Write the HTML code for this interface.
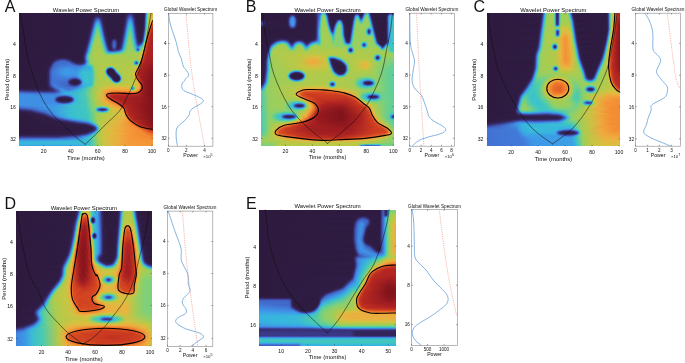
<!DOCTYPE html>
<html><head><meta charset="utf-8"><title>Wavelet Power Spectrum</title>
<style>
html,body{margin:0;padding:0;background:#fff;overflow:hidden}
#w{position:relative;width:685px;height:363px;overflow:hidden}
svg{display:block;position:absolute;left:0;top:0}
.h{position:absolute}
.h i{display:block;height:1px}
text{font-family:'Liberation Sans', Arial, Helvetica, sans-serif;fill:#111}
</style></head><body>
<div id="w"><div class="h" style="left:19px;top:13px;width:134px"><i style="background:linear-gradient(90deg,#2e1a3e 0,#2f1c43 106.5px,#383177 111.5px,#2f1c42 116.5px,#2f1c43 124.5px,#332457 125.5px,#3d489f 126.5px,#3ba4e5 127.5px,#6bcf8d 128.5px,#a7cc51 129.5px,#d4c141 131.5px,#e1b940 134px)"></i><i style="background:linear-gradient(90deg,#2e1a3e 0,#2f1d45 76.5px,#2f1d46 106.5px,#3b3987 110.5px,#3a3683 112.5px,#311f4c 115.5px,#2e1a3e 121.5px,#2f1c44 124.5px,#332458 125.5px,#3e4ba4 126.5px,#39a8e3 127.5px,#6ed08a 128.5px,#a8cc50 129.5px,#d3c141 131.5px,#debb40 134px)"></i><i style="background:linear-gradient(90deg,#2e1a3e 0,#2f1c42 74.5px,#322356 79.5px,#2e1a3e 86.5px,#2f1c42 105.5px,#332459 107.5px,#3d479e 110.5px,#3e4aa3 111.5px,#3a3480 113.5px,#312151 115.5px,#2e1a3e 119.5px,#2f1c44 124.5px,#33255b 125.5px,#3f4fab 126.5px,#38ade2 127.5px,#72d086 128.5px,#a9cc50 129.5px,#d2c241 131.5px,#dbbe40 134px)"></i><i style="background:linear-gradient(90deg,#2e1a3e 0,#2f1d46 74.5px,#362c6d 78.5px,#2e1b40 84.5px,#2f1c44 105.5px,#342861 107.5px,#4057b7 110.5px,#405aba 111.5px,#3c3e90 113.5px,#322356 115.5px,#2e1a3f 118.5px,#2f1d44 124.5px,#34265d 125.5px,#3f54b2 126.5px,#36b2e0 127.5px,#76d082 128.5px,#aacc4f 129.5px,#d1c241 131.5px,#d9bf40 134px)"></i><i style="background:linear-gradient(90deg,#2e1a3e 0,#2f1c43 73.5px,#372d6e 76.5px,#3b3a8a 78.5px,#393179 80.5px,#301e47 83.5px,#2e1b40 104.5px,#322252 106.5px,#4055b4 109.5px,#416aca 111.5px,#405fbf 112.5px,#33265c 115.5px,#2f1c42 117.5px,#2f1d45 124.5px,#342760 125.5px,#4059b9 126.5px,#37b6dd 127.5px,#79d07f 128.5px,#abcb4e 129.5px,#d2c241 131.5px,#d9bf40 134px)"></i><i style="background:linear-gradient(90deg,#2e1a3e 0,#301d46 73.5px,#362b68 75.5px,#3d479d 77.5px,#3f4fab 78.5px,#3c4093 80.5px,#311f4c 83.5px,#2e1a3e 89.5px,#301e47 105.5px,#383075 107.5px,#4162c2 109.5px,#4279d8 111.5px,#3f53b1 113.5px,#352862 115.5px,#2f1c43 117.5px,#2f1d46 124.5px,#352862 125.5px,#405dbd 126.5px,#38b9d9 127.5px,#7dd07b 128.5px,#accb4e 129.5px,#d3c141 131.5px,#dbbd40 134px)"></i><i style="background:linear-gradient(90deg,#2e1a3e 0,#2f1c42 72.5px,#33265c 74.5px,#405bbb 77.5px,#4162c2 79.5px,#3b3c8c 81.5px,#322252 83.5px,#2e1a3e 87.5px,#2f1b42 104.5px,#34265c 106.5px,#3f51ad 108.5px,#416ece 109.5px,#4184de 110.5px,#4088e0 111.5px,#4279d8 112.5px,#405ebe 113.5px,#362b69 115.5px,#2f1c44 117.5px,#301d46 124.5px,#352965 125.5px,#4161c1 126.5px,#39bcd4 127.5px,#80d078 128.5px,#aecb4d 129.5px,#d7c040 131.5px,#e2b840 134px)"></i><i style="background:linear-gradient(90deg,#2e1a3e 0,#2f1c44 72.5px,#352a66 74.5px,#4057b6 76.5px,#427bda 78.5px,#4277d7 79.5px,#4164c4 80.5px,#383177 82.5px,#301e48 84.5px,#2e1a3e 100.5px,#31204c 105.5px,#352862 106.5px,#405aba 108.5px,#427ad9 109.5px,#3f92e5 110.5px,#3e96e7 111.5px,#4167c7 113.5px,#372e70 115.5px,#2f1d45 117.5px,#2e1b40 123.5px,#301e47 124.5px,#362b68 125.5px,#4165c5 126.5px,#3abfd0 127.5px,#84d074 128.5px,#afcb4c 129.5px,#e6b540 132.5px,#edac3f 134px)"></i><i style="background:linear-gradient(90deg,#2e1a3e 0,#2f1d46 72.5px,#372e72 74.5px,#4166c6 76.5px,#3f91e5 78.5px,#408ce2 79.5px,#4275d5 80.5px,#3b3785 82.5px,#342760 83.5px,#2f1c42 85.5px,#2f1c44 104.5px,#362b69 106.5px,#4164c4 108.5px,#4087df 109.5px,#3c9fe6 110.5px,#3ba3e5 111.5px,#3f92e5 112.5px,#4270d0 113.5px,#383077 115.5px,#322356 116.5px,#2e1a3f 119.5px,#301e48 124.5px,#362c6b 125.5px,#416aca 126.5px,#3bc2cc 127.5px,#88d070 128.5px,#b2ca4a 129.5px,#e3b740 131.5px,#f49537 134px)"></i><i style="background:linear-gradient(90deg,#2e1a3e 0,#2f1b41 71.5px,#33255b 73.5px,#3a347f 74.5px,#4276d6 76.5px,#3e96e7 77.5px,#3aa4e4 78.5px,#3c9fe6 79.5px,#4085df 80.5px,#4162c2 81.5px,#362a68 83.5px,#2f1c44 85.5px,#2f1d45 104.5px,#322253 105.5px,#372e70 106.5px,#416dcd 108.5px,#3f93e5 109.5px,#39abe3 110.5px,#38aee2 111.5px,#3d9de7 112.5px,#4279d9 113.5px,#3a337e 115.5px,#33255a 116.5px,#2f1b41 118.5px,#301e49 124.5px,#372d6f 125.5px,#416ece 126.5px,#3dc4c7 127.5px,#8cd06c 128.5px,#b4ca49 129.5px,#ecb040 131.5px,#ee762b 134px)"></i><i style="background:linear-gradient(90deg,#2e1a3e 0,#2f1c43 71.5px,#352863 73.5px,#3b3b8b 74.5px,#405fbf 75.5px,#4086df 76.5px,#3aa6e4 77.5px,#36b5df 78.5px,#37afe1 79.5px,#3e95e7 80.5px,#416ece 81.5px,#372e71 83.5px,#322253 84.5px,#2e1a3f 87.5px,#301d47 104.5px,#322457 105.5px,#393178 106.5px,#4277d7 108.5px,#3c9ee6 109.5px,#36b5de 110.5px,#37b7db 111.5px,#3aa6e4 112.5px,#4182dd 113.5px,#405aba 114.5px,#3a3785 115.5px,#34265d 116.5px,#2f1b42 118.5px,#2f1b41 123.5px,#301f4a 124.5px,#372f72 125.5px,#4272d2 126.5px,#40c6c1 127.5px,#90d068 128.5px,#b8c947 129.5px,#dcbd40 130.5px,#f0a53c 131.5px,#f1812f 132.5px,#e05924 134px)"></i><i style="background:linear-gradient(90deg,#2e1a3e 0,#2f1c44 71.5px,#362c6c 73.5px,#416bcb 75.5px,#3e95e7 76.5px,#36b5de 77.5px,#3abed1 78.5px,#38bad7 79.5px,#3ba3e5 80.5px,#427ad9 81.5px,#39327b 83.5px,#332458 84.5px,#2f1b41 86.5px,#2f1b41 103.5px,#33255b 105.5px,#3a3581 106.5px,#4057b7 107.5px,#4181dc 108.5px,#39a8e3 109.5px,#39bcd5 110.5px,#39bdd2 111.5px,#37b0e1 112.5px,#408be2 113.5px,#4160c0 114.5px,#3b3b8b 115.5px,#342862 116.5px,#2f1c42 118.5px,#2f1b41 123.5px,#301f4b 124.5px,#383076 125.5px,#4277d7 126.5px,#44c7bb 127.5px,#94cf64 128.5px,#bcc844 129.5px,#e2b840 130.5px,#f49938 131.5px,#d44622 134px)"></i><i style="background:linear-gradient(90deg,#2e1a3e 0,#301d46 71.5px,#322356 72.5px,#383076 73.5px,#4277d7 75.5px,#3ba3e5 76.5px,#3abed2 77.5px,#3fc5c3 78.5px,#37b0e1 80.5px,#4086df 81.5px,#405bbb 82.5px,#3b3785 83.5px,#34275e 84.5px,#2f1b42 86.5px,#2f1c42 103.5px,#342760 105.5px,#3b3a89 106.5px,#405fbf 107.5px,#408ae1 108.5px,#37b2e1 109.5px,#3bc1cc 110.5px,#3cc3ca 111.5px,#37b7dc 112.5px,#3f94e6 113.5px,#4167c7 114.5px,#3c4093 115.5px,#352a66 116.5px,#2f1c43 118.5px,#2f1b42 123.5px,#31204c 124.5px,#393179 125.5px,#427cda 126.5px,#48c9b5 127.5px,#98cf60 128.5px,#c2c643 129.5px,#e9b240 130.5px,#f28c33 131.5px,#cb3920 134px)"></i><i style="background:linear-gradient(90deg,#2e1a3e 0,#2f1b41 70.5px,#33265c 72.5px,#3a3582 73.5px,#4059b8 74.5px,#4184de 75.5px,#37b0e1 76.5px,#3ec5c5 77.5px,#49c9b3 78.5px,#43c7bd 79.5px,#38b9d9 80.5px,#3f93e5 81.5px,#4165c5 82.5px,#3c3e90 83.5px,#352964 84.5px,#2f1c43 86.5px,#2f1c43 103.5px,#352a66 105.5px,#3c3f92 106.5px,#4166c6 107.5px,#3e94e6 108.5px,#38b8d9 109.5px,#40c5c2 110.5px,#41c6c0 111.5px,#39bcd4 112.5px,#3d9ce7 113.5px,#416ece 114.5px,#362c6c 116.5px,#2f1c44 118.5px,#2f1c42 123.5px,#31204e 124.5px,#3a337e 125.5px,#4181dc 126.5px,#4dcbad 127.5px,#9dce5b 128.5px,#cac442 129.5px,#eeaa3e 130.5px,#f17e2e 131.5px,#da4f23 132.5px,#c33321 134px)"></i><i style="background:linear-gradient(90deg,#2e1a3e 0,#2f1c43 70.5px,#352963 72.5px,#3b3d8e 73.5px,#4163c3 74.5px,#3f91e5 75.5px,#38b9d8 76.5px,#47c8b7 77.5px,#53cca5 78.5px,#4ccaaf 79.5px,#3abfcf 80.5px,#3c9ee6 81.5px,#416ece 82.5px,#362c6c 84.5px,#2f1c44 86.5px,#2f1c44 103.5px,#362c6c 105.5px,#416ece 107.5px,#3c9de6 108.5px,#3abed1 109.5px,#46c8b8 110.5px,#47c9b6 111.5px,#3bc0cd 112.5px,#3ba3e5 113.5px,#4275d5 114.5px,#372e71 116.5px,#322253 117.5px,#2e1a3e 120.5px,#2f1c42 123.5px,#31214f 124.5px,#3a3683 125.5px,#4087df 126.5px,#52cca6 127.5px,#a3cd55 128.5px,#d3c141 129.5px,#f1a03b 130.5px,#eb6f29 131.5px,#d24321 132.5px,#bd2d21 134px)"></i><i style="background:linear-gradient(90deg,#2e1a3e 0,#2f1c44 70.5px,#362c6c 72.5px,#416ece 74.5px,#3c9ee6 75.5px,#3bc0ce 76.5px,#4fcca9 77.5px,#5fce99 78.5px,#55cda3 79.5px,#3ec5c5 80.5px,#39a9e3 81.5px,#4279d8 82.5px,#383075 84.5px,#322355 85.5px,#2e1a3f 88.5px,#2f1d45 103.5px,#322354 104.5px,#382f73 105.5px,#4277d7 107.5px,#3aa6e4 108.5px,#3cc3ca 109.5px,#4ccbae 110.5px,#4dcbac 111.5px,#3dc4c6 112.5px,#39abe3 113.5px,#427cda 114.5px,#383177 116.5px,#322356 117.5px,#2e1a3f 120.5px,#2f1c43 123.5px,#322252 124.5px,#3b3988 125.5px,#3f8de3 126.5px,#5bcd9d 127.5px,#aacc4f 128.5px,#dcbd40 129.5px,#f39436 130.5px,#cb3920 132.5px,#b82922 134px)"></i><i style="background:linear-gradient(90deg,#2e1a3e 0,#301d46 70.5px,#322356 71.5px,#383076 72.5px,#427ad9 74.5px,#39aae3 75.5px,#40c6c2 76.5px,#5bcd9d 77.5px,#6acf8e 78.5px,#60ce98 79.5px,#36b3e0 81.5px,#4183de 82.5px,#3a347f 84.5px,#33255a 85.5px,#2f1b41 87.5px,#301e47 103.5px,#332458 104.5px,#39327b 105.5px,#417fdc 107.5px,#38afe2 108.5px,#41c6c0 109.5px,#53cca5 110.5px,#54cda4 111.5px,#37b2e1 113.5px,#4183dd 114.5px,#3a337e 116.5px,#332559 117.5px,#2f1b41 119.5px,#2f1c44 123.5px,#322355 124.5px,#3c3f91 125.5px,#3e96e7 126.5px,#65cf93 127.5px,#b1ca4b 128.5px,#e5b540 129.5px,#f18530 130.5px,#dc5223 131.5px,#c43321 132.5px,#b42622 134px)"></i><i style="background:linear-gradient(90deg,#2e1a3e 0,#2f1b41 69.5px,#33265c 71.5px,#3a3582 72.5px,#4059b9 73.5px,#4086df 74.5px,#36b5de 75.5px,#66cf92 77.5px,#74d084 78.5px,#6bcf8d 79.5px,#38bad8 81.5px,#3f8ee3 82.5px,#405fbf 83.5px,#3b3a89 84.5px,#342760 85.5px,#2f1c42 87.5px,#2f1b41 102.5px,#33265c 104.5px,#3a3683 105.5px,#405bbb 106.5px,#4088e0 107.5px,#37b6dd 108.5px,#5ccd9c 110.5px,#5cce9c 111.5px,#37b7dc 113.5px,#408ae1 114.5px,#405bbb 115.5px,#3a3684 116.5px,#34265c 117.5px,#2f1b41 119.5px,#2f1d45 123.5px,#332559 124.5px,#3d479d 125.5px,#3ba1e5 126.5px,#72d086 127.5px,#b9c946 128.5px,#edac3f 129.5px,#ee762b 130.5px,#d44622 131.5px,#b12522 134px)"></i><i style="background:linear-gradient(90deg,#2e1a3e 0,#2f1c43 69.5px,#352963 71.5px,#3b3d8e 72.5px,#4163c3 73.5px,#3f93e6 74.5px,#39bcd4 75.5px,#70d088 77.5px,#7dd07b 78.5px,#74d084 79.5px,#3ac0cf 81.5px,#3e9ae8 82.5px,#4169c9 83.5px,#3c4194 84.5px,#352a67 85.5px,#2f1c43 87.5px,#2f1c42 102.5px,#342861 104.5px,#3b3b8b 105.5px,#4162c2 106.5px,#3f91e5 107.5px,#39bbd6 108.5px,#64ce94 110.5px,#64cf94 111.5px,#39bbd6 113.5px,#3f91e4 114.5px,#4161c1 115.5px,#3b3b8a 116.5px,#342760 117.5px,#2f1c42 119.5px,#301d46 123.5px,#34275f 124.5px,#3f51ad 125.5px,#37afe1 126.5px,#81d077 127.5px,#c6c543 128.5px,#f29f3a 129.5px,#cc3b20 131.5px,#ae2422 134px)"></i><i style="background:linear-gradient(90deg,#2e1a3e 0,#2f1c44 69.5px,#362c6c 71.5px,#416fcf 73.5px,#3ca0e6 74.5px,#3cc3ca 75.5px,#7ad07e 77.5px,#85d073 78.5px,#7cd07c 79.5px,#60ce98 80.5px,#3ec5c5 81.5px,#3aa4e4 82.5px,#4273d3 83.5px,#372d6f 85.5px,#322252 86.5px,#2e1a3e 89.5px,#2f1c43 102.5px,#352a67 104.5px,#3c4194 105.5px,#4169c9 106.5px,#3d9ae7 107.5px,#3ac0cf 108.5px,#53cca5 109.5px,#6bcf8d 110.5px,#6bcf8d 111.5px,#52cca7 112.5px,#3abed0 113.5px,#3e98e8 114.5px,#4167c7 115.5px,#3c3f91 116.5px,#352965 117.5px,#2f1c43 119.5px,#301e48 123.5px,#352a67 124.5px,#405dbd 125.5px,#38bad7 126.5px,#92d066 127.5px,#d6c140 128.5px,#f39035 129.5px,#de5624 130.5px,#c53421 131.5px,#ac2321 134px)"></i><i style="background:linear-gradient(90deg,#2e1a3e 0,#301d46 69.5px,#322356 70.5px,#383077 71.5px,#427bd9 73.5px,#38ace2 74.5px,#43c7bc 75.5px,#82d076 77.5px,#8cd06c 78.5px,#84d074 79.5px,#6acf8e 80.5px,#46c8b8 81.5px,#37b0e1 82.5px,#417edb 83.5px,#393179 85.5px,#322456 86.5px,#2e1a3f 89.5px,#2f1c44 102.5px,#312151 103.5px,#372d6e 104.5px,#4271d1 106.5px,#3ba2e5 107.5px,#3cc4c8 108.5px,#5bcd9d 109.5px,#72d086 110.5px,#71d087 111.5px,#58cda0 112.5px,#3bc2cb 113.5px,#3c9fe6 114.5px,#416dcd 115.5px,#3d4498 116.5px,#362b6a 117.5px,#2f1c44 119.5px,#2f1b41 122.5px,#301f4b 123.5px,#372d6f 124.5px,#4169c9 125.5px,#3cc4c8 126.5px,#a0cd58 127.5px,#e3b840 128.5px,#f1802e 129.5px,#d64922 130.5px,#b12522 132.5px,#ab2221 134px)"></i><i style="background:linear-gradient(90deg,#2e1a3e 0,#2f1b41 68.5px,#33265c 70.5px,#3a3682 71.5px,#405aba 72.5px,#4088e0 73.5px,#37b7dc 74.5px,#4ccaaf 75.5px,#8ad06e 77.5px,#8bd06d 79.5px,#74d084 80.5px,#4ecbac 81.5px,#38b8da 82.5px,#408ae1 83.5px,#405bbb 84.5px,#3a3683 85.5px,#33265c 86.5px,#2f1b41 88.5px,#2f1d46 102.5px,#322354 103.5px,#383075 104.5px,#4279d9 106.5px,#39abe3 107.5px,#42c6bf 108.5px,#62ce96 109.5px,#78d080 110.5px,#77d081 111.5px,#5ece9a 112.5px,#3ec5c4 113.5px,#3aa5e4 114.5px,#4274d4 115.5px,#372d6f 117.5px,#322252 118.5px,#2e1a3f 121.5px,#31204e 123.5px,#393179 124.5px,#4276d6 125.5px,#48c9b4 126.5px,#aecb4c 127.5px,#edad3f 128.5px,#eb6e29 129.5px,#ce3e20 130.5px,#af2422 132.5px,#aa2221 134px)"></i><i style="background:linear-gradient(90deg,#2e1a3e 0,#2f1c43 68.5px,#352963 70.5px,#3c3d8e 71.5px,#4164c4 72.5px,#3e96e7 73.5px,#3abed1 74.5px,#7cd07c 76.5px,#97cf61 78.5px,#7dd07b 80.5px,#3abfcf 82.5px,#3e96e7 83.5px,#4164c4 84.5px,#3b3d8e 85.5px,#352862 86.5px,#2f1c42 88.5px,#2f1b41 101.5px,#332459 103.5px,#39337d 104.5px,#4182dd 106.5px,#36b3e0 107.5px,#47c9b6 108.5px,#69cf8f 109.5px,#7dd07b 110.5px,#7cd07c 111.5px,#65cf93 112.5px,#43c7bd 113.5px,#38ace2 114.5px,#427ad9 115.5px,#383076 117.5px,#322355 118.5px,#2e1b40 121.5px,#312251 123.5px,#3a3784 124.5px,#4085de 125.5px,#59cd9f 126.5px,#bac845 127.5px,#f29f3a 128.5px,#e35e25 129.5px,#c73620 130.5px,#ad2321 132.5px,#aa2221 134px)"></i><i style="background:linear-gradient(90deg,#2e1a3e 0,#2f1c44 68.5px,#362c6c 70.5px,#3d469c 71.5px,#4270d0 72.5px,#3ba3e5 73.5px,#3ec5c5 74.5px,#86d072 76.5px,#9bce5d 78.5px,#86d072 80.5px,#3ec5c4 82.5px,#3ba2e5 83.5px,#416fcf 84.5px,#3d449a 85.5px,#362b6a 86.5px,#2f1c44 88.5px,#2f1b42 101.5px,#34265d 103.5px,#3b3785 104.5px,#405cbc 105.5px,#408be2 106.5px,#38b8da 107.5px,#70d088 109.5px,#82d076 110.5px,#81d077 111.5px,#6acf8e 112.5px,#48c9b6 113.5px,#36b3e0 114.5px,#4182dd 115.5px,#39337d 117.5px,#332458 118.5px,#2f1b41 120.5px,#2f1c44 122.5px,#322355 123.5px,#3c3e90 124.5px,#3e94e6 125.5px,#6ed08a 126.5px,#cbc442 127.5px,#f39035 128.5px,#db5123 129.5px,#c13121 130.5px,#a92121 134px)"></i><i style="background:linear-gradient(90deg,#2e1a3e 0,#301d46 68.5px,#322356 69.5px,#383077 70.5px,#417dda 72.5px,#37b0e1 73.5px,#47c8b6 74.5px,#8ed06a 76.5px,#9ece5a 78.5px,#8fd069 80.5px,#47c8b7 82.5px,#38aee2 83.5px,#427ad9 84.5px,#382f73 86.5px,#322253 87.5px,#2e1a3f 90.5px,#2f1c42 101.5px,#352963 103.5px,#3c3d8e 104.5px,#4164c4 105.5px,#3e95e6 106.5px,#39bdd2 107.5px,#76d082 109.5px,#87d071 110.5px,#85d073 111.5px,#70d088 112.5px,#37b8da 114.5px,#408ae1 115.5px,#405bbb 116.5px,#3a3784 117.5px,#34265d 118.5px,#2f1b42 120.5px,#2f1d46 122.5px,#33255b 123.5px,#3d479d 124.5px,#3ba4e5 125.5px,#84d074 126.5px,#dbbd40 127.5px,#f1802e 128.5px,#d44622 129.5px,#bc2d21 130.5px,#a92121 134px)"></i><i style="background:linear-gradient(90deg,#2e1a3e 0,#2f1b41 67.5px,#33265c 69.5px,#3a3683 70.5px,#405bbb 71.5px,#408ae1 72.5px,#38b9d9 73.5px,#50cca8 74.5px,#7bd07d 75.5px,#9fce59 77.5px,#95cf63 80.5px,#7ad07e 81.5px,#4fcca9 82.5px,#37b7db 83.5px,#4086df 84.5px,#3a337d 86.5px,#332459 87.5px,#2f1b41 89.5px,#301e48 93.5px,#322252 95.5px,#2e1b40 100.5px,#31214f 102.5px,#362b6a 103.5px,#3d4498 104.5px,#416ccc 105.5px,#3c9ee6 106.5px,#3bc2cb 107.5px,#7cd07c 109.5px,#8bd06d 110.5px,#89d06f 111.5px,#76d082 112.5px,#39bcd4 114.5px,#3f93e5 115.5px,#4162c2 116.5px,#3b3c8c 117.5px,#352862 118.5px,#2f1c43 120.5px,#301e48 122.5px,#342861 123.5px,#3f51ad 124.5px,#36b4e0 125.5px,#98cf60 126.5px,#e8b340 127.5px,#eb702a 128.5px,#cd3c20 129.5px,#ae2322 131.5px,#a92121 134px)"></i><i style="background:linear-gradient(90deg,#2e1a3e 0,#2f1c43 67.5px,#352964 69.5px,#3c3e8f 70.5px,#4165c5 71.5px,#3e98e8 72.5px,#3bc0cd 73.5px,#84d074 75.5px,#a2cd56 77.5px,#99ce5f 80.5px,#84d074 81.5px,#3abed0 83.5px,#3f93e5 84.5px,#4160c0 85.5px,#3b3988 86.5px,#34275f 87.5px,#2f1b42 89.5px,#301e47 92.5px,#372d6e 94.5px,#382f74 95.5px,#2f1c42 98.5px,#2f1d45 101.5px,#322253 102.5px,#372e72 103.5px,#4276d6 105.5px,#3aa7e4 106.5px,#40c6c2 107.5px,#81d077 109.5px,#8dd06b 111.5px,#7cd07c 112.5px,#3bc1cc 114.5px,#3d9ce7 115.5px,#416aca 116.5px,#3c4296 117.5px,#362b68 118.5px,#2f1c44 120.5px,#301f4b 122.5px,#362c6b 123.5px,#405fbf 124.5px,#3abfcf 125.5px,#a9cc4f 126.5px,#efa73d 127.5px,#e46126 128.5px,#c73620 129.5px,#ac2321 131.5px,#a92121 134px)"></i><i style="background:linear-gradient(90deg,#2e1a3e 0,#2f1c44 67.5px,#372c6d 69.5px,#3d479d 70.5px,#4271d1 71.5px,#3aa5e4 72.5px,#41c6c1 73.5px,#8dd06b 75.5px,#a7cc51 78.5px,#9ece5a 80.5px,#8cd06c 81.5px,#3ec5c5 83.5px,#3c9fe6 84.5px,#416bcb 85.5px,#3c4194 86.5px,#352a67 87.5px,#2f1c43 89.5px,#2f1c43 91.5px,#322251 92.5px,#3c4093 94.5px,#3d459a 95.5px,#301d47 98.5px,#301e47 101.5px,#332457 102.5px,#39327b 103.5px,#417fdc 105.5px,#37b0e1 106.5px,#46c8b8 107.5px,#86d072 109.5px,#91d067 111.5px,#61ce97 113.5px,#3ec5c4 114.5px,#3aa5e4 115.5px,#4273d3 116.5px,#372e70 118.5px,#322252 119.5px,#2f1d46 121.5px,#322252 122.5px,#39337d 123.5px,#4271d1 124.5px,#46c8b8 125.5px,#b8c946 126.5px,#f49938 127.5px,#dd5323 128.5px,#c13121 129.5px,#a92121 132.5px,#a92121 134px)"></i><i style="background:linear-gradient(90deg,#2e1a3e 0,#2e1b41 66.5px,#322456 68.5px,#393178 69.5px,#417edb 71.5px,#37b2e1 72.5px,#4ac9b2 73.5px,#75d083 74.5px,#93cf65 75.5px,#a9cc4f 78.5px,#93cf65 81.5px,#72d086 82.5px,#46c8b7 83.5px,#38ace2 84.5px,#4277d7 85.5px,#372e70 87.5px,#322252 88.5px,#2f1b41 90.5px,#2f1d46 91.5px,#34265d 92.5px,#3f51ae 94.5px,#4057b7 95.5px,#3d459b 96.5px,#31204c 98.5px,#2f1b42 100.5px,#34265d 102.5px,#3a3784 103.5px,#405bbb 104.5px,#4089e1 105.5px,#37b7db 106.5px,#4ccaae 107.5px,#8bd06d 109.5px,#93cf65 111.5px,#69cf8f 113.5px,#45c7ba 114.5px,#38aee2 115.5px,#417dda 116.5px,#393179 118.5px,#332458 119.5px,#31204d 121.5px,#342862 122.5px,#3c4296 123.5px,#408ae1 124.5px,#5ece9a 125.5px,#ccc442 126.5px,#f28831 127.5px,#d54822 128.5px,#bc2d21 129.5px,#a92121 132.5px,#a92121 134px)"></i><i style="background:linear-gradient(90deg,#2e1a3e 0,#2f1b42 66.5px,#34265d 68.5px,#3a3784 69.5px,#405cbc 70.5px,#408ce2 71.5px,#38bad7 72.5px,#53cca5 73.5px,#7fd079 74.5px,#a4cd54 76.5px,#a4cd54 80.5px,#7dd07b 82.5px,#4fcca9 83.5px,#37b7dc 84.5px,#4084de 85.5px,#39337d 87.5px,#332458 88.5px,#2f1c42 90.5px,#301e49 91.5px,#352a66 92.5px,#405bbb 94.5px,#4161c1 95.5px,#3e4faa 96.5px,#312251 98.5px,#2f1c43 100.5px,#352963 102.5px,#3b3d8e 103.5px,#4164c4 104.5px,#3f94e6 105.5px,#39bdd3 106.5px,#78d080 108.5px,#96cf62 110.5px,#8ad06e 112.5px,#4bcab1 114.5px,#37b6dd 115.5px,#4087e0 116.5px,#405aba 117.5px,#3a3683 118.5px,#342760 119.5px,#322354 120.5px,#34275e 121.5px,#3a347f 122.5px,#405dbd 123.5px,#39a9e3 124.5px,#80d078 125.5px,#debb40 126.5px,#ef772b 127.5px,#ce3e20 128.5px,#ae2322 130.5px,#a92121 134px)"></i><i style="background:linear-gradient(90deg,#2e1a3e 0,#2f1c43 66.5px,#352a65 68.5px,#3c3f92 69.5px,#4168c8 70.5px,#3d9ae7 71.5px,#3bc2cb 72.5px,#88d070 74.5px,#a6cc52 76.5px,#a7cc51 80.5px,#87d071 82.5px,#3abfd0 84.5px,#3f93e6 85.5px,#4161c1 86.5px,#3b3a8a 87.5px,#342860 88.5px,#2f1c44 90.5px,#301f4c 91.5px,#362c6c 92.5px,#405fbf 94.5px,#4164c4 95.5px,#3f54b1 96.5px,#322355 98.5px,#2f1c44 99.5px,#31214f 101.5px,#362b6a 102.5px,#3d4498 103.5px,#416dcd 104.5px,#3c9ee6 105.5px,#3bc2cb 106.5px,#7ed07a 108.5px,#98cf60 110.5px,#8ed06a 112.5px,#51cca7 114.5px,#39bcd5 115.5px,#3f92e5 116.5px,#4163c3 117.5px,#3c3e90 118.5px,#372d6e 119.5px,#362b68 120.5px,#3a337e 121.5px,#3e4faa 122.5px,#417fdb 123.5px,#3bc3ca 124.5px,#9ece5a 125.5px,#ecaf40 126.5px,#e76627 127.5px,#c83620 128.5px,#ac2321 130.5px,#a92121 134px)"></i><i style="background:linear-gradient(90deg,#2e1a3e 0,#2f1d45 66.5px,#322252 67.5px,#372e70 68.5px,#4274d4 70.5px,#3aa7e4 71.5px,#43c7bd 72.5px,#90d068 74.5px,#accb4e 77.5px,#a1cd57 81.5px,#8fd069 82.5px,#40c5c2 84.5px,#3ba2e5 85.5px,#416ece 86.5px,#3d4499 87.5px,#362b6a 88.5px,#312150 89.5px,#2f1d46 90.5px,#31204d 91.5px,#372d6e 92.5px,#3d489f 93.5px,#4161c1 94.5px,#4166c6 95.5px,#4055b4 96.5px,#322456 98.5px,#2f1d45 99.5px,#322253 101.5px,#382f72 102.5px,#4276d6 104.5px,#3aa7e4 105.5px,#40c6c1 106.5px,#83d075 108.5px,#99ce5f 110.5px,#91d067 112.5px,#5acd9e 114.5px,#3bc1cc 115.5px,#3d9de7 116.5px,#416ece 117.5px,#3e4ba4 118.5px,#3b3988 119.5px,#3b3c8c 120.5px,#4273d3 122.5px,#39a8e3 123.5px,#59cd9f 124.5px,#b4ca49 125.5px,#f29f3a 126.5px,#df5724 127.5px,#c23121 128.5px,#a92121 131.5px,#a92121 134px)"></i><i style="background:linear-gradient(90deg,#2e1a3e 0,#2f1b41 65.5px,#332458 67.5px,#39327c 68.5px,#4182dd 70.5px,#36b5df 71.5px,#4ccaaf 72.5px,#77d081 73.5px,#95cf63 74.5px,#adcb4d 77.5px,#a4cd54 81.5px,#96cf62 82.5px,#76d082 83.5px,#4ac9b2 84.5px,#37b1e1 85.5px,#417dda 86.5px,#383077 88.5px,#322356 89.5px,#301e48 90.5px,#31204d 91.5px,#372c6d 92.5px,#4060c0 94.5px,#4165c5 95.5px,#3f54b2 96.5px,#322356 98.5px,#2f1d45 99.5px,#332458 101.5px,#39327c 102.5px,#4180dc 104.5px,#37b1e1 105.5px,#47c8b7 106.5px,#88d070 108.5px,#9ace5e 111.5px,#82d076 113.5px,#40c6c1 115.5px,#39aae3 116.5px,#417fdc 117.5px,#4160c0 118.5px,#3f55b3 119.5px,#405ebe 120.5px,#3ca0e6 122.5px,#3dc4c6 123.5px,#82d076 124.5px,#cbc442 125.5px,#f38d34 126.5px,#d74a22 127.5px,#bd2d21 128.5px,#a92121 131.5px,#a92121 134px)"></i><i style="background:linear-gradient(90deg,#2e1a3e 0,#2f1c42 65.5px,#342760 67.5px,#3b3a89 68.5px,#4060c0 69.5px,#3f90e4 70.5px,#39bcd4 71.5px,#81d077 73.5px,#a5cc53 75.5px,#accb4e 80.5px,#9bce5d 82.5px,#81d077 83.5px,#39bbd6 85.5px,#3f8de2 86.5px,#405cbc 87.5px,#3b3785 88.5px,#34265d 89.5px,#301f4b 90.5px,#31204d 91.5px,#362b68 92.5px,#405dbd 94.5px,#4162c2 95.5px,#3f50ac 96.5px,#322253 98.5px,#2f1d46 99.5px,#34275e 101.5px,#3b3785 102.5px,#405cbc 103.5px,#408be1 104.5px,#38b8da 105.5px,#4dcbad 106.5px,#8cd06c 108.5px,#9bce5d 111.5px,#88d070 113.5px,#49c9b3 115.5px,#37b7db 116.5px,#3e95e6 117.5px,#427bd9 118.5px,#4277d7 119.5px,#3aa7e4 121.5px,#3bc2cc 122.5px,#5fce99 123.5px,#a0cd58 124.5px,#debb40 125.5px,#f07c2d 126.5px,#d03f21 127.5px,#ae2322 129.5px,#a92121 134px)"></i><i style="background:linear-gradient(90deg,#2e1a3e 0,#2f1c44 65.5px,#362b69 67.5px,#3c4397 68.5px,#416ccc 69.5px,#3c9ee6 70.5px,#3cc4c8 71.5px,#8ad06e 73.5px,#a7cc51 75.5px,#a9cc50 81.5px,#8bd06d 83.5px,#3cc3c9 85.5px,#3d9de7 86.5px,#416aca 87.5px,#3c4194 88.5px,#362a67 89.5px,#312150 90.5px,#31204c 91.5px,#342861 92.5px,#3f55b3 94.5px,#405aba 95.5px,#3d48a0 96.5px,#312150 98.5px,#301e48 99.5px,#352a67 101.5px,#3c3f91 102.5px,#4166c6 103.5px,#3e96e7 104.5px,#3abed1 105.5px,#79d07f 107.5px,#99cf5f 109.5px,#97cf61 112.5px,#76d082 114.5px,#3ac0ce 116.5px,#3ca1e6 117.5px,#4087df 118.5px,#408be1 119.5px,#39a8e3 120.5px,#3cc3c9 121.5px,#86d072 123.5px,#b3ca49 124.5px,#ecb040 125.5px,#e96a28 126.5px,#c93720 127.5px,#ac2321 129.5px,#a92121 134px)"></i><i style="background:linear-gradient(90deg,#2e1a3e 0,#2f1d46 65.5px,#322354 66.5px,#382f74 67.5px,#4279d8 69.5px,#38abe2 70.5px,#45c8b9 71.5px,#91d067 73.5px,#adcb4d 76.5px,#aacc4f 81.5px,#93cf65 83.5px,#46c8b8 85.5px,#38ace2 86.5px,#4279d8 87.5px,#383075 89.5px,#332457 90.5px,#31204d 91.5px,#332559 92.5px,#3d469c 94.5px,#3e4ba4 95.5px,#322252 98.5px,#33265c 100.5px,#383178 101.5px,#4274d4 103.5px,#3ba4e5 104.5px,#3dc4c6 105.5px,#80d078 107.5px,#9ace5e 109.5px,#92d066 113.5px,#64cf94 115.5px,#3cc4c8 116.5px,#3e96e7 117.5px,#416bcb 118.5px,#4272d2 119.5px,#3aa8e4 120.5px,#4ccaaf 121.5px,#7cd07c 122.5px,#c4c643 124.5px,#f1a03b 125.5px,#e15a24 126.5px,#c23221 127.5px,#a92121 130.5px,#a92121 134px)"></i><i style="background:linear-gradient(90deg,#2e1a3e 0,#2f1b41 64.5px,#33255b 66.5px,#3a3581 67.5px,#4058b8 68.5px,#4087df 69.5px,#37b7dc 70.5px,#4ecbab 71.5px,#7ad07e 72.5px,#a3cd55 74.5px,#afcb4c 80.5px,#99cf5f 83.5px,#7ed07a 84.5px,#51cca7 85.5px,#38b9d9 86.5px,#408ae1 87.5px,#3b3a89 89.5px,#352a67 90.5px,#332458 91.5px,#33255b 92.5px,#3b3785 94.5px,#3b3b8b 95.5px,#352a66 98.5px,#39327c 100.5px,#4162c2 102.5px,#408ae1 103.5px,#36b5de 104.5px,#48c9b5 105.5px,#88d070 107.5px,#9dce5b 110.5px,#8dd06b 114.5px,#75d083 115.5px,#42c7be 116.5px,#4089e1 117.5px,#3e4da6 118.5px,#4056b5 119.5px,#3ca0e6 120.5px,#58cda0 121.5px,#93d065 122.5px,#d6c140 124.5px,#f39035 125.5px,#d84c22 126.5px,#bd2d21 127.5px,#a92121 130.5px,#a92121 134px)"></i><i style="background:linear-gradient(90deg,#2e1a3e 0,#2f1c43 64.5px,#352963 66.5px,#3c3d8e 67.5px,#4164c4 68.5px,#3e96e7 69.5px,#3abfd0 70.5px,#83d075 72.5px,#a5cc53 74.5px,#adcb4d 81.5px,#9ece5a 83.5px,#89d06f 84.5px,#3cc4c9 86.5px,#3ca0e6 87.5px,#4273d3 88.5px,#3b3a8a 90.5px,#383077 92.5px,#3c3f91 96.5px,#3e4ba4 99.5px,#416aca 101.5px,#4086df 102.5px,#39aae3 103.5px,#3dc4c7 104.5px,#7bd07d 106.5px,#99cf5f 108.5px,#96cf62 114.5px,#88d070 115.5px,#57cda1 116.5px,#39a8e3 117.5px,#416ece 118.5px,#4277d7 119.5px,#38b9d9 120.5px,#72d086 121.5px,#a1cd57 122.5px,#b8c946 123.5px,#e3b840 124.5px,#f17e2e 125.5px,#d04121 126.5px,#b82a22 127.5px,#a92121 131.5px,#a92121 134px)"></i><i style="background:linear-gradient(90deg,#2e1a3e 0,#2f1d44 64.5px,#372d6e 66.5px,#3d479e 67.5px,#4272d2 68.5px,#3aa5e4 69.5px,#40c6c1 70.5px,#8cd06c 72.5px,#accb4e 75.5px,#aacc4f 82.5px,#93cf65 84.5px,#4ccaaf 86.5px,#38b8d9 87.5px,#3e95e7 88.5px,#4161c1 90.5px,#405bbb 93.5px,#3f8ee3 100.5px,#37b6de 102.5px,#56cda2 104.5px,#8bd06d 106.5px,#9ece5a 110.5px,#97cf61 115.5px,#81d077 116.5px,#50cca8 117.5px,#3abfd0 118.5px,#3bc2cb 119.5px,#95cf63 121.5px,#c5c543 123.5px,#edad3f 124.5px,#e96c29 125.5px,#c93820 126.5px,#ac2321 128.5px,#a92121 134px)"></i><i style="background:linear-gradient(90deg,#2e1a3e 0,#2e1b41 63.5px,#332457 65.5px,#39327a 66.5px,#4182dd 68.5px,#36b5de 69.5px,#4ccaae 70.5px,#94cf64 72.5px,#adcb4d 75.5px,#abcb4e 82.5px,#9bce5d 84.5px,#66cf92 86.5px,#46c8b8 87.5px,#38bad6 88.5px,#3e99e8 90.5px,#3c9ee6 94.5px,#3bc2cc 100.5px,#65cf93 103.5px,#96cf62 106.5px,#9bce5d 116.5px,#82d076 118.5px,#99ce5f 120.5px,#b7c947 122.5px,#d3c141 123.5px,#f29e3a 124.5px,#e15b25 125.5px,#c23221 126.5px,#ab2221 128.5px,#a82121 134px)"></i><i style="background:linear-gradient(90deg,#2e1a3e 0,#2f1b42 63.5px,#34275f 65.5px,#3b3a89 66.5px,#4162c2 67.5px,#3e96e7 68.5px,#3bc0cd 69.5px,#85d073 71.5px,#a4cd54 73.5px,#afcb4c 81.5px,#95cf63 85.5px,#46c8b8 89.5px,#3fc5c3 92.5px,#6cd08c 100.5px,#99ce5f 105.5px,#abcb4e 120.5px,#bfc744 122.5px,#dfbb40 123.5px,#f38e34 124.5px,#d94d23 125.5px,#bd2d21 126.5px,#a92121 129.5px,#a82121 134px)"></i><i style="background:linear-gradient(90deg,#2e1a3e 0,#2f1c43 63.5px,#362b68 65.5px,#3d4498 66.5px,#4271d1 67.5px,#39a9e3 68.5px,#46c8b8 69.5px,#72d086 70.5px,#91d067 71.5px,#aecb4d 75.5px,#aacc4f 83.5px,#73d085 90.5px,#9fcd59 105.5px,#accb4e 119.5px,#b6c947 121.5px,#e9b340 123.5px,#f07d2d 124.5px,#d14121 125.5px,#b82922 126.5px,#a82121 130.5px,#a82121 134px)"></i><i style="background:linear-gradient(90deg,#2e1a3e 0,#2f1d45 63.5px,#322253 64.5px,#372f72 65.5px,#3e4ea9 66.5px,#4180dc 67.5px,#37b7db 68.5px,#54cca4 69.5px,#81d077 70.5px,#a1cd57 72.5px,#b2ca4a 80.5px,#9bce5d 91.5px,#a6cc52 103.5px,#a7cc51 117.5px,#bbc845 121.5px,#d3c141 122.5px,#efa73d 123.5px,#e96b29 124.5px,#c93820 125.5px,#ab2221 127.5px,#a72121 134px)"></i><i style="background:linear-gradient(90deg,#2e1a3e 0,#2e1b41 62.5px,#332457 64.5px,#39327c 65.5px,#4058b7 66.5px,#3f8ce2 67.5px,#3abfd0 68.5px,#61ce97 69.5px,#89d06f 70.5px,#a8cc50 73.5px,#aecb4c 82.5px,#a9cc50 90.5px,#a9cc50 103.5px,#a4cd54 116.5px,#b4ca49 120.5px,#ddbc40 122.5px,#f39a39 123.5px,#e15a25 124.5px,#c23221 125.5px,#aa2221 127.5px,#a72021 134px)"></i><i style="background:linear-gradient(90deg,#2e1a3e 0,#301e47 40.5px,#2f1c43 48.5px,#2f1b41 62.5px,#33255a 64.5px,#3a3582 65.5px,#405dbd 66.5px,#3f93e6 67.5px,#3bc2cb 68.5px,#65cf93 69.5px,#8bd06d 70.5px,#a8cc50 73.5px,#accb4e 83.5px,#adcb4d 102.5px,#a3cd55 115.5px,#b7c947 120.5px,#e6b440 122.5px,#f28a32 123.5px,#d84c22 124.5px,#bc2d21 125.5px,#a82121 128.5px,#a62021 134px)"></i><i style="background:linear-gradient(90deg,#2e1a3e 0,#2f1c44 36.5px,#362a68 44.5px,#2e1b40 52.5px,#2f1b42 62.5px,#33265b 64.5px,#3a3683 65.5px,#405dbd 66.5px,#3f92e5 67.5px,#3bc1cd 68.5px,#61ce97 69.5px,#88d070 70.5px,#a7cc51 73.5px,#adcb4d 102.5px,#a7cc51 117.5px,#bcc844 120.5px,#eeaa3e 122.5px,#ef782c 123.5px,#d03f21 124.5px,#b72822 125.5px,#a62021 129.5px,#a41f21 134px)"></i><i style="background:linear-gradient(90deg,#2e1a3e 0,#2f1c43 34.5px,#3c4092 42.5px,#3b3c8d 45.5px,#2f1d45 52.5px,#2f1c42 62.5px,#33255a 64.5px,#3a347f 65.5px,#4059b9 66.5px,#408be2 67.5px,#39bcd5 68.5px,#80d078 70.5px,#a1cd57 72.5px,#aecb4d 82.5px,#accb4d 103.5px,#a1cd57 115.5px,#99ce5f 117.5px,#c2c643 120.5px,#debb40 121.5px,#f29d3a 122.5px,#e66527 123.5px,#c73620 124.5px,#aa2221 126.5px,#a31f21 134px)"></i><i style="background:linear-gradient(90deg,#2e1a3e 0,#2f1c44 33.5px,#362c6d 36.5px,#4057b7 41.5px,#4059b8 45.5px,#301f4b 53.5px,#2f1c43 62.5px,#332458 64.5px,#393179 65.5px,#4181dc 67.5px,#36b5de 68.5px,#4dcbad 69.5px,#77d081 70.5px,#9fcd59 72.5px,#afcb4c 81.5px,#a9cc4f 113.5px,#a0cd58 114.5px,#62ce96 116.5px,#54cda4 117.5px,#6dd08b 118.5px,#9dce5b 119.5px,#c3c643 120.5px,#e8b340 121.5px,#f28b33 122.5px,#dc5223 123.5px,#bf2f21 124.5px,#a82121 126.5px,#a11e21 134px)"></i><i style="background:linear-gradient(90deg,#2e1a3e 0,#2f1c44 32.5px,#34275f 34.5px,#4059b9 38.5px,#416ccc 44.5px,#405cbc 48.5px,#322354 54.5px,#2f1c43 60.5px,#301f4c 63.5px,#332559 64.5px,#383178 65.5px,#427bda 67.5px,#37afe1 68.5px,#48c9b5 69.5px,#8fd069 71.5px,#a9cc4f 74.5px,#aecb4c 111.5px,#aacc4f 113.5px,#90d068 114.5px,#4acab2 115.5px,#3ba2e5 116.5px,#4089e1 117.5px,#38aee2 118.5px,#67cf91 119.5px,#bac845 120.5px,#eeaa3e 121.5px,#ee762b 122.5px,#d14121 123.5px,#b82922 124.5px,#a31f21 128.5px,#9e1d20 134px)"></i><i style="background:linear-gradient(90deg,#2e1a3e 0,#2f1c42 31.5px,#34265d 33.5px,#4057b6 36.5px,#416ece 40.5px,#4168c8 49.5px,#3d469c 52.5px,#322457 56.5px,#301f4c 61.5px,#352964 64.5px,#3a3683 65.5px,#4181dc 67.5px,#37b2e1 68.5px,#48c9b6 69.5px,#8cd06c 71.5px,#a9cc50 74.5px,#b0ca4b 112.5px,#a9cc4f 113.5px,#7cd07c 114.5px,#36b5df 115.5px,#405ebe 116.5px,#3c3f91 117.5px,#416ece 118.5px,#41c6c0 119.5px,#b5c948 120.5px,#f29d3a 121.5px,#e46026 122.5px,#c63520 123.5px,#a82121 125.5px,#9c1c20 134px)"></i><i style="background:linear-gradient(90deg,#2e1a3e 0,#2f1b41 30.5px,#332457 32.5px,#4059b9 35.5px,#416fcf 38.5px,#4170d0 50.5px,#3f54b2 53.5px,#362c6b 57.5px,#342760 61.5px,#372d6e 63.5px,#3d49a0 65.5px,#3f91e5 67.5px,#38b8d9 68.5px,#6acf8e 70.5px,#94cf64 72.5px,#aecb4c 76.5px,#abcb4e 113.5px,#81d077 114.5px,#38b8d9 115.5px,#4165c5 116.5px,#3d479e 117.5px,#4277d7 118.5px,#4acab1 119.5px,#c4c643 120.5px,#f28832 121.5px,#d74b22 122.5px,#bc2d21 123.5px,#a31f21 126.5px,#991a20 134px)"></i><i style="background:linear-gradient(90deg,#2e1a3e 0,#2f1c44 30.5px,#362b68 32.5px,#3f55b3 34.5px,#416dcd 36.5px,#4276d6 51.5px,#4057b7 55.5px,#3b3988 59.5px,#3c3d8f 62.5px,#4166c6 65.5px,#3ba4e5 67.5px,#47c8b7 69.5px,#a0cd58 74.5px,#b3ca49 81.5px,#afcb4c 113.5px,#9ace5e 114.5px,#58cda0 115.5px,#36b4e0 116.5px,#3c9fe6 117.5px,#3ac0ce 118.5px,#93d065 119.5px,#e8b340 120.5px,#e96c29 121.5px,#cc3a20 122.5px,#a82121 124.5px,#961920 134px)"></i><i style="background:linear-gradient(90deg,#2e1a3e 0,#2f1b41 29.5px,#33265b 31.5px,#4161c1 34.5px,#4277d7 40.5px,#427bd9 52.5px,#405aba 60.5px,#4275d5 64.5px,#3d9ae7 66.5px,#3cc3ca 69.5px,#60ce98 72.5px,#a3cd55 75.5px,#b4ca49 83.5px,#b2ca4a 94.5px,#accb4d 114.5px,#7ed07a 116.5px,#79d07f 117.5px,#9dce5b 118.5px,#d5c140 119.5px,#f38d34 120.5px,#db5123 121.5px,#c03021 122.5px,#a52021 124.5px,#93181f 134px)"></i><i style="background:linear-gradient(90deg,#2e1a3e 0,#2f1d45 29.5px,#362c6b 31.5px,#4059b9 33.5px,#4272d2 36.5px,#4085df 49.5px,#4278d8 60.5px,#38ade2 67.5px,#3abed1 71.5px,#43c7bc 72.5px,#84d074 74.5px,#a8cc50 76.5px,#b2ca4a 86.5px,#a1cd57 88.5px,#79d07f 90.5px,#71d087 91.5px,#afcb4c 95.5px,#b9c946 117.5px,#d7c040 118.5px,#f1a03b 119.5px,#e96c29 120.5px,#cf3e21 121.5px,#a92121 123.5px,#90181e 134px)"></i><i style="background:linear-gradient(90deg,#2e1a3e 0,#2f1b42 28.5px,#33265c 30.5px,#4162c2 33.5px,#417edb 39.5px,#408ae1 50.5px,#4182dd 58.5px,#39aae3 67.5px,#37b2e1 71.5px,#3abed1 72.5px,#4dcbae 73.5px,#95cf63 75.5px,#afcb4c 78.5px,#abcb4e 86.5px,#93d065 87.5px,#59cd9f 88.5px,#38bbd6 89.5px,#3c9ee6 90.5px,#3e94e6 91.5px,#3ba3e5 92.5px,#3ac0ce 93.5px,#96cf62 95.5px,#accb4e 96.5px,#bec744 116.5px,#ecaf40 118.5px,#f28531 119.5px,#dd5323 120.5px,#c33321 121.5px,#a21e21 124.5px,#8d171e 134px)"></i><i style="background:linear-gradient(90deg,#2e1a3e 0,#2f1c44 28.5px,#362b68 30.5px,#4057b6 32.5px,#4272d2 34.5px,#3f93e5 47.5px,#408ae1 58.5px,#38ade2 66.5px,#38afe2 71.5px,#38bad7 72.5px,#46c8b8 73.5px,#8ed06a 75.5px,#aecb4d 78.5px,#afcb4c 85.5px,#98cf60 86.5px,#4dcbad 87.5px,#3f91e5 88.5px,#3f50ab 89.5px,#39337d 90.5px,#382f73 91.5px,#3a3684 92.5px,#4057b7 93.5px,#3e96e7 94.5px,#4ac9b2 95.5px,#8fd069 96.5px,#aacc4f 97.5px,#bac845 115.5px,#dfba40 117.5px,#f29d3a 118.5px,#ea6d29 119.5px,#d14121 120.5px,#ab2221 122.5px,#8a161d 134px)"></i><i style="background:linear-gradient(90deg,#2e1a3e 0,#301d47 28.5px,#383075 30.5px,#4060c0 32.5px,#4275d5 34.5px,#3e97e7 46.5px,#408ce2 57.5px,#36b5de 66.5px,#36b3e0 71.5px,#38bbd6 72.5px,#43c7bc 73.5px,#88d070 75.5px,#a6cc52 77.5px,#b3ca4a 84.5px,#a8cc50 85.5px,#71d087 86.5px,#3ba2e5 87.5px,#3c4296 88.5px,#322252 89.5px,#2f1b42 91.5px,#322253 93.5px,#3b3c8d 94.5px,#4088e0 95.5px,#4acab2 96.5px,#92d066 97.5px,#aacc4f 98.5px,#bec744 115.5px,#ebb040 117.5px,#f28832 118.5px,#de5524 119.5px,#c53421 120.5px,#a21e21 123.5px,#88151d 134px)"></i><i style="background:linear-gradient(90deg,#2e1a3e 0,#2f1b41 27.5px,#34265d 29.5px,#4166c6 32.5px,#4277d7 35.5px,#3e99e8 45.5px,#3f90e4 57.5px,#37b8da 64.5px,#39bcd4 72.5px,#42c6be 73.5px,#82d076 75.5px,#a4cd54 77.5px,#b2ca4a 84.5px,#a1cd57 85.5px,#4ecbac 86.5px,#4271d1 87.5px,#342760 88.5px,#2f1b41 89.5px,#2e1b40 93.5px,#31214f 94.5px,#3c4295 95.5px,#3d9be7 96.5px,#56cda2 97.5px,#94cf64 98.5px,#abcb4e 99.5px,#bac845 114.5px,#debc40 116.5px,#f1a03b 117.5px,#eb6f29 118.5px,#d14121 119.5px,#ab2221 121.5px,#86151c 134px)"></i><i style="background:linear-gradient(90deg,#2e1a3e 0,#2f1c42 27.5px,#342861 29.5px,#3f53b0 31.5px,#4275d5 33.5px,#3d9be7 45.5px,#3f94e6 57.5px,#39bcd4 64.5px,#39bdd2 72.5px,#41c6bf 73.5px,#95cf63 76.5px,#b1ca4a 80.5px,#b1ca4a 84.5px,#9ece5a 85.5px,#44c7ba 86.5px,#4160c0 87.5px,#322253 88.5px,#2e1a3f 89.5px,#2f1b41 94.5px,#34275e 95.5px,#405cbc 96.5px,#37b1e1 97.5px,#60ce98 98.5px,#97cf61 99.5px,#b2ca4a 101.5px,#bdc844 114.5px,#e9b340 116.5px,#f28c33 117.5px,#df5724 118.5px,#c53421 119.5px,#a21e21 122.5px,#84141c 134px)"></i><i style="background:linear-gradient(90deg,#2e1a3e 0,#2f1c42 27.5px,#352963 29.5px,#4056b4 31.5px,#4275d5 33.5px,#3d9be7 45.5px,#3e96e7 57.5px,#39bdd3 63.5px,#3abed1 72.5px,#41c6c0 73.5px,#93cf65 76.5px,#aecb4c 79.5px,#b2ca4a 84.5px,#a1cd57 85.5px,#4ccaae 86.5px,#416dcd 87.5px,#33255b 88.5px,#2e1b40 89.5px,#2e1a3f 94.5px,#301e49 95.5px,#39327c 96.5px,#416fcf 97.5px,#37b8db 98.5px,#67cf91 99.5px,#9cce5c 100.5px,#b3ca49 102.5px,#b8c946 113.5px,#d8c040 115.5px,#efa73d 116.5px,#ef792c 117.5px,#d44622 118.5px,#bc2c21 119.5px,#a11e21 122.5px,#83141b 134px)"></i><i style="background:linear-gradient(90deg,#2e1a3e 0,#2f1c42 27.5px,#352964 29.5px,#4057b6 31.5px,#4275d5 33.5px,#3d9ae7 46.5px,#3e96e7 57.5px,#3abed0 63.5px,#3abfd0 72.5px,#41c6c1 73.5px,#92d066 76.5px,#aecb4c 79.5px,#b3ca4a 84.5px,#a8cc50 85.5px,#6bcf8d 86.5px,#3e96e7 87.5px,#3a3481 88.5px,#301d46 89.5px,#2f1b41 95.5px,#322253 96.5px,#3b3887 97.5px,#4272d2 98.5px,#38bad7 99.5px,#72d086 100.5px,#a2cd56 101.5px,#b4ca49 103.5px,#b9c946 113.5px,#dcbc40 115.5px,#f29f3a 116.5px,#e96b29 117.5px,#cd3c20 118.5px,#a92121 120.5px,#82141b 134px)"></i><i style="background:linear-gradient(90deg,#2e1a3e 0,#2f1c42 27.5px,#352964 29.5px,#4057b6 31.5px,#4275d5 33.5px,#3e98e8 47.5px,#3f90e4 56.5px,#37b8da 61.5px,#3bc2cb 68.5px,#3abfd0 72.5px,#40c6c1 73.5px,#92d066 76.5px,#aecb4c 79.5px,#aecb4c 85.5px,#91d067 86.5px,#3cc4c8 87.5px,#4168c8 88.5px,#362a68 89.5px,#2f1d45 90.5px,#2f1c42 96.5px,#312151 97.5px,#3a347f 98.5px,#416fcf 99.5px,#3abed1 100.5px,#81d077 101.5px,#aacc4f 102.5px,#b9c946 113.5px,#ddbc40 115.5px,#f29d3a 116.5px,#e86828 117.5px,#cc3a20 118.5px,#a82121 120.5px,#81131b 134px)"></i><i style="background:linear-gradient(90deg,#2e1a3e 0,#2f1c42 27.5px,#352964 29.5px,#4057b6 31.5px,#4275d5 33.5px,#3f93e6 48.5px,#408ce2 56.5px,#37b1e1 60.5px,#3cc3c9 66.5px,#3abfd0 72.5px,#40c6c1 73.5px,#93d065 76.5px,#aecb4c 79.5px,#b2ca4a 85.5px,#a6cc52 86.5px,#72d086 87.5px,#36b3e0 88.5px,#405dbd 89.5px,#362c6b 90.5px,#301f4a 91.5px,#2e1a3e 96.5px,#301f4b 98.5px,#393178 99.5px,#4276d6 100.5px,#45c7ba 101.5px,#96cf62 102.5px,#b0ca4b 103.5px,#b9c946 113.5px,#dbbe40 115.5px,#f1a23b 116.5px,#eb702a 117.5px,#cf3f21 118.5px,#a92121 120.5px,#80131b 134px)"></i><i style="background:linear-gradient(90deg,#2e1a3e 0,#2f1c42 27.5px,#352964 29.5px,#4057b6 31.5px,#4275d5 33.5px,#3f8de2 49.5px,#4181dd 56.5px,#38ade2 60.5px,#3cc3c9 66.5px,#3abfd0 72.5px,#41c6c1 73.5px,#94cf64 76.5px,#aecb4c 79.5px,#afcb4c 86.5px,#9cce5c 87.5px,#5fce99 88.5px,#39abe3 89.5px,#4160c0 90.5px,#383077 91.5px,#31204e 92.5px,#2e1a3e 95.5px,#301f4a 99.5px,#3b3b8a 100.5px,#3c9ee6 101.5px,#72d086 102.5px,#aacc4f 103.5px,#c0c743 114.5px,#eeab3e 116.5px,#f07e2d 117.5px,#d64922 118.5px,#bc2d21 119.5px,#9d1c20 122.5px,#7f131b 134px)"></i><i style="background:linear-gradient(90deg,#2e1a3e 0,#2f1c42 27.5px,#352964 29.5px,#4056b6 31.5px,#4275d5 33.5px,#4085df 49.5px,#4166c6 55.5px,#417edb 58.5px,#37b1e1 61.5px,#3cc3c9 66.5px,#3abed0 72.5px,#41c6c1 73.5px,#95cf63 76.5px,#afcb4c 79.5px,#accb4e 87.5px,#94cf64 88.5px,#57cda1 89.5px,#39abe3 90.5px,#4164c4 91.5px,#383077 92.5px,#301f4a 93.5px,#2e1a3e 97.5px,#2e1b40 99.5px,#33265c 100.5px,#416ece 101.5px,#4fccaa 102.5px,#a3cd55 103.5px,#b4ca49 105.5px,#bdc844 114.5px,#e7b440 116.5px,#f38e34 117.5px,#e05824 118.5px,#c43321 119.5px,#9d1c20 122.5px,#7f131b 134px)"></i><i style="background:linear-gradient(90deg,#2e1a3e 0,#2f1c42 27.5px,#352964 29.5px,#4056b5 31.5px,#4275d5 33.5px,#417fdb 48.5px,#4057b6 52.5px,#3c4296 55.5px,#3e4ba4 57.5px,#4183de 60.5px,#36b3e0 62.5px,#3cc3c9 66.5px,#3abed1 72.5px,#41c6c0 73.5px,#96cf62 76.5px,#b2ca4a 80.5px,#b2ca4a 87.5px,#aacc4f 88.5px,#90d068 89.5px,#53cca5 90.5px,#39a9e3 91.5px,#405bbb 92.5px,#352863 93.5px,#2f1c43 94.5px,#2e1a3f 99.5px,#312150 100.5px,#405dbd 101.5px,#45c8b9 102.5px,#9fcd59 103.5px,#b2ca4a 104.5px,#bbc845 114.5px,#dfba40 116.5px,#f29e3a 117.5px,#ea6d29 118.5px,#cf3e21 119.5px,#a72021 121.5px,#7f131b 134px)"></i><i style="background:linear-gradient(90deg,#2e1a3e 0,#2f1c42 27.5px,#352964 29.5px,#4056b5 31.5px,#4275d5 33.5px,#4274d4 48.5px,#4056b5 50.5px,#372d6f 53.5px,#352862 56.5px,#393179 58.5px,#4058b8 60.5px,#4279d8 61.5px,#3d9de7 62.5px,#37b6dd 63.5px,#3cc3ca 66.5px,#3abed1 72.5px,#41c6c0 73.5px,#97cf61 76.5px,#b2ca4a 80.5px,#b1ca4a 88.5px,#a9cc50 89.5px,#8fd069 90.5px,#51cca7 91.5px,#3d9ce7 92.5px,#3d479d 93.5px,#322252 94.5px,#2e1a3e 96.5px,#2e1b40 99.5px,#33255a 100.5px,#416bcb 101.5px,#4dcbad 102.5px,#a2cd56 103.5px,#b5c948 105.5px,#bac845 114.5px,#d7c040 116.5px,#edac3f 117.5px,#f18330 118.5px,#dc5123 119.5px,#c13121 120.5px,#991a20 123.5px,#7e131a 134px)"></i><i style="background:linear-gradient(90deg,#2e1a3e 0,#2f1c42 27.5px,#352964 29.5px,#4056b5 31.5px,#4275d5 33.5px,#4272d2 47.5px,#3f55b3 49.5px,#362b69 51.5px,#311f4c 53.5px,#31204e 58.5px,#33265b 59.5px,#393179 60.5px,#417ddb 62.5px,#39a8e3 63.5px,#3bc1cd 65.5px,#39bdd2 72.5px,#41c6c0 73.5px,#98cf60 76.5px,#b2ca4a 80.5px,#b2ca4a 89.5px,#aacc4f 90.5px,#90d068 91.5px,#4bcab0 92.5px,#3f8de2 93.5px,#3c3e90 94.5px,#322253 95.5px,#2e1b41 97.5px,#31204e 99.5px,#3b3c8d 100.5px,#3d9be7 101.5px,#6fd089 102.5px,#aacc4f 103.5px,#b5c948 108.5px,#c0c743 115.5px,#e4b640 117.5px,#f39a39 118.5px,#cf3f21 120.5px,#a52021 122.5px,#82141b 130.5px,#7e131a 134px)"></i><i style="background:linear-gradient(90deg,#2e1a3e 0,#2f1c42 27.5px,#352963 29.5px,#4056b5 31.5px,#4276d6 33.5px,#416dcd 47.5px,#405fbf 48.5px,#372d6f 50.5px,#312150 51.5px,#2e1a3f 55.5px,#2f1d45 59.5px,#322355 60.5px,#3a3581 61.5px,#4165c5 62.5px,#3d9be7 63.5px,#38b8da 64.5px,#3bc0ce 68.5px,#39bdd3 72.5px,#41c6c0 73.5px,#82d076 75.5px,#a6cc52 77.5px,#b6c948 87.5px,#accb4e 91.5px,#92d066 92.5px,#4bcab0 93.5px,#3e95e7 94.5px,#3f54b1 95.5px,#39327b 96.5px,#362b68 97.5px,#372e71 98.5px,#3d479e 99.5px,#4089e0 100.5px,#4acab2 101.5px,#99ce5f 102.5px,#b2ca4a 103.5px,#bfc744 115.5px,#dbbd40 117.5px,#eeaa3e 118.5px,#f18530 119.5px,#c43321 121.5px,#95191f 124.5px,#7e131a 134px)"></i><i style="background:linear-gradient(90deg,#2e1a3e 0,#2f1c42 27.5px,#352963 29.5px,#4055b4 31.5px,#4277d7 33.5px,#416aca 47.5px,#405cbc 48.5px,#362b6a 50.5px,#31204e 51.5px,#2e1a3f 56.5px,#2f1c43 59.5px,#312151 60.5px,#39327b 61.5px,#4161c1 62.5px,#3e97e8 63.5px,#37b7dc 64.5px,#3abfcf 67.5px,#39bcd3 72.5px,#42c6be 73.5px,#85d073 75.5px,#a7cc51 77.5px,#b8c947 90.5px,#b0ca4b 92.5px,#9ace5e 93.5px,#63ce95 94.5px,#39bdd2 95.5px,#3d9ae7 96.5px,#4086df 97.5px,#3f90e4 98.5px,#36b4df 99.5px,#54cda4 100.5px,#96cf62 101.5px,#b0ca4b 102.5px,#bfc744 115.5px,#e6b540 118.5px,#f39b39 119.5px,#eb702a 120.5px,#d24321 121.5px,#a31f21 123.5px,#85151c 128.5px,#7e121a 134px)"></i><i style="background:linear-gradient(90deg,#2e1a3e 0,#2f1c42 27.5px,#342862 29.5px,#3f53b1 31.5px,#4278d8 33.5px,#4169c9 47.5px,#405fbf 48.5px,#34275e 51.5px,#2f1c44 54.5px,#301e48 58.5px,#362b6a 60.5px,#3d4499 61.5px,#4271d1 62.5px,#3c9ee6 63.5px,#37b6dd 64.5px,#39bcd4 68.5px,#3abdd2 72.5px,#45c8ba 73.5px,#89d06f 75.5px,#a8cc50 77.5px,#bbc845 92.5px,#abcb4e 94.5px,#6fd089 97.5px,#76d082 98.5px,#a7cc51 100.5px,#bdc844 103.5px,#c2c643 115.5px,#dfba40 118.5px,#eea93e 119.5px,#f28631 120.5px,#c33321 122.5px,#991a20 124.5px,#7e131a 132.5px,#7e121a 134px)"></i><i style="background:linear-gradient(90deg,#2e1a3e 0,#2f1b42 27.5px,#34275f 29.5px,#4166c6 32.5px,#417ddb 34.5px,#4165c5 48.5px,#3d479e 50.5px,#34275f 53.5px,#322354 56.5px,#352a66 58.5px,#3d479d 60.5px,#408ae1 62.5px,#37b6dd 64.5px,#38bad7 71.5px,#3bc2cb 72.5px,#4ccaaf 73.5px,#8ed06a 75.5px,#aecb4c 78.5px,#c1c743 94.5px,#bbc844 99.5px,#c1c643 111.5px,#cbc442 116.5px,#ebb140 119.5px,#f49637 120.5px,#cd3c20 122.5px,#9c1c20 124.5px,#81131b 130.5px,#7d121a 134px)"></i><i style="background:linear-gradient(90deg,#2e1a3e 0,#2f1b41 27.5px,#332559 29.5px,#405dbd 32.5px,#4180dc 35.5px,#4164c4 49.5px,#3a3683 54.5px,#3b3a8a 57.5px,#416bcb 60.5px,#3d9ce7 62.5px,#37b7dc 65.5px,#3bc2cb 71.5px,#5ccd9c 73.5px,#95cf63 75.5px,#afcb4c 78.5px,#cfc341 95.5px,#c4c643 111.5px,#b7c947 114.5px,#e9b340 119.5px,#f29d3a 120.5px,#ee752b 121.5px,#d34521 122.5px,#b62722 123.5px,#91181e 125.5px,#7d121a 134px)"></i><i style="background:linear-gradient(90deg,#2e1a3e 0,#2f1d45 28.5px,#362b68 30.5px,#405fbf 33.5px,#4180dc 36.5px,#4274d4 42.5px,#4058b7 53.5px,#4056b6 56.5px,#4086df 60.5px,#38aee2 63.5px,#41c6c1 70.5px,#72d086 73.5px,#a5cc53 76.5px,#dabe40 92.5px,#d1c241 110.5px,#b9c946 111.5px,#75d083 113.5px,#84d074 114.5px,#abcb4e 115.5px,#d9bf40 117.5px,#e9b240 119.5px,#f29f3a 120.5px,#f07a2c 121.5px,#d64922 122.5px,#b82922 123.5px,#91181e 125.5px,#7d121a 134px)"></i><i style="background:linear-gradient(90deg,#2e1b40 0,#2f1c43 28.5px,#372d6f 31.5px,#405aba 34.5px,#4084de 38.5px,#4274d4 44.5px,#4170d0 56.5px,#3ba2e5 61.5px,#41c6c1 68.5px,#60ce98 71.5px,#a0cd58 75.5px,#dcbd40 87.5px,#e3b740 108.5px,#d5c140 110.5px,#a4cd54 111.5px,#45c8b9 112.5px,#3aa5e4 113.5px,#38b9d8 114.5px,#7ad07e 115.5px,#bcc844 116.5px,#dbbd40 117.5px,#ecb040 119.5px,#f39c39 120.5px,#ef772b 121.5px,#d54722 122.5px,#b72822 123.5px,#90181e 125.5px,#7d121a 134px)"></i><i style="background:linear-gradient(90deg,#301d46 0,#2f1d46 29.5px,#362c6c 32.5px,#416ece 37.5px,#3f8ce2 41.5px,#416ece 49.5px,#408be1 57.5px,#36b5df 62.5px,#4ccbae 68.5px,#a3cd55 75.5px,#d2c241 84.5px,#edae3f 91.5px,#ebb140 109.5px,#dcbd40 110.5px,#9cce5c 111.5px,#38b9d9 112.5px,#4273d3 113.5px,#3e95e6 114.5px,#61ce97 115.5px,#bac845 116.5px,#e0ba40 117.5px,#eea93e 119.5px,#f39436 120.5px,#ea6e29 121.5px,#d14121 122.5px,#b42622 123.5px,#90181e 125.5px,#7d121a 134px)"></i><i style="background:linear-gradient(90deg,#332457 0,#301e49 29.5px,#362b68 33.5px,#4169c9 38.5px,#3f92e5 42.5px,#4275d5 49.5px,#3aa7e4 58.5px,#46c8b7 66.5px,#a5cc53 75.5px,#cfc341 83.5px,#efa63d 89.5px,#f0a53c 109.5px,#eab240 110.5px,#b8c946 111.5px,#5cce9c 112.5px,#38b8da 113.5px,#3fc5c3 114.5px,#94cf64 115.5px,#d1c241 116.5px,#e9b240 117.5px,#f29d3a 119.5px,#e25c25 121.5px,#c83720 122.5px,#991a20 124.5px,#80131b 130.5px,#7d121a 134px)"></i><i style="background:linear-gradient(90deg,#383178 0,#332458 27.5px,#352a66 33.5px,#3e4aa3 37.5px,#427ad9 40.5px,#3e9ae8 43.5px,#4085de 49.5px,#37b2e1 57.5px,#4acab1 66.5px,#a0cd58 74.5px,#cac442 82.5px,#efa73d 87.5px,#f39135 97.5px,#f29e3a 110.5px,#e9b240 111.5px,#aacc4f 113.5px,#b2ca4a 114.5px,#ecaf40 116.5px,#f28932 119.5px,#d44622 121.5px,#a41f21 123.5px,#85151c 127.5px,#7d121a 134px)"></i><i style="background:linear-gradient(90deg,#3e4aa2 0,#393179 26.5px,#3b3a89 35.5px,#4273d3 40.5px,#3d9de7 43.5px,#3c9ee6 50.5px,#3abfd0 60.5px,#4ccaae 66.5px,#a1cd57 74.5px,#cec341 82.5px,#f29f3a 87.5px,#f1822f 93.5px,#f28832 110.5px,#f1a23b 113.5px,#f1802e 118.5px,#c33221 121.5px,#92181f 124.5px,#7d121a 134px)"></i><i style="background:linear-gradient(90deg,#4166c6 0,#3e4ba4 27.5px,#3f54b1 36.5px,#4085df 41.5px,#39abe3 45.5px,#3fc5c4 63.5px,#61ce97 68.5px,#a2cd56 74.5px,#d1c241 82.5px,#f49737 87.5px,#e86a28 92.5px,#e46126 102.5px,#eb6f29 116.5px,#d54722 119.5px,#a21e21 122.5px,#83141b 128.5px,#7d121a 134px)"></i><i style="background:linear-gradient(90deg,#427bda 0,#4167c7 33.5px,#4183dd 40.5px,#39a9e3 45.5px,#43c7bd 64.5px,#6dd08b 69.5px,#a8cc50 75.5px,#d4c141 82.5px,#f29d3a 86.5px,#e05924 90.5px,#d04021 99.5px,#d84d22 115.5px,#bf2f21 119.5px,#8e171e 124.5px,#7d121a 134px)"></i><i style="background:linear-gradient(90deg,#4089e0 0,#4180dc 36.5px,#39a9e3 49.5px,#3bc0ce 57.5px,#47c8b6 65.5px,#a8cc50 75.5px,#d6c040 82.5px,#f49838 86.5px,#d14221 90.5px,#bd2e21 98.5px,#c33321 115.5px,#87151c 126.5px,#7d121a 134px)"></i><i style="background:linear-gradient(90deg,#3f8fe3 0,#4183dd 38.5px,#4169c9 45.5px,#3f8fe4 50.5px,#39bbd5 54.5px,#47c8b7 65.5px,#84d074 71.5px,#b2ca4a 77.5px,#ebb140 84.5px,#f17e2e 87.5px,#c73620 90.5px,#b22522 96.5px,#b12522 116.5px,#7f131b 130.5px,#7d121a 134px)"></i><i style="background:linear-gradient(90deg,#3f91e4 0,#3f8ce2 35.5px,#4169c9 38.5px,#3c3e8f 42.5px,#3b3987 46.5px,#3e4ba5 49.5px,#4182dd 52.5px,#3d9ce7 53.5px,#39bbd6 55.5px,#46c8b7 65.5px,#76d082 70.5px,#adcb4d 76.5px,#e2b840 83.5px,#f49637 86.5px,#d54822 89.5px,#b42622 92.5px,#a31f21 118.5px,#7d121a 134px)"></i><i style="background:linear-gradient(90deg,#3f91e5 0,#3f8ee3 34.5px,#4273d3 36.5px,#39337d 39.5px,#322456 42.5px,#332458 48.5px,#372d6e 50.5px,#3e4faa 52.5px,#3f94e6 54.5px,#37b2e1 55.5px,#3bc2cc 58.5px,#46c8b8 65.5px,#74d084 70.5px,#adcb4d 76.5px,#ebb140 84.5px,#f28731 87.5px,#d04021 90.5px,#ae2422 94.5px,#9f1d20 119.5px,#7d121a 134px)"></i><i style="background:linear-gradient(90deg,#3f92e5 0,#408ce2 34.5px,#427bd9 35.5px,#405ebe 36.5px,#352a66 38.5px,#301e48 40.5px,#301e49 50.5px,#362c6b 52.5px,#3d459a 53.5px,#4272d2 54.5px,#3ba1e5 55.5px,#38bad8 56.5px,#4acab2 66.5px,#a6cc52 75.5px,#eab240 84.5px,#f1812f 88.5px,#c63521 92.5px,#ab2221 97.5px,#9b1b20 120.5px,#7d121a 134px)"></i><i style="background:linear-gradient(90deg,#3f92e5 0,#408ae1 34.5px,#4275d5 35.5px,#3f52af 36.5px,#383076 37.5px,#322252 38.5px,#2e1a3f 41.5px,#2f1d45 51.5px,#322252 52.5px,#39337c 53.5px,#4161c1 54.5px,#3e98e8 55.5px,#37b8db 56.5px,#3bc2cb 59.5px,#49c9b3 66.5px,#a5cd53 75.5px,#e7b440 84.5px,#f1822f 89.5px,#c03021 94.5px,#a92121 100.5px,#9b1b20 120.5px,#7d121a 134px)"></i><i style="background:linear-gradient(90deg,#3f92e5 0,#408be2 34.5px,#4279d8 35.5px,#405aba 36.5px,#3b3785 37.5px,#34275e 38.5px,#2f1d45 40.5px,#2f1d45 50.5px,#342861 52.5px,#3c3d8f 53.5px,#416ccc 54.5px,#3c9ee6 55.5px,#38b9d8 56.5px,#48c9b4 66.5px,#abcb4e 76.5px,#ebb040 85.5px,#f28631 90.5px,#c73620 95.5px,#aa2221 101.5px,#9b1b20 120.5px,#7d121a 134px)"></i><i style="background:linear-gradient(90deg,#3f91e5 0,#3f8ee3 34.5px,#416ece 36.5px,#372d6f 39.5px,#312150 42.5px,#322251 48.5px,#352862 50.5px,#3d4398 52.5px,#408ce2 54.5px,#37afe1 55.5px,#3bc2cb 58.5px,#47c9b6 66.5px,#84d074 72.5px,#b0ca4b 77.5px,#eea93e 87.5px,#f1802e 92.5px,#c53421 97.5px,#a92121 103.5px,#9b1b20 120.5px,#7d121a 134px)"></i><i style="background:linear-gradient(90deg,#3f91e5 0,#3f8de3 35.5px,#4162c2 38.5px,#3b3b8c 41.5px,#382f73 45.5px,#3c4194 49.5px,#4277d7 52.5px,#3f93e5 53.5px,#38bbd6 55.5px,#46c8b7 66.5px,#75d083 71.5px,#afcb4c 77.5px,#eea93e 88.5px,#f28932 93.5px,#c23221 99.5px,#a92121 105.5px,#981a20 121.5px,#7d121a 134px)"></i><i style="background:linear-gradient(90deg,#3f91e4 0,#3f8de2 37.5px,#405dbd 44.5px,#416dcd 48.5px,#3e96e7 51.5px,#39bcd5 54.5px,#45c8b9 66.5px,#72d086 71.5px,#adcb4d 77.5px,#eeab3e 89.5px,#f28831 95.5px,#be2e21 101.5px,#a92121 107.5px,#95191f 122.5px,#7d121a 134px)"></i><i style="background:linear-gradient(90deg,#3f8fe3 0,#3f91e5 42.5px,#3ca0e6 48.5px,#3bc0ce 54.5px,#44c7bb 66.5px,#6fd089 71.5px,#accb4e 77.5px,#eeab3e 91.5px,#f28832 97.5px,#c23221 102.5px,#a92121 107.5px,#95191f 122.5px,#7d121a 134px)"></i><i style="background:linear-gradient(90deg,#4089e1 0,#3d9be7 37.5px,#3abed1 51.5px,#43c7bc 66.5px,#6cd08c 71.5px,#a8cc50 77.5px,#c1c743 85.5px,#ebb140 91.5px,#f49437 98.5px,#e25c25 101.5px,#ba2b21 104.5px,#a92121 110.5px,#8e171e 124.5px,#7d121a 134px)"></i><i style="background:linear-gradient(90deg,#417edb 0,#3d9ce7 37.5px,#3ac0cf 51.5px,#42c7be 66.5px,#69cf8f 71.5px,#9cce5c 76.5px,#78d080 82.5px,#8dd06b 85.5px,#bcc844 88.5px,#e4b640 91.5px,#f29e3a 99.5px,#e76627 102.5px,#bb2c21 105.5px,#a92121 110.5px,#8f171e 124.5px,#7d121a 134px)"></i><i style="background:linear-gradient(90deg,#416bcb 0,#3f8ee3 26.5px,#3aa5e4 39.5px,#3bc2cb 54.5px,#41c6bf 66.5px,#66cf92 71.5px,#92d066 75.5px,#8cd06c 76.5px,#41c6c0 79.5px,#36b5df 81.5px,#37b2e1 84.5px,#3dc4c7 86.5px,#52cca6 87.5px,#a7cc51 89.5px,#dbbe40 91.5px,#efa63d 100.5px,#ea6e29 103.5px,#c83720 105.5px,#ab2221 108.5px,#92181f 123.5px,#7d121a 134px)"></i><i style="background:linear-gradient(90deg,#3f52af 0,#4087df 20.5px,#3ba1e5 38.5px,#3bc1cd 52.5px,#40c6c1 66.5px,#63ce95 71.5px,#87d071 74.5px,#87d071 75.5px,#6fd089 76.5px,#43c7bd 77.5px,#3aa8e4 78.5px,#4169c9 80.5px,#3f51ad 83.5px,#416fcf 86.5px,#408ce2 87.5px,#37b7db 88.5px,#62ce96 89.5px,#a7cc51 90.5px,#cbc442 91.5px,#dfbb40 93.5px,#edae3f 101.5px,#f38d34 103.5px,#c23221 106.5px,#aa2221 109.5px,#93191f 123.5px,#7d121a 134px)"></i><i style="background:linear-gradient(90deg,#3a3784 0,#3f54b1 11.5px,#417edb 20.5px,#39a9e3 40.5px,#3bc2ca 57.5px,#43c7bd 67.5px,#6cd08c 72.5px,#83d075 74.5px,#80d078 75.5px,#5cce9c 76.5px,#38b8da 77.5px,#417cda 78.5px,#3f51ad 79.5px,#3b3988 80.5px,#362b6a 82.5px,#383077 85.5px,#3b3c8c 86.5px,#4056b5 87.5px,#4088e0 88.5px,#3fc5c4 89.5px,#92d066 90.5px,#bec744 91.5px,#d4c141 92.5px,#eab240 102.5px,#f28731 104.5px,#cd3b20 106.5px,#af2422 108.5px,#8c171d 125.5px,#7d121a 134px)"></i><i style="background:linear-gradient(90deg,#342760 0,#3b3987 11.5px,#416aca 19.5px,#3f93e5 33.5px,#3abfcf 50.5px,#42c6bf 67.5px,#69cf8f 72.5px,#80d078 75.5px,#65cf93 76.5px,#3bc2cb 77.5px,#3e98e8 78.5px,#416fcf 79.5px,#3c3d8f 82.5px,#3c3e90 84.5px,#405aba 86.5px,#4276d6 87.5px,#3aa5e4 88.5px,#4dcbad 89.5px,#99ce5f 90.5px,#bdc844 91.5px,#d4c141 93.5px,#e0b940 102.5px,#f39b39 104.5px,#ee752b 105.5px,#d74a22 106.5px,#b32522 108.5px,#7d121a 134px)"></i><i style="background:linear-gradient(90deg,#301f4b 0,#352862 11.5px,#4165c5 22.5px,#3f8fe4 32.5px,#39bdd3 48.5px,#41c6c0 67.5px,#67cf91 72.5px,#86d072 75.5px,#7dd07b 76.5px,#44c7bc 78.5px,#39a9e3 80.5px,#3f8ee3 83.5px,#37b1e1 86.5px,#3bc1cc 87.5px,#56cda2 88.5px,#8ad06e 89.5px,#aecb4c 90.5px,#cbc442 92.5px,#e2b840 103.5px,#efa83d 104.5px,#f28731 105.5px,#c93720 107.5px,#aa2221 110.5px,#91181e 124.5px,#7d121a 134px)"></i><i style="background:linear-gradient(90deg,#2f1b42 0,#322355 13.5px,#3e4da6 22.5px,#4182dd 30.5px,#39aae3 40.5px,#3bc2ca 57.5px,#40c6c1 67.5px,#64cf94 72.5px,#8ed06a 76.5px,#57cda1 82.5px,#66cf92 85.5px,#afcb4c 89.5px,#cac442 93.5px,#ddbc40 103.5px,#f49738 105.5px,#d14221 107.5px,#b02422 109.5px,#7d121a 134px)"></i><i style="background:linear-gradient(90deg,#2e1a3f 0,#311f4c 15.5px,#3b3a89 23.5px,#4275d5 30.5px,#3ba1e5 38.5px,#3bc1cd 52.5px,#3fc5c3 67.5px,#62ce96 72.5px,#99cf5f 77.5px,#b1ca4b 87.5px,#cdc342 97.5px,#dabe40 103.5px,#f1a23b 105.5px,#f07d2d 106.5px,#db5023 107.5px,#b52722 109.5px,#7e121a 134px)"></i><i style="background:linear-gradient(90deg,#2e1a3e 0,#31204d 19.5px,#39327b 25.5px,#416aca 31.5px,#3c9ee6 38.5px,#3abfd0 50.5px,#3fc5c4 67.5px,#60ce98 72.5px,#a2cd56 78.5px,#cec341 98.5px,#e1b940 104.5px,#eeab3e 105.5px,#f28c33 106.5px,#ce3d20 108.5px,#b02422 110.5px,#7e131a 134px)"></i><i style="background:linear-gradient(90deg,#2e1a3e 0,#301f4a 22.5px,#372e71 27.5px,#4272d2 34.5px,#3ba1e5 40.5px,#3abfcf 51.5px,#41c6bf 68.5px,#5ece9a 72.5px,#a3cd55 78.5px,#c1c743 90.5px,#e0b940 104.5px,#f39a39 106.5px,#d94e23 108.5px,#b62822 110.5px,#7e131a 134px)"></i><i style="background:linear-gradient(90deg,#2e1a3e 0,#301e49 25.5px,#383077 30.5px,#416ece 36.5px,#3ca0e6 42.5px,#3abfd0 52.5px,#41c6c0 68.5px,#5dce9b 72.5px,#a3cd55 78.5px,#c0c743 89.5px,#e9b240 105.5px,#f28832 107.5px,#d14221 109.5px,#b32622 111.5px,#7e131a 134px)"></i><i style="background:linear-gradient(90deg,#2e1a3e 0,#2f1d46 27.5px,#372d6f 32.5px,#4167c7 38.5px,#3e98e8 44.5px,#39bbd5 53.5px,#40c6c2 68.5px,#5cce9c 72.5px,#a4cd54 78.5px,#c0c743 88.5px,#e9b240 105.5px,#f49737 107.5px,#de5524 109.5px,#bb2c21 111.5px,#a72021 116.5px,#7e131b 134px)"></i><i style="background:linear-gradient(90deg,#2e1a3e 0,#301e48 30.5px,#383075 35.5px,#4162c2 41.5px,#3e97e7 48.5px,#39bbd6 58.5px,#3ec5c5 68.5px,#5bcd9d 72.5px,#a5cd53 78.5px,#c2c643 88.5px,#ebb140 105.5px,#f28a32 108.5px,#c63521 111.5px,#a92121 115.5px,#7f131b 134px)"></i><i style="background:linear-gradient(90deg,#2e1a3e 0,#2f1d45 32.5px,#382f73 38.5px,#416bcb 47.5px,#3ca0e6 55.5px,#3bc2cb 68.5px,#58cda0 72.5px,#a6cc52 78.5px,#c4c643 88.5px,#eea93e 106.5px,#f49537 108.5px,#d34421 111.5px,#b02422 114.5px,#7f131b 134px)"></i><i style="background:linear-gradient(90deg,#2e1a3e 0,#301d46 35.5px,#3c4092 46.5px,#4274d4 54.5px,#3c9fe6 62.5px,#3abed2 69.5px,#5fce99 73.5px,#a6cc52 78.5px,#c6c543 88.5px,#edac3f 103.5px,#f39b39 108.5px,#e05924 111.5px,#b92a22 114.5px,#80131b 134px)"></i><i style="background:linear-gradient(90deg,#2e1a3e 0,#301e48 39.5px,#382f73 48.5px,#4170d0 60.5px,#3ca0e6 68.5px,#3abfd0 71.5px,#63ce95 74.5px,#a6cc52 78.5px,#c8c542 87.5px,#eab240 100.5px,#f49437 109.5px,#e05824 112.5px,#bc2d21 115.5px,#86151c 130.5px,#80131b 134px)"></i><i style="background:linear-gradient(90deg,#2e1a3e 0,#301d47 44.5px,#372f72 54.5px,#4279d8 68.5px,#3aa5e4 71.5px,#3bc3ca 73.5px,#93d065 77.5px,#b4ca49 80.5px,#e8b340 99.5px,#f39035 110.5px,#d74b22 114.5px,#b02422 118.5px,#81141b 134px)"></i><i style="background:linear-gradient(90deg,#2e1a3e 0,#301e49 51.5px,#3b3785 64.5px,#405bbb 69.5px,#3f8ee3 72.5px,#38bad7 74.5px,#5cce9c 76.5px,#a8cc50 79.5px,#c9c442 85.5px,#eab240 99.5px,#f38f34 111.5px,#dd5323 115.5px,#b32522 119.5px,#82141b 134px)"></i><i style="background:linear-gradient(90deg,#2e1a3e 0,#301e48 57.5px,#362c6c 67.5px,#3e4ea8 71.5px,#3f8fe4 74.5px,#38ade2 75.5px,#3bc3ca 76.5px,#9cce5c 79.5px,#c1c743 82.5px,#e7b440 98.5px,#f28832 113.5px,#cc3a20 118.5px,#a31f21 123.5px,#84141c 134px)"></i><i style="background:linear-gradient(90deg,#2e1a3e 0,#301e49 65.5px,#352963 70.5px,#3d489f 73.5px,#427ad9 75.5px,#3c9ee6 76.5px,#3abed1 77.5px,#55cda3 78.5px,#a5cd53 80.5px,#c7c542 83.5px,#e8b340 98.5px,#f49938 109.5px,#f1832f 115.5px,#bc2c21 121.5px,#88151c 132.5px,#86151c 134px)"></i><i style="background:linear-gradient(90deg,#2e1a3e 0,#301d47 69.5px,#33265b 72.5px,#3b3785 74.5px,#416dcd 76.5px,#3e99e8 77.5px,#3bc1cd 78.5px,#97cf61 80.5px,#bec744 82.5px,#d3c141 89.5px,#efa63d 101.5px,#f38e34 115.5px,#e25c25 119.5px,#bc2d21 123.5px,#89161d 134px)"></i><i style="background:linear-gradient(90deg,#2e1a3e 0,#2f1c44 71.5px,#34265d 74.5px,#383177 75.5px,#3e4aa2 76.5px,#4274d4 77.5px,#39abe3 78.5px,#4bcaaf 79.5px,#88d070 80.5px,#accb4e 81.5px,#cdc342 84.5px,#e9b240 98.5px,#f49938 109.5px,#f28a32 117.5px,#c83720 124.5px,#91181f 132.5px,#8e171e 134px)"></i><i style="background:linear-gradient(90deg,#2e1a3e 0,#2f1d46 73.5px,#342861 75.5px,#3b3a89 76.5px,#4162c2 77.5px,#3d9ce7 78.5px,#43c7bd 79.5px,#7fd079 80.5px,#a9cc4f 81.5px,#cec341 84.5px,#e9b240 98.5px,#f49838 109.5px,#f28d33 118.5px,#d34421 125.5px,#a31f21 131.5px,#991a20 134px)"></i><i style="background:linear-gradient(90deg,#2e1a3e 0,#2f1c44 72.5px,#322354 74.5px,#362b6a 75.5px,#3c4093 76.5px,#4169c9 77.5px,#3ba2e5 78.5px,#47c8b7 79.5px,#84d074 80.5px,#abcb4e 81.5px,#cfc341 84.5px,#edae3f 99.5px,#f49838 110.5px,#f28932 120.5px,#d44722 127.5px,#a92121 134px)"></i><i style="background:linear-gradient(90deg,#2e1a3e 0,#2f1c44 70.5px,#33265c 73.5px,#3c3e8f 75.5px,#4086df 77.5px,#37b8da 78.5px,#58cda0 79.5px,#92d066 80.5px,#b0ca4b 81.5px,#d0c241 84.5px,#edae3f 99.5px,#f49838 110.5px,#f28b33 121.5px,#dc5123 128.5px,#bc2c21 134px)"></i><i style="background:linear-gradient(90deg,#2e1a3e 0,#301d47 68.5px,#372d6d 72.5px,#3e4ba3 74.5px,#4087e0 76.5px,#37b1e1 77.5px,#47c8b6 78.5px,#a1cd57 80.5px,#c4c643 82.5px,#d8c040 91.5px,#f49838 108.5px,#f28c33 122.5px,#d64922 131.5px,#cd3b20 134px)"></i><i style="background:linear-gradient(90deg,#2e1a3e 0,#301e49 65.5px,#352964 69.5px,#3d489f 72.5px,#3e96e7 75.5px,#37b6dd 76.5px,#46c8b9 77.5px,#95cf63 79.5px,#bbc845 81.5px,#d4c141 86.5px,#edae3f 99.5px,#f49838 110.5px,#f28832 124.5px,#d94d23 134px)"></i><i style="background:linear-gradient(90deg,#2e1b40 0,#301f49 59.5px,#362a67 66.5px,#3e4da7 70.5px,#408be1 73.5px,#3aa6e4 74.5px,#39bdd2 75.5px,#4acab1 76.5px,#8fd069 78.5px,#b4ca49 80.5px,#d3c141 85.5px,#edae3f 99.5px,#f49838 110.5px,#f28832 125.5px,#e25c25 134px)"></i><i style="background:linear-gradient(90deg,#301d47 0,#31204d 49.5px,#352965 60.5px,#3e4ca5 67.5px,#4088e0 71.5px,#36b5df 73.5px,#4ecbab 75.5px,#9ece5a 78.5px,#c8c542 82.5px,#edad3f 99.5px,#f49838 110.5px,#f28832 126.5px,#e86a28 134px)"></i><i style="background:linear-gradient(90deg,#332457 0,#322456 42.5px,#3a3480 58.5px,#4273d3 67.5px,#3c9ee6 70.5px,#40c5c2 73.5px,#96cf62 77.5px,#c1c743 81.5px,#d8c040 90.5px,#f49838 109.5px,#f28932 127.5px,#ee752b 134px)"></i><i style="background:linear-gradient(90deg,#383178 0,#372d6e 38.5px,#3f51ae 58.5px,#3f90e4 66.5px,#37b8da 70.5px,#4dcbad 73.5px,#a6cc52 78.5px,#d2c241 85.5px,#edad3f 99.5px,#f49838 110.5px,#f28832 129.5px,#f17e2e 134px)"></i><i style="background:linear-gradient(90deg,#3e4aa3 0,#3d4498 38.5px,#4274d4 59.5px,#3c9fe6 64.5px,#3bc1cc 70.5px,#65cf93 74.5px,#a6cc52 78.5px,#d2c241 85.5px,#edad3f 99.5px,#f49838 110.5px,#f28731 132.5px,#f18530 134px)"></i><i style="background:linear-gradient(90deg,#4168c8 0,#4166c6 40.5px,#3f8ce2 59.5px,#38b9d9 66.5px,#43c7bd 71.5px,#77d081 75.5px,#aecb4c 79.5px,#d3c141 86.5px,#edad3f 99.5px,#f49838 110.5px,#f28a33 134px)"></i><i style="background:linear-gradient(90deg,#4184de 0,#4087e0 42.5px,#3ba3e5 60.5px,#42c6bf 71.5px,#74d084 75.5px,#adcb4d 79.5px,#d3c141 86.5px,#edad3f 99.5px,#f49838 110.5px,#f38f34 134px)"></i><i style="background:linear-gradient(90deg,#3d9ce7 0,#39a9e3 56.5px,#3bc2cb 70.5px,#61ce97 74.5px,#abcb4e 79.5px,#d3c241 86.5px,#edad3f 99.5px,#f49838 110.5px,#f39236 134px)"></i><i style="background:linear-gradient(90deg,#38ade2 0,#39bbd6 66.5px,#3dc4c7 71.5px,#70d088 75.5px,#aacc4f 79.5px,#d2c241 86.5px,#edad3f 99.5px,#f49838 110.5px,#f39436 134px)"></i><i style="background:linear-gradient(90deg,#37b6de 0,#39bdd3 69.5px,#44c7bb 72.5px,#a9cc50 79.5px,#d1c241 86.5px,#edad3f 99.5px,#f49838 110.5px,#f49637 134px)"></i><i style="background:linear-gradient(90deg,#37b6dd 0,#39bbd5 67.5px,#3cc4c7 71.5px,#6bcf8d 75.5px,#a7cc51 79.5px,#d1c241 86.5px,#edad3f 99.5px,#f49838 110.5px,#f49737 134px)"></i><i style="background:linear-gradient(90deg,#37b2e1 0,#37b5de 63.5px,#3ec5c5 71.5px,#6acf8e 75.5px,#afcb4c 80.5px,#d2c241 87.5px,#eea93e 100.5px,#f49838 113.5px,#f49738 134px)"></i><i style="background:linear-gradient(90deg,#39a9e3 0,#3aa7e4 61.5px,#3fc5c2 71.5px,#68cf90 75.5px,#aecb4c 80.5px,#d4c141 88.5px,#eea93e 100.5px,#f49838 113.5px,#f49738 134px)"></i></div>
<div class="h" style="left:261px;top:13px;width:133px"><i style="background:linear-gradient(90deg,#2e1a3e 0,#2e1b40 53.5px,#34275f 55.5px,#3d49a1 57.5px,#405cbc 59.5px,#3f93e6 60.5px,#3dc4c7 61.5px,#4bcab0 62.5px,#38b9d9 63.5px,#4277d7 64.5px,#3b3a8a 65.5px,#322354 66.5px,#2e1a3f 68.5px,#2e1b40 92.5px,#342861 95.5px,#2e1b40 100.5px,#31204c 101.5px,#39327b 102.5px,#416ccc 103.5px,#36b4e0 104.5px,#49c9b4 105.5px,#3fc5c3 106.5px,#3e98e8 107.5px,#3f50ac 108.5px,#342861 109.5px,#2f1d44 110.5px,#2f1c43 126.5px,#3a3480 129.5px,#3a3581 131.5px,#372e70 133px)"></i><i style="background:linear-gradient(90deg,#2e1a3e 0,#2f1c44 28.5px,#34265d 31.5px,#2e1a3e 36.5px,#2e1b40 53.5px,#34275f 55.5px,#3e4ca5 57.5px,#4271d1 59.5px,#37afe1 60.5px,#51cca7 61.5px,#68cf90 62.5px,#47c8b7 63.5px,#3c9ee6 64.5px,#4058b8 65.5px,#362c6b 66.5px,#301e48 67.5px,#2e1a3e 76.5px,#2f1d46 92.5px,#33265c 93.5px,#3e4ca5 95.5px,#3e4aa3 96.5px,#332559 98.5px,#2f1d45 99.5px,#2f1c44 100.5px,#332458 101.5px,#3c4296 102.5px,#4085df 103.5px,#3bc2cb 104.5px,#5cce9c 105.5px,#4ecbab 106.5px,#38ade2 107.5px,#4161c1 108.5px,#372d6f 109.5px,#301e48 110.5px,#2e1a3e 120.5px,#2f1b42 125.5px,#312151 126.5px,#393179 127.5px,#3f52ae 128.5px,#416ccc 129.5px,#4274d4 130.5px,#4059b9 133px)"></i><i style="background:linear-gradient(90deg,#2e1a3e 0,#2f1c43 27.5px,#362b69 29.5px,#3b3785 30.5px,#3c3f90 31.5px,#3b3886 32.5px,#322251 34.5px,#2e1a3e 37.5px,#2e1b40 53.5px,#342760 55.5px,#3f50ab 57.5px,#4162c2 58.5px,#408ae1 59.5px,#3bc2cb 60.5px,#70d088 61.5px,#88d070 62.5px,#6acf8e 63.5px,#3abed1 64.5px,#427bd9 65.5px,#3b3b8b 66.5px,#322253 67.5px,#2e1a3e 69.5px,#2f1b41 91.5px,#312150 92.5px,#3a3480 93.5px,#4162c2 94.5px,#4086df 95.5px,#4085df 96.5px,#405fbf 97.5px,#3a337d 98.5px,#322251 99.5px,#311f4c 100.5px,#372d6e 101.5px,#405dbd 102.5px,#3aa6e4 103.5px,#4ecbab 104.5px,#76d082 105.5px,#66cf92 106.5px,#3abdd2 107.5px,#4276d6 108.5px,#3a3683 109.5px,#31204e 110.5px,#2e1a3e 112.5px,#301e47 125.5px,#362c6b 126.5px,#3f54b2 127.5px,#4184de 128.5px,#3ba2e5 129.5px,#39aae3 130.5px,#3f8ce2 133px)"></i><i style="background:linear-gradient(90deg,#2e1a3e 0,#2e1b41 26.5px,#301f4b 27.5px,#362a67 28.5px,#405bbb 30.5px,#4166c6 31.5px,#405cbc 32.5px,#362b6a 34.5px,#31204c 35.5px,#2e1a3e 39.5px,#2e1b41 53.5px,#342861 55.5px,#3f54b2 57.5px,#416ccc 58.5px,#3c9ee6 59.5px,#4ac9b2 60.5px,#86d072 61.5px,#98cf60 62.5px,#87d071 63.5px,#4ccaae 64.5px,#3d9be7 65.5px,#3f50ab 66.5px,#342760 67.5px,#2f1c44 68.5px,#2f1c44 91.5px,#34275e 92.5px,#3e4ba4 93.5px,#408be1 94.5px,#38b8da 95.5px,#38b9d9 96.5px,#3f8de3 97.5px,#3e4ea9 98.5px,#352a66 99.5px,#33265c 100.5px,#3c3d8f 101.5px,#417dda 102.5px,#3abfcf 103.5px,#6bcf8d 104.5px,#89d06f 105.5px,#79d07f 106.5px,#43c7bd 107.5px,#3f8de2 108.5px,#3d459a 109.5px,#332457 110.5px,#2f1c42 111.5px,#2e1b40 124.5px,#31204e 125.5px,#3b3886 126.5px,#4270d0 127.5px,#3aa5e4 128.5px,#38bad6 129.5px,#38bad7 131.5px,#37b1e1 133px)"></i><i style="background:linear-gradient(90deg,#2e1a3e 0,#2f1c44 26.5px,#332457 27.5px,#3a3784 28.5px,#405bbb 29.5px,#4279d8 30.5px,#4085de 31.5px,#427ad9 32.5px,#405dbd 33.5px,#3b3987 34.5px,#332559 35.5px,#2e1a3f 37.5px,#2e1b41 53.5px,#301f49 54.5px,#352862 55.5px,#4058b8 57.5px,#4275d5 58.5px,#39aae3 59.5px,#54cda4 60.5px,#90d068 61.5px,#9fce59 62.5px,#94cf64 63.5px,#62ce96 64.5px,#37b2e1 65.5px,#4162c2 66.5px,#372c6d 67.5px,#301e47 68.5px,#2e1a3e 86.5px,#301e47 91.5px,#362c6d 92.5px,#405fbf 93.5px,#39a9e3 94.5px,#48c9b5 95.5px,#4bcab0 96.5px,#36b4e0 97.5px,#416dcd 98.5px,#3a3785 99.5px,#383077 100.5px,#4059b8 101.5px,#3ca0e6 102.5px,#4ccaae 103.5px,#81d077 104.5px,#94cf64 105.5px,#86d072 106.5px,#51cca7 107.5px,#3ba3e5 108.5px,#4057b6 109.5px,#352964 110.5px,#2f1d45 111.5px,#2e1b40 124.5px,#322252 125.5px,#3c4092 126.5px,#417edb 127.5px,#37b1e1 128.5px,#3bc2ca 130.5px,#3abed1 133px)"></i><i style="background:linear-gradient(90deg,#2e1a3e 0,#2e1b40 25.5px,#301e48 26.5px,#352964 27.5px,#416ece 29.5px,#408ce2 30.5px,#3e96e7 31.5px,#3f8de2 32.5px,#4270d0 33.5px,#362a67 35.5px,#301e49 36.5px,#2e1a3e 43.5px,#2e1b41 53.5px,#301f4a 54.5px,#352964 55.5px,#405cbc 57.5px,#427bda 58.5px,#36b2e0 59.5px,#5dce9b 60.5px,#93cf65 61.5px,#a1cd57 62.5px,#9ace5e 63.5px,#73d085 64.5px,#39bdd2 65.5px,#4271d1 66.5px,#39327a 67.5px,#301f4a 68.5px,#2e1a3e 72.5px,#2f1c43 80.5px,#2e1b40 90.5px,#301f4b 91.5px,#39337c 92.5px,#4271d1 93.5px,#38bbd6 94.5px,#5fce99 95.5px,#68cf90 96.5px,#3fc5c4 97.5px,#3f8de2 98.5px,#3f50ab 99.5px,#3d469d 100.5px,#4277d7 101.5px,#39bbd5 102.5px,#67cf91 103.5px,#90d068 104.5px,#99cf5f 105.5px,#8fd069 106.5px,#63ce95 107.5px,#37b6dc 108.5px,#4169c9 109.5px,#383075 110.5px,#301f4a 111.5px,#2e1a3e 116.5px,#2e1b40 124.5px,#322253 125.5px,#3c4195 126.5px,#4181dc 127.5px,#36b3e0 128.5px,#3cc3c9 130.5px,#3bc3ca 133px)"></i><i style="background:linear-gradient(90deg,#2f1b41 0,#2e1b41 25.5px,#31204c 26.5px,#372e71 27.5px,#3f52af 28.5px,#427ad9 29.5px,#3e95e6 30.5px,#3e96e7 32.5px,#417cda 33.5px,#3f55b3 34.5px,#383075 35.5px,#31204e 36.5px,#2e1a3e 39.5px,#2f1b41 53.5px,#301f4a 54.5px,#352965 55.5px,#405fbf 57.5px,#4181dd 58.5px,#37b7db 59.5px,#63ce95 60.5px,#96cf62 61.5px,#a3cd55 62.5px,#9ece5a 63.5px,#7fd079 64.5px,#3fc5c4 65.5px,#4180dc 66.5px,#3b3988 67.5px,#31214f 68.5px,#2e1a3e 70.5px,#301d46 75.5px,#382f74 78.5px,#2e1b40 82.5px,#2f1b41 90.5px,#322252 91.5px,#3b3d8d 92.5px,#4182dd 93.5px,#3dc4c6 94.5px,#72d086 95.5px,#7ed07a 96.5px,#53cca5 97.5px,#38ade2 98.5px,#416fcf 99.5px,#4166c6 100.5px,#3d9be7 101.5px,#47c8b7 102.5px,#7dd07b 103.5px,#97cf61 104.5px,#95cf63 106.5px,#73d085 107.5px,#3bc2cb 108.5px,#417dda 109.5px,#3b3988 110.5px,#312150 111.5px,#2e1a3e 113.5px,#2e1b40 124.5px,#322253 125.5px,#3c4195 126.5px,#4181dc 127.5px,#36b4e0 128.5px,#3cc4c9 130.5px,#3cc4c8 133px)"></i><i style="background:linear-gradient(90deg,#312150 0,#312150 2.5px,#2e1a3e 6.5px,#2f1b41 25.5px,#312150 26.5px,#39327a 27.5px,#4059b9 28.5px,#4180dc 29.5px,#3e99e8 30.5px,#3e99e8 32.5px,#4182dd 33.5px,#405cbc 34.5px,#3a347e 35.5px,#322252 36.5px,#2e1a3e 38.5px,#2f1b41 53.5px,#301f4b 54.5px,#352a66 55.5px,#4162c2 57.5px,#4087df 58.5px,#39bbd6 59.5px,#69cf8f 60.5px,#97cf61 61.5px,#a1cd57 63.5px,#89d06f 64.5px,#49c9b4 65.5px,#3f90e4 66.5px,#3d4498 67.5px,#322356 68.5px,#2f1b42 69.5px,#2f1d45 74.5px,#332559 75.5px,#4055b4 77.5px,#4163c3 78.5px,#4058b7 79.5px,#33255b 81.5px,#2e1a3f 83.5px,#2f1c43 90.5px,#33255b 91.5px,#3e4aa2 92.5px,#3e95e6 93.5px,#48c9b4 94.5px,#7fd079 95.5px,#8cd06c 96.5px,#6dd08b 97.5px,#3bc2cb 98.5px,#3e95e7 99.5px,#3f8ce2 100.5px,#38b9d9 101.5px,#5fce99 102.5px,#8dd06b 103.5px,#9dce5b 105.5px,#98cf60 106.5px,#80d078 107.5px,#46c8b7 108.5px,#3f92e5 109.5px,#3d489e 110.5px,#332559 111.5px,#2f1c43 112.5px,#2e1b40 124.5px,#322253 125.5px,#3c4195 126.5px,#4180dc 127.5px,#36b3e0 128.5px,#3cc4c8 130.5px,#3cc4c8 133px)"></i><i style="background:linear-gradient(90deg,#372d6f 0,#39317a 1.5px,#2f1b41 4.5px,#2f1b42 25.5px,#322251 26.5px,#3a337e 27.5px,#405cbc 28.5px,#4182dd 29.5px,#3e9ae8 30.5px,#3d9ae7 32.5px,#4085de 33.5px,#405fbf 34.5px,#3a3682 35.5px,#322253 36.5px,#2e1a3e 38.5px,#2f1b41 53.5px,#301f4b 54.5px,#352a67 55.5px,#4164c4 57.5px,#3f8ce2 58.5px,#3abfd0 59.5px,#6fd089 60.5px,#99ce5f 61.5px,#a3cd55 63.5px,#91d067 64.5px,#53cca5 65.5px,#3ca0e6 66.5px,#3f51ad 67.5px,#34275f 68.5px,#2f1c44 69.5px,#2f1b41 73.5px,#312150 74.5px,#3a337d 75.5px,#4162c2 76.5px,#3f93e5 77.5px,#3aa7e4 78.5px,#3f94e6 79.5px,#4162c2 80.5px,#39327b 81.5px,#31204e 82.5px,#2e1a3e 85.5px,#2f1d45 90.5px,#352965 91.5px,#4058b8 92.5px,#3aa6e4 93.5px,#54cca4 94.5px,#88d070 95.5px,#94cf64 96.5px,#81d077 97.5px,#4fcca9 98.5px,#38b9d8 99.5px,#37b6de 100.5px,#46c8b8 101.5px,#77d081 102.5px,#95cf63 103.5px,#9ace5e 106.5px,#89d06f 107.5px,#54cca4 108.5px,#3aa6e4 109.5px,#4059b9 110.5px,#352a66 111.5px,#2f1d46 112.5px,#2e1b40 124.5px,#322253 125.5px,#3c4194 126.5px,#4180dc 127.5px,#36b3e0 128.5px,#3cc4c8 130.5px,#3cc4c8 133px)"></i><i style="background:linear-gradient(90deg,#3b3c8c 0,#3c4296 1.5px,#3a3784 2.5px,#33265c 3.5px,#2f1c44 4.5px,#2f1b41 25.5px,#312151 26.5px,#39337d 27.5px,#405bbb 28.5px,#4181dd 29.5px,#3e99e8 30.5px,#3d9ae7 32.5px,#4184de 33.5px,#405ebe 34.5px,#3a3581 35.5px,#322253 36.5px,#2e1a3e 38.5px,#2f1b41 53.5px,#301f4b 54.5px,#362b68 55.5px,#4167c7 57.5px,#3f92e5 58.5px,#3bc3ca 59.5px,#75d083 60.5px,#9bce5d 61.5px,#a4cd54 63.5px,#96cf62 64.5px,#62ce96 65.5px,#37b0e1 66.5px,#405fbf 67.5px,#362c6b 68.5px,#301d47 69.5px,#2e1a3f 72.5px,#301d46 73.5px,#352964 74.5px,#3f4faa 75.5px,#3f8fe3 76.5px,#3abfd0 77.5px,#45c8b9 78.5px,#39bdd3 79.5px,#4087e0 80.5px,#3d479d 81.5px,#33255b 82.5px,#2f1c43 83.5px,#2e1a3f 89.5px,#301e48 90.5px,#372e70 91.5px,#4165c5 92.5px,#36b5df 93.5px,#61ce97 94.5px,#8fd069 95.5px,#98cf60 96.5px,#90d068 97.5px,#4dcbac 99.5px,#4ac9b2 100.5px,#8ad06e 102.5px,#9ece5a 104.5px,#91d067 107.5px,#65cf93 108.5px,#37b7db 109.5px,#416aca 110.5px,#383076 111.5px,#301f4a 112.5px,#2e1a3e 117.5px,#2e1b40 124.5px,#322252 125.5px,#3c4194 126.5px,#4180dc 127.5px,#36b3e0 128.5px,#3cc4c9 130.5px,#3cc4c8 133px)"></i><i style="background:linear-gradient(90deg,#3d4498 0,#3d49a0 1.5px,#3b3d8d 2.5px,#2f1d45 4.5px,#2f1b41 25.5px,#31204e 26.5px,#383076 27.5px,#4056b5 28.5px,#417ddb 29.5px,#3e97e7 30.5px,#3e98e8 32.5px,#417fdc 33.5px,#4059b9 34.5px,#39317a 35.5px,#312150 36.5px,#2e1a3e 38.5px,#2f1b41 53.5px,#301f4c 54.5px,#362b69 55.5px,#416aca 57.5px,#3e98e8 58.5px,#3fc5c3 59.5px,#7bd07d 60.5px,#9dce5b 61.5px,#a5cc53 63.5px,#9ace5e 64.5px,#70d088 65.5px,#39bbd5 66.5px,#416ece 67.5px,#393179 68.5px,#301f4a 69.5px,#2f1b41 72.5px,#312151 73.5px,#3a3684 74.5px,#4170d0 75.5px,#36b5df 76.5px,#50cca9 77.5px,#64cf94 78.5px,#49c9b2 79.5px,#3aa5e4 80.5px,#405cbc 81.5px,#362c6b 82.5px,#301e47 83.5px,#2e1b40 89.5px,#301f4b 90.5px,#39327b 91.5px,#4271d1 92.5px,#39bdd3 93.5px,#6dd08b 94.5px,#93cf65 95.5px,#98cf60 97.5px,#76d082 99.5px,#73d085 100.5px,#9cce5c 103.5px,#95cf63 107.5px,#74d084 108.5px,#3bc2cb 109.5px,#417ddb 110.5px,#3b3988 111.5px,#312150 112.5px,#2e1a3e 114.5px,#2e1b40 124.5px,#322252 125.5px,#3c4093 126.5px,#417fdc 127.5px,#36b3e0 128.5px,#3cc4c9 130.5px,#3cc4c8 133px)"></i><i style="background:linear-gradient(90deg,#3c3f91 0,#3d459a 1.5px,#3b3988 2.5px,#34275e 3.5px,#2f1c44 4.5px,#2e1b40 25.5px,#301f4a 26.5px,#362b6a 27.5px,#4274d4 29.5px,#3f91e4 30.5px,#3d9ae7 31.5px,#3f92e5 32.5px,#4276d6 33.5px,#372d6e 35.5px,#301f4b 36.5px,#2e1a3e 40.5px,#2f1b41 53.5px,#31204c 54.5px,#362b6a 55.5px,#416dcd 57.5px,#3d9de7 58.5px,#44c7bc 59.5px,#81d077 60.5px,#9fce59 61.5px,#9ece5a 64.5px,#7ed07a 65.5px,#3ec5c4 66.5px,#4181dc 67.5px,#3b3b8b 68.5px,#312151 69.5px,#2e1a3f 71.5px,#2f1d45 72.5px,#352862 73.5px,#3e4faa 74.5px,#3f93e6 75.5px,#40c6c2 76.5px,#6acf8e 77.5px,#78d080 78.5px,#5ccd9c 79.5px,#38b8da 80.5px,#4170d0 81.5px,#3a337e 82.5px,#31204d 83.5px,#2e1a3e 86.5px,#2e1b40 89.5px,#31204e 90.5px,#3b3887 91.5px,#417ddb 92.5px,#3cc4c8 93.5px,#77d081 94.5px,#96cf62 95.5px,#97cf61 98.5px,#95cf63 101.5px,#98cf60 107.5px,#80d078 108.5px,#47c8b7 109.5px,#3f92e5 110.5px,#3d489f 111.5px,#332559 112.5px,#2f1c43 113.5px,#2e1b40 124.5px,#322252 125.5px,#3c4093 126.5px,#417fdb 127.5px,#36b3e0 128.5px,#3cc4c9 130.5px,#3cc4c8 133px)"></i><i style="background:linear-gradient(90deg,#383177 0,#3a3582 1.5px,#382f73 2.5px,#2f1c42 4.5px,#2f1d45 26.5px,#34265d 27.5px,#4164c4 29.5px,#4182dd 30.5px,#3f8ee3 31.5px,#4183de 32.5px,#4166c6 33.5px,#34275f 35.5px,#301d46 36.5px,#2f1b41 53.5px,#31204c 54.5px,#362c6b 55.5px,#4270d0 57.5px,#3ba2e5 58.5px,#48c9b4 59.5px,#86d072 60.5px,#a0cd58 61.5px,#a1cd57 64.5px,#8bd06d 65.5px,#4ccaae 66.5px,#3e98e8 67.5px,#3e4ba4 68.5px,#33265c 69.5px,#2f1c43 70.5px,#31204c 72.5px,#39327b 73.5px,#416aca 74.5px,#36b3e0 75.5px,#54cda4 76.5px,#7bd07d 77.5px,#83d075 78.5px,#6acf8e 79.5px,#3bc2ca 80.5px,#4182dd 81.5px,#3c3f90 82.5px,#322354 83.5px,#2e1a3e 85.5px,#2f1b41 89.5px,#322354 90.5px,#3c4194 91.5px,#408ae1 92.5px,#44c7bc 93.5px,#7ed07a 94.5px,#98cf60 95.5px,#99cf5f 107.5px,#87d071 108.5px,#53cca5 109.5px,#3aa6e4 110.5px,#4059b9 111.5px,#352a66 112.5px,#2f1d46 113.5px,#2e1b40 124.5px,#322252 125.5px,#3c4092 126.5px,#417fdb 127.5px,#36b2e0 128.5px,#3cc4c9 130.5px,#3cc4c8 133px)"></i><i style="background:linear-gradient(90deg,#322356 0,#322355 2.5px,#2e1a3e 5.5px,#2f1b42 26.5px,#312150 27.5px,#3e4ca6 29.5px,#4168c8 30.5px,#4274d4 31.5px,#416aca 32.5px,#3e4ea9 33.5px,#312251 35.5px,#2e1a3f 37.5px,#2f1b41 53.5px,#31204d 54.5px,#362c6d 55.5px,#4274d4 57.5px,#3aa7e4 58.5px,#4ccbae 59.5px,#8ad06e 60.5px,#a2cd56 61.5px,#a4cd54 64.5px,#94cf64 65.5px,#60ce98 66.5px,#38afe2 67.5px,#405fbf 68.5px,#362c6b 69.5px,#301e47 70.5px,#2f1c43 71.5px,#322457 72.5px,#3c4295 73.5px,#4085de 74.5px,#3bc2cb 75.5px,#69cf8f 76.5px,#85d073 77.5px,#88d070 78.5px,#73d085 79.5px,#43c7bd 80.5px,#3f91e5 81.5px,#3d49a1 82.5px,#33255b 83.5px,#2f1c43 84.5px,#2f1c43 89.5px,#33265b 90.5px,#3e4ba4 91.5px,#3e98e8 92.5px,#4bcab0 93.5px,#85d073 94.5px,#9ace5e 95.5px,#97cf61 106.5px,#82d076 108.5px,#5dce9b 109.5px,#37b6dd 110.5px,#416aca 111.5px,#383076 112.5px,#301f4a 113.5px,#2e1a3e 118.5px,#2e1b40 124.5px,#322252 125.5px,#3c4092 126.5px,#417edb 127.5px,#36b2e0 128.5px,#3cc4c9 130.5px,#3cc4c8 133px)"></i><i style="background:linear-gradient(90deg,#2f1c44 0,#2f1d46 27.5px,#39327b 29.5px,#3d469b 30.5px,#3e4faa 31.5px,#3d479d 32.5px,#33255b 34.5px,#2e1b40 36.5px,#2f1b42 53.5px,#31204d 54.5px,#372d6e 55.5px,#4279d9 57.5px,#38ade2 58.5px,#51cca7 59.5px,#8ed06a 60.5px,#a3cd55 61.5px,#a6cc52 64.5px,#9bce5d 65.5px,#74d084 66.5px,#3abfd0 67.5px,#4275d5 68.5px,#3a3481 69.5px,#31204e 70.5px,#301e47 71.5px,#352963 72.5px,#3f54b1 73.5px,#3d9de7 74.5px,#48c9b5 75.5px,#76d082 76.5px,#8ad06e 77.5px,#8ad06e 78.5px,#77d081 79.5px,#48c9b5 80.5px,#3d9be7 81.5px,#3f51ac 82.5px,#342860 83.5px,#2f1c44 84.5px,#2f1d45 89.5px,#352964 90.5px,#4057b6 91.5px,#3ba4e5 92.5px,#53cca5 93.5px,#8ad06e 94.5px,#9ece5a 96.5px,#9cce5c 104.5px,#7ad07e 106.5px,#5fce99 107.5px,#50cca9 109.5px,#39bdd2 110.5px,#427cda 111.5px,#3b3988 112.5px,#312150 113.5px,#2e1a3e 115.5px,#2e1b40 124.5px,#322252 125.5px,#3c3f92 126.5px,#417edb 127.5px,#37b2e1 128.5px,#3cc4c9 130.5px,#3cc4c8 133px)"></i><i style="background:linear-gradient(90deg,#2e1a3f 0,#2e1b41 27.5px,#372e71 31.5px,#2f1b41 35.5px,#2f1b42 53.5px,#31204e 54.5px,#372e70 55.5px,#417edb 57.5px,#36b3e0 58.5px,#56cda2 59.5px,#90d068 60.5px,#a7cc51 62.5px,#a0cd58 65.5px,#85d073 66.5px,#46c8b9 67.5px,#3f8de3 68.5px,#3d4499 69.5px,#332459 70.5px,#31204d 71.5px,#382f73 72.5px,#4165c5 73.5px,#37b0e1 74.5px,#55cda3 75.5px,#7ed07a 76.5px,#8bd06d 78.5px,#79d07f 79.5px,#4bcab0 80.5px,#3ca0e6 81.5px,#4056b5 82.5px,#352964 83.5px,#2f1d45 84.5px,#2e1a3f 88.5px,#301e47 89.5px,#372c6d 90.5px,#4161c1 91.5px,#37b1e1 92.5px,#5ece9a 93.5px,#8ed06a 94.5px,#9ece5a 97.5px,#96cf62 104.5px,#78d080 105.5px,#44c7bb 106.5px,#38aee2 107.5px,#39a9e3 108.5px,#39bdd3 109.5px,#39bdd3 110.5px,#3f8de2 111.5px,#3d479e 112.5px,#332559 113.5px,#2f1c43 114.5px,#2e1b40 124.5px,#322252 125.5px,#3c3f91 126.5px,#417edb 127.5px,#37b2e1 128.5px,#3cc4c9 130.5px,#3cc4c8 133px)"></i><i style="background:linear-gradient(90deg,#2e1a3e 0,#2f1d45 29.5px,#2f1d45 33.5px,#2f1b42 53.5px,#31204e 54.5px,#382f73 55.5px,#3f54b1 56.5px,#4184de 57.5px,#37b7dc 58.5px,#5ccd9c 59.5px,#92d066 60.5px,#a7cc51 62.5px,#a3cd55 65.5px,#91d067 66.5px,#58cda0 67.5px,#3aa7e4 68.5px,#405aba 69.5px,#362b6a 70.5px,#332457 71.5px,#3b3785 72.5px,#4277d7 73.5px,#39bcd3 74.5px,#63ce95 75.5px,#84d074 76.5px,#8cd06c 78.5px,#7bd07d 79.5px,#4dcbac 80.5px,#3aa5e4 81.5px,#405aba 82.5px,#362a67 83.5px,#2f1d46 84.5px,#2e1b3f 88.5px,#301e49 89.5px,#383077 90.5px,#416ccc 91.5px,#38b9d8 92.5px,#68cf90 93.5px,#92d066 94.5px,#9ece5a 99.5px,#9cce5c 103.5px,#8dd06b 104.5px,#54cca4 105.5px,#3ba2e5 106.5px,#4163c3 107.5px,#4060c0 108.5px,#3f93e6 109.5px,#37b6dc 110.5px,#3d9ce7 111.5px,#4058b7 112.5px,#352a66 113.5px,#2f1d46 114.5px,#2e1b40 124.5px,#322252 125.5px,#3c3f91 126.5px,#417ddb 127.5px,#37b2e1 128.5px,#3cc4c9 130.5px,#3cc4c8 133px)"></i><i style="background:linear-gradient(90deg,#2e1a3e 0,#2f1c42 53.5px,#31214f 54.5px,#383075 55.5px,#4057b6 56.5px,#4089e0 57.5px,#38bad7 58.5px,#61ce97 59.5px,#94cf64 60.5px,#a7cc51 62.5px,#a5cc53 65.5px,#99ce5f 66.5px,#6fd089 67.5px,#39bcd4 68.5px,#4274d4 69.5px,#3b3886 70.5px,#362b68 71.5px,#3d459b 72.5px,#408ae1 73.5px,#3ec5c4 74.5px,#6fd089 75.5px,#88d070 76.5px,#8cd06c 78.5px,#7dd07b 79.5px,#50cca8 80.5px,#39a9e3 81.5px,#405dbd 82.5px,#362c6b 83.5px,#301d47 84.5px,#2e1b40 88.5px,#31204c 89.5px,#3a3581 90.5px,#4278d8 91.5px,#3bc0ce 92.5px,#72d086 93.5px,#95cf63 94.5px,#9ece5a 102.5px,#9ace5e 103.5px,#81d077 104.5px,#40c6c1 105.5px,#427bda 106.5px,#3b3886 107.5px,#3a3682 108.5px,#4270d0 109.5px,#38aee2 110.5px,#3aa8e4 111.5px,#4168c8 112.5px,#383076 113.5px,#301f4a 114.5px,#2e1a3e 119.5px,#2e1b40 124.5px,#322251 125.5px,#3c3f90 126.5px,#417dda 127.5px,#37b1e1 128.5px,#3cc4c9 130.5px,#3cc4c8 133px)"></i><i style="background:linear-gradient(90deg,#2e1a3e 0,#2f1c42 53.5px,#312150 54.5px,#383076 55.5px,#4059b9 56.5px,#408ce2 57.5px,#39bcd4 58.5px,#64ce94 59.5px,#95cf63 60.5px,#a8cc51 62.5px,#9fcd59 66.5px,#84d074 67.5px,#48c9b5 68.5px,#3e96e7 69.5px,#3f51ae 70.5px,#3a3784 71.5px,#4058b7 72.5px,#3c9ee6 73.5px,#49c9b3 74.5px,#78d080 75.5px,#8fd069 77.5px,#7ed07a 79.5px,#53cca5 80.5px,#38ade2 81.5px,#4161c1 82.5px,#372d6e 83.5px,#301e47 84.5px,#2f1b41 88.5px,#312151 89.5px,#3b3c8d 90.5px,#4184de 91.5px,#40c5c2 92.5px,#7bd07d 93.5px,#97cf61 94.5px,#99cf5f 103.5px,#7bd07d 104.5px,#3bc1cc 105.5px,#416dcd 106.5px,#372e71 107.5px,#372d6d 108.5px,#4165c5 109.5px,#38ade2 110.5px,#36b5df 111.5px,#427ad9 112.5px,#3b3988 113.5px,#312150 114.5px,#2e1a3e 116.5px,#2e1b40 124.5px,#312251 125.5px,#3c3e90 126.5px,#417dda 127.5px,#37b1e1 128.5px,#3cc4c9 130.5px,#3cc4c8 133px)"></i><i style="background:linear-gradient(90deg,#2e1a3e 0,#2f1c42 53.5px,#312150 54.5px,#393178 55.5px,#405aba 56.5px,#3f8de3 57.5px,#39bdd3 58.5px,#65cf93 59.5px,#95cf63 60.5px,#a8cc51 62.5px,#a4cd54 66.5px,#95cf63 67.5px,#66cf92 68.5px,#38b8d9 69.5px,#4274d4 70.5px,#3e4faa 71.5px,#416ccc 72.5px,#37b1e1 73.5px,#55cda3 74.5px,#7fd079 75.5px,#8fd069 77.5px,#80d078 79.5px,#57cda1 80.5px,#37b2e1 81.5px,#4165c5 82.5px,#372e71 83.5px,#301e48 84.5px,#2f1c42 88.5px,#332457 89.5px,#3d469c 90.5px,#3f91e4 91.5px,#47c9b6 92.5px,#82d076 93.5px,#99cf5f 94.5px,#99ce5f 103.5px,#7fd079 104.5px,#3dc5c6 105.5px,#4275d5 106.5px,#39337d 107.5px,#39317a 108.5px,#416ece 109.5px,#37b7dc 110.5px,#3abfd0 111.5px,#3f8fe3 112.5px,#3d479e 113.5px,#332559 114.5px,#2f1c43 115.5px,#2e1b40 124.5px,#312251 125.5px,#3c3e90 126.5px,#417cda 127.5px,#37b1e1 128.5px,#3cc4c9 130.5px,#3cc4c8 133px)"></i><i style="background:linear-gradient(90deg,#2e1a3e 0,#2f1c43 53.5px,#312151 54.5px,#393179 55.5px,#405aba 56.5px,#3f8de2 57.5px,#39bcd4 58.5px,#63ce95 59.5px,#95cf63 60.5px,#a8cc51 62.5px,#9ece5a 67.5px,#83d075 68.5px,#49c9b3 69.5px,#3c9ee6 70.5px,#416fcf 71.5px,#4183de 72.5px,#39bdd2 73.5px,#64ce94 74.5px,#84d074 75.5px,#8dd06b 78.5px,#81d077 79.5px,#5bcd9d 80.5px,#37b6dd 81.5px,#416aca 82.5px,#383075 83.5px,#301e49 84.5px,#2e1a3f 87.5px,#2f1c44 88.5px,#342760 89.5px,#3f51ad 90.5px,#3c9ee6 91.5px,#4ecbab 92.5px,#87d071 93.5px,#9ece5a 95.5px,#9bce5d 103.5px,#8ad06e 104.5px,#4dcbad 105.5px,#3e97e8 106.5px,#4055b4 107.5px,#3f53b0 108.5px,#3f90e4 109.5px,#3ec5c4 110.5px,#45c8ba 111.5px,#3ba4e5 112.5px,#4059b9 113.5px,#352a66 114.5px,#2f1d46 115.5px,#2e1b40 124.5px,#312151 125.5px,#3c3e8f 126.5px,#427cda 127.5px,#37b1e1 128.5px,#3cc4c9 130.5px,#3cc4c8 133px)"></i><i style="background:linear-gradient(90deg,#2e1a3e 0,#2f1c43 53.5px,#322251 54.5px,#39327a 55.5px,#405aba 56.5px,#408be2 57.5px,#38bbd6 58.5px,#61ce97 59.5px,#94cf64 60.5px,#a7cc51 62.5px,#a4cd54 67.5px,#96cf62 68.5px,#6bcf8d 69.5px,#3abed1 70.5px,#3e94e6 71.5px,#3c9ee6 72.5px,#40c6c2 73.5px,#6fd089 74.5px,#88d070 75.5px,#8ed06a 78.5px,#83d075 79.5px,#61ce97 80.5px,#38bad7 81.5px,#4270d0 82.5px,#39327c 83.5px,#301f4b 84.5px,#2e1a3f 87.5px,#2f1d46 88.5px,#362b68 89.5px,#405cbc 90.5px,#39aae3 91.5px,#58cda0 92.5px,#8cd06c 93.5px,#9ece5a 95.5px,#94cf64 104.5px,#6fd089 105.5px,#3bc2cb 106.5px,#3d9ce7 107.5px,#3d9ae7 108.5px,#3abfd0 109.5px,#5cce9c 110.5px,#59cd9f 111.5px,#37b7dc 112.5px,#416aca 113.5px,#383076 114.5px,#301f4a 115.5px,#2e1a3e 120.5px,#2e1b40 124.5px,#312151 125.5px,#3c3d8e 126.5px,#427bd9 127.5px,#37b0e1 128.5px,#3cc4c9 130.5px,#3cc4c8 133px)"></i><i style="background:linear-gradient(90deg,#2e1a3e 0,#2f1c43 53.5px,#322252 54.5px,#39327b 55.5px,#405bbb 56.5px,#408ae1 57.5px,#38b9d8 58.5px,#5fce99 59.5px,#93cf65 60.5px,#a7cc51 62.5px,#9fcd59 68.5px,#86d072 69.5px,#4dcbad 70.5px,#36b5de 71.5px,#36b5de 72.5px,#4bcab0 73.5px,#77d081 74.5px,#8fd069 76.5px,#86d072 79.5px,#68cf90 80.5px,#3abfcf 81.5px,#427bda 82.5px,#3b3988 83.5px,#312150 84.5px,#2e1a3e 86.5px,#301e48 88.5px,#372e72 89.5px,#4167c7 90.5px,#37b6dd 91.5px,#63ce95 92.5px,#90d068 93.5px,#9ece5a 96.5px,#9bce5d 104.5px,#8ed06a 105.5px,#4fccaa 107.5px,#4ecbab 108.5px,#81d077 110.5px,#6fd089 111.5px,#3bc2cb 112.5px,#417ddb 113.5px,#3b3a89 114.5px,#312150 115.5px,#2e1a3e 117.5px,#2e1b40 124.5px,#312150 125.5px,#3b3c8d 126.5px,#427ad9 127.5px,#37b0e1 128.5px,#3cc4c9 130.5px,#3cc4c8 133px)"></i><i style="background:linear-gradient(90deg,#2e1a3e 0,#2f1c43 53.5px,#322253 54.5px,#39337d 55.5px,#405bbb 56.5px,#4089e0 57.5px,#37b8da 58.5px,#5cce9c 59.5px,#92d066 60.5px,#a7cc51 62.5px,#a4cd54 68.5px,#95cf63 69.5px,#3cc4c7 71.5px,#3bc1cd 72.5px,#7dd07b 74.5px,#8fd069 76.5px,#89d06f 79.5px,#70d088 80.5px,#3fc5c2 81.5px,#408be2 82.5px,#3d459a 83.5px,#332458 84.5px,#2f1c42 85.5px,#2e1b40 87.5px,#301f4b 88.5px,#39327c 89.5px,#4272d2 90.5px,#39bdd3 91.5px,#6dd08b 92.5px,#93cf65 93.5px,#9ece5a 100.5px,#93cf65 106.5px,#8ad06e 108.5px,#94cf64 110.5px,#7fd079 111.5px,#47c8b7 112.5px,#3f92e5 113.5px,#3d489f 114.5px,#33255a 115.5px,#2f1c43 116.5px,#2e1b40 124.5px,#312150 125.5px,#3b3c8d 126.5px,#427ad9 127.5px,#37b0e1 128.5px,#3cc4c9 130.5px,#3cc4c8 133px)"></i><i style="background:linear-gradient(90deg,#2e1a3e 0,#2f1d45 53.5px,#322355 54.5px,#3a3480 55.5px,#405cbc 56.5px,#4088e0 57.5px,#37b6dc 58.5px,#5acd9e 59.5px,#91d067 60.5px,#a7cc51 62.5px,#a6cc52 68.5px,#9cce5c 69.5px,#79d07f 70.5px,#49c9b3 71.5px,#43c7bd 72.5px,#81d077 74.5px,#90d068 77.5px,#8bd06d 79.5px,#78d080 80.5px,#4ac9b2 81.5px,#3c9ee6 82.5px,#3f54b2 83.5px,#352964 84.5px,#2f1d45 85.5px,#2e1b40 87.5px,#31204e 88.5px,#3b3887 89.5px,#417edb 90.5px,#3cc4c8 91.5px,#77d081 92.5px,#96cf62 93.5px,#9ace5e 110.5px,#8ad06e 111.5px,#55cda3 112.5px,#3aa7e4 113.5px,#405aba 114.5px,#362a67 115.5px,#2f1d46 116.5px,#2e1b40 124.5px,#312150 125.5px,#3b3c8c 126.5px,#4279d9 127.5px,#37afe1 128.5px,#3cc4c9 130.5px,#3cc4c8 133px)"></i><i style="background:linear-gradient(90deg,#2e1a3e 0,#301f4a 19.5px,#2e1a3f 49.5px,#301e49 53.5px,#33265c 54.5px,#3b3887 55.5px,#405fbf 56.5px,#4088e0 57.5px,#37b5de 58.5px,#58cda0 59.5px,#91d067 60.5px,#a7cc51 62.5px,#9fcd59 69.5px,#84d074 70.5px,#54cca4 71.5px,#4bcab0 72.5px,#85d073 74.5px,#8dd06b 79.5px,#7fd079 80.5px,#55cda3 81.5px,#37b1e1 82.5px,#4165c5 83.5px,#382f72 84.5px,#301e49 85.5px,#2f1b42 87.5px,#322354 88.5px,#3c4194 89.5px,#408ae1 90.5px,#44c7bc 91.5px,#7ed07a 92.5px,#98cf60 93.5px,#9cce5c 110.5px,#91d067 111.5px,#67cf91 112.5px,#38b9d9 113.5px,#416dcd 114.5px,#393179 115.5px,#301f4b 116.5px,#2e1a3e 120.5px,#2e1b40 124.5px,#312150 125.5px,#3b3c8c 126.5px,#4279d8 127.5px,#37afe1 128.5px,#3cc4c9 130.5px,#3cc4c8 133px)"></i><i style="background:linear-gradient(90deg,#2e1a3e 0,#301e49 15.5px,#372d6f 21.5px,#2e1b3f 29.5px,#31214f 39.5px,#2e1a3f 47.5px,#322356 53.5px,#372d6d 54.5px,#4167c7 56.5px,#408be2 57.5px,#36b5df 58.5px,#55cda3 59.5px,#90d068 60.5px,#a7cc51 62.5px,#a1cd57 69.5px,#8bd06d 70.5px,#5fce99 71.5px,#53cca5 72.5px,#87d071 74.5px,#8ed06a 79.5px,#84d074 80.5px,#64ce94 81.5px,#39bcd3 82.5px,#4277d7 83.5px,#3a3785 84.5px,#31214f 85.5px,#2f1b41 86.5px,#2f1c43 87.5px,#33265c 88.5px,#3e4ba4 89.5px,#3e98e8 90.5px,#4bcab0 91.5px,#85d073 92.5px,#9ace5e 93.5px,#9dce5b 110.5px,#96cf62 111.5px,#76d082 112.5px,#3dc4c7 113.5px,#4182dd 114.5px,#3b3d8e 115.5px,#322252 116.5px,#2e1a3e 118.5px,#2e1b40 124.5px,#312150 125.5px,#3b3c8c 126.5px,#4279d8 127.5px,#37afe1 128.5px,#3cc3c9 130.5px,#3cc4c8 133px)"></i><i style="background:linear-gradient(90deg,#2e1a3e 0,#2f1c43 12.5px,#372e71 16.5px,#3f4fab 20.5px,#3f51ad 22.5px,#301f4a 28.5px,#2f1c44 32.5px,#393178 38.5px,#2f1b41 44.5px,#301f4b 49.5px,#393179 53.5px,#405bbb 55.5px,#3f92e5 57.5px,#36b4df 58.5px,#53cca5 59.5px,#8fd069 60.5px,#a7cc51 62.5px,#a2cd56 69.5px,#90d068 70.5px,#69cf8f 71.5px,#5dce9b 72.5px,#89d06f 74.5px,#88d070 80.5px,#6fd089 81.5px,#3fc5c4 82.5px,#408be1 83.5px,#3d459b 84.5px,#33255a 85.5px,#2f1d45 86.5px,#301e47 87.5px,#352a66 88.5px,#4057b7 89.5px,#3aa5e4 90.5px,#53cca5 91.5px,#8ad06e 92.5px,#9ece5a 94.5px,#9ece5a 106.5px,#99cf5f 111.5px,#83d075 112.5px,#4acab1 113.5px,#3e99e8 114.5px,#3e4ea8 115.5px,#34275e 116.5px,#2f1c44 117.5px,#2f1b41 124.5px,#312151 125.5px,#3b3c8c 126.5px,#4279d8 127.5px,#37afe1 128.5px,#3cc3c9 130.5px,#3cc4c8 133px)"></i><i style="background:linear-gradient(90deg,#2e1a3e 0,#2f1d46 11.5px,#383177 14.5px,#4163c3 17.5px,#4089e1 20.5px,#4181dc 23.5px,#405cbc 25.5px,#34265d 28.5px,#2f1d45 30.5px,#312150 32.5px,#4058b8 37.5px,#3f55b3 39.5px,#322354 43.5px,#2f1c44 46.5px,#352964 49.5px,#416aca 54.5px,#3f93e6 56.5px,#37b5de 58.5px,#52cca6 59.5px,#8ed06a 60.5px,#a7cc51 62.5px,#a3cd55 69.5px,#93cf65 70.5px,#72d086 71.5px,#67cf91 72.5px,#8bd06d 74.5px,#8bd06d 80.5px,#78d080 81.5px,#4acab1 82.5px,#3ba1e5 83.5px,#4059b9 84.5px,#372d6f 85.5px,#322251 86.5px,#322253 87.5px,#383177 88.5px,#4166c6 89.5px,#36b3e0 90.5px,#5fce99 91.5px,#8ed06a 92.5px,#9ece5a 95.5px,#95cf63 100.5px,#72d086 102.5px,#70d088 103.5px,#9bce5d 106.5px,#9bce5d 111.5px,#8dd06b 112.5px,#5bcd9d 113.5px,#37afe1 114.5px,#4161c1 115.5px,#372d6f 116.5px,#301e49 117.5px,#2f1c43 124.5px,#322354 125.5px,#3c3f91 126.5px,#427bd9 127.5px,#37b0e1 128.5px,#3cc4c9 130.5px,#3cc4c8 133px)"></i><i style="background:linear-gradient(90deg,#2e1a3e 0,#301e49 10.5px,#362c6d 12.5px,#416ece 15.5px,#3c9fe6 17.5px,#3ac0ce 20.5px,#38bad7 23.5px,#3f93e5 25.5px,#4272d2 26.5px,#3a3480 28.5px,#34265e 29.5px,#31214f 30.5px,#322252 31.5px,#3b3b8a 33.5px,#4056b5 34.5px,#4086df 36.5px,#3e96e7 38.5px,#4279d8 40.5px,#3c4397 42.5px,#332457 44.5px,#31214f 46.5px,#383177 48.5px,#416bcb 51.5px,#3ba2e5 54.5px,#36b4df 56.5px,#38bad8 58.5px,#55cda3 59.5px,#8fd069 60.5px,#a7cc51 62.5px,#a4cd54 69.5px,#71d087 72.5px,#8fd069 75.5px,#8dd06b 80.5px,#80d078 81.5px,#5bcd9d 82.5px,#37b8da 83.5px,#4277d7 84.5px,#3d459a 85.5px,#393179 86.5px,#393179 87.5px,#3d469c 88.5px,#417dda 89.5px,#3abed0 90.5px,#6dd08b 91.5px,#93d065 92.5px,#9ece5a 97.5px,#96cf62 99.5px,#7ad07e 100.5px,#4ccaaf 101.5px,#39bdd3 102.5px,#38bad7 103.5px,#44c7ba 104.5px,#91d067 106.5px,#9ece5a 110.5px,#94cf64 112.5px,#6fd089 113.5px,#3ac0ce 114.5px,#427bd9 115.5px,#3b3a89 116.5px,#322252 117.5px,#2e1b40 119.5px,#301f4a 124.5px,#352964 125.5px,#3e4aa2 126.5px,#4182dd 127.5px,#36b2e0 128.5px,#3cc4c9 130.5px,#3cc4c8 133px)"></i><i style="background:linear-gradient(90deg,#2e1a3e 0,#2f1b42 8.5px,#33265b 10.5px,#3d489f 12.5px,#4086df 14.5px,#3aa7e4 15.5px,#43c7bd 17.5px,#69cf8f 20.5px,#6acf8e 22.5px,#4bcab0 24.5px,#3bc0ce 25.5px,#3aa5e4 26.5px,#427ad9 27.5px,#39327c 29.5px,#352862 30.5px,#362a67 31.5px,#3b3b8a 32.5px,#405dbd 33.5px,#4184de 34.5px,#3aa7e4 35.5px,#3cc4c8 37.5px,#3ac0ce 39.5px,#37b2e1 40.5px,#3f91e5 41.5px,#416aca 42.5px,#382f74 44.5px,#342861 45.5px,#362b68 46.5px,#3f52ae 48.5px,#3f8de3 50.5px,#37b8da 52.5px,#4ac9b2 55.5px,#3bc1cc 57.5px,#3cc4c8 58.5px,#92d066 60.5px,#a7cc51 62.5px,#a4cd54 69.5px,#7cd07c 72.5px,#90d068 76.5px,#87d071 81.5px,#6fd089 82.5px,#44c7bc 83.5px,#3ba4e5 84.5px,#4277d7 85.5px,#4162c2 86.5px,#4161c1 87.5px,#4274d4 88.5px,#3ba4e5 89.5px,#48c9b5 90.5px,#7dd07b 91.5px,#97cf61 92.5px,#9bce5d 98.5px,#88d070 99.5px,#4fcca9 100.5px,#3aa6e4 101.5px,#4271d1 102.5px,#416bcb 103.5px,#3e97e8 104.5px,#43c7bd 105.5px,#7dd07b 106.5px,#98cf60 107.5px,#98cf60 112.5px,#83d075 113.5px,#4dcbad 114.5px,#3ba2e5 115.5px,#405bbb 116.5px,#372e71 117.5px,#31204e 118.5px,#2e1a3f 121.5px,#301e49 123.5px,#342862 124.5px,#3c3e90 125.5px,#4167c7 126.5px,#3e97e7 127.5px,#37b7db 128.5px,#3cc4c8 130.5px,#3cc4c8 133px)"></i><i style="background:linear-gradient(90deg,#2e1a3e 0,#301e48 8.5px,#33265b 9.5px,#3f52ae 11.5px,#4274d4 12.5px,#3d9ae7 13.5px,#38b9d8 14.5px,#76d082 17.5px,#95cf63 20.5px,#8ed06a 23.5px,#5fce99 25.5px,#3ec5c4 26.5px,#3aa5e4 27.5px,#4273d3 28.5px,#3e4ba3 29.5px,#3a3581 30.5px,#3b3988 31.5px,#4183dd 33.5px,#37b2e1 34.5px,#5cce9c 36.5px,#71d087 38.5px,#4ccaae 40.5px,#39bcd3 41.5px,#3e98e8 42.5px,#3d479e 44.5px,#3b3886 45.5px,#3c4092 46.5px,#417fdb 48.5px,#3aa5e4 49.5px,#48c9b5 51.5px,#77d081 54.5px,#6cd08c 56.5px,#57cda1 57.5px,#56cda2 58.5px,#97cf61 60.5px,#a8cc50 63.5px,#9dce5b 70.5px,#87d071 72.5px,#8cd06c 81.5px,#80d078 82.5px,#43c7be 84.5px,#37b8db 85.5px,#39a9e3 87.5px,#36b5df 88.5px,#40c6c2 89.5px,#8cd06c 91.5px,#9ece5a 94.5px,#98cf60 98.5px,#7cd07c 99.5px,#3cc4c7 100.5px,#427bd9 101.5px,#3c3d8e 102.5px,#3a3784 103.5px,#4168c8 104.5px,#37b8da 105.5px,#6cd08c 106.5px,#95cf63 107.5px,#9cce5c 112.5px,#92d066 113.5px,#71d087 114.5px,#40c5c2 115.5px,#3e97e8 116.5px,#405bbb 117.5px,#39327b 118.5px,#322354 119.5px,#2e1b41 121.5px,#2f1d46 122.5px,#34275f 123.5px,#3c4296 124.5px,#4170d0 125.5px,#3d9be7 126.5px,#37b5de 127.5px,#3cc4c8 130.5px,#3cc4c8 133px)"></i><i style="background:linear-gradient(90deg,#2e1a3e 0,#2f1c43 7.5px,#322354 8.5px,#39327a 9.5px,#417ddb 11.5px,#3aa7e4 12.5px,#3bc3ca 13.5px,#8cd06c 16.5px,#a7cc51 20.5px,#9ace5e 24.5px,#86d072 25.5px,#3bc2cc 27.5px,#3e99e8 28.5px,#4169c9 29.5px,#3f4faa 30.5px,#3f55b3 31.5px,#4277d7 32.5px,#39a9e3 33.5px,#44c7bc 34.5px,#6bcf8d 35.5px,#89d06f 36.5px,#97cf61 38.5px,#79d07f 40.5px,#39bcd4 42.5px,#3f92e5 43.5px,#4169c9 44.5px,#4058b8 45.5px,#4164c4 46.5px,#4086df 47.5px,#37b0e1 48.5px,#42c6bf 49.5px,#7ad07e 51.5px,#9bce5d 54.5px,#81d077 58.5px,#a5cd53 61.5px,#9fce59 70.5px,#8fd069 74.5px,#8ad06e 82.5px,#55cda3 86.5px,#55cda3 88.5px,#91d067 91.5px,#9dce5b 97.5px,#98cf60 98.5px,#7cd07c 99.5px,#3ec5c5 100.5px,#417edb 101.5px,#3c4195 102.5px,#3b3b8a 103.5px,#416bcb 104.5px,#38b9d8 105.5px,#6dd08b 106.5px,#95cf63 107.5px,#99ce5f 113.5px,#8ed06a 114.5px,#71d087 115.5px,#45c8b9 116.5px,#3aa5e4 117.5px,#416aca 118.5px,#3b3b8a 119.5px,#33255a 120.5px,#301f4a 121.5px,#332458 122.5px,#3b3c8c 123.5px,#4273d3 124.5px,#38aee2 125.5px,#3fc5c4 126.5px,#40c6c2 128.5px,#3cc4c8 133px)"></i><i style="background:linear-gradient(90deg,#2e1a3e 0,#301e49 7.5px,#352a67 8.5px,#3e49a1 9.5px,#427ad9 10.5px,#38ace2 11.5px,#42c6bf 12.5px,#82d076 14.5px,#a8cc50 17.5px,#a7cc51 24.5px,#81d077 26.5px,#52cca6 27.5px,#38b9d9 28.5px,#3f8ee3 29.5px,#4271d1 30.5px,#4276d6 31.5px,#3d9be7 32.5px,#3bc1cc 33.5px,#8bd06d 35.5px,#a6cc52 37.5px,#96cf62 40.5px,#79d07f 41.5px,#4ccbae 42.5px,#37b6dd 43.5px,#3f90e4 44.5px,#417edb 45.5px,#3f8ee3 46.5px,#36b2e0 47.5px,#45c8b9 48.5px,#8ad06e 50.5px,#a8cc50 53.5px,#a3cd55 60.5px,#9fcd59 70.5px,#90d068 77.5px,#87d071 86.5px,#56cda2 89.5px,#7bd07d 91.5px,#9ace5e 93.5px,#9ace5e 98.5px,#89d06f 99.5px,#55cda3 100.5px,#38afe2 101.5px,#417cda 102.5px,#4276d6 103.5px,#3ca0e6 104.5px,#47c9b6 105.5px,#7fd079 106.5px,#98cf60 107.5px,#94cf64 115.5px,#7fd079 116.5px,#50cca8 117.5px,#37b1e1 118.5px,#4271d1 119.5px,#3c3d8e 120.5px,#362b6a 121.5px,#3a3683 122.5px,#4168c8 123.5px,#38ace2 124.5px,#4dcbac 125.5px,#6bcf8d 126.5px,#3fc5c4 129.5px,#3cc4c8 133px)"></i><i style="background:linear-gradient(90deg,#2e1a3e 0,#2f1c42 6.5px,#322252 7.5px,#3a3581 8.5px,#4166c6 9.5px,#3ba1e5 10.5px,#40c6c1 11.5px,#8ad06e 13.5px,#abcb4e 16.5px,#a6cc52 25.5px,#96cf62 26.5px,#46c8b7 28.5px,#36b3e0 29.5px,#3e99e8 30.5px,#3c9de6 31.5px,#38bad8 32.5px,#50cca9 33.5px,#7fd079 34.5px,#9cce5c 35.5px,#aecb4d 38.5px,#a4cd54 40.5px,#93d065 41.5px,#44c7bb 43.5px,#36b5de 44.5px,#3aa8e4 45.5px,#37b5de 46.5px,#44c7bc 47.5px,#8ed06a 49.5px,#a9cc4f 51.5px,#a3cd55 70.5px,#97cf61 81.5px,#9bce5d 85.5px,#88d070 86.5px,#54cda4 87.5px,#39bbd5 88.5px,#39aae3 89.5px,#36b5de 90.5px,#47c8b7 91.5px,#77d081 92.5px,#97cf61 93.5px,#a0cd58 98.5px,#9ace5e 99.5px,#83d075 100.5px,#58cda0 101.5px,#3ec5c5 102.5px,#3cc3c9 103.5px,#4ecbab 104.5px,#96cf62 106.5px,#a2cd56 114.5px,#9ece5a 116.5px,#89d06f 117.5px,#53cca5 118.5px,#38aee2 119.5px,#416ece 120.5px,#3e4ea8 121.5px,#4162c2 122.5px,#3c9fe6 123.5px,#49c9b4 124.5px,#7ed07a 125.5px,#8bd06d 126.5px,#4ccaaf 128.5px,#3dc4c7 130.5px,#3cc4c8 133px)"></i><i style="background:linear-gradient(90deg,#2e1a3e 0,#2f1d45 6.5px,#34275e 7.5px,#3d479d 8.5px,#4183dd 9.5px,#39bcd4 10.5px,#8ad06e 12.5px,#a8cc50 14.5px,#abcb4e 25.5px,#8cd06c 27.5px,#43c7bd 29.5px,#39bcd4 30.5px,#3abed1 31.5px,#49c9b4 32.5px,#94cf64 34.5px,#adcb4d 36.5px,#abcb4e 40.5px,#89d06f 42.5px,#44c7bc 44.5px,#3cc3ca 45.5px,#45c8ba 46.5px,#89d06f 48.5px,#abcb4e 50.5px,#a9cc50 70.5px,#a4cd54 84.5px,#9ace5e 85.5px,#68cf90 86.5px,#36b5df 87.5px,#4272d2 88.5px,#4055b4 89.5px,#4166c6 90.5px,#3ba1e5 91.5px,#4fcca9 92.5px,#8fd069 93.5px,#a3cd55 94.5px,#a0cd58 100.5px,#85d073 103.5px,#a8cc50 107.5px,#a1cd57 117.5px,#84d074 118.5px,#4acab1 119.5px,#39a9e3 120.5px,#4088e0 121.5px,#3d9de7 122.5px,#3fc5c3 123.5px,#76d082 124.5px,#98cf60 125.5px,#96cf62 126.5px,#4dcbad 128.5px,#3dc4c7 130.5px,#3cc4c8 133px)"></i><i style="background:linear-gradient(90deg,#2e1a3e 0,#301f4a 6.5px,#372d6f 7.5px,#405bbb 8.5px,#3c9fe6 9.5px,#47c8b6 10.5px,#7cd07c 11.5px,#9bce5d 12.5px,#aecb4c 15.5px,#a8cc50 26.5px,#84d074 28.5px,#51cca7 30.5px,#54cca4 31.5px,#a0cd58 34.5px,#b1ca4b 38.5px,#a9cc50 41.5px,#7fd079 43.5px,#62ce96 44.5px,#57cda1 45.5px,#64cf94 46.5px,#9bce5d 48.5px,#b2ca4a 51.5px,#a8cc50 84.5px,#95cf63 85.5px,#4dcbad 86.5px,#408ae1 87.5px,#3c3e90 88.5px,#352964 89.5px,#3a3480 90.5px,#4273d3 91.5px,#3cc3c9 92.5px,#85d073 93.5px,#a6cc52 94.5px,#aacc4f 117.5px,#9dce5b 118.5px,#7ad07e 119.5px,#4acab1 120.5px,#3bc1cd 121.5px,#43c7bc 122.5px,#95cf63 124.5px,#a2cd56 125.5px,#99cf5f 126.5px,#4ecbac 128.5px,#3dc4c6 130.5px,#3dc4c7 133px)"></i><i style="background:linear-gradient(90deg,#2e1a3e 0,#2f1b41 5.5px,#312151 6.5px,#3a3683 7.5px,#4170d0 8.5px,#37b6dd 9.5px,#5dce9b 10.5px,#8fd069 11.5px,#accb4e 13.5px,#accb4e 26.5px,#7cd07c 30.5px,#8dd06b 32.5px,#aecb4c 35.5px,#aecb4d 41.5px,#7cd07c 45.5px,#afcb4c 49.5px,#abcb4e 84.5px,#95cf63 85.5px,#4bcab1 86.5px,#4184de 87.5px,#3b3886 88.5px,#33255a 89.5px,#383076 90.5px,#416ece 91.5px,#3bc2cb 92.5px,#86d072 93.5px,#a8cc50 94.5px,#a8cc50 118.5px,#70d088 121.5px,#a3cd55 124.5px,#99ce5f 126.5px,#51cca7 128.5px,#41c6c0 130.5px,#41c6c0 133px)"></i><i style="background:linear-gradient(90deg,#2e1a3e 0,#2f1c43 5.5px,#33255a 6.5px,#3d4499 7.5px,#4085df 8.5px,#3bc2ca 9.5px,#72d086 10.5px,#9ace5e 11.5px,#adcb4d 13.5px,#abcb4e 27.5px,#9ace5e 31.5px,#b2ca4a 37.5px,#adcb4d 42.5px,#98cf60 45.5px,#b6c947 51.5px,#adcb4d 84.5px,#9dce5b 85.5px,#62ce96 86.5px,#39a8e3 87.5px,#4060c0 88.5px,#3c4295 89.5px,#3f55b3 90.5px,#3e96e7 91.5px,#4dcbad 92.5px,#94cf64 93.5px,#abcb4e 94.5px,#a7cc51 119.5px,#9cce5c 122.5px,#a7cc51 125.5px,#82d076 127.5px,#55cda3 129.5px,#50cca8 133px)"></i><i style="background:linear-gradient(90deg,#2e1a3e 0,#301d46 5.5px,#352a66 6.5px,#3f54b1 7.5px,#3d9ae7 8.5px,#48c9b4 9.5px,#83d075 10.5px,#a0cd58 11.5px,#afcb4c 16.5px,#adcb4d 33.5px,#afcb4c 43.5px,#b5c948 48.5px,#afcb4c 84.5px,#a8cc50 85.5px,#8bd06d 86.5px,#4dcbad 87.5px,#37b1e1 88.5px,#3e98e8 89.5px,#3aa7e4 90.5px,#42c6be 91.5px,#7dd07b 92.5px,#a3cd55 93.5px,#b0ca4b 97.5px,#a0cd58 126.5px,#7bd07d 129.5px,#77d081 133px)"></i><i style="background:linear-gradient(90deg,#2e1a3e 0,#2e1b40 4.5px,#301f4a 5.5px,#382f73 6.5px,#4163c3 7.5px,#38ace2 8.5px,#56cda2 9.5px,#8fd069 10.5px,#accb4e 12.5px,#b9c946 65.5px,#adcb4d 85.5px,#8fd069 87.5px,#5fce99 89.5px,#69cf8f 90.5px,#a0cd58 92.5px,#b0ca4b 96.5px,#abcb4e 113.5px,#98cf60 117.5px,#a8cc50 122.5px,#93cf65 133px)"></i><i style="background:linear-gradient(90deg,#2e1a3e 0,#2f1b41 4.5px,#31214f 5.5px,#3a3682 6.5px,#4271d1 7.5px,#38b8d9 8.5px,#65cf93 9.5px,#95cf63 10.5px,#accb4e 12.5px,#c2c643 48.5px,#b3ca49 68.5px,#a9cc4f 87.5px,#a2cd56 90.5px,#b0ca4b 97.5px,#abcb4e 112.5px,#9fce59 113.5px,#5ece9a 115.5px,#4dcbad 116.5px,#55cda3 117.5px,#95cf63 119.5px,#a6cc52 122.5px,#9ace5e 133px)"></i><i style="background:linear-gradient(90deg,#2e1a3e 0,#2f1c42 4.5px,#322355 5.5px,#3c3e90 6.5px,#417edb 7.5px,#3ac0ce 8.5px,#6fd089 9.5px,#99cf5f 10.5px,#abcb4e 12.5px,#bfc744 42.5px,#cac442 55.5px,#bbc845 65.5px,#98cf60 70.5px,#b0ca4b 82.5px,#adcb4d 111.5px,#a4cd54 112.5px,#81d077 113.5px,#43c7bc 114.5px,#3ba2e5 115.5px,#4087e0 116.5px,#3e97e8 117.5px,#3abfcf 118.5px,#6acf8e 119.5px,#96cf62 120.5px,#a2cd56 123.5px,#98cf60 133px)"></i><i style="background:linear-gradient(90deg,#2e1a3e 0,#2f1c44 4.5px,#33265c 5.5px,#3d479e 6.5px,#408ae1 7.5px,#3ec5c5 8.5px,#77d081 9.5px,#9bce5d 10.5px,#accb4e 13.5px,#bec744 40.5px,#d7c040 53.5px,#c2c643 64.5px,#a4cd54 66.5px,#62ce96 68.5px,#4ecbab 70.5px,#5dce9b 73.5px,#a0cd58 77.5px,#b0ca4b 85.5px,#abcb4e 111.5px,#99cf5f 112.5px,#58cda0 113.5px,#3c9ee6 114.5px,#4056b5 115.5px,#3b3987 116.5px,#3e4aa3 117.5px,#4088e0 118.5px,#42c6be 119.5px,#81d077 120.5px,#9bce5d 121.5px,#94cf64 133px)"></i><i style="background:linear-gradient(90deg,#2e1a3e 0,#301d47 4.5px,#352964 5.5px,#3f50ac 6.5px,#3e95e7 7.5px,#44c7bc 8.5px,#7cd07c 9.5px,#9cce5c 10.5px,#abcb4e 14.5px,#bec844 39.5px,#e0ba40 53.5px,#c4c643 64.5px,#b3ca49 65.5px,#8ed06a 66.5px,#4acab2 67.5px,#37b0e1 68.5px,#3e97e7 69.5px,#3e94e6 72.5px,#37b8db 74.5px,#57cda1 76.5px,#99ce5f 79.5px,#afcb4c 83.5px,#aecb4d 110.5px,#a9cc4f 111.5px,#91d067 112.5px,#47c8b7 113.5px,#417fdc 114.5px,#3a3582 115.5px,#322457 116.5px,#372e71 117.5px,#4168c8 118.5px,#39bbd5 119.5px,#72d086 120.5px,#96cf62 121.5px,#8fd069 133px)"></i><i style="background:linear-gradient(90deg,#2e1a3e 0,#301f4b 4.5px,#372d6e 5.5px,#405aba 6.5px,#3c9ee6 7.5px,#48c9b5 8.5px,#7fd079 9.5px,#9cce5c 10.5px,#abcb4e 15.5px,#bcc844 38.5px,#e9b340 52.5px,#c6c543 64.5px,#b3ca4a 65.5px,#81d077 66.5px,#3abed0 67.5px,#427cda 68.5px,#3f50ab 69.5px,#3c4093 70.5px,#3d4499 72.5px,#4183de 75.5px,#3ba2e5 76.5px,#39bbd5 77.5px,#61ce97 79.5px,#96cf62 81.5px,#afcb4c 84.5px,#b2ca4a 108.5px,#a9cc4f 111.5px,#93cf65 112.5px,#4ccaae 113.5px,#408ce2 114.5px,#3c4296 115.5px,#362c6b 116.5px,#3b3886 117.5px,#4274d4 118.5px,#3abfcf 119.5px,#74d084 120.5px,#94cf64 121.5px,#89d06f 133px)"></i><i style="background:linear-gradient(90deg,#2e1a3e 0,#2f1c42 3.5px,#312150 4.5px,#39327a 5.5px,#4162c2 6.5px,#3aa5e4 7.5px,#4ccaaf 8.5px,#80d078 9.5px,#9cce5c 10.5px,#aacc4f 16.5px,#bdc844 38.5px,#edac3f 52.5px,#c9c442 64.5px,#b7c947 65.5px,#8ad06e 66.5px,#3bc1cd 67.5px,#4272d2 68.5px,#3a3682 69.5px,#332559 70.5px,#322355 72.5px,#382f73 74.5px,#416fcf 77.5px,#3f8ee3 78.5px,#38afe2 79.5px,#3ec5c4 80.5px,#8bd06d 82.5px,#accb4e 84.5px,#bdc844 105.5px,#abcb4e 111.5px,#9cce5c 112.5px,#6bcf8d 113.5px,#38b8da 114.5px,#427cda 115.5px,#4060c0 116.5px,#4170d0 117.5px,#3aa6e4 118.5px,#4dcbad 119.5px,#81d077 120.5px,#93cf65 121.5px,#82d076 133px)"></i><i style="background:linear-gradient(90deg,#2e1a3e 0,#2f1c44 3.5px,#322356 4.5px,#3b3785 5.5px,#416aca 6.5px,#38ace2 7.5px,#4ecbab 8.5px,#81d077 9.5px,#9bce5d 10.5px,#a9cc4f 16.5px,#bec744 38.5px,#edad3f 49.5px,#edac3f 54.5px,#ccc342 64.5px,#bcc844 65.5px,#99ce5f 66.5px,#46c8b8 67.5px,#4182dd 68.5px,#3b3988 69.5px,#312150 70.5px,#2f1b42 72.5px,#322253 75.5px,#3d459a 78.5px,#4087e0 80.5px,#37b6dc 81.5px,#52cca6 82.5px,#85d073 83.5px,#a1cd57 84.5px,#b0ca4b 88.5px,#bfc744 99.5px,#cbc442 104.5px,#a5cd53 112.5px,#90d068 113.5px,#3bc2cb 115.5px,#37b6de 116.5px,#39bcd4 117.5px,#4bcab0 118.5px,#74d084 119.5px,#8dd06b 120.5px,#7dd07b 133px)"></i><i style="background:linear-gradient(90deg,#2e1a3e 0,#2f1d46 3.5px,#33255b 4.5px,#3c3d8e 5.5px,#4271d1 6.5px,#37b0e1 7.5px,#50cca9 8.5px,#82d076 9.5px,#a3cd55 11.5px,#bec744 38.5px,#ecb040 48.5px,#efa63d 53.5px,#d2c241 63.5px,#c3c643 65.5px,#a7cc51 66.5px,#5bcd9d 67.5px,#3e99e8 68.5px,#3d479e 69.5px,#332457 70.5px,#2f1c42 71.5px,#31204c 77.5px,#372e71 79.5px,#3d479e 80.5px,#4274d4 81.5px,#37afe1 82.5px,#4fcbaa 83.5px,#85d073 84.5px,#a1cd57 85.5px,#b0ca4b 89.5px,#bfc744 98.5px,#d9bf40 103.5px,#a1cd57 113.5px,#6acf8e 116.5px,#91d067 120.5px,#77d081 133px)"></i><i style="background:linear-gradient(90deg,#2e1a3e 0,#301e47 3.5px,#34275f 4.5px,#3c4194 5.5px,#4275d5 6.5px,#36b3e0 7.5px,#51cca7 8.5px,#82d076 9.5px,#a2cd56 11.5px,#bec744 38.5px,#edac3f 49.5px,#eeaa3e 54.5px,#c7c542 65.5px,#b0ca4b 66.5px,#73d085 67.5px,#37b0e1 68.5px,#405aba 69.5px,#352964 70.5px,#2f1d45 71.5px,#2f1c43 78.5px,#342860 80.5px,#3c3f91 81.5px,#4170d0 82.5px,#38aee2 83.5px,#4fcbaa 84.5px,#85d073 85.5px,#a1cd57 86.5px,#b0ca4b 91.5px,#bdc844 97.5px,#e1b940 102.5px,#d6c040 106.5px,#aacc4f 112.5px,#92d066 118.5px,#72d086 133px)"></i><i style="background:linear-gradient(90deg,#2e1a3e 0,#301e48 3.5px,#342861 4.5px,#3d4398 5.5px,#4278d7 6.5px,#36b5df 7.5px,#52cca6 8.5px,#81d077 9.5px,#a1cd57 11.5px,#bec744 38.5px,#eeaa3e 51.5px,#c9c442 65.5px,#b6c947 66.5px,#89d06f 67.5px,#3ac0ce 68.5px,#416fcf 69.5px,#383077 70.5px,#301f4a 71.5px,#2e1a3e 76.5px,#301e47 80.5px,#34265d 81.5px,#3c3e8f 82.5px,#4170d0 83.5px,#37afe1 84.5px,#51cca7 85.5px,#8bd06d 86.5px,#a5cd53 87.5px,#c0c743 97.5px,#e7b440 102.5px,#d3c141 107.5px,#aacc4f 112.5px,#6fd089 131.5px,#6ed08a 133px)"></i><i style="background:linear-gradient(90deg,#2e1a3e 0,#301e49 3.5px,#352862 4.5px,#3d459a 5.5px,#4279d8 6.5px,#36b5de 7.5px,#52cca6 8.5px,#81d077 9.5px,#a0cd58 11.5px,#bec744 38.5px,#ecb040 52.5px,#cac442 65.5px,#bbc845 66.5px,#9ace5e 67.5px,#49c9b3 68.5px,#4088e0 69.5px,#3c3e8f 70.5px,#322252 71.5px,#2e1a3e 73.5px,#301e47 81.5px,#34265d 82.5px,#3c3f91 83.5px,#4275d5 84.5px,#37b7db 85.5px,#64ce94 86.5px,#98cf60 87.5px,#afcb4c 89.5px,#bac845 96.5px,#eab140 102.5px,#d6c140 107.5px,#a9cc4f 112.5px,#6cd08c 130.5px,#6acf8e 133px)"></i><i style="background:linear-gradient(90deg,#2e1a3e 0,#301e49 3.5px,#352963 4.5px,#3d459b 5.5px,#427ad9 6.5px,#37b6dd 7.5px,#53cca5 8.5px,#81d077 9.5px,#9fcd59 11.5px,#c1c743 39.5px,#e4b640 53.5px,#cac442 65.5px,#a8cc50 67.5px,#64ce94 68.5px,#3aa6e4 69.5px,#3f54b2 70.5px,#352862 71.5px,#2f1d45 72.5px,#2e1b40 81.5px,#301e48 82.5px,#352862 83.5px,#3e4aa3 84.5px,#3f8fe4 85.5px,#45c8b9 86.5px,#88d070 87.5px,#a6cc52 88.5px,#c2c643 97.5px,#eab240 102.5px,#d6c140 107.5px,#a9cc50 112.5px,#6acf8e 129.5px,#67cf91 133px)"></i><i style="background:linear-gradient(90deg,#2e1a3e 0,#301e49 3.5px,#352964 4.5px,#3d469c 5.5px,#427bda 6.5px,#37b6dd 7.5px,#53cca5 8.5px,#81d077 9.5px,#9fce59 11.5px,#c0c743 39.5px,#ddbc40 53.5px,#c2c643 66.5px,#b1ca4b 67.5px,#82d076 68.5px,#3abed0 69.5px,#4270d0 70.5px,#39337c 71.5px,#31204c 72.5px,#2e1a3e 75.5px,#2f1b41 82.5px,#31204e 83.5px,#3a3581 84.5px,#4274d4 85.5px,#3abfcf 86.5px,#7ad07e 87.5px,#a3cd55 88.5px,#b0ca4b 92.5px,#c0c743 97.5px,#e6b540 102.5px,#d2c241 107.5px,#a3cd55 113.5px,#69cf8f 128.5px,#65cf93 133px)"></i><i style="background:linear-gradient(90deg,#2e1a3e 0,#301f49 3.5px,#352965 4.5px,#3d479e 5.5px,#417cda 6.5px,#37b7dc 7.5px,#54cca4 8.5px,#81d077 9.5px,#9ece5a 11.5px,#c1c743 40.5px,#d5c140 54.5px,#c2c643 66.5px,#b6c947 67.5px,#99cf5f 68.5px,#4dcbac 69.5px,#3f93e6 70.5px,#3d489f 71.5px,#33255a 72.5px,#2f1c43 73.5px,#2e1b3f 82.5px,#301e48 83.5px,#372e71 84.5px,#4167c7 85.5px,#38b8da 86.5px,#71d087 87.5px,#a0cd58 88.5px,#b0ca4b 91.5px,#bcc844 97.5px,#dfba40 102.5px,#d4c141 106.5px,#a2cd56 113.5px,#66cf92 128.5px,#63ce95 133px)"></i><i style="background:linear-gradient(90deg,#2e1a3e 0,#301f4a 3.5px,#352a66 4.5px,#3d48a0 5.5px,#417edb 6.5px,#37b8da 7.5px,#55cda3 8.5px,#81d077 9.5px,#9ece5a 11.5px,#bec744 40.5px,#ccc442 56.5px,#b9c946 67.5px,#a7cc51 68.5px,#6fd089 69.5px,#36b5de 70.5px,#4164c4 71.5px,#372e71 72.5px,#301e49 73.5px,#2e1a3e 80.5px,#301d46 83.5px,#362c6b 84.5px,#4160c0 85.5px,#36b4e0 86.5px,#6acf8e 87.5px,#9ece5a 88.5px,#b0ca4b 90.5px,#bec744 98.5px,#d7c040 103.5px,#99ce5f 115.5px,#65cf93 128.5px,#61ce97 133px)"></i><i style="background:linear-gradient(90deg,#2e1a3e 0,#301f4a 3.5px,#362a68 4.5px,#3e4aa3 5.5px,#4181dc 6.5px,#38b9d8 7.5px,#58cda0 8.5px,#83d075 9.5px,#9ece5a 11.5px,#a7cc51 31.5px,#9ece5a 36.5px,#c3c643 44.5px,#bec744 66.5px,#afcb4c 68.5px,#8cd06c 69.5px,#42c7be 70.5px,#4085df 71.5px,#3c4092 72.5px,#322356 73.5px,#2e1a3f 75.5px,#301d46 83.5px,#362b69 84.5px,#405ebe 85.5px,#37b0e1 86.5px,#67cf91 87.5px,#9dce5b 88.5px,#b0ca4b 90.5px,#c3c643 100.5px,#c5c543 105.5px,#89d06f 118.5px,#62ce96 129.5px,#60ce98 133px)"></i><i style="background:linear-gradient(90deg,#2e1a3e 0,#301f4b 3.5px,#362b6a 4.5px,#3e4da7 5.5px,#4084de 6.5px,#39bbd5 7.5px,#84d074 9.5px,#9ece5a 11.5px,#aacc4f 28.5px,#80d078 31.5px,#4fccaa 34.5px,#59cd9f 37.5px,#abcb4e 41.5px,#c0c743 46.5px,#b9c946 67.5px,#9dce5b 69.5px,#60ce98 70.5px,#39abe3 71.5px,#405ebe 72.5px,#372e71 73.5px,#311f4c 74.5px,#2e1a3e 79.5px,#301f4a 83.5px,#382f73 84.5px,#4165c5 85.5px,#37b6de 86.5px,#6ccf8c 87.5px,#9ece5a 88.5px,#b0ca4b 90.5px,#b8c946 106.5px,#89d06f 118.5px,#61ce97 129.5px,#5fce99 133px)"></i><i style="background:linear-gradient(90deg,#2e1a3e 0,#31204d 3.5px,#372d6e 4.5px,#3f51ae 5.5px,#408ae1 6.5px,#3abed1 7.5px,#5fce99 8.5px,#87d071 9.5px,#9ece5a 11.5px,#a7cc51 27.5px,#98cf60 28.5px,#4ecbab 30.5px,#39bdd3 31.5px,#3aa5e4 32.5px,#4181dc 34.5px,#408ae1 37.5px,#3c9ee6 38.5px,#37b7db 39.5px,#47c9b6 40.5px,#9bce5d 42.5px,#b8c946 44.5px,#b4ca49 68.5px,#a8cc50 69.5px,#81d077 70.5px,#3fc5c4 71.5px,#4089e1 72.5px,#3e4ba4 73.5px,#362a68 74.5px,#301f4c 75.5px,#2e1a3e 80.5px,#2f1c44 82.5px,#332559 83.5px,#3c4093 84.5px,#4180dc 85.5px,#3bc3ca 86.5px,#7cd07c 87.5px,#a3cd55 88.5px,#b0ca4b 92.5px,#b1ca4a 107.5px,#88d070 118.5px,#62ce96 128.5px,#5fce99 133px)"></i><i style="background:linear-gradient(90deg,#2e1a3e 0,#31214f 3.5px,#382f74 4.5px,#4057b6 5.5px,#3f90e4 6.5px,#3bc1cc 7.5px,#64cf94 8.5px,#8ad06e 9.5px,#a0cd58 12.5px,#a7cc51 26.5px,#94cf64 27.5px,#64ce94 28.5px,#39bdd2 29.5px,#3f90e4 30.5px,#3e4aa2 32.5px,#383076 34.5px,#382f74 36.5px,#3c4296 38.5px,#417fdc 40.5px,#37b2e1 41.5px,#52cca6 42.5px,#91d067 43.5px,#adcb4d 44.5px,#b9c946 50.5px,#aecb4c 69.5px,#9ace5e 70.5px,#66cf92 71.5px,#38bbd6 72.5px,#4180dc 73.5px,#3e4ca5 74.5px,#372d6e 75.5px,#312150 76.5px,#2f1b41 80.5px,#322252 82.5px,#3a337e 83.5px,#4166c6 84.5px,#38ace2 85.5px,#57cda1 86.5px,#92d066 87.5px,#a9cc50 88.5px,#adcb4d 108.5px,#82d076 119.5px,#60ce98 129.5px,#5ece9a 133px)"></i><i style="background:linear-gradient(90deg,#2e1a3e 0,#2f1c43 2.5px,#322252 3.5px,#39327b 4.5px,#405dbd 5.5px,#3e98e8 6.5px,#3dc4c6 7.5px,#69cf8f 8.5px,#8cd06c 9.5px,#9fcd59 12.5px,#a9cc50 25.5px,#9ace5e 26.5px,#69cf8f 27.5px,#38b8da 28.5px,#4274d4 29.5px,#3c4296 30.5px,#362b6a 31.5px,#301f4a 33.5px,#301e48 37.5px,#34275f 39.5px,#3a3582 40.5px,#405ebe 41.5px,#3ca0e6 42.5px,#50cca8 43.5px,#97cf61 44.5px,#b0ca4b 45.5px,#b1ca4b 69.5px,#a8cc50 70.5px,#91d067 71.5px,#5fce99 72.5px,#39bcd5 73.5px,#4088e0 74.5px,#39327c 76.5px,#33265b 77.5px,#31214f 79.5px,#33265c 81.5px,#39327c 82.5px,#405bbb 83.5px,#3d9be7 84.5px,#46c8b8 85.5px,#81d077 86.5px,#a2cd56 87.5px,#b0ca4b 91.5px,#a3cd55 112.5px,#62ce96 127.5px,#5ece9a 133px)"></i><i style="background:linear-gradient(90deg,#2e1a3e 0,#2f1d44 2.5px,#322356 3.5px,#3a3582 4.5px,#4163c3 5.5px,#3c9ee6 6.5px,#42c6bf 7.5px,#6ed08a 8.5px,#8fd069 9.5px,#a0cd58 13.5px,#a5cd53 25.5px,#87d071 26.5px,#40c6c1 27.5px,#417fdc 28.5px,#3b3c8c 29.5px,#322456 30.5px,#2e1b41 32.5px,#2f1c43 39.5px,#31204d 40.5px,#372d6f 41.5px,#405ebe 42.5px,#36b3e0 43.5px,#73d085 44.5px,#a7cc51 45.5px,#b5c948 48.5px,#aecb4c 70.5px,#92d066 72.5px,#3bc2cb 74.5px,#3e98e8 75.5px,#4167c7 76.5px,#3d489f 77.5px,#3b3b8c 78.5px,#3c3f91 80.5px,#3e4aa3 81.5px,#4165c5 82.5px,#3e96e7 83.5px,#3ec5c5 84.5px,#75d083 85.5px,#9cce5c 86.5px,#afcb4c 88.5px,#9fcd59 113.5px,#62ce96 127.5px,#5ece9a 133px)"></i><i style="background:linear-gradient(90deg,#2e1a3e 0,#2f1d46 2.5px,#33255a 3.5px,#3b3a89 4.5px,#416aca 5.5px,#3aa5e4 6.5px,#46c8b8 7.5px,#73d085 8.5px,#91d067 9.5px,#a0cd58 14.5px,#a9cc4f 24.5px,#a1cd57 25.5px,#76d082 26.5px,#37b7dc 27.5px,#405dbd 28.5px,#352963 29.5px,#2f1c44 30.5px,#2e1b41 40.5px,#31214f 41.5px,#3b3c8c 42.5px,#3f90e4 43.5px,#59cd9f 44.5px,#9fcd59 45.5px,#b3ca49 47.5px,#aecb4d 71.5px,#96cf62 73.5px,#46c8b8 75.5px,#37b2e1 76.5px,#3f93e5 77.5px,#4086df 79.5px,#3e99e8 81.5px,#37b1e1 82.5px,#42c6bf 83.5px,#98cf60 85.5px,#aecb4c 87.5px,#98cf60 115.5px,#62ce96 127.5px,#5ece9a 133px)"></i><i style="background:linear-gradient(90deg,#2e1a3e 0,#301e47 2.5px,#34275e 3.5px,#3c3f91 4.5px,#4270d0 5.5px,#38ace2 6.5px,#4acab1 7.5px,#77d081 8.5px,#92d066 9.5px,#a3cd55 17.5px,#a9cc4f 24.5px,#a1cd57 25.5px,#75d083 26.5px,#37b6dd 27.5px,#405dbd 28.5px,#352862 29.5px,#2f1c44 30.5px,#2e1b40 40.5px,#31204e 41.5px,#3b3a8a 42.5px,#3f8fe3 43.5px,#57cda1 44.5px,#9ece5a 45.5px,#b2ca4a 47.5px,#a9cc4f 73.5px,#83d075 75.5px,#4bcab0 77.5px,#46c8b8 79.5px,#64cf94 82.5px,#a8cc50 85.5px,#a8cc50 96.5px,#8dd06b 105.5px,#9ace5e 114.5px,#62ce96 127.5px,#5ece9a 133px)"></i><i style="background:linear-gradient(90deg,#2e1a3e 0,#301e49 2.5px,#352862 3.5px,#3d4499 4.5px,#4277d7 5.5px,#36b3e0 6.5px,#4fcbaa 7.5px,#7cd07c 8.5px,#94cf64 9.5px,#aacc4f 24.5px,#a4cd54 25.5px,#85d073 26.5px,#3ec5c4 27.5px,#417cda 28.5px,#3b3a89 29.5px,#322354 30.5px,#2e1b40 32.5px,#2f1c42 39.5px,#301f4b 40.5px,#362c6a 41.5px,#405aba 42.5px,#38aee2 43.5px,#6dd08b 44.5px,#a3cd55 45.5px,#b1ca4a 48.5px,#abcb4e 74.5px,#8cd06c 78.5px,#b0ca4b 87.5px,#a5cc53 95.5px,#72d086 103.5px,#83d075 109.5px,#98cf60 114.5px,#60ce98 128.5px,#5ece9a 133px)"></i><i style="background:linear-gradient(90deg,#2e1a3e 0,#301f4a 2.5px,#352a67 3.5px,#3e49a1 4.5px,#417fdb 5.5px,#37b8da 6.5px,#55cda3 7.5px,#80d078 8.5px,#9cce5c 10.5px,#a8cc50 25.5px,#99ce5f 26.5px,#66cf92 27.5px,#37b6dd 28.5px,#4270d0 29.5px,#3c3f91 30.5px,#352a67 31.5px,#301f49 33.5px,#31204e 38.5px,#33265c 39.5px,#39327c 40.5px,#4059b8 41.5px,#3e99e8 42.5px,#4acab2 43.5px,#8fd069 44.5px,#aacc4f 45.5px,#aacc4f 93.5px,#59cd9f 102.5px,#53cca5 107.5px,#94cf64 114.5px,#5fce99 129.5px,#5ece9a 133px)"></i><i style="background:linear-gradient(90deg,#2e1a3f 0,#31204d 2.5px,#372c6d 3.5px,#3f4fab 4.5px,#4087df 5.5px,#39bcd4 6.5px,#84d074 8.5px,#9dce5b 10.5px,#a6cc52 26.5px,#92d066 27.5px,#5fce99 28.5px,#38bbd6 29.5px,#408be1 30.5px,#3d479d 32.5px,#382f73 34.5px,#372d6f 36.5px,#3c3e90 38.5px,#4278d8 40.5px,#39a9e3 41.5px,#4ac9b2 42.5px,#84d074 43.5px,#a4cd54 44.5px,#b1ca4b 49.5px,#abcb4e 92.5px,#7dd07b 96.5px,#4ecbab 100.5px,#38b8d9 106.5px,#3cc4c8 109.5px,#82d076 113.5px,#91d067 116.5px,#60ce98 128.5px,#5ece9a 133px)"></i><i style="background:linear-gradient(90deg,#2e1a3f 0,#312151 2.5px,#383076 3.5px,#4058b7 4.5px,#3f90e4 5.5px,#3bc1cc 6.5px,#63ce95 7.5px,#88d070 8.5px,#9dce5b 10.5px,#a6cc52 27.5px,#96cf62 28.5px,#4bcab1 30.5px,#38bad7 31.5px,#3ba1e5 32.5px,#427bda 34.5px,#4277d7 36.5px,#3e97e7 38.5px,#37b2e1 39.5px,#3fc5c3 40.5px,#8ed06a 42.5px,#aecb4d 44.5px,#accb4e 68.5px,#98cf60 71.5px,#b0ca4b 77.5px,#a9cc50 92.5px,#7ed07a 95.5px,#4ecbac 98.5px,#36b4df 102.5px,#417fdb 105.5px,#417edb 108.5px,#3ba3e5 110.5px,#39bbd5 111.5px,#6bcf8d 113.5px,#8dd06b 115.5px,#72d086 122.5px,#5ece9a 133px)"></i><i style="background:linear-gradient(90deg,#2e1b40 0,#332458 2.5px,#3a3684 3.5px,#4163c3 4.5px,#3d9de7 5.5px,#40c5c2 6.5px,#6bcf8d 7.5px,#8dd06b 8.5px,#9fcd59 12.5px,#a9cc50 28.5px,#7cd07c 31.5px,#49c9b3 34.5px,#46c8b8 36.5px,#74d084 39.5px,#aacc4f 42.5px,#aacc4f 67.5px,#99cf5f 68.5px,#57cda1 70.5px,#4dcbac 71.5px,#5bcd9d 72.5px,#9cce5c 74.5px,#b0ca4b 76.5px,#a6cc52 92.5px,#4dcbad 97.5px,#3abfd0 100.5px,#39aae3 101.5px,#4183dd 102.5px,#3e4aa2 104.5px,#3b3887 106.5px,#3b3c8c 108.5px,#405aba 110.5px,#417dda 111.5px,#37b1e1 112.5px,#4ccaaf 113.5px,#74d084 114.5px,#8dd06b 116.5px,#5fce99 129.5px,#5ece9a 133px)"></i><i style="background:linear-gradient(90deg,#2f1b42 0,#301f4b 1.5px,#352a65 2.5px,#3d4499 3.5px,#4274d4 4.5px,#38ade2 5.5px,#49c9b3 6.5px,#75d083 7.5px,#91d067 8.5px,#a0cd58 14.5px,#aacc4f 30.5px,#95cf63 36.5px,#b2ca4a 43.5px,#aecb4c 66.5px,#9dce5b 67.5px,#69cf8f 68.5px,#39bdd3 69.5px,#3e94e6 70.5px,#4084de 71.5px,#3e9ae8 72.5px,#3bc2cb 73.5px,#73d085 74.5px,#a1cd57 75.5px,#b1ca4b 77.5px,#abcb4e 91.5px,#82d076 94.5px,#53cca5 96.5px,#37b7dc 100.5px,#3f8ee3 101.5px,#4059b8 102.5px,#39327c 103.5px,#34265d 104.5px,#31204e 107.5px,#332458 109.5px,#362c6c 110.5px,#3d48a0 111.5px,#4085df 112.5px,#3bc2cb 113.5px,#68cf90 114.5px,#84d074 115.5px,#89d06f 118.5px,#5fce99 129.5px,#5ece9a 133px)"></i><i style="background:linear-gradient(90deg,#2f1d46 0,#322456 1.5px,#39327c 2.5px,#4058b8 3.5px,#408be2 4.5px,#39bcd4 5.5px,#80d078 7.5px,#9cce5c 9.5px,#b5c948 58.5px,#accb4e 66.5px,#8cd06c 67.5px,#40c6c2 68.5px,#4181dc 69.5px,#3d479d 70.5px,#3a3683 71.5px,#3e4da6 72.5px,#3f8ee3 73.5px,#49c9b3 74.5px,#93cf65 75.5px,#accb4e 76.5px,#abcb4e 91.5px,#81d077 94.5px,#52cca6 96.5px,#37b6de 100.5px,#408ae1 101.5px,#3f53b0 102.5px,#382f73 103.5px,#322456 104.5px,#301f4a 108.5px,#352964 110.5px,#3c4296 111.5px,#417fdc 112.5px,#3bc0ce 113.5px,#67cf91 114.5px,#83d075 115.5px,#89d06f 118.5px,#60ce98 129.5px,#5ece9a 133px)"></i><i style="background:linear-gradient(90deg,#31204e 0,#362b68 1.5px,#3d449a 2.5px,#4271d1 3.5px,#3aa7e4 4.5px,#43c7bd 5.5px,#6bcf8d 6.5px,#8ad06e 7.5px,#9ece5a 10.5px,#b7c947 61.5px,#adcb4d 66.5px,#87d071 67.5px,#3ac0ce 68.5px,#416ece 69.5px,#3a337e 70.5px,#352963 71.5px,#3b3987 72.5px,#427bd9 73.5px,#41c6c0 74.5px,#8fd069 75.5px,#adcb4d 76.5px,#accb4e 91.5px,#86d072 94.5px,#4bcab0 97.5px,#39bcd3 100.5px,#3ba2e5 101.5px,#4277d7 102.5px,#3b3d8e 104.5px,#372e70 106.5px,#383075 108.5px,#3e4ba4 110.5px,#416ece 111.5px,#3aa5e4 112.5px,#47c8b7 113.5px,#71d087 114.5px,#8ed06a 116.5px,#60ce98 129.5px,#5ece9a 133px)"></i><i style="background:linear-gradient(90deg,#33265c 0,#3a3684 1.5px,#405dbd 2.5px,#3f8fe3 3.5px,#39bcd4 4.5px,#7cd07c 6.5px,#9ace5e 8.5px,#bec844 57.5px,#b3ca49 66.5px,#99cf5f 67.5px,#4ecbac 68.5px,#3e99e8 69.5px,#405fbf 70.5px,#3e4da7 71.5px,#4164c4 72.5px,#3ba3e5 73.5px,#58cda0 74.5px,#9cce5c 75.5px,#b0ca4b 76.5px,#a9cc50 92.5px,#7bd07d 95.5px,#4bcaaf 98.5px,#39bcd4 101.5px,#3f91e5 103.5px,#4165c5 106.5px,#4279d9 109.5px,#3f92e5 110.5px,#37b2e1 111.5px,#42c6be 112.5px,#80d078 114.5px,#90d068 116.5px,#60ce98 129.5px,#5ece9a 133px)"></i><i style="background:linear-gradient(90deg,#383075 0,#4279d8 2.5px,#38ace2 3.5px,#45c8ba 4.5px,#89d06f 6.5px,#9ece5a 9.5px,#c2c643 42.5px,#c9c442 59.5px,#bec744 66.5px,#b1ca4b 67.5px,#8ed06a 68.5px,#4ecbac 69.5px,#38b8da 70.5px,#38ace2 71.5px,#38bad6 72.5px,#53cca5 73.5px,#91d067 74.5px,#aecb4d 75.5px,#b6c948 81.5px,#a5cd53 93.5px,#50cca8 99.5px,#37b1e1 105.5px,#39bcd5 109.5px,#4fcbaa 111.5px,#8cd06c 114.5px,#8ad06e 118.5px,#61ce97 128.5px,#5ece9a 133px)"></i><i style="background:linear-gradient(90deg,#3d459a 0,#3e98e8 2.5px,#3abfcf 3.5px,#7cd07c 5.5px,#99ce5f 7.5px,#c1c743 39.5px,#dfbb40 48.5px,#d1c241 66.5px,#a6cc52 69.5px,#84d074 71.5px,#bcc844 75.5px,#aacc4f 93.5px,#58cda0 101.5px,#4ac9b2 106.5px,#5acd9e 109.5px,#94cf64 114.5px,#7fd079 120.5px,#5fce99 130.5px,#5ece9a 133px)"></i><i style="background:linear-gradient(90deg,#4166c6 0,#408ae1 1.5px,#36b4df 2.5px,#47c8b6 3.5px,#86d072 5.5px,#9dce5b 8.5px,#bac845 36.5px,#edad3f 45.5px,#ecaf40 61.5px,#d8c040 69.5px,#c9c442 72.5px,#c6c543 79.5px,#a5cd53 95.5px,#69cf8f 103.5px,#7bd07d 109.5px,#97cf61 114.5px,#60ce98 129.5px,#5ece9a 133px)"></i><i style="background:linear-gradient(90deg,#3f8fe4 0,#38ade2 1.5px,#3cc4c8 2.5px,#77d081 4.5px,#95cf63 6.5px,#bbc844 35.5px,#eea93e 41.5px,#f28932 48.5px,#f29d3a 66.5px,#c3c643 85.5px,#a2cd56 97.5px,#7fd079 105.5px,#96cf62 115.5px,#60ce98 129.5px,#5ece9a 133px)"></i><i style="background:linear-gradient(90deg,#36b5df 0,#4ccaaf 2.5px,#8dd06b 5.5px,#9fcd59 13.5px,#bbc845 34.5px,#e7b440 38.5px,#f1812f 42.5px,#e76727 49.5px,#f17e2e 67.5px,#e6b540 80.5px,#a1cd57 99.5px,#88d070 107.5px,#8cd06c 117.5px,#60ce98 129.5px,#5ece9a 133px)"></i><i style="background:linear-gradient(90deg,#3ec5c5 0,#8cd06c 5.5px,#9fcd59 12.5px,#b9c946 33.5px,#ebb140 37.5px,#f07d2d 40.5px,#df5624 44.5px,#df5724 64.5px,#f28731 76.5px,#e4b640 85.5px,#a5cd53 99.5px,#7dd07b 107.5px,#7ed07a 120.5px,#5ece9a 131.5px,#5ece9a 133px)"></i><i style="background:linear-gradient(90deg,#4ac9b2 0,#92d066 6.5px,#bcc844 33.5px,#e9b240 36.5px,#ee752b 39.5px,#d94e23 42.5px,#d24321 61.5px,#e35f26 75.5px,#eea93e 86.5px,#c3c643 93.5px,#a0cd58 99.5px,#68cf90 106.5px,#62ce96 113.5px,#7bd07d 120.5px,#5ece9a 133px)"></i><i style="background:linear-gradient(90deg,#4ecbab 0,#96cf62 7.5px,#b7c947 32.5px,#e0ba40 35.5px,#f39236 37.5px,#dd5323 40.5px,#cf3e21 45.5px,#d44622 74.5px,#ea6c29 83.5px,#edac3f 89.5px,#afcb4c 97.5px,#5acd9e 104.5px,#3ac0ce 111.5px,#40c6c1 114.5px,#73d085 119.5px,#5ece9a 133px)"></i><i style="background:linear-gradient(90deg,#4ecbab 0,#96cf62 7.5px,#b7c947 32.5px,#e1b940 35.5px,#f38f34 37.5px,#db5023 40.5px,#cd3b20 46.5px,#d14221 79.5px,#e35f26 85.5px,#f39c39 90.5px,#ccc342 95.5px,#9cce5c 98.5px,#55cda3 102.5px,#3abed1 106.5px,#3ba1e5 108.5px,#4086df 111.5px,#3e95e7 114.5px,#37b6dd 116.5px,#4fccaa 118.5px,#70d088 120.5px,#5ece9a 133px)"></i><i style="background:linear-gradient(90deg,#4dcbad 0,#95cf63 7.5px,#bdc844 33.5px,#ecaf40 36.5px,#f1812f 38.5px,#d94d23 41.5px,#cc3a20 49.5px,#cd3c20 82.5px,#e46126 88.5px,#f0a43c 93.5px,#dbbd40 95.5px,#aecb4c 97.5px,#51cca7 101.5px,#37b8da 105.5px,#3e99e8 106.5px,#405cbc 108.5px,#3c4194 111.5px,#3e4ba4 114.5px,#416fcf 116.5px,#3e96e7 117.5px,#39bdd3 118.5px,#50cca8 119.5px,#69cf8f 120.5px,#6cd08c 124.5px,#5ece9a 133px)"></i><i style="background:linear-gradient(90deg,#4ccaae 0,#95cf63 7.5px,#b9c946 33.5px,#e1b940 36.5px,#f49838 38.5px,#dc5123 42.5px,#cc3a20 49.5px,#c93820 84.5px,#e15b25 90.5px,#f39b39 94.5px,#d4c141 96.5px,#97cf61 98.5px,#5acd9e 100.5px,#3abfd0 104.5px,#3aa7e4 105.5px,#4274d4 106.5px,#3d479d 107.5px,#382f73 108.5px,#332458 110.5px,#34265c 114.5px,#362c6b 115.5px,#3b3c8d 116.5px,#4167c7 117.5px,#3aa5e4 118.5px,#45c7ba 119.5px,#63ce95 120.5px,#71d087 122.5px,#5ece9a 133px)"></i><i style="background:linear-gradient(90deg,#4ccaaf 0,#94cf64 7.5px,#b8c947 34.5px,#ebb140 38.5px,#f07b2c 41.5px,#d64922 45.5px,#c73620 57.5px,#c73620 86.5px,#e05824 92.5px,#f39a39 95.5px,#e6b540 96.5px,#c2c643 97.5px,#a1cd57 98.5px,#5ece9a 100.5px,#40c6c1 103.5px,#3ac0cf 104.5px,#39a9e3 105.5px,#4278d8 106.5px,#3e4da6 107.5px,#39337d 108.5px,#34265d 110.5px,#352862 114.5px,#382f73 115.5px,#3c4296 116.5px,#416ccc 117.5px,#39a8e3 118.5px,#46c8b8 119.5px,#64ce94 120.5px,#72d086 122.5px,#5ece9a 133px)"></i><i style="background:linear-gradient(90deg,#4bcab0 0,#94cf64 7.5px,#b1ca4b 35.5px,#dfba40 39.5px,#f28c33 42.5px,#db5023 46.5px,#c83720 54.5px,#c23221 86.5px,#d24421 92.5px,#e46026 94.5px,#f29f3a 96.5px,#dcbc40 97.5px,#b4ca49 98.5px,#5acd9e 101.5px,#39bbd5 105.5px,#3ba1e5 106.5px,#4168c8 108.5px,#3e4aa3 111.5px,#4056b5 114.5px,#427cda 116.5px,#3ca1e6 117.5px,#3bc1cc 118.5px,#54cca4 119.5px,#72d086 121.5px,#5ece9a 133px)"></i><i style="background:linear-gradient(90deg,#4bcab0 0,#99cf5f 8.5px,#a3cd55 28.5px,#a2cd56 36.5px,#cbc442 40.5px,#f1a03b 43.5px,#da5023 48.5px,#c63521 55.5px,#bd2e21 85.5px,#cf3e21 93.5px,#e35e25 95.5px,#f0a43c 97.5px,#d7c040 98.5px,#95cf63 100.5px,#57cda1 103.5px,#38b9d9 107.5px,#3e94e6 111.5px,#3ba2e5 114.5px,#39bcd4 116.5px,#69cf8f 119.5px,#74d084 122.5px,#5ece9a 133px)"></i><i style="background:linear-gradient(90deg,#4bcab0 0,#98cf60 8.5px,#a0cd58 26.5px,#83d075 35.5px,#a8cc50 40.5px,#ebb140 44.5px,#ee772b 47.5px,#d34521 51.5px,#bd2e21 61.5px,#bc2d21 87.5px,#cd3b20 94.5px,#e35d25 96.5px,#f0a33c 98.5px,#b8c946 100.5px,#6bcf8d 104.5px,#41c6c0 110.5px,#48c9b5 114.5px,#77d081 119.5px,#5ece9a 133px)"></i><i style="background:linear-gradient(90deg,#4bcab0 0,#98cf60 8.5px,#a2cd56 24.5px,#60ce98 34.5px,#64ce94 38.5px,#a0cd58 42.5px,#e0ba40 45.5px,#f49637 47.5px,#d54722 52.5px,#be2e21 58.5px,#b42622 83.5px,#cb3920 95.5px,#e15a25 97.5px,#f39b39 99.5px,#ccc442 101.5px,#87d071 105.5px,#68cf90 111.5px,#7ed07a 120.5px,#5ece9a 133px)"></i><i style="background:linear-gradient(90deg,#4bcab1 0,#98cf60 8.5px,#a1cd57 23.5px,#46c8b8 33.5px,#39bcd5 37.5px,#3fc5c3 40.5px,#66cf92 42.5px,#a7cc51 44.5px,#ecb040 47.5px,#f0792c 50.5px,#cc3a20 54.5px,#b22522 65.5px,#b22522 85.5px,#ca3820 96.5px,#ea6e29 99.5px,#f0a53c 101.5px,#b7c947 104.5px,#8fd069 109.5px,#7cd07c 121.5px,#5ece9a 133px)"></i><i style="background:linear-gradient(90deg,#4acab1 0,#98cf60 8.5px,#9ece5a 23.5px,#4fccaa 29.5px,#36b3e0 33.5px,#417fdc 36.5px,#417dda 39.5px,#3d9ce7 41.5px,#37b6dd 42.5px,#47c8b6 43.5px,#a5cc53 45.5px,#dbbe40 47.5px,#f1a03b 49.5px,#e66627 52.5px,#c73620 55.5px,#a92121 69.5px,#b12522 87.5px,#cf3e21 98.5px,#ef792c 101.5px,#eea93e 103.5px,#bec844 106.5px,#9cce5c 112.5px,#78d080 122.5px,#5ece9a 133px)"></i><i style="background:linear-gradient(90deg,#4acab1 0,#98cf60 8.5px,#a1cd57 22.5px,#7fd079 25.5px,#4ccbae 28.5px,#3abfd0 31.5px,#3aa7e4 32.5px,#417edb 33.5px,#3d489f 35.5px,#3b3886 37.5px,#3c4093 40.5px,#416bcb 42.5px,#3c9de6 43.5px,#46c8b8 44.5px,#89d06f 45.5px,#b1ca4b 46.5px,#edae3f 49.5px,#ee762b 52.5px,#c93820 55.5px,#ae2322 62.5px,#a21e21 81.5px,#cc3a20 99.5px,#e86828 102.5px,#f49938 104.5px,#d0c241 107.5px,#accb4e 111.5px,#61ce97 129.5px,#5ece9a 133px)"></i><i style="background:linear-gradient(90deg,#4acab1 0,#7ed07a 5.5px,#9bce5d 9.5px,#a0cd58 22.5px,#7ad07e 25.5px,#48c9b4 28.5px,#38b8da 31.5px,#3f91e5 32.5px,#405cbc 33.5px,#3a3683 34.5px,#352963 35.5px,#312150 38.5px,#332459 40.5px,#362b69 41.5px,#3c3f91 42.5px,#4274d4 43.5px,#39bbd5 44.5px,#76d082 45.5px,#aacc4f 46.5px,#e8b340 49.5px,#f1802e 52.5px,#cc3a20 55.5px,#ad2322 60.5px,#9b1b20 80.5px,#c93720 100.5px,#e25d25 103.5px,#f1a23b 106.5px,#c9c442 109.5px,#9bce5d 116.5px,#63ce95 128.5px,#5ece9a 133px)"></i><i style="background:linear-gradient(90deg,#4acab2 0,#7dd07b 5.5px,#9bce5d 9.5px,#a0cd58 22.5px,#7bd07d 25.5px,#4acab2 28.5px,#39bbd6 31.5px,#3d9be7 32.5px,#416bcb 33.5px,#3d469d 34.5px,#362b69 36.5px,#352862 39.5px,#3a3684 41.5px,#3f53b0 42.5px,#4086df 43.5px,#3bc2ca 44.5px,#7dd07b 45.5px,#accb4e 46.5px,#e7b440 49.5px,#f18430 52.5px,#cd3c20 55.5px,#ac2221 59.5px,#95191f 79.5px,#c73620 101.5px,#df5624 104.5px,#f29d3a 107.5px,#c9c442 110.5px,#97cf61 117.5px,#63ce95 128.5px,#5ece9a 133px)"></i><i style="background:linear-gradient(90deg,#4acab2 0,#7dd07b 5.5px,#9bce5d 9.5px,#9bce5d 23.5px,#4acab1 29.5px,#37b8da 32.5px,#3c9de6 33.5px,#405ebe 36.5px,#405aba 39.5px,#4276d6 41.5px,#3e96e7 42.5px,#39bcd5 43.5px,#5dce9b 44.5px,#96cf62 45.5px,#b4ca49 46.5px,#eab240 49.5px,#f18430 52.5px,#c03021 56.5px,#a31f21 61.5px,#90181e 80.5px,#c63520 102.5px,#dd5323 105.5px,#f29e3a 108.5px,#c4c643 111.5px,#68cf90 126.5px,#5ece9a 133px)"></i><i style="background:linear-gradient(90deg,#4ac9b2 0,#7cd07c 5.5px,#9ace5e 9.5px,#9bce5d 23.5px,#4bcab0 31.5px,#36b2e0 35.5px,#3aa6e4 38.5px,#3abed1 41.5px,#47c8b7 42.5px,#8fd069 44.5px,#bfc744 46.5px,#edad3f 49.5px,#f1802e 52.5px,#be2f21 56.5px,#9f1d21 61.5px,#8c171d 80.5px,#c63520 103.5px,#dd5423 106.5px,#f28932 108.5px,#e2b840 110.5px,#b3ca49 113.5px,#65cf93 127.5px,#5ece9a 133px)"></i><i style="background:linear-gradient(90deg,#49c9b2 0,#6ed08a 4.5px,#97cf61 8.5px,#93cf65 24.5px,#4fccaa 34.5px,#4ccbae 38.5px,#6ccf8c 41.5px,#aacc4f 44.5px,#e9b240 48.5px,#ef782c 52.5px,#bc2c21 56.5px,#9c1c20 61.5px,#88151d 80.5px,#c73520 104.5px,#e05824 107.5px,#f49437 109.5px,#d9bf40 111.5px,#aecb4c 114.5px,#65cf93 127.5px,#5ece9a 133px)"></i><i style="background:linear-gradient(90deg,#49c9b3 0,#6ed08a 4.5px,#96cf62 8.5px,#8fd069 19.5px,#6fd089 35.5px,#8bd06d 40.5px,#c9c442 45.5px,#f29f3a 49.5px,#ea6d29 52.5px,#b72922 56.5px,#991a20 61.5px,#85151c 80.5px,#c33321 104.5px,#d84c22 107.5px,#f18330 109.5px,#e2b840 111.5px,#b1ca4a 114.5px,#68cf90 126.5px,#5ece9a 133px)"></i><i style="background:linear-gradient(90deg,#49c9b3 0,#6dd08b 4.5px,#96cf62 8.5px,#91d067 14.5px,#74d084 24.5px,#81d077 34.5px,#bbc844 43.5px,#f0a43c 48.5px,#e46126 52.5px,#be2e21 55.5px,#9b1b20 59.5px,#82141b 79.5px,#c23121 104.5px,#d24321 107.5px,#ed732a 109.5px,#ecb040 111.5px,#b5c948 114.5px,#69cf8f 126.5px,#5dce9b 133px)"></i><i style="background:linear-gradient(90deg,#49c9b3 0,#6cd08c 4.5px,#96cf62 8.5px,#89d06f 13.5px,#5bcd9d 22.5px,#5bcd9d 29.5px,#b1ca4b 40.5px,#e8b340 46.5px,#f07c2d 50.5px,#c33321 54.5px,#991a20 59.5px,#81131b 80.5px,#c33321 105.5px,#d84c22 108.5px,#f18530 110.5px,#e1b940 112.5px,#afcb4c 115.5px,#69cf8f 126.5px,#54cda4 133px)"></i><i style="background:linear-gradient(90deg,#49c9b3 0,#6ccf8c 4.5px,#95cf63 8.5px,#85d073 12.5px,#52cca6 18.5px,#38bad8 26.5px,#3bc1cd 30.5px,#5acd9e 33.5px,#a3cd55 37.5px,#e5b640 45.5px,#f1832f 49.5px,#bb2c21 54.5px,#961a20 59.5px,#80131b 80.5px,#c23221 105.5px,#d34421 108.5px,#ee762b 110.5px,#eab140 112.5px,#b3ca49 115.5px,#69cf8f 126.5px,#4ecbab 130.5px,#3dc4c7 133px)"></i><i style="background:linear-gradient(90deg,#49c9b4 0,#6bcf8d 4.5px,#94cf64 8.5px,#85d073 11.5px,#4dcbae 16.5px,#3bc1cc 20.5px,#3e96e7 23.5px,#4276d6 27.5px,#4182dd 30.5px,#3ba2e5 32.5px,#37b7db 33.5px,#42c7be 34.5px,#8ad06e 36.5px,#aecb4c 38.5px,#ebb140 45.5px,#ee772b 49.5px,#c03021 53.5px,#971a20 58.5px,#7f131b 80.5px,#b52722 101.5px,#cf3f21 108.5px,#e76727 110.5px,#f0a53c 112.5px,#cac442 114.5px,#94cf64 119.5px,#5bcd9d 128.5px,#39bdd2 130.5px,#3f94e6 133px)"></i><i style="background:linear-gradient(90deg,#49c9b4 0,#6bcf8d 4.5px,#93d065 8.5px,#7dd07b 11.5px,#49c9b4 15.5px,#3ac0cf 19.5px,#38aee2 20.5px,#4088e0 21.5px,#3f51ad 23.5px,#3b3886 26.5px,#3c3d8e 30.5px,#4055b4 32.5px,#416fcf 33.5px,#3d9ce7 34.5px,#3fc5c4 35.5px,#73d085 36.5px,#9cce5c 37.5px,#c6c543 40.5px,#efa83d 45.5px,#e76828 49.5px,#b82922 53.5px,#96191f 58.5px,#7f131b 80.5px,#b02422 100.5px,#cc3a20 108.5px,#e05924 110.5px,#f49637 112.5px,#d7c040 114.5px,#a9cc50 117.5px,#62ce96 127.5px,#4fccaa 128.5px,#39bdd2 129.5px,#3f8fe4 130.5px,#4162c2 131.5px,#3e4ba4 133px)"></i><i style="background:linear-gradient(90deg,#48c9b4 0,#6acf8e 4.5px,#92d066 8.5px,#79d07f 11.5px,#4bcab0 14.5px,#38bad7 19.5px,#3d9be7 20.5px,#4167c7 21.5px,#3c3f91 22.5px,#372d6f 23.5px,#322252 26.5px,#34275f 31.5px,#372e70 32.5px,#3c4296 33.5px,#4272d2 34.5px,#37b6dc 35.5px,#64cf94 36.5px,#9ace5e 37.5px,#c0c743 39.5px,#f29e3a 45.5px,#df5724 49.5px,#b02422 53.5px,#93191f 59.5px,#7f131b 81.5px,#b32622 101.5px,#d04021 109.5px,#e66527 111.5px,#f1a13b 113.5px,#cdc342 115.5px,#9ace5e 119.5px,#61ce97 127.5px,#49c9b3 128.5px,#37b0e1 129.5px,#416ccc 130.5px,#3b3988 131.5px,#352863 133px)"></i><i style="background:linear-gradient(90deg,#48c9b4 0,#6acf8e 4.5px,#93d065 8.5px,#7bd07d 11.5px,#4ccbae 14.5px,#39bdd3 19.5px,#3ba3e5 20.5px,#4276d6 21.5px,#3b3b8b 23.5px,#342861 26.5px,#362b69 30.5px,#3c3d8e 32.5px,#4057b7 33.5px,#4086df 34.5px,#3abfd0 35.5px,#71d087 36.5px,#a2cd56 37.5px,#cbc442 39.5px,#f29d3a 44.5px,#df5624 48.5px,#b32522 52.5px,#95191f 58.5px,#80131b 81.5px,#b32522 101.5px,#d44622 110.5px,#ec712a 112.5px,#eeab3e 114.5px,#b4ca49 117.5px,#63ce95 127.5px,#4ccbae 128.5px,#37b7dc 129.5px,#427cda 130.5px,#3e4aa2 131.5px,#39327a 133px)"></i><i style="background:linear-gradient(90deg,#48c9b4 0,#69cf8f 4.5px,#93cf65 8.5px,#82d076 11.5px,#4dcbad 15.5px,#3dc4c6 19.5px,#3aa6e4 21.5px,#4168c8 24.5px,#4056b5 28.5px,#416dcd 31.5px,#3c9ee6 33.5px,#3abed1 34.5px,#5dce9b 35.5px,#93cf65 36.5px,#b1ca4a 37.5px,#e4b640 40.5px,#f28932 44.5px,#c83620 49.5px,#9b1b20 55.5px,#80131b 80.5px,#af2422 100.5px,#d03f21 110.5px,#e35f26 112.5px,#f39a39 114.5px,#d5c140 116.5px,#a5cd53 119.5px,#58cda0 128.5px,#41c6c0 129.5px,#38aee2 130.5px,#4170d0 133px)"></i><i style="background:linear-gradient(90deg,#48c9b5 0,#69cf8f 4.5px,#94cf64 8.5px,#8cd06c 11.5px,#50cca9 17.5px,#37b7dc 23.5px,#3aa7e4 28.5px,#39bbd5 31.5px,#4fcca9 33.5px,#98cf60 35.5px,#c9c442 37.5px,#efa73d 40.5px,#ea6e29 44.5px,#c53421 48.5px,#9a1b20 55.5px,#81131b 80.5px,#af2422 100.5px,#d24421 111.5px,#e76728 113.5px,#f1a13b 115.5px,#cec341 117.5px,#98cf60 121.5px,#55cda3 129.5px,#38b9d9 133px)"></i><i style="background:linear-gradient(90deg,#48c9b5 0,#69cf8f 4.5px,#95cf63 8.5px,#8ed06a 12.5px,#5dce9b 19.5px,#4dcbac 27.5px,#72d086 31.5px,#bdc844 35.5px,#efa83d 38.5px,#ec712a 42.5px,#c13121 47.5px,#9a1b20 55.5px,#83141c 81.5px,#af2422 100.5px,#cf3e21 111.5px,#df5724 113.5px,#f28c33 115.5px,#e0b940 117.5px,#accb4e 120.5px,#69cf8f 128.5px,#4fccaa 133px)"></i><i style="background:linear-gradient(90deg,#48c9b5 0,#69cf8f 4.5px,#96cf62 8.5px,#94cf64 13.5px,#76d082 22.5px,#8ed06a 28.5px,#c5c543 33.5px,#efa73d 36.5px,#e96c29 40.5px,#bd2d21 46.5px,#981a20 57.5px,#85151c 81.5px,#b02422 100.5px,#d14121 112.5px,#ee752b 115.5px,#efa83d 117.5px,#b9c946 120.5px,#6dd08b 128.5px,#5ece9a 133px)"></i><i style="background:linear-gradient(90deg,#48c9b5 0,#68cf90 4.5px,#97cf61 8.5px,#98cf60 16.5px,#a7cc51 25.5px,#ccc342 30.5px,#f29e3a 34.5px,#d84c22 40.5px,#af2422 47.5px,#87151c 73.5px,#9c1c20 94.5px,#d24321 113.5px,#ee762b 116.5px,#f0a53c 118.5px,#bdc844 121.5px,#71d087 128.5px,#62ce96 133px)"></i><i style="background:linear-gradient(90deg,#48c9b5 0,#68cf90 4.5px,#98cf60 8.5px,#b9c946 22.5px,#edae3f 29.5px,#eb702a 34.5px,#c83620 40.5px,#9e1d20 53.5px,#8b161d 82.5px,#b32522 100.5px,#d34521 114.5px,#ec722a 117.5px,#eab140 120.5px,#a6cc52 124.5px,#6bcf8d 130.5px,#63ce95 133px)"></i><i style="background:linear-gradient(90deg,#48c9b5 0,#68cf90 4.5px,#98cf60 8.5px,#c1c743 19.5px,#f0a43c 25.5px,#e96a28 31.5px,#c33321 38.5px,#9a1b20 57.5px,#8f171e 83.5px,#b42622 100.5px,#d34421 115.5px,#e96a28 118.5px,#eea93e 121.5px,#b9c946 124.5px,#6fd089 130.5px,#66cf92 133px)"></i><i style="background:linear-gradient(90deg,#48c9b5 0,#68cf90 4.5px,#99ce5f 8.5px,#c3c643 17.5px,#f39c39 22.5px,#d24321 32.5px,#ab2221 44.5px,#90181e 82.5px,#b22522 99.5px,#d64922 117.5px,#ed742b 120.5px,#e9b240 123.5px,#aecb4d 126.5px,#6ed08a 131.5px,#68cf90 133px)"></i><i style="background:linear-gradient(90deg,#48c9b5 0,#68cf90 4.5px,#9ace5e 8.5px,#bec844 15.5px,#eea93e 19.5px,#e96a28 23.5px,#c83620 32.5px,#9e1d20 52.5px,#95191f 85.5px,#cb3920 112.5px,#d94d23 119.5px,#f07e2d 122.5px,#eeaa3e 124.5px,#b0ca4b 127.5px,#74d084 131.5px,#6cd08c 133px)"></i><i style="background:linear-gradient(90deg,#48c9b5 0,#68cf90 4.5px,#a2cd56 9.5px,#bfc744 14.5px,#ebb040 17.5px,#f07b2c 20.5px,#d74a22 24.5px,#a92121 43.5px,#961a20 84.5px,#cb3920 112.5px,#d64922 120.5px,#ed732a 123.5px,#f0a33c 125.5px,#afcb4c 128.5px,#71d087 133px)"></i><i style="background:linear-gradient(90deg,#48c9b5 0,#5bcd9d 3.5px,#9dce5b 8.5px,#bdc844 13.5px,#edac3f 16.5px,#eb702a 19.5px,#d24321 23.5px,#a31f21 47.5px,#9b1b20 87.5px,#cb3920 111.5px,#d34521 121.5px,#e96b28 124.5px,#f1a03b 126.5px,#c4c643 128.5px,#77d081 133px)"></i><i style="background:linear-gradient(90deg,#48c9b5 0,#5bcd9d 3.5px,#9ece5a 8.5px,#c8c542 13.5px,#f49737 16.5px,#e05724 19.5px,#cd3b20 24.5px,#9d1c20 54.5px,#9f1d20 89.5px,#cb3920 110.5px,#d14221 122.5px,#e76828 125.5px,#f0a33c 127.5px,#bbc845 129.5px,#7ed07a 133px)"></i><i style="background:linear-gradient(90deg,#49c9b4 0,#6acf8e 4.5px,#a7cc51 9.5px,#bdc844 12.5px,#e6b540 14.5px,#f1812f 16.5px,#d74a22 19.5px,#b02422 39.5px,#981a20 75.5px,#ad2321 94.5px,#cb3920 111.5px,#d14121 123.5px,#de5524 125.5px,#f28c33 127.5px,#edad3f 128.5px,#b0ca4b 130.5px,#85d073 133px)"></i><i style="background:linear-gradient(90deg,#4acab2 0,#6ccf8c 4.5px,#a8cc50 9.5px,#c1c643 12.5px,#ecb040 14.5px,#ed742b 16.5px,#d84c22 18.5px,#ca3820 26.5px,#9e1d20 57.5px,#a41f21 89.5px,#cb3920 109.5px,#d34421 124.5px,#e35f26 126.5px,#f29f3a 128.5px,#debb40 129.5px,#a2cd56 131.5px,#8cd06c 133px)"></i><i style="background:linear-gradient(90deg,#4ccbae 0,#6fd089 4.5px,#a9cc4f 9.5px,#c3c643 12.5px,#edae3f 14.5px,#ec722a 16.5px,#d84c22 18.5px,#c63521 30.5px,#9f1d20 61.5px,#a92121 90.5px,#cc3a20 110.5px,#d54722 124.5px,#e35f26 126.5px,#f39a39 128.5px,#e3b740 129.5px,#a7cc51 131.5px,#91d067 133px)"></i><i style="background:linear-gradient(90deg,#51cca7 0,#82d076 5.5px,#b0ca4b 10.5px,#d7c040 13.5px,#f49838 15.5px,#df5624 18.5px,#cc3a20 27.5px,#a21e21 59.5px,#aa2221 89.5px,#cd3b20 110.5px,#de5424 124.5px,#f28731 127.5px,#f1a23b 128.5px,#bec844 130.5px,#92d066 133px)"></i><i style="background:linear-gradient(90deg,#5bcd9d 0,#abcb4e 9.5px,#bec744 12.5px,#efa63d 15.5px,#e46126 19.5px,#ce3c20 29.5px,#a72021 58.5px,#ab2221 87.5px,#de5524 120.5px,#f07d2d 125.5px,#e7b440 128.5px,#a1cd57 131.5px,#90d068 133px)"></i><i style="background:linear-gradient(90deg,#67cf91 0,#afcb4c 10.5px,#c6c543 13.5px,#efa73d 16.5px,#e66527 22.5px,#c03021 39.5px,#a72021 76.5px,#d03f21 105.5px,#e76828 118.5px,#f1a23b 125.5px,#cec341 128.5px,#8cd06c 133px)"></i><i style="background:linear-gradient(90deg,#76d082 0,#aecb4c 10.5px,#c8c442 14.5px,#efa83d 18.5px,#e05824 30.5px,#bf2f21 44.5px,#ae2322 78.5px,#d84b22 105.5px,#f17e2e 116.5px,#ebb040 123.5px,#a9cc50 129.5px,#88d070 133px)"></i><i style="background:linear-gradient(90deg,#85d073 0,#c4c643 15.5px,#f0a53c 22.5px,#e46126 34.5px,#c53421 47.5px,#b62822 77.5px,#d94d23 98.5px,#f28631 112.5px,#e1b940 120.5px,#a3cd55 128.5px,#86d072 133px)"></i><i style="background:linear-gradient(90deg,#91d067 0,#c5c643 17.5px,#efa63d 28.5px,#e66527 40.5px,#cb3920 55.5px,#c73620 78.5px,#e66627 96.5px,#efa73d 112.5px,#b5c948 122.5px,#86d072 133px)"></i><i style="background:linear-gradient(90deg,#97cf61 0,#c1c743 19.5px,#f1a23b 36.5px,#e25d25 55.5px,#db5023 71.5px,#ef782c 89.5px,#e9b240 108.5px,#c1c743 116.5px,#88d070 133px)"></i><i style="background:linear-gradient(90deg,#99ce5f 0,#afcb4c 15.5px,#ecb040 42.5px,#f18530 67.5px,#e7b440 96.5px,#c1c743 113.5px,#94cf64 125.5px,#8bd06d 133px)"></i><i style="background:linear-gradient(90deg,#97cf61 0,#a6cc52 13.5px,#bdc844 26.5px,#e9b240 67.5px,#b8c947 113.5px,#90d068 124.5px,#8bd06d 133px)"></i><i style="background:linear-gradient(90deg,#91d067 0,#9dce5b 12.5px,#bac845 21.5px,#cbc442 78.5px,#b0ca4b 114.5px,#88d070 124.5px,#86d072 133px)"></i><i style="background:linear-gradient(90deg,#87d071 0,#93d065 11.5px,#b9c946 19.5px,#b9c946 98.5px,#9cce5c 108.5px,#7dd07b 129.5px,#7dd07b 133px)"></i><i style="background:linear-gradient(90deg,#7fd079 0,#87d071 10.5px,#b8c947 18.5px,#bbc845 96.5px,#b2ca4a 97.5px,#54cda4 101.5px,#3bc1cc 106.5px,#40c5c2 115.5px,#4acab1 118.5px,#77d081 121.5px,#74d084 133px)"></i><i style="background:linear-gradient(90deg,#79d07f 0,#82d076 10.5px,#b4ca49 17.5px,#b9c946 96.5px,#9dce5b 97.5px,#43c7bd 98.5px,#3e99e8 99.5px,#417edb 100.5px,#4160c0 107.5px,#416fcf 117.5px,#427bda 118.5px,#3aa6e4 119.5px,#4bcaaf 120.5px,#6ccf8c 121.5px,#6dd08b 133px)"></i></div>
<div class="h" style="left:487px;top:13px;width:133px"><i style="background:linear-gradient(90deg,#2e1a3e 0,#2f1c43 53.5px,#312151 54.5px,#393178 55.5px,#405cbc 56.5px,#3e99e8 57.5px,#40c6c1 58.5px,#72d086 59.5px,#95cf63 60.5px,#a8cc50 63.5px,#9bce5d 66.5px,#56cda2 67.5px,#4183de 68.5px,#382f74 69.5px,#322253 70.5px,#3c4296 71.5px,#3ba2e5 72.5px,#6acf8e 73.5px,#9ece5a 74.5px,#a7cc51 78.5px,#93d065 80.5px,#67cf91 81.5px,#39bdd2 82.5px,#417fdc 83.5px,#3d4499 84.5px,#34265d 85.5px,#2f1d46 86.5px,#2f1d45 119.5px,#342760 120.5px,#3f4fab 121.5px,#3c9fe6 122.5px,#5bcd9d 123.5px,#a0cd58 124.5px,#bcc844 125.5px,#dcbd40 126.5px,#f29f3a 127.5px,#ec712a 128.5px,#d54722 129.5px,#b72922 131.5px,#b22522 133px)"></i><i style="background:linear-gradient(90deg,#2e1a3e 0,#2f1c44 53.5px,#322254 54.5px,#3a337e 55.5px,#4160c0 56.5px,#3c9ee6 57.5px,#43c7bc 58.5px,#75d083 59.5px,#96cf62 60.5px,#a8cc50 64.5px,#9bce5d 66.5px,#57cda1 67.5px,#4183de 68.5px,#382f74 69.5px,#322253 70.5px,#3c4397 71.5px,#3ba2e5 72.5px,#6acf8e 73.5px,#9ece5a 74.5px,#a3cd55 79.5px,#96cf62 80.5px,#70d088 81.5px,#3cc4c9 82.5px,#408ce2 83.5px,#3e4da8 84.5px,#352a66 85.5px,#301e48 86.5px,#2e1a3e 95.5px,#2f1d45 119.5px,#342760 120.5px,#3e4faa 121.5px,#3c9fe6 122.5px,#5bcd9d 123.5px,#a0cd58 124.5px,#bdc844 125.5px,#debb40 126.5px,#f29d3a 127.5px,#d34421 129.5px,#b52722 131.5px,#b02422 133px)"></i><i style="background:linear-gradient(90deg,#2e1a3e 0,#2f1d45 53.5px,#332457 54.5px,#3b3785 55.5px,#4167c7 56.5px,#3ba4e5 57.5px,#47c9b6 58.5px,#79d07f 59.5px,#98cf60 60.5px,#a8cc50 64.5px,#9bce5d 66.5px,#57cda1 67.5px,#4084de 68.5px,#383075 69.5px,#322354 70.5px,#3d4398 71.5px,#3ba3e5 72.5px,#6bcf8d 73.5px,#9ece5a 74.5px,#a4cd54 79.5px,#9ace5e 80.5px,#7cd07c 81.5px,#46c8b8 82.5px,#3d9de7 83.5px,#405bbb 84.5px,#382f73 85.5px,#31204d 86.5px,#2e1a3e 89.5px,#2f1d45 119.5px,#34275f 120.5px,#3e4ea8 121.5px,#3c9ee6 122.5px,#5acd9e 123.5px,#a1cd57 124.5px,#bfc744 125.5px,#e0b940 126.5px,#f49938 127.5px,#d04021 129.5px,#b22522 131.5px,#ac2321 133px)"></i><i style="background:linear-gradient(90deg,#2e1a3e 0,#301d46 53.5px,#33265c 54.5px,#3b3d8d 55.5px,#416ece 56.5px,#38ace2 57.5px,#4ccaae 58.5px,#7ed07a 59.5px,#9ace5e 60.5px,#a8cc50 64.5px,#9bce5d 66.5px,#58cda0 67.5px,#4086df 68.5px,#383177 69.5px,#322355 70.5px,#3d459a 71.5px,#3aa4e4 72.5px,#6ccf8c 73.5px,#9fce59 74.5px,#a6cc52 79.5px,#87d071 81.5px,#52cca6 82.5px,#38aee2 83.5px,#416bcb 84.5px,#3b3785 85.5px,#322354 86.5px,#2e1a3f 88.5px,#2f1d45 119.5px,#34275e 120.5px,#3e4da7 121.5px,#3d9de7 122.5px,#5acd9e 123.5px,#a2cd56 124.5px,#c2c643 125.5px,#e3b740 126.5px,#f39436 127.5px,#cd3c20 129.5px,#a82121 133px)"></i><i style="background:linear-gradient(90deg,#2e1a3e 0,#2e1b40 52.5px,#301e48 53.5px,#342860 54.5px,#3c4296 55.5px,#4276d6 56.5px,#36b4e0 57.5px,#52cca6 58.5px,#83d075 59.5px,#a4cd54 61.5px,#a7cc51 65.5px,#9cce5c 66.5px,#59cd9f 67.5px,#4088e0 68.5px,#39317a 69.5px,#322356 70.5px,#3d469c 71.5px,#3aa6e4 72.5px,#6dd08b 73.5px,#9fce59 74.5px,#a7cc51 79.5px,#91d067 81.5px,#63ce95 82.5px,#39bbd5 83.5px,#417ddb 84.5px,#3d4398 85.5px,#34265e 86.5px,#2f1d46 87.5px,#2f1d44 119.5px,#34265e 120.5px,#3e4ca6 121.5px,#3d9ce7 122.5px,#5acd9e 123.5px,#a2cd56 124.5px,#e6b540 126.5px,#f38f34 127.5px,#c93820 129.5px,#a31f21 133px)"></i><i style="background:linear-gradient(90deg,#2e1a3e 0,#2e1b41 52.5px,#301f4a 53.5px,#352a66 54.5px,#3d489f 55.5px,#417edb 56.5px,#38b9d9 57.5px,#5acd9e 58.5px,#88d070 59.5px,#a5cd53 61.5px,#a7cc51 65.5px,#9cce5c 66.5px,#5bcd9d 67.5px,#408ae1 68.5px,#39327c 69.5px,#332457 70.5px,#3d479e 71.5px,#3aa8e4 72.5px,#6ed08a 73.5px,#9fcd59 74.5px,#a4cd54 80.5px,#97cf61 81.5px,#73d085 82.5px,#3ec5c5 83.5px,#3f90e4 84.5px,#3f51ad 85.5px,#362b6a 86.5px,#301f4a 87.5px,#2e1a3e 93.5px,#2f1c44 119.5px,#34265d 120.5px,#3e4ba4 121.5px,#3d9be7 122.5px,#59cd9f 123.5px,#a3cd55 124.5px,#e9b240 126.5px,#f28932 127.5px,#de5624 128.5px,#c53421 129.5px,#9f1d20 133px)"></i><i style="background:linear-gradient(90deg,#2e1a3e 0,#2f1b41 52.5px,#311f4c 53.5px,#362c6b 54.5px,#3e4ea9 55.5px,#4087df 56.5px,#39bdd2 57.5px,#8dd06b 59.5px,#a6cc52 61.5px,#a7cc51 65.5px,#9cce5c 66.5px,#5ccd9c 67.5px,#408ce2 68.5px,#3a337e 69.5px,#332458 70.5px,#3d48a0 71.5px,#39a9e3 72.5px,#70d088 73.5px,#a0cd58 74.5px,#a6cc52 80.5px,#9cce5c 81.5px,#80d078 82.5px,#49c9b3 83.5px,#3ba1e5 84.5px,#405fbf 85.5px,#383177 86.5px,#31214f 87.5px,#2e1a3e 90.5px,#2f1c44 119.5px,#33265c 120.5px,#3e4aa3 121.5px,#3d9ae7 122.5px,#59cd9f 123.5px,#a5cd53 124.5px,#ecb040 126.5px,#f18330 127.5px,#db5023 128.5px,#c13121 129.5px,#9b1b20 133px)"></i><i style="background:linear-gradient(90deg,#2e1a3e 0,#2f1c42 52.5px,#31204e 53.5px,#372e72 54.5px,#4055b3 55.5px,#3f8fe4 56.5px,#3bc2cb 57.5px,#69cf8f 58.5px,#91d067 59.5px,#a8cc51 62.5px,#a7cc51 65.5px,#9cce5c 66.5px,#5dce9b 67.5px,#3f8de3 68.5px,#3a3480 69.5px,#332559 70.5px,#3e4aa2 71.5px,#39abe3 72.5px,#71d087 73.5px,#a1cd57 74.5px,#a7cc51 80.5px,#8ad06e 82.5px,#55cda3 83.5px,#37b1e1 84.5px,#416ccc 85.5px,#3b3785 86.5px,#322354 87.5px,#2e1a3f 89.5px,#2f1c44 119.5px,#33265c 120.5px,#3e49a1 121.5px,#3e99e8 122.5px,#59cd9f 123.5px,#a6cc52 124.5px,#edac3f 126.5px,#f17e2e 127.5px,#d74b22 128.5px,#be2e21 129.5px,#971a20 133px)"></i><i style="background:linear-gradient(90deg,#2e1a3e 0,#2f1c43 52.5px,#322251 53.5px,#393179 54.5px,#405cbc 55.5px,#3e98e8 56.5px,#3fc5c3 57.5px,#70d088 58.5px,#94cf64 59.5px,#a8cc50 62.5px,#9cce5c 66.5px,#5ece9a 67.5px,#3f8fe4 68.5px,#3a3682 69.5px,#33255a 70.5px,#3e4ba4 71.5px,#38ade2 72.5px,#74d084 73.5px,#a3cd55 74.5px,#a9cc4f 80.5px,#92d066 82.5px,#63ce95 83.5px,#38bad7 84.5px,#4279d8 85.5px,#3c3f91 86.5px,#332559 87.5px,#2e1a3f 89.5px,#2f1c44 119.5px,#33255b 120.5px,#3d49a0 121.5px,#3e98e8 122.5px,#59cd9f 123.5px,#a7cc51 124.5px,#d0c241 125.5px,#efa83d 126.5px,#ef782c 127.5px,#d44622 128.5px,#ba2b21 129.5px,#94191f 133px)"></i><i style="background:linear-gradient(90deg,#2e1a3e 0,#2f1c44 52.5px,#322355 53.5px,#3a3581 54.5px,#4163c3 55.5px,#3ca0e6 56.5px,#44c7bb 57.5px,#76d082 58.5px,#97cf61 59.5px,#a8cc50 63.5px,#9dce5b 66.5px,#60ce98 67.5px,#3f92e5 68.5px,#3b3785 69.5px,#33265b 70.5px,#3e4da7 71.5px,#37b0e1 72.5px,#78d080 73.5px,#a5cc53 74.5px,#a8cc50 81.5px,#99cf5f 82.5px,#6fd089 83.5px,#3bc1cd 84.5px,#4084de 85.5px,#3d469d 86.5px,#34275f 87.5px,#2f1d46 88.5px,#2f1c44 119.5px,#33255a 120.5px,#3d489f 121.5px,#3e97e8 122.5px,#59cd9f 123.5px,#a8cc50 124.5px,#d3c141 125.5px,#f0a43c 126.5px,#ed732a 127.5px,#d14121 128.5px,#a52021 130.5px,#92181f 133px)"></i><i style="background:linear-gradient(90deg,#2e1a3e 0,#2f1d46 52.5px,#33255a 53.5px,#3b3a8a 54.5px,#416bcb 55.5px,#39a8e3 56.5px,#4ac9b2 57.5px,#7cd07c 58.5px,#99cf5f 59.5px,#a8cc50 63.5px,#9dce5b 66.5px,#62ce96 67.5px,#3e95e6 68.5px,#3b3a89 69.5px,#34275e 70.5px,#3f50ac 71.5px,#36b4e0 72.5px,#7dd07b 73.5px,#a9cc4f 74.5px,#accb4e 81.5px,#9fce59 82.5px,#7bd07d 83.5px,#40c6c1 84.5px,#3f90e4 85.5px,#3e4fa9 86.5px,#352a66 87.5px,#301e48 88.5px,#2e1a3e 99.5px,#2f1c43 119.5px,#332559 120.5px,#3d479d 121.5px,#3e97e7 122.5px,#59cd9f 123.5px,#a9cc4f 124.5px,#d7c040 125.5px,#f1a13b 126.5px,#ea6d29 127.5px,#ce3d20 128.5px,#a31f21 130.5px,#90181e 133px)"></i><i style="background:linear-gradient(90deg,#2e1a3e 0,#2e1b40 51.5px,#34275e 53.5px,#3c4092 54.5px,#4273d3 55.5px,#37b0e1 56.5px,#4fccaa 57.5px,#81d077 58.5px,#9bce5d 59.5px,#a8cc50 64.5px,#9ece5a 66.5px,#65cf93 67.5px,#3d9ce7 68.5px,#3d4499 69.5px,#372e71 70.5px,#405aba 71.5px,#38b9d9 72.5px,#85d073 73.5px,#adcb4d 74.5px,#b0ca4b 81.5px,#a5cc53 82.5px,#86d072 83.5px,#48c9b4 84.5px,#3d9be7 85.5px,#4058b7 86.5px,#372d6e 87.5px,#301f4b 88.5px,#2e1a3e 93.5px,#2f1c43 119.5px,#332559 120.5px,#3d469c 121.5px,#3e96e7 122.5px,#59cd9f 123.5px,#abcb4e 124.5px,#d9bf40 125.5px,#f29d3a 126.5px,#e86828 127.5px,#cc3a20 128.5px,#a11e21 130.5px,#8f171e 133px)"></i><i style="background:linear-gradient(90deg,#2e1a3e 0,#2e1b40 51.5px,#301e49 52.5px,#352963 53.5px,#3d469b 54.5px,#427bd9 55.5px,#37b7dc 56.5px,#56cda2 57.5px,#86d072 58.5px,#a5cd53 60.5px,#a0cd58 66.5px,#72d086 67.5px,#36b5de 68.5px,#4271d1 69.5px,#405ebe 70.5px,#4183de 71.5px,#40c6c2 72.5px,#93cf65 73.5px,#b3ca49 74.5px,#b5c948 81.5px,#abcb4e 82.5px,#90d068 83.5px,#51cca7 84.5px,#3aa6e4 85.5px,#4161c1 86.5px,#393178 87.5px,#31204e 88.5px,#2e1a3e 91.5px,#2f1c43 119.5px,#332458 120.5px,#3d459b 121.5px,#3e95e7 122.5px,#5acd9e 123.5px,#accb4d 124.5px,#dcbd40 125.5px,#f39a39 126.5px,#c93820 128.5px,#a01d21 130.5px,#8e171e 133px)"></i><i style="background:linear-gradient(90deg,#2e1a3e 0,#2f1b41 51.5px,#301f4b 52.5px,#362b69 53.5px,#3e4ca5 54.5px,#4183de 55.5px,#39bbd5 56.5px,#5ece9a 57.5px,#8bd06d 58.5px,#a5cc53 60.5px,#a4cd54 66.5px,#8bd06d 67.5px,#52cca6 68.5px,#3abed1 69.5px,#38b9d8 70.5px,#3fc5c3 71.5px,#a7cc51 73.5px,#c2c643 75.5px,#bac845 81.5px,#98cf60 83.5px,#5ece9a 84.5px,#37b2e1 85.5px,#416bcb 86.5px,#3a3682 87.5px,#322252 88.5px,#2e1a3f 90.5px,#2f1c43 119.5px,#332458 120.5px,#3d459a 121.5px,#3e95e7 122.5px,#5bcd9d 123.5px,#aecb4c 124.5px,#debb40 125.5px,#f49537 126.5px,#c73520 128.5px,#9f1d20 130.5px,#8d171e 133px)"></i><i style="background:linear-gradient(90deg,#2e1a3e 0,#2f1b42 51.5px,#31204d 52.5px,#372d6f 53.5px,#3f52af 54.5px,#408ce2 55.5px,#3bc0ce 56.5px,#66cf92 57.5px,#90d068 58.5px,#a6cc52 60.5px,#9fce59 67.5px,#7dd07b 69.5px,#8bd06d 71.5px,#b6c947 73.5px,#cdc342 77.5px,#c1c743 81.5px,#a0cd58 83.5px,#6bcf8d 84.5px,#38bad7 85.5px,#4276d6 86.5px,#3b3c8c 87.5px,#332457 88.5px,#2e1a3f 90.5px,#2f1c43 119.5px,#332458 120.5px,#3d459a 121.5px,#3e95e7 122.5px,#5cce9c 123.5px,#b0ca4b 124.5px,#e1b940 125.5px,#f39135 126.5px,#e15a24 127.5px,#c43321 128.5px,#93191f 131.5px,#8c171d 133px)"></i><i style="background:linear-gradient(90deg,#2e1a3e 0,#2f1c43 51.5px,#312150 52.5px,#383076 53.5px,#4059b9 54.5px,#3e94e6 55.5px,#3dc4c7 56.5px,#6dd08b 57.5px,#93d065 58.5px,#a8cc50 61.5px,#a2cd56 67.5px,#7dd07b 70.5px,#b8c947 73.5px,#d0c241 75.5px,#c7c542 81.5px,#a8cc50 83.5px,#78d080 84.5px,#3bc1cd 85.5px,#4180dc 86.5px,#3c4397 87.5px,#33265c 88.5px,#2f1d45 89.5px,#2f1c43 119.5px,#332458 120.5px,#3d469b 121.5px,#3e97e8 122.5px,#5fce99 123.5px,#b2ca4a 124.5px,#e4b640 125.5px,#f28c33 126.5px,#de5524 127.5px,#c23121 128.5px,#93181f 131.5px,#8b161d 133px)"></i><i style="background:linear-gradient(90deg,#2e1a3e 0,#2f1c44 51.5px,#322354 52.5px,#3a337e 53.5px,#4160c0 54.5px,#3d9de7 55.5px,#42c7be 56.5px,#73d085 57.5px,#96cf62 58.5px,#a8cc50 61.5px,#a6cc52 66.5px,#97cf61 67.5px,#3ec5c5 69.5px,#38bbd6 70.5px,#3cc3ca 71.5px,#67cf91 72.5px,#a9cc4f 73.5px,#c9c442 74.5px,#dabf40 77.5px,#cdc342 81.5px,#aecb4d 83.5px,#84d074 84.5px,#40c6c2 85.5px,#408be2 86.5px,#3e4aa2 87.5px,#342861 88.5px,#301d47 89.5px,#2e1a3f 118.5px,#2f1c43 119.5px,#33255a 120.5px,#3d49a0 121.5px,#3d9be7 122.5px,#65cf93 123.5px,#b6c948 124.5px,#e8b340 125.5px,#f28631 126.5px,#db5123 127.5px,#bf2f21 128.5px,#92181f 131.5px,#8b161d 133px)"></i><i style="background:linear-gradient(90deg,#2e1a3e 0,#2f1d45 51.5px,#332458 52.5px,#3b3886 53.5px,#4168c8 54.5px,#3aa5e4 55.5px,#48c9b5 56.5px,#79d07f 57.5px,#98cf60 58.5px,#a8cc50 62.5px,#a5cd53 66.5px,#8ad06e 67.5px,#42c6bf 68.5px,#4088e0 69.5px,#4161c1 70.5px,#4277d7 71.5px,#3abfd0 72.5px,#98cf60 73.5px,#c9c442 74.5px,#ddbc40 76.5px,#d3c241 81.5px,#b3ca4a 83.5px,#8fd069 84.5px,#48c9b5 85.5px,#3e97e7 86.5px,#3f52af 87.5px,#362b69 88.5px,#301e49 89.5px,#2e1a3e 97.5px,#2f1d44 119.5px,#34275e 120.5px,#3e4faa 121.5px,#3ba4e5 122.5px,#6ed08a 123.5px,#bac845 124.5px,#ecb040 125.5px,#f1802f 126.5px,#d84c22 127.5px,#bd2d21 128.5px,#91181f 131.5px,#8a161d 133px)"></i><i style="background:linear-gradient(90deg,#2e1a3e 0,#2e1b40 50.5px,#34265c 52.5px,#3c3d8f 53.5px,#416fcf 54.5px,#38ade2 55.5px,#4dcbad 56.5px,#7fd079 57.5px,#9ace5e 58.5px,#a8cc50 63.5px,#a4cd54 66.5px,#85d073 67.5px,#3abfcf 68.5px,#4165c5 69.5px,#393179 70.5px,#3e4ca5 71.5px,#37b0e1 72.5px,#92d066 73.5px,#ccc342 74.5px,#e1b940 76.5px,#d8c040 81.5px,#b8c947 83.5px,#97cf61 84.5px,#50cca8 85.5px,#3ba2e5 86.5px,#405cbc 87.5px,#372e71 88.5px,#31204c 89.5px,#2e1a3e 93.5px,#2f1d46 119.5px,#352965 120.5px,#4059b8 121.5px,#37b0e1 122.5px,#7cd07c 123.5px,#c1c643 124.5px,#eeab3e 125.5px,#f07a2c 126.5px,#d44622 127.5px,#ba2b22 128.5px,#91181e 131.5px,#8a161d 133px)"></i><i style="background:linear-gradient(90deg,#2e1a3e 0,#2e1b40 50.5px,#301e48 51.5px,#342861 52.5px,#3d4398 53.5px,#4278d7 54.5px,#36b5df 55.5px,#53cca5 56.5px,#84d074 57.5px,#a4cd54 59.5px,#a4cd54 66.5px,#86d072 67.5px,#3abfcf 68.5px,#4160c0 69.5px,#362b69 70.5px,#3d469b 71.5px,#37afe1 72.5px,#95cf63 73.5px,#d1c241 74.5px,#e6b540 76.5px,#ddbc40 81.5px,#bdc844 83.5px,#9fce59 84.5px,#5dce9b 85.5px,#38ade2 86.5px,#4165c5 87.5px,#39327c 88.5px,#312150 89.5px,#2e1a3f 91.5px,#2e1b40 118.5px,#301e49 119.5px,#372d6f 120.5px,#4164c4 121.5px,#38bad7 122.5px,#8bd06d 123.5px,#cac442 124.5px,#f0a53c 125.5px,#ec722a 126.5px,#d14121 127.5px,#a41f21 129.5px,#89161d 133px)"></i><i style="background:linear-gradient(90deg,#2e1a3e 0,#2f1b41 50.5px,#301f4a 51.5px,#352a67 52.5px,#3e49a1 53.5px,#4180dc 54.5px,#38bad8 55.5px,#5bcd9d 56.5px,#89d06f 57.5px,#a5cc53 59.5px,#a5cd53 66.5px,#88d070 67.5px,#3bc2cc 68.5px,#4163c3 69.5px,#362c6c 70.5px,#3d49a0 71.5px,#36b4e0 72.5px,#9ace5e 73.5px,#d7c040 74.5px,#ebb140 76.5px,#e3b840 81.5px,#c4c643 83.5px,#a6cc52 84.5px,#69cf8f 85.5px,#37b6dc 86.5px,#416fcf 87.5px,#3b3886 88.5px,#322354 89.5px,#2e1a3f 91.5px,#2e1b40 118.5px,#31204c 119.5px,#39327b 120.5px,#4271d1 121.5px,#3cc4c8 122.5px,#99cf5f 123.5px,#d4c141 124.5px,#f29f3a 125.5px,#e96a28 126.5px,#cd3c20 127.5px,#a31f21 129.5px,#89161d 133px)"></i><i style="background:linear-gradient(90deg,#2e1a3e 0,#2f1b41 50.5px,#31204c 51.5px,#362c6c 52.5px,#3f50ab 53.5px,#4088e0 54.5px,#3abed1 55.5px,#63ce95 56.5px,#8ed06a 57.5px,#a6cc52 59.5px,#a5cc53 66.5px,#8cd06c 67.5px,#3ec5c4 68.5px,#416dcd 69.5px,#3a3581 70.5px,#4056b5 71.5px,#38bad7 72.5px,#a1cd57 73.5px,#dcbd40 74.5px,#eeab3e 76.5px,#e8b340 81.5px,#ccc442 83.5px,#adcb4d 84.5px,#76d082 85.5px,#39bdd2 86.5px,#4279d9 87.5px,#3c3e90 88.5px,#332458 89.5px,#2e1a3f 91.5px,#2f1b41 118.5px,#312151 119.5px,#3b3988 120.5px,#4180dc 121.5px,#48c9b5 122.5px,#a4cd54 123.5px,#dbbd40 124.5px,#f49838 125.5px,#ca3820 127.5px,#a21e21 129.5px,#89161d 133px)"></i><i style="background:linear-gradient(90deg,#2e1a3e 0,#2f1c42 50.5px,#31214f 51.5px,#382f73 52.5px,#4056b5 53.5px,#3f91e4 54.5px,#3cc3ca 55.5px,#6acf8e 56.5px,#92d066 57.5px,#a8cc51 60.5px,#a7cc51 66.5px,#93cf65 67.5px,#4dcbad 68.5px,#3e95e6 69.5px,#4168c8 70.5px,#4085de 71.5px,#46c8b9 72.5px,#adcb4d 73.5px,#e1b940 74.5px,#f1a13b 77.5px,#e3b740 82.5px,#b3ca49 84.5px,#82d076 85.5px,#3cc4c8 86.5px,#4084de 87.5px,#3d459a 88.5px,#34265d 89.5px,#2f1d45 90.5px,#2f1c43 118.5px,#332457 119.5px,#3c4397 120.5px,#3f91e4 121.5px,#56cda2 122.5px,#aecb4d 123.5px,#e1b940 124.5px,#f39035 125.5px,#c63521 127.5px,#971a20 130.5px,#88161d 133px)"></i><i style="background:linear-gradient(90deg,#2e1a3e 0,#2f1c43 50.5px,#322252 51.5px,#39327b 52.5px,#405dbd 53.5px,#3e9ae8 54.5px,#40c6c1 55.5px,#71d087 56.5px,#95cf63 57.5px,#a8cc50 60.5px,#a8cc50 66.5px,#9ece5a 67.5px,#78d080 68.5px,#46c8b8 69.5px,#3bc0ce 70.5px,#46c8b8 71.5px,#85d073 72.5px,#c2c643 73.5px,#e7b440 74.5px,#f39b39 78.5px,#e7b440 82.5px,#d8c040 83.5px,#b8c946 84.5px,#8ed06a 85.5px,#44c7bc 86.5px,#3f8fe4 87.5px,#3e4da6 88.5px,#352964 89.5px,#301e47 90.5px,#2e1a3e 107.5px,#2f1d45 118.5px,#34275f 119.5px,#3e4ea9 120.5px,#3ba1e5 121.5px,#69cf8f 122.5px,#b6c948 123.5px,#e7b440 124.5px,#f28832 125.5px,#dd5423 126.5px,#c33221 127.5px,#961920 130.5px,#88151d 133px)"></i><i style="background:linear-gradient(90deg,#2e1a3e 0,#2f1d44 50.5px,#322356 51.5px,#3a3683 52.5px,#4165c5 53.5px,#3ba2e5 54.5px,#45c8b9 55.5px,#77d081 56.5px,#97cf61 57.5px,#a8cc50 61.5px,#a8cc50 67.5px,#93d065 70.5px,#b9c946 72.5px,#dbbe40 73.5px,#f0a43c 75.5px,#f49938 79.5px,#eab240 82.5px,#bdc844 84.5px,#96cf62 85.5px,#4ccaaf 86.5px,#3d9ae7 87.5px,#4055b4 88.5px,#362c6b 89.5px,#301f4a 90.5px,#2e1a3e 96.5px,#2e1b3f 117.5px,#301e47 118.5px,#362b68 119.5px,#405bbb 120.5px,#37b2e1 121.5px,#7bd07d 122.5px,#bec744 123.5px,#ecaf40 124.5px,#f1812f 125.5px,#d94e23 126.5px,#bf3021 127.5px,#8e171e 131.5px,#88151d 133px)"></i><i style="background:linear-gradient(90deg,#2e1a3e 0,#2f1d46 50.5px,#33255b 51.5px,#3b3b8b 52.5px,#416ccc 53.5px,#39aae3 54.5px,#4bcab0 55.5px,#7dd07b 56.5px,#99ce5f 57.5px,#a8cc50 62.5px,#b6c948 70.5px,#edac3f 74.5px,#f49537 78.5px,#ecb040 82.5px,#c2c643 84.5px,#9dce5b 85.5px,#55cda3 86.5px,#3aa5e4 87.5px,#405fbf 88.5px,#383075 89.5px,#31204d 90.5px,#2e1a3e 93.5px,#2e1b40 117.5px,#301f4b 118.5px,#382f74 119.5px,#4168c8 120.5px,#39bcd3 121.5px,#8cd06c 122.5px,#c8c542 123.5px,#eea93e 124.5px,#f0792c 125.5px,#d54822 126.5px,#ab2221 128.5px,#88151d 133px)"></i><i style="background:linear-gradient(90deg,#2e1a3e 0,#2e1b40 49.5px,#301e48 50.5px,#34275f 51.5px,#3c4194 52.5px,#4274d4 53.5px,#37b2e1 54.5px,#50cca8 55.5px,#82d076 56.5px,#a4cd54 58.5px,#b5c948 69.5px,#eeab3e 74.5px,#f39336 78.5px,#edae3f 82.5px,#c6c543 84.5px,#a3cd55 85.5px,#62ce96 86.5px,#37b1e1 87.5px,#4169c9 88.5px,#3a3480 89.5px,#322252 90.5px,#2e1a3f 92.5px,#2f1b41 117.5px,#31214f 118.5px,#3a3682 119.5px,#4278d8 120.5px,#3fc5c3 121.5px,#9ace5e 122.5px,#d1c241 123.5px,#f1a23b 124.5px,#ec712a 125.5px,#d24321 126.5px,#a92121 128.5px,#88151c 133px)"></i><i style="background:linear-gradient(90deg,#2e1a3e 0,#2e1b41 49.5px,#301e49 50.5px,#352964 51.5px,#3d479d 52.5px,#417cda 53.5px,#37b8db 54.5px,#58cda0 55.5px,#87d071 56.5px,#a5cd53 58.5px,#b5c948 69.5px,#eeab3e 74.5px,#f39336 78.5px,#edad3f 82.5px,#cac442 84.5px,#a9cc4f 85.5px,#6ed08a 86.5px,#38b9d8 87.5px,#4275d5 88.5px,#3b3b8c 89.5px,#332457 90.5px,#2e1a3f 92.5px,#2f1c43 117.5px,#322356 118.5px,#3c4092 119.5px,#4089e0 120.5px,#4ccaae 121.5px,#a5cc53 122.5px,#dabf40 123.5px,#f39c39 124.5px,#ce3e20 126.5px,#a82121 128.5px,#87151c 133px)"></i><i style="background:linear-gradient(90deg,#2e1a3e 0,#2f1b41 49.5px,#301f4b 50.5px,#362b6a 51.5px,#3e4da7 52.5px,#4085de 53.5px,#39bcd4 54.5px,#8cd06c 56.5px,#a5cc53 58.5px,#b5c948 69.5px,#eeab3e 74.5px,#f39236 78.5px,#edac3f 82.5px,#cec341 84.5px,#aecb4c 85.5px,#7bd07d 86.5px,#3bc1cc 87.5px,#4181dd 88.5px,#3d4499 89.5px,#34265d 90.5px,#2f1d45 91.5px,#2f1d45 117.5px,#34275e 118.5px,#3e4ca5 119.5px,#3d9be7 120.5px,#5ece9a 121.5px,#afcb4c 122.5px,#e0ba40 123.5px,#f49537 124.5px,#cb3920 126.5px,#9d1c20 129.5px,#87151c 133px)"></i><i style="background:linear-gradient(90deg,#2e1a3e 0,#2f1c42 49.5px,#31204e 50.5px,#372e70 51.5px,#3f54b1 52.5px,#3f8de3 53.5px,#3bc1cd 54.5px,#67cf91 55.5px,#90d068 56.5px,#a8cc51 59.5px,#a4cd54 68.5px,#e6b540 73.5px,#f39236 78.5px,#eeab3e 82.5px,#d1c241 84.5px,#b3ca49 85.5px,#87d071 86.5px,#42c6be 87.5px,#3f8fe4 88.5px,#3e4ea8 89.5px,#352965 90.5px,#301e48 91.5px,#2e1a3e 102.5px,#2e1b40 116.5px,#301e48 117.5px,#362b69 118.5px,#405aba 119.5px,#38ade2 120.5px,#72d086 121.5px,#b7c947 122.5px,#e5b540 123.5px,#f38d34 124.5px,#c83720 126.5px,#9d1c20 129.5px,#87151c 133px)"></i><i style="background:linear-gradient(90deg,#2e1a3e 0,#2f1c43 49.5px,#312151 50.5px,#383177 51.5px,#405aba 52.5px,#3e96e7 53.5px,#3ec5c5 54.5px,#6ed08a 55.5px,#93cf65 56.5px,#a8cc50 59.5px,#a4cd54 64.5px,#96cf62 65.5px,#60ce98 67.5px,#67cf91 68.5px,#afcb4c 70.5px,#e6b540 73.5px,#f39236 78.5px,#eeaa3e 82.5px,#d4c141 84.5px,#b7c947 85.5px,#92d066 86.5px,#4bcaaf 87.5px,#3d9de7 88.5px,#4059b9 89.5px,#372e70 90.5px,#301f4c 91.5px,#2e1a3e 95.5px,#2f1b41 116.5px,#31204d 117.5px,#383177 118.5px,#4169c9 119.5px,#39bbd6 120.5px,#85d073 121.5px,#c0c743 122.5px,#ebb140 123.5px,#f28631 124.5px,#dd5423 125.5px,#c53421 126.5px,#94191f 130.5px,#87151c 133px)"></i><i style="background:linear-gradient(90deg,#2e1a3e 0,#2f1c44 49.5px,#322355 50.5px,#3a3480 51.5px,#4162c2 52.5px,#3c9ee6 53.5px,#43c7bc 54.5px,#75d083 55.5px,#96cf62 56.5px,#a8cc50 60.5px,#a6cc52 63.5px,#98cf60 64.5px,#68cf90 65.5px,#39bbd5 66.5px,#3e95e6 67.5px,#3d9be7 68.5px,#3ec5c4 69.5px,#8dd06b 70.5px,#bbc844 71.5px,#d9bf40 72.5px,#f49938 76.5px,#f49838 80.5px,#e6b540 83.5px,#bac845 85.5px,#9ace5e 86.5px,#57cda1 87.5px,#39abe3 88.5px,#4165c5 89.5px,#39337c 90.5px,#312150 91.5px,#2e1a3f 93.5px,#2f1c42 116.5px,#322253 117.5px,#3b3988 118.5px,#427ad9 119.5px,#3ec5c4 120.5px,#95cf63 121.5px,#c9c442 122.5px,#eeab3e 123.5px,#f17e2e 124.5px,#d94e23 125.5px,#b12522 127.5px,#87151c 133px)"></i><i style="background:linear-gradient(90deg,#2e1a3e 0,#2f1d46 49.5px,#332559 50.5px,#3b3a89 51.5px,#416aca 52.5px,#3aa7e4 53.5px,#49c9b3 54.5px,#7bd07d 55.5px,#98cf60 56.5px,#a8cc50 60.5px,#a2cd56 63.5px,#84d074 64.5px,#3cc3c9 65.5px,#4276d6 66.5px,#3c3f91 67.5px,#3d4499 68.5px,#4089e1 69.5px,#54cda4 70.5px,#aecb4d 71.5px,#d6c140 72.5px,#f1a13b 75.5px,#f39336 79.5px,#e6b440 83.5px,#bec744 85.5px,#a1cd57 86.5px,#66cf92 87.5px,#37b7dc 88.5px,#4272d2 89.5px,#3b3a89 90.5px,#322356 91.5px,#2e1a3f 93.5px,#2f1d44 116.5px,#33255b 117.5px,#3d459a 118.5px,#3f8de3 119.5px,#4ccaae 120.5px,#a1cd57 121.5px,#d2c241 122.5px,#f0a53c 123.5px,#ee772b 124.5px,#d64822 125.5px,#b02422 127.5px,#87151c 133px)"></i><i style="background:linear-gradient(90deg,#2e1a3e 0,#2e1b40 48.5px,#34275f 50.5px,#3c4093 51.5px,#4273d3 52.5px,#37b0e1 53.5px,#4fcbaa 54.5px,#81d077 55.5px,#9ace5e 56.5px,#a8cc50 61.5px,#a0cd58 63.5px,#74d084 64.5px,#37b1e1 65.5px,#3f52af 66.5px,#34265d 67.5px,#352964 68.5px,#4164c4 69.5px,#3ec5c6 70.5px,#a3cd55 71.5px,#d3c141 72.5px,#eeab3e 74.5px,#f39235 78.5px,#efa83d 82.5px,#d9bf40 84.5px,#a7cc51 86.5px,#73d085 87.5px,#3abfd0 88.5px,#417fdb 89.5px,#3c4397 90.5px,#34265c 91.5px,#2f1d45 92.5px,#2e1b40 115.5px,#301e47 116.5px,#352965 117.5px,#3f53b0 118.5px,#3ca0e6 119.5px,#5fce99 120.5px,#accb4e 121.5px,#dabf40 122.5px,#f29f3a 123.5px,#eb6f29 124.5px,#d24321 125.5px,#ae2422 127.5px,#87151c 133px)"></i><i style="background:linear-gradient(90deg,#2e1a3e 0,#2f1b41 48.5px,#301f4b 49.5px,#352a67 50.5px,#3d49a0 51.5px,#417edb 52.5px,#38b8da 53.5px,#58cda0 54.5px,#87d071 55.5px,#a5cd53 57.5px,#a1cd57 63.5px,#78d080 64.5px,#37b6dd 65.5px,#405aba 66.5px,#362b69 67.5px,#372e71 68.5px,#416ccc 69.5px,#42c7be 70.5px,#a6cc52 71.5px,#d4c141 72.5px,#eeab3e 74.5px,#f39135 78.5px,#efa73d 82.5px,#c5c543 85.5px,#accb4e 86.5px,#80d078 87.5px,#3fc5c3 88.5px,#3f8de2 89.5px,#3e4da6 90.5px,#352965 91.5px,#301e48 92.5px,#2e1a3e 104.5px,#2e1b41 115.5px,#301f4c 116.5px,#382f72 117.5px,#4161c1 118.5px,#36b2e0 119.5px,#73d085 120.5px,#b4ca49 121.5px,#dfba40 122.5px,#f49838 123.5px,#cf3f21 125.5px,#ae2322 127.5px,#87151c 133px)"></i><i style="background:linear-gradient(90deg,#2e1a3e 0,#2f1c43 48.5px,#312150 49.5px,#382f73 50.5px,#3f55b3 51.5px,#3f8de2 52.5px,#3ac0cf 53.5px,#64ce94 54.5px,#8ed06a 55.5px,#a5cc53 57.5px,#a4cd54 63.5px,#8cd06c 64.5px,#47c8b6 65.5px,#3f8fe4 66.5px,#405bbb 67.5px,#4161c1 68.5px,#3ba2e5 69.5px,#68cf90 70.5px,#b3ca49 71.5px,#d8c040 72.5px,#f1a13b 75.5px,#f39236 79.5px,#e9b240 83.5px,#b0ca4b 86.5px,#8bd06d 87.5px,#49c9b4 88.5px,#3d9be7 89.5px,#4058b8 90.5px,#372d6f 91.5px,#301f4b 92.5px,#2e1a3e 96.5px,#2f1c42 115.5px,#322252 116.5px,#3a3683 117.5px,#4271d1 118.5px,#3abed1 119.5px,#85d073 120.5px,#bbc845 121.5px,#e5b640 122.5px,#f39135 123.5px,#cc3a20 125.5px,#a41f21 128.5px,#87151c 133px)"></i><i style="background:linear-gradient(90deg,#2e1a3e 0,#2f1d46 48.5px,#332458 49.5px,#3a3784 50.5px,#4163c3 51.5px,#3c9ee6 52.5px,#41c6bf 53.5px,#71d087 54.5px,#94cf64 55.5px,#a8cc51 58.5px,#9dce5b 64.5px,#7cd07c 65.5px,#46c8b7 66.5px,#37b7db 67.5px,#39bbd6 68.5px,#56cda2 69.5px,#9cce5c 70.5px,#c1c743 71.5px,#e6b440 73.5px,#f39135 78.5px,#efa63d 82.5px,#cac442 85.5px,#b3ca49 86.5px,#94cf64 87.5px,#53cca5 88.5px,#39a9e3 89.5px,#4164c4 90.5px,#39327b 91.5px,#312150 92.5px,#2e1a3f 94.5px,#2f1d44 115.5px,#33255a 116.5px,#3c4194 117.5px,#4183dd 118.5px,#41c6bf 119.5px,#94cf64 120.5px,#c3c643 121.5px,#eab240 122.5px,#f28932 123.5px,#c93720 125.5px,#9c1c20 129.5px,#87151c 133px)"></i><i style="background:linear-gradient(90deg,#2e1a3e 0,#2f1b41 47.5px,#301f4a 48.5px,#352964 49.5px,#3d4499 50.5px,#4276d6 51.5px,#37b1e1 52.5px,#4ecbac 53.5px,#7ed07a 54.5px,#99cf5f 55.5px,#a8cc50 60.5px,#9ece5a 65.5px,#7dd07b 67.5px,#83d075 68.5px,#b5c948 70.5px,#e7b440 73.5px,#f39135 78.5px,#f0a53c 82.5px,#ccc342 85.5px,#b6c948 86.5px,#9ace5e 87.5px,#60ce98 88.5px,#36b5de 89.5px,#4270d0 90.5px,#3b3988 91.5px,#322355 92.5px,#2e1a3f 94.5px,#2e1b40 114.5px,#301e48 115.5px,#352964 116.5px,#3e4fa9 117.5px,#3e97e7 118.5px,#4fcbaa 119.5px,#9fcd59 120.5px,#cbc442 121.5px,#edad3f 122.5px,#f1822f 123.5px,#dc5323 124.5px,#c63520 125.5px,#95191f 130.5px,#88151c 133px)"></i><i style="background:linear-gradient(90deg,#2e1a3e 0,#2f1c43 47.5px,#312151 48.5px,#382f75 49.5px,#3f55b3 50.5px,#408be2 51.5px,#3abed1 52.5px,#8ad06e 54.5px,#a5cd53 56.5px,#aacc4f 68.5px,#e7b440 73.5px,#f39135 78.5px,#f0a43c 82.5px,#cec341 85.5px,#a0cd58 87.5px,#6ed08a 88.5px,#39bdd2 89.5px,#417ddb 90.5px,#3c4296 91.5px,#33265c 92.5px,#2f1d45 93.5px,#2f1b41 114.5px,#31204d 115.5px,#382f73 116.5px,#405ebe 117.5px,#39a9e3 118.5px,#62ce96 119.5px,#a9cc50 120.5px,#efa83d 122.5px,#f07c2d 123.5px,#d94d23 124.5px,#b52722 126.5px,#88151d 133px)"></i><i style="background:linear-gradient(90deg,#2e1a3e 0,#2f1d46 47.5px,#33255a 48.5px,#3b3988 49.5px,#4167c7 50.5px,#3ba1e5 51.5px,#43c7bd 52.5px,#72d086 53.5px,#94cf64 54.5px,#a8cc51 57.5px,#b0ca4b 68.5px,#e7b440 73.5px,#f39135 78.5px,#f0a43c 82.5px,#d0c241 85.5px,#a6cc52 87.5px,#7ad07e 88.5px,#3dc4c6 89.5px,#408be2 90.5px,#3e4ca5 91.5px,#352964 92.5px,#301e48 93.5px,#2e1a3e 106.5px,#2f1c43 114.5px,#322253 115.5px,#3a3784 116.5px,#416fcf 117.5px,#38b9d9 118.5px,#75d083 119.5px,#b0ca4b 120.5px,#d8c040 121.5px,#f0a33c 122.5px,#ee752b 123.5px,#d64922 124.5px,#b42622 126.5px,#88151d 133px)"></i><i style="background:linear-gradient(90deg,#2e1a3e 0,#2f1b41 46.5px,#301f4a 47.5px,#352965 48.5px,#3d469c 49.5px,#4279d8 50.5px,#36b4df 51.5px,#50cca8 52.5px,#81d077 53.5px,#a3cd55 55.5px,#b1ca4b 68.5px,#e7b440 73.5px,#f39135 78.5px,#f0a33c 82.5px,#d1c241 85.5px,#aacc4f 87.5px,#85d073 88.5px,#46c8b7 89.5px,#3e9ae8 90.5px,#4057b6 91.5px,#372d6e 92.5px,#301f4b 93.5px,#2e1a3e 98.5px,#2f1d45 114.5px,#34265d 115.5px,#3c4397 116.5px,#4181dd 117.5px,#3cc4c9 118.5px,#85d073 119.5px,#b5c948 120.5px,#dcbd40 121.5px,#f29e3a 122.5px,#eb702a 123.5px,#d44622 124.5px,#b42622 126.5px,#88151d 133px)"></i><i style="background:linear-gradient(90deg,#2e1a3e 0,#2f1c42 46.5px,#31204e 47.5px,#372e71 48.5px,#3f53b0 49.5px,#408ae1 50.5px,#3abed1 51.5px,#8cd06c 53.5px,#a5cc53 55.5px,#b1ca4b 68.5px,#e7b440 73.5px,#f39135 78.5px,#f1a23b 82.5px,#d3c241 85.5px,#adcb4d 87.5px,#8fd069 88.5px,#4fcca9 89.5px,#3aa7e4 90.5px,#4163c3 91.5px,#39327a 92.5px,#312150 93.5px,#2e1a3f 95.5px,#2e1b40 113.5px,#301e49 114.5px,#362b69 115.5px,#3f51ae 116.5px,#3e95e7 117.5px,#49c9b4 118.5px,#93d065 119.5px,#bac845 120.5px,#dfba40 121.5px,#f39b39 122.5px,#d24321 124.5px,#b32622 126.5px,#88161d 133px)"></i><i style="background:linear-gradient(90deg,#2e1a3e 0,#2f1c43 46.5px,#322253 47.5px,#39327b 48.5px,#405dbd 49.5px,#3e98e8 50.5px,#3ec5c4 51.5px,#6ed08a 52.5px,#93d065 53.5px,#a8cc51 56.5px,#b1ca4a 68.5px,#e7b440 73.5px,#f39135 78.5px,#f1a23b 82.5px,#d4c141 85.5px,#b0ca4b 87.5px,#95cf63 88.5px,#5dce9b 89.5px,#36b4e0 90.5px,#416fcf 91.5px,#3b3987 92.5px,#322355 93.5px,#2e1a3f 95.5px,#2f1b42 113.5px,#31214f 114.5px,#393178 115.5px,#4161c1 116.5px,#3aa8e4 117.5px,#58cda0 118.5px,#9cce5c 119.5px,#bfc744 120.5px,#e2b840 121.5px,#f49738 122.5px,#d04021 124.5px,#b32622 126.5px,#89161d 133px)"></i><i style="background:linear-gradient(90deg,#2e1a3e 0,#2f1d45 46.5px,#322356 47.5px,#3a3683 48.5px,#4164c4 49.5px,#3ba1e5 50.5px,#45c7ba 51.5px,#76d082 52.5px,#96cf62 53.5px,#a8cc50 57.5px,#b1ca4a 68.5px,#e7b440 73.5px,#f39135 78.5px,#f1a13b 82.5px,#d5c140 85.5px,#b2ca4a 87.5px,#9bce5d 88.5px,#6acf8e 89.5px,#39bcd4 90.5px,#417dda 91.5px,#3c4295 92.5px,#33265c 93.5px,#2f1d45 94.5px,#2f1c44 113.5px,#332457 114.5px,#3b3b8b 115.5px,#4272d2 116.5px,#37b8da 117.5px,#6acf8e 118.5px,#a4cd54 119.5px,#e4b640 121.5px,#f39336 122.5px,#cf3e21 124.5px,#ab2221 127.5px,#89161d 133px)"></i><i style="background:linear-gradient(90deg,#2e1a3e 0,#2f1d45 46.5px,#332559 47.5px,#3b3988 48.5px,#4169c9 49.5px,#3aa6e4 50.5px,#49c9b4 51.5px,#7bd07d 52.5px,#98cf60 53.5px,#a8cc50 57.5px,#b1ca4a 68.5px,#e7b440 73.5px,#f39135 78.5px,#f1a03b 82.5px,#d6c040 85.5px,#a1cd57 88.5px,#76d082 89.5px,#3cc4c7 90.5px,#408be2 91.5px,#3e4ca6 92.5px,#352965 93.5px,#301e48 94.5px,#2e1a3e 105.5px,#301e47 113.5px,#352862 114.5px,#3d49a0 115.5px,#4086df 116.5px,#3bc3ca 117.5px,#7ad07e 118.5px,#aacc4f 119.5px,#e7b440 121.5px,#f38f34 122.5px,#cd3c20 124.5px,#ab2221 127.5px,#89161d 133px)"></i><i style="background:linear-gradient(90deg,#2e1a3e 0,#2f1d46 46.5px,#33255b 47.5px,#3b3c8c 48.5px,#416dcd 49.5px,#39aae3 50.5px,#4bcab0 51.5px,#7dd07b 52.5px,#99ce5f 53.5px,#a8cc50 58.5px,#b1ca4a 68.5px,#e7b440 73.5px,#f39035 78.5px,#f1a03b 82.5px,#d7c040 85.5px,#a5cc53 88.5px,#82d076 89.5px,#47c8b7 90.5px,#3d9ce7 91.5px,#405aba 92.5px,#372e71 93.5px,#31204d 94.5px,#2e1a3e 98.5px,#2f1b41 112.5px,#31204e 113.5px,#382f73 114.5px,#405aba 115.5px,#3d9be7 116.5px,#48c9b5 117.5px,#89d06f 118.5px,#aecb4c 119.5px,#e9b240 121.5px,#f28b33 122.5px,#cc3a20 124.5px,#a52021 128.5px,#8a161d 133px)"></i><i style="background:linear-gradient(90deg,#2e1a3e 0,#2e1b40 45.5px,#34265d 47.5px,#3c3e8f 48.5px,#4170d0 49.5px,#38aee2 50.5px,#4dcbac 51.5px,#7fd079 52.5px,#9ace5e 53.5px,#a8cc50 58.5px,#b2ca4a 68.5px,#e7b440 73.5px,#f39135 78.5px,#f29f3a 82.5px,#d8c040 85.5px,#a9cc4f 88.5px,#8dd06b 89.5px,#53cca5 90.5px,#38ade2 91.5px,#416aca 92.5px,#3a3683 93.5px,#322354 94.5px,#2e1a3f 96.5px,#2f1d44 112.5px,#332457 113.5px,#3b3a89 114.5px,#416ece 115.5px,#37b1e1 116.5px,#59cd9f 117.5px,#95cf63 118.5px,#b2ca4a 119.5px,#ebb040 121.5px,#f28731 122.5px,#e05824 123.5px,#ca3820 124.5px,#a62021 128.5px,#8a161d 133px)"></i><i style="background:linear-gradient(90deg,#2e1a3e 0,#2e1b40 45.5px,#34275e 47.5px,#3c4092 48.5px,#4273d3 49.5px,#37b0e1 50.5px,#4fccaa 51.5px,#81d077 52.5px,#9bce5d 53.5px,#a8cc50 58.5px,#b2ca4a 68.5px,#e7b440 73.5px,#f39135 78.5px,#f29f3a 82.5px,#d9bf40 85.5px,#accb4d 88.5px,#96cf62 89.5px,#66cf92 90.5px,#39bcd5 91.5px,#417edb 92.5px,#3d4499 93.5px,#34275f 94.5px,#301d47 95.5px,#2e1b40 111.5px,#301f4a 112.5px,#352a67 113.5px,#3e4ca5 114.5px,#4087e0 115.5px,#3bc0ce 116.5px,#6ed08a 117.5px,#9dce5b 118.5px,#d0c241 120.5px,#edae3f 121.5px,#f18430 122.5px,#de5524 123.5px,#c93720 124.5px,#a01d21 129.5px,#8b161d 133px)"></i><i style="background:linear-gradient(90deg,#2e1a3e 0,#2e1b40 45.5px,#301e48 46.5px,#342760 47.5px,#3c4295 48.5px,#4275d5 49.5px,#36b3e0 50.5px,#51cca7 51.5px,#83d075 52.5px,#a4cd54 54.5px,#b2ca4a 68.5px,#e7b440 73.5px,#f39236 78.5px,#eeaa3e 83.5px,#afcb4c 88.5px,#9ece5a 89.5px,#78d080 90.5px,#41c6c0 91.5px,#3e96e7 92.5px,#4057b6 93.5px,#372e70 94.5px,#31204d 95.5px,#2e1a3e 99.5px,#2f1c43 111.5px,#322253 112.5px,#3a337e 113.5px,#4162c2 114.5px,#3ba2e5 115.5px,#49c9b3 116.5px,#82d076 117.5px,#a4cd54 118.5px,#d3c241 120.5px,#eeab3e 121.5px,#f1802e 122.5px,#dc5223 123.5px,#c73620 124.5px,#991a20 130.5px,#8b161d 133px)"></i><i style="background:linear-gradient(90deg,#2e1a3e 0,#2e1b40 45.5px,#301e48 46.5px,#342862 47.5px,#3d4498 48.5px,#4278d8 49.5px,#36b5de 50.5px,#54cca4 51.5px,#85d073 52.5px,#a5cd53 54.5px,#b2ca4a 68.5px,#edac3f 74.5px,#f39336 79.5px,#e6b540 84.5px,#a4cd54 89.5px,#88d070 90.5px,#50cca8 91.5px,#38ade2 92.5px,#416bcb 93.5px,#3b3886 94.5px,#322356 95.5px,#2e1a3f 97.5px,#2e1b40 110.5px,#301e48 111.5px,#342861 112.5px,#3d449a 113.5px,#427cda 114.5px,#38b9d8 115.5px,#5fce99 116.5px,#91d067 117.5px,#b9c946 119.5px,#d6c140 120.5px,#efa83d 121.5px,#f07d2d 122.5px,#da4f23 123.5px,#b92a22 125.5px,#8c161d 133px)"></i><i style="background:linear-gradient(90deg,#2e1a3e 0,#2e1b40 45.5px,#301e49 46.5px,#352963 47.5px,#3d469b 48.5px,#427bd9 49.5px,#37b7dc 50.5px,#57cda1 51.5px,#86d072 52.5px,#a5cd53 54.5px,#b1ca4a 68.5px,#edae3f 74.5px,#f49738 79.5px,#e5b640 84.5px,#a8cc50 89.5px,#94cf64 90.5px,#66cf92 91.5px,#39bdd2 92.5px,#4182dd 93.5px,#3d489f 94.5px,#352863 95.5px,#301e48 96.5px,#2e1a3e 108.5px,#31214f 111.5px,#383076 112.5px,#405bbb 113.5px,#3e99e8 114.5px,#41c6bf 115.5px,#76d082 116.5px,#9bce5d 117.5px,#bbc845 119.5px,#d8c040 120.5px,#f0a53c 121.5px,#f0792c 122.5px,#d94d23 123.5px,#b92a22 125.5px,#8c171e 133px)"></i><i style="background:linear-gradient(90deg,#2e1a3e 0,#2e1b41 45.5px,#301f49 46.5px,#352965 47.5px,#3d489e 48.5px,#417edb 49.5px,#38b8d9 50.5px,#59cd9f 51.5px,#88d070 52.5px,#a5cd53 54.5px,#b1ca4a 69.5px,#ebb040 74.5px,#f39c39 79.5px,#e3b740 84.5px,#aacc4f 89.5px,#9cce5c 90.5px,#79d07f 91.5px,#44c7bc 92.5px,#3d9be7 93.5px,#405bbb 94.5px,#383075 95.5px,#31204e 96.5px,#2e1a3e 99.5px,#2f1d46 110.5px,#33265b 111.5px,#3c3e90 112.5px,#4273d3 113.5px,#36b3e0 114.5px,#55cda3 115.5px,#89d06f 116.5px,#afcb4c 118.5px,#dabe40 120.5px,#f0a33c 121.5px,#ee762b 122.5px,#d74b22 123.5px,#b82a22 125.5px,#8d171e 133px)"></i><i style="background:linear-gradient(90deg,#2e1a3e 0,#2f1b41 45.5px,#301f4a 46.5px,#352a67 47.5px,#3e4aa2 48.5px,#4181dd 49.5px,#38bad7 50.5px,#5dce9b 51.5px,#8ad06e 52.5px,#a5cc53 54.5px,#a5cc53 65.5px,#81d077 68.5px,#c1c743 71.5px,#e8b340 74.5px,#f0a43c 80.5px,#dfba40 84.5px,#a1cd57 90.5px,#89d06f 91.5px,#55cda3 92.5px,#37b2e1 93.5px,#4270d0 94.5px,#3b3b8b 95.5px,#332458 96.5px,#2e1a3f 98.5px,#2f1b41 109.5px,#31204c 110.5px,#372d6e 111.5px,#3f53b0 112.5px,#3f8fe4 113.5px,#3cc3c9 114.5px,#6dd08b 115.5px,#95cf63 116.5px,#bec744 119.5px,#dbbd40 120.5px,#f1a13b 121.5px,#ed742b 122.5px,#d64a22 123.5px,#b82a22 125.5px,#8e171e 133px)"></i><i style="background:linear-gradient(90deg,#2e1a3e 0,#2f1b41 45.5px,#301f4b 46.5px,#362b6a 47.5px,#3e4da8 48.5px,#4085df 49.5px,#39bdd3 50.5px,#8cd06c 52.5px,#a5cc53 54.5px,#a6cc52 64.5px,#99ce5f 65.5px,#70d088 66.5px,#40c6c2 67.5px,#37b8db 68.5px,#3bc1cd 69.5px,#6acf8e 70.5px,#aacc4f 71.5px,#ccc342 72.5px,#e9b240 75.5px,#e9b240 82.5px,#a5cc53 90.5px,#94cf64 91.5px,#6acf8e 92.5px,#3bc0ce 93.5px,#4088e0 94.5px,#3e4ca6 95.5px,#352a67 96.5px,#301e49 97.5px,#2e1a3e 104.5px,#2f1c44 109.5px,#332457 110.5px,#3b3987 111.5px,#416bcb 112.5px,#39abe3 113.5px,#4dcbad 114.5px,#81d077 115.5px,#a8cc50 117.5px,#bfc744 119.5px,#dcbd40 120.5px,#f1a13b 121.5px,#ed732a 122.5px,#d64922 123.5px,#b82a22 125.5px,#8f181e 133px)"></i><i style="background:linear-gradient(90deg,#2e1a3e 0,#2f1c42 45.5px,#31204e 46.5px,#372e70 47.5px,#3f53b0 48.5px,#3f8ce2 49.5px,#3bc0ce 50.5px,#66cf92 51.5px,#8fd069 52.5px,#a5cc53 54.5px,#a1cd57 64.5px,#81d077 65.5px,#3cc3c9 66.5px,#4181dd 67.5px,#405aba 68.5px,#416bcb 69.5px,#36b5df 70.5px,#83d075 71.5px,#bdc844 72.5px,#d8c040 73.5px,#e9b340 80.5px,#ccc342 85.5px,#9bce5d 91.5px,#7cd07c 92.5px,#47c9b6 93.5px,#3ca0e6 94.5px,#4160c0 95.5px,#39327a 96.5px,#312151 97.5px,#2e1a3f 99.5px,#2e1b41 108.5px,#301f4a 109.5px,#362a67 110.5px,#3e4ca5 111.5px,#4086df 112.5px,#3abed1 113.5px,#65cf93 114.5px,#91d067 115.5px,#bec744 119.5px,#dbbe40 120.5px,#f1a23b 121.5px,#ee752b 122.5px,#d74b22 123.5px,#b92a22 125.5px,#91181e 133px)"></i><i style="background:linear-gradient(90deg,#2e1a3e 0,#2f1c43 45.5px,#322252 46.5px,#393179 47.5px,#405bbb 48.5px,#3e96e7 49.5px,#3dc4c6 50.5px,#6dd08b 51.5px,#92d066 52.5px,#a7cc51 55.5px,#9ece5a 64.5px,#70d088 65.5px,#37afe1 66.5px,#4056b5 67.5px,#372e70 68.5px,#3b3b8b 69.5px,#3f8de2 70.5px,#65cf93 71.5px,#b4ca49 72.5px,#d1c241 73.5px,#e2b840 79.5px,#d1c241 84.5px,#a0cd58 91.5px,#8bd06d 92.5px,#5acd9e 93.5px,#37b6dd 94.5px,#4276d6 95.5px,#3c3f91 96.5px,#33265b 97.5px,#2e1b3f 99.5px,#2f1c43 108.5px,#322253 109.5px,#3a347f 110.5px,#4163c3 111.5px,#3ba2e5 112.5px,#47c9b6 113.5px,#7bd07d 114.5px,#99ce5f 115.5px,#bcc844 119.5px,#d9bf40 120.5px,#f0a53c 121.5px,#ef792c 122.5px,#d94d23 123.5px,#ba2b22 125.5px,#93191f 133px)"></i><i style="background:linear-gradient(90deg,#2e1a3e 0,#2f1d45 45.5px,#332458 46.5px,#3b3886 47.5px,#4166c6 48.5px,#3ba2e5 49.5px,#45c8ba 50.5px,#75d083 51.5px,#95cf63 52.5px,#a6cc52 56.5px,#9ece5a 64.5px,#78d080 65.5px,#39bbd5 66.5px,#416ece 67.5px,#3d4398 68.5px,#4055b4 69.5px,#3ba3e5 70.5px,#72d086 71.5px,#b4ca49 72.5px,#d3c141 74.5px,#d6c140 82.5px,#a4cd54 91.5px,#95cf63 92.5px,#6ed08a 93.5px,#3cc3c9 94.5px,#3f8ee3 95.5px,#3f51ad 96.5px,#362c6b 97.5px,#301f4b 98.5px,#2e1a3e 103.5px,#301e48 108.5px,#342861 109.5px,#3d459b 110.5px,#417dda 111.5px,#38b9d8 112.5px,#5dce9b 113.5px,#8cd06c 114.5px,#a6cc52 116.5px,#bac845 119.5px,#d5c140 120.5px,#eea93e 121.5px,#f17e2e 122.5px,#dc5123 123.5px,#c83620 124.5px,#a82121 129.5px,#96191f 133px)"></i><i style="background:linear-gradient(90deg,#2e1a3e 0,#2e1b41 44.5px,#301e49 45.5px,#342862 46.5px,#3c4296 47.5px,#4275d5 48.5px,#37b1e1 49.5px,#4ecbab 50.5px,#7ed07a 51.5px,#98cf60 52.5px,#a4cd54 57.5px,#9fcd59 64.5px,#8fd069 65.5px,#59cd9f 66.5px,#37b7db 67.5px,#3d9be7 68.5px,#39abe3 69.5px,#4bcab0 70.5px,#96cf62 71.5px,#b7c947 72.5px,#d1c241 76.5px,#c4c643 84.5px,#9cce5c 92.5px,#80d078 93.5px,#4bcab0 94.5px,#3aa6e4 95.5px,#4165c5 96.5px,#3a347f 97.5px,#322252 98.5px,#2e1a3f 100.5px,#2f1c42 107.5px,#31214f 108.5px,#383076 109.5px,#405bbb 110.5px,#3e99e8 111.5px,#42c6bf 112.5px,#74d084 113.5px,#97cf61 114.5px,#b8c946 119.5px,#edae3f 121.5px,#f18530 122.5px,#df5724 123.5px,#ca3920 124.5px,#ad2322 128.5px,#991a20 133px)"></i><i style="background:linear-gradient(90deg,#2e1a3e 0,#2f1c42 44.5px,#31204e 45.5px,#372d6e 46.5px,#3f4fab 47.5px,#4086df 48.5px,#39bbd5 49.5px,#87d071 51.5px,#a1cd57 53.5px,#9ace5e 65.5px,#61ce97 68.5px,#6ed08a 69.5px,#aacc4f 71.5px,#c6c543 76.5px,#b9c946 85.5px,#a0cd58 92.5px,#8ed06a 93.5px,#5ece9a 94.5px,#38b9d9 95.5px,#427ad9 96.5px,#3c4295 97.5px,#34265d 98.5px,#2f1d46 99.5px,#2f1d46 107.5px,#33265c 108.5px,#3c3e90 109.5px,#4274d4 110.5px,#36b4e0 111.5px,#55cda3 112.5px,#87d071 113.5px,#a5cc53 115.5px,#b6c947 119.5px,#e9b240 121.5px,#f28c33 122.5px,#cd3c20 124.5px,#b22522 127.5px,#9d1c20 133px)"></i><i style="background:linear-gradient(90deg,#2e1a3e 0,#2f1c44 44.5px,#322355 45.5px,#3a337e 46.5px,#405ebe 47.5px,#3e98e8 48.5px,#3dc4c7 49.5px,#69cf8f 50.5px,#8dd06b 51.5px,#a0cd58 54.5px,#9cce5c 69.5px,#b9c946 75.5px,#afcb4c 87.5px,#a3cd55 92.5px,#96cf62 93.5px,#71d087 94.5px,#3dc5c6 95.5px,#3f90e4 96.5px,#3f52af 97.5px,#362c6b 98.5px,#301f4a 99.5px,#2e1a3e 104.5px,#311f4c 107.5px,#372d6d 108.5px,#3f53b0 109.5px,#3f8fe4 110.5px,#3cc3c9 111.5px,#6dd08b 112.5px,#94cf64 113.5px,#a8cc50 116.5px,#b4ca49 119.5px,#e5b640 121.5px,#f39436 122.5px,#d04021 124.5px,#b32622 127.5px,#a11e21 133px)"></i><i style="background:linear-gradient(90deg,#2e1a3e 0,#2e1b40 43.5px,#34265e 45.5px,#3c3d8f 46.5px,#416dcd 47.5px,#39a8e3 48.5px,#47c8b6 49.5px,#73d085 50.5px,#91d067 51.5px,#9bce5d 55.5px,#9dce5b 68.5px,#b3ca49 80.5px,#a5cd53 92.5px,#9cce5c 93.5px,#80d078 94.5px,#4bcab0 95.5px,#3aa5e4 96.5px,#4163c3 97.5px,#39327c 98.5px,#312150 99.5px,#2e1a3f 101.5px,#2f1c44 106.5px,#322356 107.5px,#3b3785 108.5px,#4169c9 109.5px,#39aae3 110.5px,#4dcbad 111.5px,#81d077 112.5px,#9bce5d 113.5px,#b3ca4a 119.5px,#e0b940 121.5px,#f39a39 122.5px,#d34521 124.5px,#b82a22 126.5px,#a62021 133px)"></i><i style="background:linear-gradient(90deg,#2e1a3e 0,#2f1b42 43.5px,#311f4c 44.5px,#362b69 45.5px,#3e4aa2 46.5px,#417edb 47.5px,#37b6dd 48.5px,#50cca8 49.5px,#7bd07d 50.5px,#91d067 51.5px,#9ace5e 67.5px,#accb4e 81.5px,#9fcd59 93.5px,#8cd06c 94.5px,#5acd9e 95.5px,#37b6de 96.5px,#4273d3 97.5px,#3b3c8d 98.5px,#332458 99.5px,#2e1a3f 101.5px,#301e49 106.5px,#352964 107.5px,#3e49a1 108.5px,#4183dd 109.5px,#39bdd3 110.5px,#64ce94 111.5px,#90d068 112.5px,#a6cc52 114.5px,#b1ca4a 119.5px,#dcbd40 121.5px,#f1a03b 122.5px,#ed742b 123.5px,#d74a22 124.5px,#ba2b22 126.5px,#aa2221 133px)"></i><i style="background:linear-gradient(90deg,#2e1a3e 0,#2f1c44 43.5px,#322252 44.5px,#393178 45.5px,#4058b8 46.5px,#3f8fe3 47.5px,#3abfd0 48.5px,#5bcd9d 49.5px,#7ed07a 50.5px,#93d065 52.5px,#8cd06c 62.5px,#aacc4f 73.5px,#a2cd56 93.5px,#93cf65 94.5px,#6acf8e 95.5px,#3abfcf 96.5px,#4084de 97.5px,#3d489f 98.5px,#342862 99.5px,#301e47 100.5px,#2f1c42 105.5px,#312151 106.5px,#393179 107.5px,#405ebe 108.5px,#3c9ee6 109.5px,#45c8ba 110.5px,#78d080 111.5px,#98cf60 112.5px,#a8cc50 116.5px,#bbc844 120.5px,#d8c040 121.5px,#efa63d 122.5px,#f07c2d 123.5px,#da4f23 124.5px,#bb2c21 126.5px,#ad2322 133px)"></i><i style="background:linear-gradient(90deg,#2e1a3e 0,#2e1b40 42.5px,#33255b 44.5px,#3b3a89 45.5px,#4167c7 46.5px,#3c9fe6 47.5px,#3ec5c4 48.5px,#63ce95 49.5px,#7fd079 50.5px,#89d06f 53.5px,#84d074 60.5px,#b2ca4a 69.5px,#a0cd58 85.5px,#a3cd55 93.5px,#98cf60 94.5px,#77d081 95.5px,#42c6be 96.5px,#3e97e7 97.5px,#4057b6 98.5px,#372e70 99.5px,#31204d 100.5px,#2e1b41 104.5px,#34275e 106.5px,#3c4093 107.5px,#4276d6 108.5px,#37b6dd 109.5px,#58cda0 110.5px,#89d06f 111.5px,#a6cc52 113.5px,#afcb4c 119.5px,#d2c241 121.5px,#edac3f 122.5px,#f18330 123.5px,#de5524 124.5px,#ca3820 125.5px,#b32522 129.5px,#b02422 133px)"></i><i style="background:linear-gradient(90deg,#2e1a3e 0,#2f1c42 42.5px,#31204c 43.5px,#362b68 44.5px,#3d479e 45.5px,#4277d7 46.5px,#38aee2 47.5px,#46c8b8 48.5px,#67cf91 49.5px,#82d076 51.5px,#7bd07d 58.5px,#bcc844 67.5px,#c7c542 72.5px,#97cf61 83.5px,#a4cd54 93.5px,#9cce5c 94.5px,#83d075 95.5px,#4dcbac 96.5px,#39a9e3 97.5px,#4168c8 98.5px,#3b3886 99.5px,#332559 100.5px,#2f1c44 102.5px,#322354 105.5px,#383077 106.5px,#4058b7 107.5px,#3f93e5 108.5px,#3dc4c7 109.5px,#6fd089 110.5px,#95cf63 111.5px,#a8cc50 114.5px,#aecb4d 119.5px,#cdc342 121.5px,#eab140 122.5px,#f28a33 123.5px,#cd3c20 125.5px,#b42622 128.5px,#b22522 133px)"></i><i style="background:linear-gradient(90deg,#2e1a3e 0,#2f1d46 42.5px,#322356 43.5px,#39327c 44.5px,#4058b8 45.5px,#408ae1 46.5px,#38b9d9 47.5px,#68cf90 49.5px,#78d080 51.5px,#74d084 57.5px,#b9c946 64.5px,#debb40 69.5px,#cfc241 75.5px,#93cf65 83.5px,#9ece5a 94.5px,#8dd06b 95.5px,#5fce99 96.5px,#39bbd6 97.5px,#4183dd 98.5px,#3f50ab 99.5px,#393179 100.5px,#34275f 101.5px,#322354 103.5px,#382f74 105.5px,#3d49a0 106.5px,#4276d6 107.5px,#37b1e1 108.5px,#4fcca9 109.5px,#82d076 110.5px,#9cce5c 111.5px,#b5c948 120.5px,#e6b540 122.5px,#f39236 123.5px,#d04021 125.5px,#b52722 128.5px,#b32522 133px)"></i><i style="background:linear-gradient(90deg,#2e1a3e 0,#2f1c42 41.5px,#352a66 43.5px,#3c4295 44.5px,#416ccc 45.5px,#3c9ee6 46.5px,#3bc1cd 47.5px,#66cf92 49.5px,#75d083 57.5px,#b6c948 62.5px,#e8b340 67.5px,#edae3f 73.5px,#d2c241 77.5px,#92d066 83.5px,#a0cd58 94.5px,#95cf63 95.5px,#74d084 96.5px,#45c8ba 97.5px,#39a8e3 98.5px,#4278d8 99.5px,#3c4195 101.5px,#3a3785 103.5px,#3c4093 104.5px,#4274d4 106.5px,#3ba1e5 107.5px,#3fc5c3 108.5px,#6cd08c 109.5px,#92d066 110.5px,#a8cc50 113.5px,#b3ca49 120.5px,#e1b940 122.5px,#f39a39 123.5px,#d44622 125.5px,#ba2b22 127.5px,#b32622 133px)"></i><i style="background:linear-gradient(90deg,#2e1a3e 0,#2e1b41 40.5px,#332559 42.5px,#3a347f 43.5px,#4057b7 44.5px,#4184de 45.5px,#37b1e1 46.5px,#54cda4 48.5px,#65cf93 50.5px,#68cf90 55.5px,#b9c946 61.5px,#ebb040 65.5px,#f49938 71.5px,#e4b640 77.5px,#adcb4d 81.5px,#8ad06e 85.5px,#a1cd57 94.5px,#89d06f 96.5px,#3fc5c3 98.5px,#38afe2 99.5px,#4279d8 101.5px,#416bcb 103.5px,#3f8ee3 105.5px,#38ace2 106.5px,#3dc5c6 107.5px,#87d071 109.5px,#a5cd53 111.5px,#b2ca4a 120.5px,#dbbe40 122.5px,#f0a33c 123.5px,#ef782c 124.5px,#da4e23 125.5px,#bc2d21 127.5px,#b42622 133px)"></i><i style="background:linear-gradient(90deg,#2e1a3e 0,#2f1c44 40.5px,#312151 41.5px,#372d6e 42.5px,#416fcf 44.5px,#3d9de7 45.5px,#39bdd3 46.5px,#55cda3 48.5px,#69cf8f 55.5px,#b9c946 60.5px,#e8b340 63.5px,#f28932 70.5px,#f29e3a 76.5px,#ddbc40 79.5px,#aacc4f 82.5px,#85d073 86.5px,#9fcd59 95.5px,#85d073 97.5px,#3cc3c9 100.5px,#37b0e1 102.5px,#37b7db 104.5px,#4ccaaf 106.5px,#99cf5f 109.5px,#a9cc50 114.5px,#b0ca4b 120.5px,#d4c141 122.5px,#edad3f 123.5px,#f28631 124.5px,#cd3c20 126.5px,#b52722 129.5px,#b42622 133px)"></i><i style="background:linear-gradient(90deg,#2e1a3e 0,#2f1c42 39.5px,#342860 41.5px,#3b3a8a 42.5px,#405fbf 43.5px,#4089e1 44.5px,#37b2e1 45.5px,#4bcab0 47.5px,#62ce96 54.5px,#b6c948 59.5px,#e9b240 62.5px,#f1822f 68.5px,#f18330 74.5px,#eab140 79.5px,#a5cd53 83.5px,#81d077 86.5px,#9fce59 96.5px,#7fd079 99.5px,#54cda4 102.5px,#5dce9b 104.5px,#9bce5d 108.5px,#a9cc4f 115.5px,#b7c947 121.5px,#e5b640 123.5px,#f49738 124.5px,#d64822 126.5px,#bc2c21 128.5px,#b42622 133px)"></i><i style="background:linear-gradient(90deg,#2e1a3e 0,#301d46 39.5px,#322456 40.5px,#393178 41.5px,#4277d7 43.5px,#3ba1e5 44.5px,#39bcd3 45.5px,#4ccaaf 47.5px,#5bcd9d 53.5px,#9dce5b 57.5px,#d9bf40 60.5px,#f39c39 63.5px,#ee752b 69.5px,#f07d2d 75.5px,#f0a53c 79.5px,#d9bf40 81.5px,#9bce5d 84.5px,#7bd07d 87.5px,#a2cd56 96.5px,#86d072 103.5px,#a8cc50 110.5px,#b4ca49 121.5px,#dabe40 123.5px,#efa73d 124.5px,#f1822f 125.5px,#ce3e20 127.5px,#b62822 130.5px,#b42622 133px)"></i><i style="background:linear-gradient(90deg,#2e1a3e 0,#2f1c44 38.5px,#362b69 40.5px,#4167c7 42.5px,#3f91e5 43.5px,#36b4df 44.5px,#46c8b8 46.5px,#5dce9b 53.5px,#b9c946 58.5px,#edac3f 61.5px,#ee752b 67.5px,#eb702a 74.5px,#f39b39 79.5px,#cec341 82.5px,#7fd079 86.5px,#7ad07e 89.5px,#a3cd55 97.5px,#93d065 104.5px,#aacc4f 111.5px,#b2ca4a 121.5px,#cdc342 123.5px,#f49938 125.5px,#d94e23 127.5px,#be2e21 129.5px,#b42622 133px)"></i><i style="background:linear-gradient(90deg,#2e1a3e 0,#2f1b42 37.5px,#34275e 39.5px,#3a3784 40.5px,#4059b9 41.5px,#4180dc 42.5px,#3aa7e4 43.5px,#40c6c1 45.5px,#55cda3 52.5px,#9bce5d 56.5px,#dabe40 59.5px,#f49838 62.5px,#e76728 69.5px,#ed742b 76.5px,#eab240 81.5px,#aacc4f 84.5px,#74d084 87.5px,#79d07f 90.5px,#a0cd58 96.5px,#95cf63 99.5px,#65cf93 103.5px,#88d070 106.5px,#a8cc50 109.5px,#b7c947 122.5px,#d8c040 124.5px,#f28c33 126.5px,#d34521 128.5px,#b72922 131.5px,#b52722 133px)"></i><i style="background:linear-gradient(90deg,#2e1a3e 0,#301d46 37.5px,#322355 38.5px,#3e4ca5 40.5px,#4271d1 41.5px,#3e99e8 42.5px,#37b6dc 43.5px,#45c8b9 46.5px,#4ecbaa 51.5px,#76d082 54.5px,#b4ca49 57.5px,#edae3f 60.5px,#eb702a 66.5px,#e56326 73.5px,#f1812f 78.5px,#edac3f 81.5px,#afcb4c 84.5px,#72d086 87.5px,#71d087 90.5px,#9cce5c 96.5px,#8bd06d 98.5px,#48c9b4 100.5px,#36b5df 102.5px,#36b4df 104.5px,#49c9b4 106.5px,#91d067 108.5px,#aacc4f 110.5px,#bcc844 123.5px,#e0ba40 125.5px,#f0a33c 126.5px,#f17f2e 127.5px,#cf3e21 129.5px,#b72822 133px)"></i><i style="background:linear-gradient(90deg,#2e1a3e 0,#2f1c44 36.5px,#362b69 38.5px,#4164c4 40.5px,#408be2 41.5px,#38ade2 42.5px,#3ec5c4 44.5px,#4fcca9 51.5px,#7ad07e 54.5px,#b8c947 57.5px,#eeaa3e 60.5px,#ea6e29 66.5px,#e46026 73.5px,#f28932 79.5px,#e2b840 82.5px,#b2ca4a 84.5px,#70d088 87.5px,#6acf8e 90.5px,#97cf61 96.5px,#8bd06d 97.5px,#3abed2 99.5px,#3f94e6 100.5px,#4270d0 101.5px,#405aba 103.5px,#4170d0 105.5px,#3f93e5 106.5px,#3abed1 107.5px,#66cf92 108.5px,#96cf62 109.5px,#adcb4d 111.5px,#c2c643 124.5px,#e7b440 126.5px,#f49938 127.5px,#dc5223 129.5px,#c23121 131.5px,#bb2c21 133px)"></i><i style="background:linear-gradient(90deg,#2e1a3e 0,#2f1c42 35.5px,#342860 37.5px,#3b3887 38.5px,#405aba 39.5px,#417fdb 40.5px,#3ba3e5 41.5px,#3cc3ca 43.5px,#4acab2 50.5px,#6acf8e 53.5px,#b9c946 57.5px,#eea93e 60.5px,#ea6d29 66.5px,#e35f26 73.5px,#f28731 79.5px,#e4b640 82.5px,#b4ca49 84.5px,#6ed08a 87.5px,#64ce94 90.5px,#92d066 95.5px,#91d067 96.5px,#76d082 97.5px,#40c6c2 98.5px,#3f8ee3 99.5px,#3f53af 100.5px,#39337d 101.5px,#362a67 102.5px,#352a67 104.5px,#39327b 105.5px,#3f51ad 106.5px,#3f8ee3 107.5px,#43c7be 108.5px,#85d073 109.5px,#a6cc52 110.5px,#c8c542 125.5px,#ecaf40 127.5px,#ea6e29 129.5px,#ce3d20 131.5px,#c43421 133px)"></i><i style="background:linear-gradient(90deg,#2e1a3e 0,#2f1b41 34.5px,#332559 36.5px,#39327c 37.5px,#4275d5 39.5px,#3d9ae7 40.5px,#37b6de 41.5px,#40c5c2 44.5px,#45c8b9 49.5px,#6bcf8d 53.5px,#b9c946 57.5px,#eea93e 60.5px,#ea6d29 66.5px,#e46026 73.5px,#f28832 79.5px,#e3b740 82.5px,#b3ca49 84.5px,#6ccf8c 87.5px,#5ece9a 90.5px,#8fd069 95.5px,#8dd06b 96.5px,#6ed08a 97.5px,#3bc0ce 98.5px,#417ddb 99.5px,#3c4093 100.5px,#342861 101.5px,#31204d 103.5px,#342760 105.5px,#3c3f91 106.5px,#417dda 107.5px,#3cc3c9 108.5px,#81d077 109.5px,#a7cc51 110.5px,#c3c643 121.5px,#cdc342 126.5px,#eeaa3e 128.5px,#eb702a 130.5px,#d44622 133px)"></i><i style="background:linear-gradient(90deg,#2e1a3e 0,#2f1d46 34.5px,#372e71 36.5px,#416bcb 38.5px,#3f92e5 39.5px,#37b1e1 40.5px,#3fc5c3 43.5px,#45c7ba 49.5px,#6bcf8d 53.5px,#b7c947 57.5px,#edac3f 60.5px,#eb702a 66.5px,#e56226 73.5px,#f28b33 79.5px,#e1b940 82.5px,#b1ca4b 84.5px,#68cf90 87.5px,#58cda0 90.5px,#8dd06b 96.5px,#78d080 97.5px,#47c8b7 98.5px,#3c9fe6 99.5px,#4165c5 100.5px,#3c4296 101.5px,#3a337d 102.5px,#39337d 104.5px,#3c4195 105.5px,#4164c4 106.5px,#3ca1e6 107.5px,#4dcbac 108.5px,#91d067 109.5px,#accb4e 110.5px,#cec341 123.5px,#d1c241 127.5px,#f49537 130.5px,#e86828 133px)"></i><i style="background:linear-gradient(90deg,#2e1a3e 0,#2f1c44 33.5px,#362a68 35.5px,#4163c3 37.5px,#4089e1 38.5px,#38ace2 39.5px,#3dc4c7 41.5px,#40c6c2 48.5px,#5ccd9c 52.5px,#b3ca49 57.5px,#ebb040 60.5px,#ed742b 66.5px,#e76728 73.5px,#f39135 79.5px,#ecaf40 81.5px,#accb4e 84.5px,#64cf94 87.5px,#54cca4 90.5px,#8fd069 96.5px,#89d06f 97.5px,#6cd08c 98.5px,#43c7bd 99.5px,#38aee2 100.5px,#427ad9 102.5px,#427bd9 104.5px,#37b1e1 106.5px,#49c9b4 107.5px,#7fd079 108.5px,#a4cd54 109.5px,#bfc744 113.5px,#d6c040 124.5px,#d3c141 128.5px,#f1a13b 131.5px,#f39236 133px)"></i><i style="background:linear-gradient(90deg,#2e1a3e 0,#2f1c42 32.5px,#342760 34.5px,#3b3887 35.5px,#405aba 36.5px,#4181dd 37.5px,#3aa6e4 38.5px,#3dc5c6 40.5px,#3fc5c3 48.5px,#5acd9e 52.5px,#c0c743 58.5px,#efa83d 61.5px,#ee752b 67.5px,#ec722a 74.5px,#f39a39 79.5px,#d4c141 82.5px,#a6cc52 84.5px,#5fce99 87.5px,#50cca8 90.5px,#94cf64 97.5px,#7bd07d 99.5px,#4bcab1 101.5px,#3dc4c7 103.5px,#4dcbac 105.5px,#a4cd54 108.5px,#cac442 114.5px,#ddbc40 125.5px,#d7c040 129.5px,#ebb040 133px)"></i><i style="background:linear-gradient(90deg,#2e1a3e 0,#2e1b41 31.5px,#332458 33.5px,#39327b 34.5px,#4278d8 36.5px,#3ca1e6 37.5px,#3ec5c4 39.5px,#44c7bb 41.5px,#3cc3c9 47.5px,#58cda0 52.5px,#b8c947 58.5px,#ebb140 61.5px,#f07e2d 67.5px,#f07d2d 74.5px,#f0a43c 79.5px,#dcbc40 81.5px,#b2ca4a 83.5px,#5acd9e 87.5px,#4ecbac 90.5px,#97cf61 97.5px,#8fd069 101.5px,#8cd06c 104.5px,#b9c946 109.5px,#e5b540 121.5px,#e0ba40 133px)"></i><i style="background:linear-gradient(90deg,#2e1a3e 0,#2f1c44 31.5px,#312150 32.5px,#372d6e 33.5px,#416fcf 35.5px,#3d9ae7 36.5px,#38b9d9 37.5px,#48c9b5 39.5px,#3bc1cc 46.5px,#54cda4 52.5px,#bfc744 59.5px,#ecaf40 62.5px,#f28731 68.5px,#f39135 75.5px,#ebb140 79.5px,#a8cc51 83.5px,#54cda4 87.5px,#4ccaae 90.5px,#9ece5a 98.5px,#c9c442 111.5px,#edae3f 122.5px,#e4b740 133px)"></i><i style="background:linear-gradient(90deg,#2e1a3e 0,#2f1b41 30.5px,#34275f 32.5px,#3b3b8b 33.5px,#4162c2 34.5px,#3f8fe3 35.5px,#37b6dd 36.5px,#4bcab0 38.5px,#46c8b9 41.5px,#3bc0cd 46.5px,#51cca8 52.5px,#b3ca49 59.5px,#ebb140 63.5px,#f49637 69.5px,#edae3f 77.5px,#cfc341 80.5px,#9bce5d 83.5px,#50cca8 87.5px,#4bcab0 90.5px,#82d076 95.5px,#a9cc4f 100.5px,#cfc341 111.5px,#eea93e 121.5px,#edac3f 133px)"></i><i style="background:linear-gradient(90deg,#2e1a3e 0,#2f1c43 30.5px,#312151 31.5px,#382f72 32.5px,#417dda 34.5px,#38ace2 35.5px,#3dc4c6 36.5px,#4ecbac 37.5px,#53cca5 39.5px,#3bc1cc 44.5px,#43c7be 50.5px,#6dd08b 55.5px,#b5c948 60.5px,#e5b640 64.5px,#edac3f 72.5px,#d5c140 78.5px,#a0cd58 82.5px,#4ecbab 87.5px,#4bcab1 90.5px,#83d075 95.5px,#abcb4e 100.5px,#d5c140 111.5px,#f0a53c 120.5px,#f29f3a 133px)"></i><i style="background:linear-gradient(90deg,#2e1a3e 0,#301d47 30.5px,#33255b 31.5px,#3b3988 32.5px,#4164c4 33.5px,#3e98e8 34.5px,#3abed1 35.5px,#4ccaae 36.5px,#5dce9b 37.5px,#4ecbac 40.5px,#3ac0ce 45.5px,#45c8ba 51.5px,#7ed07a 57.5px,#b3ca49 61.5px,#debb40 66.5px,#d5c140 75.5px,#a2cd56 81.5px,#4ecbac 87.5px,#4bcab0 90.5px,#84d074 95.5px,#abcb4e 100.5px,#e8b340 114.5px,#f49838 127.5px,#f49838 133px)"></i><i style="background:linear-gradient(90deg,#2e1a3e 0,#2f1b41 29.5px,#301f4b 30.5px,#352a66 31.5px,#3d469c 32.5px,#4277d7 33.5px,#38ade2 34.5px,#43c7bd 35.5px,#5ccd9c 36.5px,#65cf93 38.5px,#3dc4c7 43.5px,#3cc3ca 49.5px,#66cf92 56.5px,#afcb4c 62.5px,#cdc342 68.5px,#b0ca4b 78.5px,#7fd079 83.5px,#4fccaa 87.5px,#4ccbae 90.5px,#a0cd58 98.5px,#e2b840 112.5px,#f49637 124.5px,#f39336 133px)"></i><i style="background:linear-gradient(90deg,#2e1a3e 0,#2f1c43 29.5px,#312150 30.5px,#382f73 31.5px,#3f54b1 32.5px,#4089e0 33.5px,#38bad7 34.5px,#4ecbab 35.5px,#69cf8f 36.5px,#6bcf8d 38.5px,#3ec5c5 43.5px,#3bc2cb 49.5px,#5dce9b 56.5px,#a9cc4f 63.5px,#b7c947 71.5px,#9bce5d 80.5px,#4ecbab 88.5px,#55cda3 91.5px,#8ed06a 96.5px,#99cf5f 102.5px,#cac442 107.5px,#f0a43c 116.5px,#f39035 133px)"></i><i style="background:linear-gradient(90deg,#2e1a3e 0,#2f1d45 29.5px,#322456 30.5px,#3a3582 31.5px,#4161c1 32.5px,#3e9ae8 33.5px,#3cc3c9 34.5px,#5cce9c 35.5px,#73d085 36.5px,#70d088 38.5px,#40c6c1 43.5px,#3bc1cd 49.5px,#5dce9b 57.5px,#a2cd56 64.5px,#aacc4f 74.5px,#8cd06c 82.5px,#53cca5 88.5px,#5acd9e 91.5px,#81d077 95.5px,#48c9b5 99.5px,#45c7ba 101.5px,#61ce97 103.5px,#a2cd56 105.5px,#cac442 107.5px,#f0a53c 115.5px,#f38f35 128.5px,#f38f34 133px)"></i><i style="background:linear-gradient(90deg,#2e1a3e 0,#2e1b40 28.5px,#34275e 30.5px,#3c3f91 31.5px,#416fcf 32.5px,#39a9e3 33.5px,#45c8b9 34.5px,#69cf8f 35.5px,#7cd07c 36.5px,#69cf8f 39.5px,#3ec5c5 44.5px,#3cc3ca 51.5px,#5dce9b 58.5px,#9ece5a 65.5px,#a2cd56 77.5px,#80d078 84.5px,#57cda1 89.5px,#7dd07b 94.5px,#73d085 95.5px,#39bbd5 97.5px,#3c9de6 98.5px,#417dda 100.5px,#4089e0 102.5px,#3ba1e5 103.5px,#3bc1cd 104.5px,#6dd08b 105.5px,#a8cc50 106.5px,#d5c140 108.5px,#f39b39 117.5px,#f38e34 133px)"></i><i style="background:linear-gradient(90deg,#2e1a3e 0,#2f1b41 28.5px,#301f4b 29.5px,#362b68 30.5px,#3e4aa2 31.5px,#417edb 32.5px,#37b6dd 33.5px,#4fccaa 34.5px,#74d084 35.5px,#84d074 36.5px,#62ce96 40.5px,#3dc4c7 45.5px,#3cc3c9 52.5px,#5ece9a 59.5px,#99ce5f 65.5px,#a2cd56 77.5px,#87d071 84.5px,#5ece9a 89.5px,#7ed07a 94.5px,#68cf90 95.5px,#3cc4c8 96.5px,#3e94e6 97.5px,#4163c3 98.5px,#3d489f 99.5px,#3c3d8e 101.5px,#3d479d 102.5px,#4160c0 103.5px,#3f93e6 104.5px,#46c8b8 105.5px,#98cf60 106.5px,#c2c643 107.5px,#debb40 109.5px,#f49437 119.5px,#f38d34 133px)"></i><i style="background:linear-gradient(90deg,#2e1a3e 0,#2f1c43 28.5px,#312150 29.5px,#382f74 30.5px,#4056b5 31.5px,#3f8ee3 32.5px,#3abfd0 33.5px,#5dce9b 34.5px,#7fd079 35.5px,#89d06f 37.5px,#45c8ba 44.5px,#3bc0ce 50.5px,#48c9b4 57.5px,#9bce5d 66.5px,#9ece5a 80.5px,#81d077 85.5px,#64cf94 89.5px,#85d073 94.5px,#70d088 95.5px,#43c7bc 96.5px,#3ba2e5 97.5px,#4273d3 98.5px,#3e4da7 100.5px,#3e4da7 101.5px,#4272d2 103.5px,#3ba3e5 104.5px,#4fcbaa 105.5px,#9fce59 106.5px,#c6c543 107.5px,#dfba40 109.5px,#f39135 120.5px,#f28d33 133px)"></i><i style="background:linear-gradient(90deg,#2e1a3e 0,#2f1d45 28.5px,#322356 29.5px,#3a3582 30.5px,#4162c2 31.5px,#3d9de7 32.5px,#40c6c2 33.5px,#6acf8e 34.5px,#88d070 35.5px,#8fd069 37.5px,#44c7bb 45.5px,#3bc1cc 52.5px,#49c9b4 58.5px,#98cf60 66.5px,#a0cd58 79.5px,#82d076 85.5px,#6acf8e 89.5px,#90d068 94.5px,#88d070 95.5px,#47c8b6 97.5px,#38bad6 98.5px,#3ba1e5 100.5px,#38ade2 102.5px,#3abed1 103.5px,#51cca7 104.5px,#8cd06c 105.5px,#b5c948 106.5px,#dcbd40 108.5px,#f49637 118.5px,#f28c33 133px)"></i><i style="background:linear-gradient(90deg,#2e1a3e 0,#301e47 28.5px,#34265d 29.5px,#3c3e8f 30.5px,#416fcf 31.5px,#39abe3 32.5px,#49c9b2 33.5px,#76d082 34.5px,#90d068 35.5px,#8dd06b 38.5px,#44c7bb 46.5px,#3bc2cc 53.5px,#4acab2 59.5px,#93d065 66.5px,#9ece5a 78.5px,#81d077 85.5px,#70d088 89.5px,#9ace5e 95.5px,#69cf8f 100.5px,#78d080 102.5px,#b6c947 105.5px,#debb40 108.5px,#f39336 119.5px,#f28c33 133px)"></i><i style="background:linear-gradient(90deg,#2e1a3e 0,#2e1b41 27.5px,#301f4a 28.5px,#352965 29.5px,#3d479d 30.5px,#427cda 31.5px,#37b6dc 32.5px,#53cca5 33.5px,#80d078 34.5px,#95cf63 35.5px,#8bd06d 39.5px,#45c8b9 47.5px,#3bc3ca 55.5px,#4bcab0 60.5px,#8fd069 67.5px,#97cf61 79.5px,#73d085 88.5px,#a8cc50 97.5px,#b8c946 103.5px,#dfbb40 108.5px,#f39035 120.5px,#f28c33 133px)"></i><i style="background:linear-gradient(90deg,#2e1a3e 0,#2f1b42 27.5px,#31204d 28.5px,#372d6e 29.5px,#3f50ac 30.5px,#4088e0 31.5px,#39bdd2 32.5px,#5fce99 33.5px,#88d070 34.5px,#9cce5c 36.5px,#7fd079 41.5px,#47c8b7 48.5px,#3cc3c9 56.5px,#53cca5 62.5px,#8bd06d 69.5px,#8bd06d 80.5px,#78d080 88.5px,#b0ca4b 97.5px,#edad3f 112.5px,#f28d33 124.5px,#f28c33 133px)"></i><i style="background:linear-gradient(90deg,#2e1a3e 0,#2f1c43 27.5px,#312150 28.5px,#383076 29.5px,#4058b8 30.5px,#3f92e5 31.5px,#3bc2cb 32.5px,#66cf92 33.5px,#8bd06d 34.5px,#9dce5b 36.5px,#7dd07b 42.5px,#48c9b5 49.5px,#3cc3c9 57.5px,#51cca8 63.5px,#80d078 71.5px,#7dd07b 88.5px,#b6c948 98.5px,#efa83d 113.5px,#f28c33 125.5px,#f28c33 133px)"></i><i style="background:linear-gradient(90deg,#2e1a3e 0,#2f1c44 27.5px,#322253 28.5px,#39327c 29.5px,#405dbd 30.5px,#3e96e7 31.5px,#3cc3ca 32.5px,#63ce95 33.5px,#85d073 34.5px,#98cf60 36.5px,#7fd079 42.5px,#46c8b8 50.5px,#3bc2cc 58.5px,#62ce96 68.5px,#76d082 79.5px,#7ed07a 87.5px,#b3ca4a 97.5px,#edac3f 112.5px,#f28d33 124.5px,#f28c33 133px)"></i><i style="background:linear-gradient(90deg,#2e1a3e 0,#2f1c44 27.5px,#322354 28.5px,#39327b 29.5px,#405aba 30.5px,#3f8fe3 31.5px,#39bcd4 32.5px,#6ed08a 34.5px,#88d070 37.5px,#65cf93 44.5px,#3cc3c9 52.5px,#3abed0 61.5px,#6ed08a 79.5px,#8bd06d 88.5px,#bbc845 99.5px,#f0a33c 114.5px,#f28c33 126.5px,#f28c33 133px)"></i><i style="background:linear-gradient(90deg,#2e1a3e 0,#2f1c43 27.5px,#312151 28.5px,#372e72 29.5px,#427ad9 31.5px,#3aa6e4 32.5px,#3abfcf 33.5px,#5acd9e 36.5px,#59cd9f 41.5px,#37b8db 52.5px,#37afe1 61.5px,#49c9b3 73.5px,#9fcd59 91.5px,#ddbc40 107.5px,#f39035 120.5px,#f28c33 133px)"></i><i style="background:linear-gradient(90deg,#2e1a3e 0,#2f1b42 27.5px,#352862 29.5px,#405bbb 31.5px,#427bda 32.5px,#3e97e7 33.5px,#38b9d8 36.5px,#38bad6 42.5px,#3f8fe4 54.5px,#3f90e4 62.5px,#38b8da 72.5px,#55cda3 77.5px,#9fce59 90.5px,#e0ba40 108.5px,#f38f34 121.5px,#f28c33 133px)"></i><i style="background:linear-gradient(90deg,#2e1a3e 0,#2f1d45 28.5px,#362b6a 30.5px,#4160c0 33.5px,#4180dc 36.5px,#4085de 42.5px,#405fbf 59.5px,#4089e1 71.5px,#38ade2 74.5px,#46c8b9 77.5px,#85d073 83.5px,#b4ca49 97.5px,#edad3f 112.5px,#f28d33 124.5px,#f28c33 133px)"></i><i style="background:linear-gradient(90deg,#2e1a3e 0,#301d47 29.5px,#3d49a0 36.5px,#3e4ea8 42.5px,#3b3887 59.5px,#4056b5 70.5px,#4182dd 74.5px,#39aae3 76.5px,#4bcaaf 79.5px,#88d070 83.5px,#aecb4c 95.5px,#edad3f 112.5px,#f28d33 124.5px,#f28c33 133px)"></i><i style="background:linear-gradient(90deg,#2e1a3e 0,#2f1d44 30.5px,#362c6c 39.5px,#34275e 61.5px,#3a3582 71.5px,#4056b5 74.5px,#3e97e7 77.5px,#3abfcf 79.5px,#86d072 83.5px,#a3cd55 89.5px,#d1c241 104.5px,#f49938 117.5px,#f28c33 133px)"></i><i style="background:linear-gradient(90deg,#2e1a3e 0,#301e47 34.5px,#322252 69.5px,#362c6c 73.5px,#4057b6 76.5px,#4089e1 78.5px,#3aa8e4 79.5px,#3abfd0 80.5px,#81d077 83.5px,#9cce5c 86.5px,#ccc342 103.5px,#f49938 117.5px,#f28c33 133px)"></i><i style="background:linear-gradient(90deg,#2e1a3e 0,#301f4b 71.5px,#352a66 74.5px,#405aba 77.5px,#3e97e7 79.5px,#37b7dc 80.5px,#60ce98 82.5px,#8ed06a 84.5px,#b6c947 98.5px,#eea93e 113.5px,#f28c33 125.5px,#f28c33 133px)"></i><i style="background:linear-gradient(90deg,#2e1a3e 0,#301f4b 31.5px,#312151 70.5px,#352964 73.5px,#3e4fa9 76.5px,#4181dc 78.5px,#3ca0e6 79.5px,#38bad7 80.5px,#7ad07e 83.5px,#97cf61 86.5px,#d4c141 105.5px,#f49637 118.5px,#f28c33 133px)"></i><i style="background:linear-gradient(90deg,#2e1a3e 0,#301f4b 25.5px,#362c6c 34.5px,#33265b 50.5px,#372e71 70.5px,#3c3d8f 73.5px,#4089e0 77.5px,#37b8da 79.5px,#50cca8 81.5px,#85d073 84.5px,#b6c948 98.5px,#eea93e 113.5px,#f28c33 125.5px,#f28c33 133px)"></i><i style="background:linear-gradient(90deg,#2e1a3e 0,#312150 21.5px,#3a3784 29.5px,#3d489e 34.5px,#3a3683 47.5px,#3e4ea8 70.5px,#4273d3 74.5px,#3d9be7 76.5px,#40c5c2 79.5px,#75d083 83.5px,#adcb4d 95.5px,#edae3f 112.5px,#f38d34 124.5px,#f28c33 133px)"></i><i style="background:linear-gradient(90deg,#2e1a3f 0,#322356 17.5px,#3c4195 26.5px,#416bcb 32.5px,#405aba 49.5px,#427bd9 71.5px,#39aae3 75.5px,#49c9b3 79.5px,#97cf61 90.5px,#cac442 103.5px,#f39a39 117.5px,#f28c33 133px)"></i><i style="background:linear-gradient(90deg,#2f1c42 0,#352862 14.5px,#3f51ad 24.5px,#4087df 31.5px,#408ce2 37.5px,#417ddb 48.5px,#3ba4e5 72.5px,#3dc5c6 77.5px,#81d077 88.5px,#aecb4c 96.5px,#ecaf40 112.5px,#f38d34 124.5px,#f28c33 133px)"></i><i style="background:linear-gradient(90deg,#301f4b 0,#393178 12.5px,#417cda 27.5px,#3aa6e4 33.5px,#3ca0e6 53.5px,#38bbd6 74.5px,#58cda0 85.5px,#a1cd57 93.5px,#debb40 108.5px,#f39035 121.5px,#f28c33 133px)"></i><i style="background:linear-gradient(90deg,#34275f 0,#3f52af 15.5px,#3e96e7 29.5px,#36b3e0 36.5px,#39bcd4 74.5px,#46c8b7 84.5px,#84d074 90.5px,#adcb4d 96.5px,#ecaf40 112.5px,#f38d34 124.5px,#f28c33 133px)"></i><i style="background:linear-gradient(90deg,#3a337e 0,#4167c7 16.5px,#3e95e7 29.5px,#37b6dc 36.5px,#3bc2cb 83.5px,#61ce97 88.5px,#9cce5c 93.5px,#d2c241 105.5px,#f49738 118.5px,#f28c33 133px)"></i><i style="background:linear-gradient(90deg,#3d48a0 0,#416fcf 15.5px,#4089e1 28.5px,#37b6de 35.5px,#39bbd5 83.5px,#4bcab0 87.5px,#9ace5e 93.5px,#c8c442 103.5px,#f29e3a 116.5px,#f28d33 130.5px,#f28d33 133px)"></i><i style="background:linear-gradient(90deg,#405cbc 0,#4183de 28.5px,#39a9e3 33.5px,#39bbd6 41.5px,#36b5df 79.5px,#39bdd2 85.5px,#5fce99 89.5px,#98cf60 93.5px,#bec744 101.5px,#f29f3a 116.5px,#f38d34 130.5px,#f38d34 133px)"></i><i style="background:linear-gradient(90deg,#4169c9 0,#417fdb 28.5px,#38ade2 34.5px,#39bcd5 45.5px,#37b6de 74.5px,#3ba4e5 83.5px,#38b9d9 86.5px,#51cca7 89.5px,#95cf63 93.5px,#bac845 100.5px,#f0a33c 115.5px,#f38e34 128.5px,#f38e34 133px)"></i><i style="background:linear-gradient(90deg,#416fcf 0,#427bda 28.5px,#3ba1e5 33.5px,#38bad7 38.5px,#37b7dc 70.5px,#3f8fe3 76.5px,#427ad9 82.5px,#3e97e8 86.5px,#37b7db 88.5px,#4dcbad 90.5px,#92d066 93.5px,#b2ca4a 98.5px,#efa83d 114.5px,#f38f34 126.5px,#f38f34 133px)"></i><i style="background:linear-gradient(90deg,#4272d2 0,#417dda 29.5px,#38aee2 35.5px,#39bbd6 48.5px,#38b8da 68.5px,#3f93e6 71.5px,#4057b7 76.5px,#3d459b 81.5px,#3e4ba4 84.5px,#416dcd 87.5px,#3d9be7 89.5px,#37b7dc 90.5px,#44c7bb 91.5px,#87d071 93.5px,#a9cc50 96.5px,#edad3f 113.5px,#f39135 126.5px,#f39035 133px)"></i><i style="background:linear-gradient(90deg,#4272d2 0,#427ad9 29.5px,#3ca1e6 34.5px,#37b8da 39.5px,#37b2e1 68.5px,#3c9ee6 69.5px,#4163c3 71.5px,#3a3582 74.5px,#34275f 78.5px,#34275f 84.5px,#3a3683 87.5px,#4059b9 89.5px,#4278d8 90.5px,#3aa6e4 91.5px,#44c7bc 92.5px,#73d085 93.5px,#94cf64 94.5px,#b1ca4b 98.5px,#eeaa3e 114.5px,#f39336 127.5px,#f39236 133px)"></i><i style="background:linear-gradient(90deg,#4272d2 0,#4278d8 29.5px,#39aae3 36.5px,#37b7dc 49.5px,#36b4df 67.5px,#39a8e3 68.5px,#408ce2 69.5px,#4164c4 70.5px,#3c4093 71.5px,#372e70 72.5px,#31204e 75.5px,#301e48 85.5px,#342760 88.5px,#383177 89.5px,#3e4ba3 90.5px,#417dda 91.5px,#38bad7 92.5px,#62ce96 93.5px,#8fd069 94.5px,#accb4e 97.5px,#eeab3e 114.5px,#f49537 128.5px,#f49537 133px)"></i><i style="background:linear-gradient(90deg,#4272d2 0,#427ad9 30.5px,#39a9e3 37.5px,#36b3e0 66.5px,#3aa5e4 68.5px,#408be2 69.5px,#3d469c 71.5px,#352a66 73.5px,#301f4a 79.5px,#322355 86.5px,#362c6b 88.5px,#3b3785 89.5px,#3f55b3 90.5px,#4085df 91.5px,#39bdd3 92.5px,#64ce94 93.5px,#8ed06a 94.5px,#accb4e 97.5px,#eea93e 115.5px,#f49838 131.5px,#f49838 133px)"></i><i style="background:linear-gradient(90deg,#4272d2 0,#427bda 31.5px,#3aa6e4 38.5px,#3aa6e4 68.5px,#4180dc 70.5px,#3e49a1 73.5px,#372e71 78.5px,#372d6e 83.5px,#3d459a 87.5px,#4169c9 89.5px,#4089e1 90.5px,#36b2e0 91.5px,#48c9b5 92.5px,#72d086 93.5px,#90d068 94.5px,#afcb4c 98.5px,#eeab3e 115.5px,#f39b39 133px)"></i><i style="background:linear-gradient(90deg,#4272d2 0,#4279d8 31.5px,#3ba3e5 39.5px,#3ca0e6 69.5px,#405aba 77.5px,#3f51ac 82.5px,#416bcb 86.5px,#3ba4e5 89.5px,#38bad7 90.5px,#61ce97 92.5px,#91d067 94.5px,#b3ca49 99.5px,#eeab3e 116.5px,#f29f3a 133px)"></i><i style="background:linear-gradient(90deg,#4272d2 0,#427ad9 32.5px,#3ba1e5 42.5px,#3d9be7 71.5px,#427ad9 81.5px,#408ae1 85.5px,#36b3e0 88.5px,#55cda3 91.5px,#91d067 94.5px,#b3ca4a 99.5px,#edae3f 116.5px,#f0a33c 133px)"></i><i style="background:linear-gradient(90deg,#4272d2 0,#427cda 33.5px,#3c9ee6 43.5px,#3d9ae7 84.5px,#39bcd5 88.5px,#5acd9e 91.5px,#99ce5f 95.5px,#bfc744 102.5px,#ecaf40 117.5px,#efa83d 133px)"></i><i style="background:linear-gradient(90deg,#4272d2 0,#4279d9 33.5px,#3d9be7 44.5px,#3ca0e6 84.5px,#39bdd3 88.5px,#57cda1 91.5px,#98cf60 95.5px,#bec744 102.5px,#eab240 117.5px,#edac3f 133px)"></i><i style="background:linear-gradient(90deg,#4272d2 0,#427ad9 34.5px,#3e9ae8 45.5px,#3ca0e6 84.5px,#39bcd5 88.5px,#54cda4 91.5px,#96cf62 95.5px,#bac845 101.5px,#e4b640 115.5px,#ebb040 133px)"></i><i style="background:linear-gradient(90deg,#4272d2 0,#4278d8 34.5px,#3e98e8 45.5px,#3c9fe6 84.5px,#38bad7 88.5px,#51cca7 91.5px,#94cf64 95.5px,#b9c946 101.5px,#e1b940 114.5px,#e8b340 133px)"></i><i style="background:linear-gradient(90deg,#4272d2 0,#427ad9 35.5px,#3e98e8 46.5px,#3c9fe6 84.5px,#38b9d8 88.5px,#4fcbaa 91.5px,#9dce5b 96.5px,#cbc442 105.5px,#e4b640 123.5px,#e5b640 133px)"></i><i style="background:linear-gradient(90deg,#4272d2 0,#427bda 36.5px,#3e98e8 46.5px,#3c9ee6 84.5px,#38b8da 88.5px,#4dcbad 91.5px,#9cce5c 96.5px,#c6c543 104.5px,#e0b940 119.5px,#e2b840 133px)"></i><i style="background:linear-gradient(90deg,#4272d2 0,#4279d9 36.5px,#3e98e8 47.5px,#3ba1e5 85.5px,#3abed0 89.5px,#5ccd9c 92.5px,#9ace5e 96.5px,#c1c743 103.5px,#ddbc40 116.5px,#dfba40 133px)"></i><i style="background:linear-gradient(90deg,#4272d2 0,#427bda 37.5px,#3e98e8 47.5px,#3ba1e5 85.5px,#3abdd2 89.5px,#59cd9f 92.5px,#9ace5e 96.5px,#c1c743 103.5px,#dbbe40 115.5px,#ddbc40 133px)"></i><i style="background:linear-gradient(90deg,#4272d2 0,#427ad9 37.5px,#3e98e8 47.5px,#3ca0e6 85.5px,#39bdd3 89.5px,#57cda1 92.5px,#99cf5f 96.5px,#bcc844 102.5px,#dabf40 114.5px,#dcbd40 133px)"></i></div>
<div class="h" style="left:16px;top:211px;width:136px"><i style="background:linear-gradient(90deg,#2e1a3e 0,#2f1c42 59.5px,#31204d 60.5px,#362b6a 61.5px,#3e4aa3 62.5px,#4180dc 63.5px,#39bcd5 64.5px,#6bcf8d 65.5px,#a5cd53 66.5px,#d4c141 68.5px,#d0c241 71.5px,#abcb4e 73.5px,#50cca8 75.5px,#3bc1cd 76.5px,#37b1e1 79.5px,#3c9ee6 81.5px,#416aca 83.5px,#39327b 85.5px,#332457 86.5px,#2e1b40 88.5px,#2f1c42 101.5px,#31214f 102.5px,#383076 103.5px,#405bbb 104.5px,#3d9be7 105.5px,#46c8b8 106.5px,#84d074 107.5px,#a8cc50 108.5px,#bcc844 111.5px,#b2ca4a 114.5px,#a0cd58 115.5px,#72d086 116.5px,#3bc2cc 117.5px,#4089e1 118.5px,#3e4ea9 119.5px,#362b6a 120.5px,#301f4b 121.5px,#2e1a3e 126.5px,#2e1a3e 136px)"></i><i style="background:linear-gradient(90deg,#2e1a3e 0,#2f1c43 59.5px,#312150 60.5px,#372e71 61.5px,#3f52af 62.5px,#408ce2 63.5px,#3dc4c7 64.5px,#81d077 65.5px,#b5c948 66.5px,#d8c040 67.5px,#e9b340 69.5px,#cbc442 72.5px,#b0ca4b 73.5px,#89d06f 74.5px,#52cca6 75.5px,#3bc1cc 76.5px,#37b1e1 79.5px,#3c9ee6 81.5px,#416aca 83.5px,#39327b 85.5px,#332457 86.5px,#2e1b40 88.5px,#2f1c43 101.5px,#312151 102.5px,#393179 103.5px,#405ebe 104.5px,#3c9fe6 105.5px,#49c9b4 106.5px,#87d071 107.5px,#a9cc4f 108.5px,#bcc844 111.5px,#b3ca49 114.5px,#a3cd55 115.5px,#79d07f 116.5px,#3ec5c5 117.5px,#3f91e4 118.5px,#3f54b2 119.5px,#372d6f 120.5px,#31204d 121.5px,#2e1a3e 125.5px,#2e1a3e 136px)"></i><i style="background:linear-gradient(90deg,#2e1a3e 0,#2f1d45 59.5px,#322354 60.5px,#39327b 61.5px,#405dbd 62.5px,#3d9de7 63.5px,#4ccaaf 64.5px,#9cce5c 65.5px,#cec341 66.5px,#ecb040 67.5px,#f29e3a 69.5px,#eab240 71.5px,#d9c040 72.5px,#b7c947 73.5px,#8fd069 74.5px,#55cda3 75.5px,#3bc2cb 76.5px,#37b2e1 79.5px,#3c9ee6 81.5px,#416bcb 83.5px,#39327c 85.5px,#332458 86.5px,#2e1b40 88.5px,#2f1c43 101.5px,#322253 102.5px,#3a337e 103.5px,#4162c2 104.5px,#3ba4e5 105.5px,#4ccaae 106.5px,#8bd06d 107.5px,#aacc4f 108.5px,#bcc844 112.5px,#a6cc52 115.5px,#81d077 116.5px,#45c7ba 117.5px,#3d9ae7 118.5px,#405cbc 119.5px,#383177 120.5px,#312150 121.5px,#2e1a3e 124.5px,#2e1a3e 136px)"></i><i style="background:linear-gradient(90deg,#2e1a3e 0,#2e1b40 58.5px,#33255a 60.5px,#3b3a89 61.5px,#416bcb 62.5px,#37b1e1 63.5px,#68cf90 64.5px,#b3ca49 65.5px,#e7b440 66.5px,#f28631 68.5px,#f39035 70.5px,#e4b640 72.5px,#c0c743 73.5px,#96cf62 74.5px,#5acd9e 75.5px,#3cc3ca 76.5px,#36b4df 78.5px,#3c9ee6 81.5px,#416bcb 83.5px,#39337d 85.5px,#332458 86.5px,#2e1b40 88.5px,#2f1c44 101.5px,#322356 102.5px,#3a3684 103.5px,#4168c8 104.5px,#39a9e3 105.5px,#50cca8 106.5px,#8fd069 107.5px,#accb4e 108.5px,#bcc844 112.5px,#aacc4f 115.5px,#8ad06e 116.5px,#4ccaae 117.5px,#3aa5e4 118.5px,#4165c5 119.5px,#3a3581 120.5px,#322355 121.5px,#2e1a3f 123.5px,#2e1a3e 136px)"></i><i style="background:linear-gradient(90deg,#2e1a3e 0,#2f1b42 58.5px,#301f4a 59.5px,#352963 60.5px,#3d4499 61.5px,#417cda 62.5px,#3abfcf 63.5px,#89d06f 64.5px,#cfc341 65.5px,#f29e3a 66.5px,#f07c2d 67.5px,#e96c29 68.5px,#f07a2c 70.5px,#edac3f 72.5px,#cdc342 73.5px,#9dce5b 74.5px,#5ccd9c 75.5px,#3bc1cc 76.5px,#36b4e0 78.5px,#3c9fe6 81.5px,#416ccc 83.5px,#3a347e 85.5px,#332559 86.5px,#2e1b40 88.5px,#2f1d45 101.5px,#332559 102.5px,#3b3a8a 103.5px,#416dcd 104.5px,#37afe1 105.5px,#56cda2 106.5px,#92d066 107.5px,#adcb4d 108.5px,#bcc844 112.5px,#adcb4d 115.5px,#92d066 116.5px,#56cda2 117.5px,#37b0e1 118.5px,#416fcf 119.5px,#3b3c8c 120.5px,#33255a 121.5px,#2e1b40 123.5px,#2e1a3e 136px)"></i><i style="background:linear-gradient(90deg,#2e1a3e 0,#2f1c43 58.5px,#31214f 59.5px,#372d6f 60.5px,#3f51ad 61.5px,#3f90e4 62.5px,#48c9b5 63.5px,#a4cd54 64.5px,#e5b640 65.5px,#f28731 66.5px,#e66527 67.5px,#e05824 69.5px,#f17f2e 71.5px,#f29f3a 72.5px,#d8c040 73.5px,#9cce5c 74.5px,#47c9b6 75.5px,#39aae3 76.5px,#3c9de6 77.5px,#38ace2 80.5px,#4089e0 82.5px,#3f50ac 84.5px,#33255a 86.5px,#2e1b40 88.5px,#301d46 101.5px,#33265c 102.5px,#3c3e90 103.5px,#4273d3 104.5px,#36b4df 105.5px,#5ccd9c 106.5px,#95cf63 107.5px,#aecb4c 108.5px,#bbc844 113.5px,#afcb4c 115.5px,#98cf60 116.5px,#62ce96 117.5px,#38b9d9 118.5px,#427ad9 119.5px,#3d4498 120.5px,#342861 121.5px,#301e48 122.5px,#2e1a3e 134.5px,#2e1a3e 136px)"></i><i style="background:linear-gradient(90deg,#2e1a3e 0,#2f1d46 58.5px,#322356 59.5px,#3a337d 60.5px,#4060c0 61.5px,#3aa5e4 62.5px,#60ce98 63.5px,#b8c947 64.5px,#f0a43c 65.5px,#ed732a 66.5px,#de5524 67.5px,#d84c22 69.5px,#eb702a 71.5px,#f39436 72.5px,#dabe40 73.5px,#7dd07b 74.5px,#3c9de6 75.5px,#4058b8 76.5px,#4057b7 77.5px,#417fdb 78.5px,#3ba3e5 79.5px,#39abe3 80.5px,#4089e1 82.5px,#3f51ae 84.5px,#33255b 86.5px,#2e1b40 88.5px,#301e47 101.5px,#34275f 102.5px,#3c4296 103.5px,#4278d8 104.5px,#37b8da 105.5px,#61ce97 106.5px,#98cf60 107.5px,#b8c946 109.5px,#b2ca4a 115.5px,#9ece5a 116.5px,#6ed08a 117.5px,#3abfcf 118.5px,#4086df 119.5px,#3e4ca5 120.5px,#362b68 121.5px,#301f4b 122.5px,#2e1a3e 128.5px,#2e1a3e 136px)"></i><i style="background:linear-gradient(90deg,#2e1a3e 0,#2f1c42 57.5px,#34275e 59.5px,#3b3c8d 60.5px,#4170d0 61.5px,#37b7db 62.5px,#7ed07a 63.5px,#cfc341 64.5px,#f39236 65.5px,#e46126 66.5px,#d14221 68.5px,#d94e23 70.5px,#e56327 71.5px,#f28a32 72.5px,#d0c241 73.5px,#47c9b6 74.5px,#4058b8 75.5px,#33255b 76.5px,#342861 77.5px,#3f51ac 78.5px,#3f8fe4 79.5px,#3aa7e4 80.5px,#408ae1 82.5px,#3f53b0 84.5px,#33265c 86.5px,#2e1b40 88.5px,#2e1b40 100.5px,#301e49 101.5px,#352863 102.5px,#3d469c 103.5px,#417edb 104.5px,#39bbd6 105.5px,#67cf91 106.5px,#9bce5d 107.5px,#b9c946 109.5px,#b4ca49 115.5px,#a3cd55 116.5px,#79d07f 117.5px,#3fc5c4 118.5px,#3f92e5 119.5px,#4055b4 120.5px,#372e71 121.5px,#31204e 122.5px,#2e1a3e 125.5px,#2e1a3e 136px)"></i><i style="background:linear-gradient(90deg,#2e1a3e 0,#2f1c44 57.5px,#31204e 58.5px,#362b68 59.5px,#3d489f 60.5px,#4182dd 61.5px,#3cc4c7 62.5px,#98cf60 63.5px,#e2b840 64.5px,#f17f2e 65.5px,#dd5323 66.5px,#cc3a20 68.5px,#d34521 70.5px,#e05824 71.5px,#f1812f 72.5px,#c4c643 73.5px,#37b6dc 74.5px,#3a3784 75.5px,#2f1c44 76.5px,#301e48 77.5px,#3b3785 78.5px,#417dda 79.5px,#3ba2e5 80.5px,#3ca0e6 81.5px,#4170d0 83.5px,#3a3784 85.5px,#34265d 86.5px,#2e1b40 88.5px,#2e1b41 100.5px,#301f4a 101.5px,#352a66 102.5px,#3e4aa2 103.5px,#4183de 104.5px,#3abed1 105.5px,#6cd08c 106.5px,#9dce5b 107.5px,#bac845 109.5px,#b6c948 115.5px,#a8cc50 116.5px,#84d074 117.5px,#47c8b6 118.5px,#3c9ee6 119.5px,#405ebe 120.5px,#39327b 121.5px,#322252 122.5px,#2e1a3f 124.5px,#2e1a3e 136px)"></i><i style="background:linear-gradient(90deg,#2e1a3e 0,#2f1d46 57.5px,#322354 58.5px,#383075 59.5px,#4056b4 60.5px,#3e96e7 61.5px,#4dcbad 62.5px,#adcb4d 63.5px,#eea93e 64.5px,#ea6d29 65.5px,#d54822 66.5px,#c63521 68.5px,#ce3c20 70.5px,#d94e23 71.5px,#ee772b 72.5px,#c7c542 73.5px,#37b1e1 74.5px,#39327b 75.5px,#2f1c42 76.5px,#2f1d45 77.5px,#39337d 78.5px,#4278d8 79.5px,#3ba1e5 80.5px,#3ca0e6 81.5px,#4271d1 83.5px,#3b3785 85.5px,#34265d 86.5px,#2e1b40 88.5px,#2f1b41 100.5px,#301f4b 101.5px,#362b69 102.5px,#3e4ea8 103.5px,#4088e0 104.5px,#3bc1cc 105.5px,#72d086 106.5px,#a0cd58 107.5px,#bbc845 109.5px,#b8c947 115.5px,#accb4e 116.5px,#8ed06a 117.5px,#4fcca9 118.5px,#39a9e3 119.5px,#4168c8 120.5px,#3b3785 121.5px,#332457 122.5px,#2e1b3f 124.5px,#2e1a3e 136px)"></i><i style="background:linear-gradient(90deg,#2e1a3e 0,#2f1c42 56.5px,#33255a 58.5px,#3a3684 59.5px,#4163c3 60.5px,#39a8e3 61.5px,#66cf92 62.5px,#bfc744 63.5px,#f49838 64.5px,#e25b25 65.5px,#ce3c20 66.5px,#c13121 69.5px,#d34521 71.5px,#e86928 72.5px,#dcbd40 73.5px,#3cc4c8 74.5px,#3c4296 75.5px,#301f4a 76.5px,#31204e 77.5px,#3c3e90 78.5px,#4183dd 79.5px,#3aa5e4 80.5px,#3ba1e5 81.5px,#4272d2 83.5px,#4056b4 84.5px,#34275e 86.5px,#2e1b40 88.5px,#2f1b41 100.5px,#311f4c 101.5px,#362c6c 102.5px,#3f51ae 103.5px,#3f8ee3 104.5px,#3dc4c7 105.5px,#78d080 106.5px,#a4cd54 107.5px,#bdc844 109.5px,#bac845 115.5px,#afcb4c 116.5px,#95cf63 117.5px,#5bcd9d 118.5px,#36b5df 119.5px,#4273d3 120.5px,#3c3f91 121.5px,#34265d 122.5px,#2e1b40 124.5px,#2e1a3e 136px)"></i><i style="background:linear-gradient(90deg,#2e1a3e 0,#2f1c43 56.5px,#352862 58.5px,#3c3f91 59.5px,#4272d2 60.5px,#38b8da 61.5px,#81d077 62.5px,#d6c140 63.5px,#f18430 64.5px,#d94d23 65.5px,#c63521 66.5px,#ba2b21 69.5px,#cd3c20 71.5px,#e15a25 72.5px,#f0a53c 73.5px,#7cd07c 74.5px,#417cda 75.5px,#3a3582 76.5px,#3a3684 77.5px,#4162c2 78.5px,#3e99e8 79.5px,#39aae3 80.5px,#3f8de3 82.5px,#4057b6 84.5px,#34275f 86.5px,#2e1b40 88.5px,#2f1b41 100.5px,#31204d 101.5px,#372e70 102.5px,#4055b4 103.5px,#3f94e6 104.5px,#41c6c0 105.5px,#7ed07a 106.5px,#a8cc50 107.5px,#c4c643 110.5px,#bcc844 115.5px,#9cce5c 117.5px,#68cf90 118.5px,#39bcd5 119.5px,#417fdb 120.5px,#3d479d 121.5px,#352964 122.5px,#301e49 123.5px,#2e1a3e 131.5px,#2e1a3e 136px)"></i><i style="background:linear-gradient(90deg,#2e1a3e 0,#2f1d45 56.5px,#362c6b 58.5px,#3d49a0 59.5px,#4181dc 60.5px,#3cc3c9 61.5px,#98cf60 62.5px,#e6b540 63.5px,#ec722a 64.5px,#d04021 65.5px,#b52722 67.5px,#ba2b21 70.5px,#da4f23 72.5px,#f28832 73.5px,#bcc844 74.5px,#45c7ba 75.5px,#408ae1 76.5px,#417cda 77.5px,#3e97e8 78.5px,#38ace2 79.5px,#3ba2e5 81.5px,#4273d3 83.5px,#4058b7 84.5px,#342760 86.5px,#2e1b40 88.5px,#2f1c42 100.5px,#31204e 101.5px,#382f74 102.5px,#4059b9 103.5px,#3e99e8 104.5px,#45c8b9 105.5px,#86d072 106.5px,#accb4e 107.5px,#ccc342 110.5px,#c1c743 115.5px,#a3cd55 117.5px,#75d083 118.5px,#3bc2ca 119.5px,#408be1 120.5px,#3f4fab 121.5px,#362c6b 122.5px,#301f4c 123.5px,#2e1a3e 128.5px,#2e1a3e 136px)"></i><i style="background:linear-gradient(90deg,#2e1a3e 0,#301d47 56.5px,#322354 57.5px,#382f74 58.5px,#3f53b0 59.5px,#3f90e4 60.5px,#49c9b4 61.5px,#aacc4f 62.5px,#efa73d 63.5px,#e46026 64.5px,#c83720 65.5px,#ac2321 68.5px,#c13021 71.5px,#d44622 72.5px,#ee772b 73.5px,#e3b740 74.5px,#95cf63 75.5px,#46c8b8 76.5px,#38b9d9 77.5px,#3ba3e5 81.5px,#4274d4 83.5px,#4059b8 84.5px,#342861 86.5px,#2e1b41 88.5px,#2f1c42 100.5px,#312150 101.5px,#393178 102.5px,#405ebe 103.5px,#3c9fe6 104.5px,#4acab1 105.5px,#8ed06a 106.5px,#b1ca4a 107.5px,#d8c040 110.5px,#c8c442 115.5px,#aacc4f 117.5px,#81d077 118.5px,#43c7bd 119.5px,#3e97e7 120.5px,#4058b8 121.5px,#382f74 122.5px,#31214f 123.5px,#2e1a3e 126.5px,#2e1a3e 136px)"></i><i style="background:linear-gradient(90deg,#2e1a3e 0,#2f1c42 55.5px,#332458 57.5px,#3a337e 58.5px,#405dbd 59.5px,#3c9fe6 60.5px,#59cd9f 61.5px,#b8c946 62.5px,#f49838 63.5px,#dc5223 64.5px,#c13121 65.5px,#a62021 68.5px,#bb2c21 71.5px,#cf3e21 72.5px,#e96c29 73.5px,#edac3f 74.5px,#aecb4d 75.5px,#68cf90 76.5px,#3fc5c3 77.5px,#37b6dd 79.5px,#3f90e4 82.5px,#4059b9 84.5px,#342861 86.5px,#2e1b41 88.5px,#2f1c43 100.5px,#322252 101.5px,#39337d 102.5px,#4162c2 103.5px,#3aa5e4 104.5px,#50cca9 105.5px,#96cf62 106.5px,#b8c946 107.5px,#dfbb40 109.5px,#e3b740 113.5px,#c3c643 116.5px,#b0ca4b 117.5px,#8dd06b 118.5px,#4bcab0 119.5px,#3ba2e5 120.5px,#4161c1 121.5px,#39337d 122.5px,#322253 123.5px,#2e1a3f 125.5px,#2e1a3e 136px)"></i><i style="background:linear-gradient(90deg,#2e1a3e 0,#2f1c43 55.5px,#34265d 57.5px,#3b3987 58.5px,#4167c7 59.5px,#38ace2 60.5px,#6dd08b 61.5px,#c9c442 62.5px,#f28832 63.5px,#d44722 64.5px,#bb2b21 65.5px,#a21e21 68.5px,#b72922 71.5px,#cb3920 72.5px,#e56327 73.5px,#f0a53c 74.5px,#b5c948 75.5px,#71d087 76.5px,#43c7bd 77.5px,#37b6dd 79.5px,#3f91e4 82.5px,#405aba 84.5px,#352862 86.5px,#2e1b41 88.5px,#2f1c44 100.5px,#322355 101.5px,#3a3683 102.5px,#4168c8 103.5px,#38ace2 104.5px,#59cd9f 105.5px,#9ece5a 106.5px,#c3c643 107.5px,#ecaf40 109.5px,#f1a03b 112.5px,#ddbc40 115.5px,#b6c947 117.5px,#96cf62 118.5px,#55cda3 119.5px,#38ace2 120.5px,#416aca 121.5px,#3b3987 122.5px,#332458 123.5px,#2e1b3f 125.5px,#2e1a3e 136px)"></i><i style="background:linear-gradient(90deg,#2e1a3e 0,#2f1c44 55.5px,#352963 57.5px,#3c3f91 58.5px,#4271d1 59.5px,#37b8db 60.5px,#81d077 61.5px,#d9bf40 62.5px,#f07a2c 63.5px,#ce3d20 64.5px,#a72021 66.5px,#a11e21 69.5px,#c73520 72.5px,#e25c25 73.5px,#f29f3a 74.5px,#bac845 75.5px,#77d081 76.5px,#45c8ba 77.5px,#37b7dc 79.5px,#3f91e5 82.5px,#405bbb 84.5px,#352963 86.5px,#2f1b41 88.5px,#2f1d45 100.5px,#332458 101.5px,#3b3988 102.5px,#416dcd 103.5px,#36b3e0 104.5px,#64ce94 105.5px,#a8cc50 106.5px,#ebb140 108.5px,#f28531 111.5px,#f0a33c 114.5px,#d9bf40 116.5px,#bec844 117.5px,#9fce59 118.5px,#62ce96 119.5px,#37b6dd 120.5px,#4274d4 121.5px,#3c3f91 122.5px,#34265d 123.5px,#2e1b40 125.5px,#2e1a3e 136px)"></i><i style="background:linear-gradient(90deg,#2e1a3e 0,#2f1d45 55.5px,#362b69 57.5px,#3d469c 58.5px,#417cda 59.5px,#3ac0ce 60.5px,#93cf65 61.5px,#e4b640 62.5px,#e96c29 63.5px,#c83720 64.5px,#a31f21 66.5px,#9e1d20 69.5px,#c33321 72.5px,#de5624 73.5px,#f49938 74.5px,#c0c743 75.5px,#7dd07b 76.5px,#47c8b6 77.5px,#3abed1 78.5px,#3aa5e4 81.5px,#4278d8 83.5px,#405cbc 84.5px,#352964 86.5px,#301f4a 87.5px,#2e1a3e 93.5px,#2f1d46 100.5px,#33255b 101.5px,#3c3d8f 102.5px,#4273d3 103.5px,#37b8da 104.5px,#6fd089 105.5px,#b1ca4b 106.5px,#debc40 107.5px,#f1a23b 108.5px,#ee772b 110.5px,#eb702a 112.5px,#efa73d 115.5px,#c8c542 117.5px,#a8cc51 118.5px,#6fd089 119.5px,#39bdd3 120.5px,#417fdb 121.5px,#3d469c 122.5px,#352963 123.5px,#301e49 124.5px,#2e1a3e 133.5px,#2e1a3e 136px)"></i><i style="background:linear-gradient(90deg,#2e1a3e 0,#2f1d46 55.5px,#322253 56.5px,#372e70 57.5px,#3e4ea8 58.5px,#4088e0 59.5px,#41c6c0 60.5px,#a1cd57 61.5px,#edac3f 62.5px,#e35f26 63.5px,#c23221 64.5px,#a01d21 66.5px,#9c1c20 69.5px,#c13021 72.5px,#db5123 73.5px,#f39236 74.5px,#c7c542 75.5px,#83d075 76.5px,#49c9b3 77.5px,#3abed0 78.5px,#3aa6e4 81.5px,#4279d8 83.5px,#405dbd 84.5px,#352965 86.5px,#301f4b 87.5px,#2e1a3e 93.5px,#301e47 100.5px,#34275e 101.5px,#3c4195 102.5px,#427ad9 103.5px,#39bcd3 104.5px,#7bd07d 105.5px,#b9c946 106.5px,#e7b440 107.5px,#f49537 108.5px,#e66427 110.5px,#e25d25 112.5px,#f39b39 115.5px,#d2c241 117.5px,#afcb4c 118.5px,#7cd07c 119.5px,#3cc3c9 120.5px,#4089e1 121.5px,#3e4ea8 122.5px,#362b6a 123.5px,#301f4b 124.5px,#2e1a3e 129.5px,#2e1a3e 136px)"></i><i style="background:linear-gradient(90deg,#2e1a3e 0,#2f1b42 54.5px,#322356 56.5px,#383178 57.5px,#4056b5 58.5px,#3e94e6 59.5px,#4ccaaf 60.5px,#aecb4c 61.5px,#f1a03b 62.5px,#dd5423 63.5px,#bd2e21 64.5px,#9d1c20 66.5px,#9a1b20 69.5px,#be2f21 72.5px,#d84c22 73.5px,#f28c33 74.5px,#cdc342 75.5px,#88d070 76.5px,#4bcab1 77.5px,#3abfd0 78.5px,#3aa6e4 81.5px,#427ad9 83.5px,#405ebe 84.5px,#352a66 86.5px,#301f4b 87.5px,#2e1a3e 92.5px,#301e48 100.5px,#342862 101.5px,#3d469b 102.5px,#4180dc 103.5px,#3bc1cc 104.5px,#86d072 105.5px,#c3c643 106.5px,#edac3f 107.5px,#e96b28 109.5px,#db5023 111.5px,#e25d25 113.5px,#f38f35 115.5px,#dabe40 117.5px,#b6c948 118.5px,#88d070 119.5px,#43c7bd 120.5px,#3e95e6 121.5px,#4056b5 122.5px,#372e71 123.5px,#31204e 124.5px,#2e1a3e 127.5px,#2e1a3e 136px)"></i><i style="background:linear-gradient(90deg,#2e1a3e 0,#2f1c42 54.5px,#33255a 56.5px,#3a3480 57.5px,#405ebe 58.5px,#3ca0e6 59.5px,#5bcd9d 60.5px,#bac845 61.5px,#f39436 62.5px,#d74b22 63.5px,#b92a22 64.5px,#961920 67.5px,#ab2221 71.5px,#bc2d21 72.5px,#d64822 73.5px,#f28731 74.5px,#d2c241 75.5px,#8ad06e 76.5px,#48c9b5 77.5px,#39bbd5 78.5px,#3aa7e4 81.5px,#427bda 83.5px,#405fbf 84.5px,#352a67 86.5px,#301f4b 87.5px,#2e1a3e 92.5px,#301e49 100.5px,#352965 101.5px,#3e4aa2 102.5px,#4087df 103.5px,#3ec5c5 104.5px,#90d068 105.5px,#ccc342 106.5px,#f0a43c 107.5px,#e56226 109.5px,#d74a22 111.5px,#de5524 113.5px,#f1a23b 116.5px,#e0b940 117.5px,#bdc844 118.5px,#93cf65 119.5px,#4bcab0 120.5px,#3c9fe6 121.5px,#405ebe 122.5px,#393179 123.5px,#312251 124.5px,#2e1a3f 126.5px,#2e1a3e 136px)"></i><i style="background:linear-gradient(90deg,#2e1a3e 0,#2f1c43 54.5px,#34275e 56.5px,#3b3988 57.5px,#4167c7 58.5px,#38ace2 59.5px,#6cd08c 60.5px,#c8c442 61.5px,#f28731 62.5px,#d24221 63.5px,#b52722 64.5px,#95191f 67.5px,#a92121 71.5px,#d34521 73.5px,#f1822f 74.5px,#d1c241 75.5px,#75d083 76.5px,#38b9d9 77.5px,#3d9ce7 78.5px,#3aa6e4 81.5px,#427cda 83.5px,#4060c0 84.5px,#362a67 86.5px,#301f4c 87.5px,#2e1a3e 92.5px,#2f1b41 99.5px,#301f4a 100.5px,#362b68 101.5px,#3e4ea8 102.5px,#3f8de3 103.5px,#43c7bc 104.5px,#97cf61 105.5px,#d4c141 106.5px,#f29e3a 107.5px,#e25c25 109.5px,#d54722 111.5px,#db5023 113.5px,#f39c39 116.5px,#e6b540 117.5px,#c5c543 118.5px,#9cce5c 119.5px,#55cda3 120.5px,#39a9e3 121.5px,#4167c7 122.5px,#3a3683 123.5px,#322355 124.5px,#2e1a3f 126.5px,#2e1a3e 136px)"></i><i style="background:linear-gradient(90deg,#2e1a3e 0,#2f1c44 54.5px,#352964 56.5px,#3c3f92 57.5px,#4270d0 58.5px,#37b7dc 59.5px,#7ed07a 60.5px,#d8c040 61.5px,#f07b2c 62.5px,#cc3b20 63.5px,#a01d21 65.5px,#93181f 68.5px,#a82121 71.5px,#d14121 73.5px,#f17f2e 74.5px,#bfc744 75.5px,#3dc4c6 76.5px,#416aca 77.5px,#3e4ba3 78.5px,#4164c4 79.5px,#3f91e4 80.5px,#3ba1e5 81.5px,#417dda 83.5px,#4161c1 84.5px,#362b68 86.5px,#311f4c 87.5px,#2e1a3e 92.5px,#2f1b41 99.5px,#301f4c 100.5px,#362c6c 101.5px,#3f52af 102.5px,#3e94e6 103.5px,#49c9b3 104.5px,#9fce59 105.5px,#dbbe40 106.5px,#f49838 107.5px,#df5724 109.5px,#d34521 112.5px,#e15b25 114.5px,#f49537 116.5px,#ebb140 117.5px,#cdc342 118.5px,#a4cd54 119.5px,#62ce96 120.5px,#36b4e0 121.5px,#4270d0 122.5px,#3b3c8d 123.5px,#33255a 124.5px,#2e1b40 126.5px,#2e1a3e 136px)"></i><i style="background:linear-gradient(90deg,#2e1a3e 0,#2f1d45 54.5px,#362b6a 56.5px,#3d469c 57.5px,#427bd9 58.5px,#3abed0 59.5px,#90d068 60.5px,#e2b840 61.5px,#ea6d29 62.5px,#c73620 63.5px,#9e1c20 65.5px,#95191f 69.5px,#b72822 72.5px,#cf3e21 73.5px,#f1802f 74.5px,#a7cc51 75.5px,#3f8fe3 76.5px,#372e72 77.5px,#322253 78.5px,#3a3480 79.5px,#416fcf 80.5px,#3e98e8 81.5px,#3e96e7 82.5px,#4161c1 84.5px,#362b69 86.5px,#31204c 87.5px,#2e1a3e 91.5px,#2f1b41 99.5px,#31204d 100.5px,#372e70 101.5px,#4057b6 102.5px,#3d9be7 103.5px,#4fcbaa 104.5px,#a6cc52 105.5px,#e0b940 106.5px,#f39235 107.5px,#dd5323 109.5px,#d24321 112.5px,#de5524 114.5px,#f38d34 116.5px,#eeab3e 117.5px,#d5c140 118.5px,#accb4e 119.5px,#6fd089 120.5px,#39bbd6 121.5px,#427bd9 122.5px,#3d4398 123.5px,#342860 124.5px,#301e48 125.5px,#2e1a3e 136px)"></i><i style="background:linear-gradient(90deg,#2e1a3e 0,#301d47 54.5px,#322253 55.5px,#372e70 56.5px,#3e4da8 57.5px,#4086df 58.5px,#3fc5c3 59.5px,#9ece5a 60.5px,#ecaf40 61.5px,#e46126 62.5px,#c23121 63.5px,#9b1b20 65.5px,#94191f 69.5px,#b52722 72.5px,#cd3b20 73.5px,#f1822f 74.5px,#96cf62 75.5px,#416aca 76.5px,#31214f 77.5px,#2f1c42 78.5px,#352862 79.5px,#405bbb 80.5px,#3f92e5 81.5px,#3e96e7 82.5px,#4162c2 84.5px,#362b6a 86.5px,#31204d 87.5px,#2e1a3e 91.5px,#2f1c42 99.5px,#31204e 100.5px,#382f74 101.5px,#405cbc 102.5px,#3ba1e5 103.5px,#58cda0 104.5px,#accb4d 105.5px,#e6b540 106.5px,#f28b33 107.5px,#da4f23 109.5px,#d04021 112.5px,#db5023 114.5px,#f28531 116.5px,#f0a53c 117.5px,#dbbd40 118.5px,#b3ca4a 119.5px,#7cd07c 120.5px,#3bc1cc 121.5px,#4086df 122.5px,#3e4ba4 123.5px,#352a67 124.5px,#301f4a 125.5px,#2e1a3e 131.5px,#2e1a3e 136px)"></i><i style="background:linear-gradient(90deg,#2e1a3e 0,#2f1c42 53.5px,#322457 55.5px,#393178 56.5px,#4056b5 57.5px,#3f93e5 58.5px,#4acab2 59.5px,#accb4e 60.5px,#f0a33c 61.5px,#df5624 62.5px,#bd2d21 63.5px,#991b20 65.5px,#93191f 69.5px,#b32622 72.5px,#ca3920 73.5px,#f07c2d 74.5px,#9cce5c 75.5px,#4170d0 76.5px,#322252 77.5px,#2f1c43 78.5px,#352965 79.5px,#405dbd 80.5px,#3f93e5 81.5px,#3e97e7 82.5px,#4163c3 84.5px,#362b6a 86.5px,#31204d 87.5px,#2e1a3e 91.5px,#2f1c42 99.5px,#312150 100.5px,#393179 101.5px,#4160c0 102.5px,#39a8e3 103.5px,#62ce96 104.5px,#b3ca49 105.5px,#ebb040 106.5px,#f18430 107.5px,#d74b22 109.5px,#cd3c20 112.5px,#d74a22 114.5px,#f07d2d 116.5px,#f29e3a 117.5px,#e1b840 118.5px,#bac845 119.5px,#89d06f 120.5px,#41c6bf 121.5px,#3f91e5 122.5px,#3f53b0 123.5px,#372d6e 124.5px,#31204d 125.5px,#2e1a3e 129.5px,#2e1a3e 136px)"></i><i style="background:linear-gradient(90deg,#2e1a3e 0,#2f1c43 53.5px,#33255b 55.5px,#3a3581 56.5px,#405fbf 57.5px,#3ca0e6 58.5px,#59cd9f 59.5px,#b8c947 60.5px,#f49738 61.5px,#d84c22 62.5px,#b82a22 63.5px,#91181e 66.5px,#991a20 70.5px,#c83620 73.5px,#eb6f29 74.5px,#b6c948 75.5px,#3ca0e6 76.5px,#3a3480 77.5px,#33255a 78.5px,#3b3b8a 79.5px,#4275d5 80.5px,#3d9be7 81.5px,#3e98e8 82.5px,#4164c4 84.5px,#362c6b 86.5px,#31204d 87.5px,#2e1a3e 91.5px,#2f1c43 99.5px,#322253 100.5px,#3a347f 101.5px,#4166c6 102.5px,#37afe1 103.5px,#6cd08c 104.5px,#bac845 105.5px,#eeaa3e 106.5px,#f07d2d 107.5px,#e15924 108.5px,#cd3c20 110.5px,#d34421 114.5px,#ed742a 116.5px,#f49637 117.5px,#e8b340 118.5px,#c3c643 119.5px,#95cf63 120.5px,#4acab1 121.5px,#3d9ce7 122.5px,#405bbb 123.5px,#383076 124.5px,#312150 125.5px,#2e1a3e 128.5px,#2e1a3e 136px)"></i><i style="background:linear-gradient(90deg,#2e1a3e 0,#2f1c44 53.5px,#342760 55.5px,#3b3b8b 56.5px,#4169c9 57.5px,#38ade2 58.5px,#6cd08c 59.5px,#c7c542 60.5px,#f28932 61.5px,#d24321 62.5px,#b42622 63.5px,#8f171e 66.5px,#981a20 70.5px,#c53421 73.5px,#e56327 74.5px,#debc40 75.5px,#54cca4 76.5px,#417ddb 77.5px,#4058b8 78.5px,#416fcf 79.5px,#3e98e8 80.5px,#3aa5e4 81.5px,#4181dc 83.5px,#4165c5 84.5px,#362c6c 86.5px,#31204d 87.5px,#2e1a3e 91.5px,#2f1c44 99.5px,#322356 100.5px,#3b3785 101.5px,#416ccc 102.5px,#37b6dd 103.5px,#77d081 104.5px,#c2c643 105.5px,#f0a33c 106.5px,#dd5323 108.5px,#ca3820 110.5px,#cf3e21 114.5px,#e86928 116.5px,#edad3f 118.5px,#cdc342 119.5px,#9fce59 120.5px,#55cda3 121.5px,#3aa7e4 122.5px,#4164c4 123.5px,#3a3480 124.5px,#322354 125.5px,#2e1a3f 127.5px,#2e1a3e 136px)"></i><i style="background:linear-gradient(90deg,#2e1a3e 0,#2f1d45 53.5px,#352a67 55.5px,#3c4296 56.5px,#4275d5 57.5px,#38b9d9 58.5px,#81d077 59.5px,#d8c040 60.5px,#f07c2d 61.5px,#cd3b20 62.5px,#9e1d20 64.5px,#8c171e 68.5px,#af2422 72.5px,#c33221 73.5px,#e15b25 74.5px,#eea93e 75.5px,#9ece5a 76.5px,#42c6be 77.5px,#38aee2 78.5px,#39aae3 81.5px,#4182dd 83.5px,#4165c5 84.5px,#362c6c 86.5px,#31204e 87.5px,#2e1a3e 91.5px,#2f1d45 99.5px,#332559 100.5px,#3b3b8b 101.5px,#4272d2 102.5px,#38bad6 103.5px,#82d076 104.5px,#cbc442 105.5px,#f39c39 106.5px,#d84d22 108.5px,#c63521 110.5px,#ca3820 114.5px,#e35f26 116.5px,#f0a53c 118.5px,#d6c040 119.5px,#a8cc50 120.5px,#63ce95 121.5px,#36b3e0 122.5px,#416ece 123.5px,#3b3a8a 124.5px,#332559 125.5px,#2e1b40 127.5px,#2e1a3e 136px)"></i><i style="background:linear-gradient(90deg,#2e1a3e 0,#2f1d46 53.5px,#322252 54.5px,#372d6e 55.5px,#3e4ba4 56.5px,#4182dd 57.5px,#3bc2cb 58.5px,#95cf63 59.5px,#e4b640 60.5px,#ea6d29 61.5px,#c73620 62.5px,#9c1c20 64.5px,#8c161d 68.5px,#ad2322 72.5px,#c13121 73.5px,#de5624 74.5px,#f29f3a 75.5px,#b3ca49 76.5px,#69cf8f 77.5px,#3ec5c5 78.5px,#39abe3 81.5px,#4182dd 83.5px,#4166c6 84.5px,#362c6d 86.5px,#31204e 87.5px,#2e1a3e 90.5px,#301d46 99.5px,#33265c 100.5px,#3c3f91 101.5px,#4279d8 102.5px,#3abfd0 103.5px,#8cd06c 104.5px,#d4c141 105.5px,#f39436 106.5px,#e66427 107.5px,#c93720 109.5px,#bf2f21 113.5px,#cf3e21 115.5px,#ef792c 117.5px,#f29e3a 118.5px,#ddbc40 119.5px,#b0ca4b 120.5px,#71d087 121.5px,#38bad7 122.5px,#4278d8 123.5px,#3c4194 124.5px,#34275e 125.5px,#301e47 126.5px,#2e1a3e 136px)"></i><i style="background:linear-gradient(90deg,#2e1a3e 0,#2f1b42 52.5px,#322356 54.5px,#383177 55.5px,#3f55b3 56.5px,#3f90e4 57.5px,#46c8b8 58.5px,#a5cc53 59.5px,#edac3f 60.5px,#e46026 61.5px,#c13121 62.5px,#991b20 64.5px,#8b161d 68.5px,#ac2321 72.5px,#bf2f21 73.5px,#dc5123 74.5px,#f39a39 75.5px,#b9c946 76.5px,#72d086 77.5px,#43c7bd 78.5px,#37b6de 80.5px,#3d9be7 82.5px,#4166c6 84.5px,#372c6d 86.5px,#31204e 87.5px,#2e1a3e 90.5px,#301e48 99.5px,#34275f 100.5px,#3c4397 101.5px,#417fdb 102.5px,#3cc3c9 103.5px,#94cf64 104.5px,#dbbd40 105.5px,#f28c33 106.5px,#e25c25 107.5px,#c43421 109.5px,#bb2b21 113.5px,#ca3820 115.5px,#eb6f29 117.5px,#f49637 118.5px,#e4b740 119.5px,#b7c947 120.5px,#7ed07a 121.5px,#3bc1cd 122.5px,#4183de 123.5px,#3d49a0 124.5px,#352965 125.5px,#301e49 126.5px,#2e1a3e 133.5px,#2e1a3e 136px)"></i><i style="background:linear-gradient(90deg,#2e1a3e 0,#2f1c42 52.5px,#33255b 54.5px,#3a3582 55.5px,#405fbf 56.5px,#3c9fe6 57.5px,#55cda3 58.5px,#b3ca49 59.5px,#f29f3a 60.5px,#dd5423 61.5px,#bc2d21 62.5px,#8f171e 65.5px,#8e171e 69.5px,#bd2e21 73.5px,#d94d23 74.5px,#f49537 75.5px,#bec744 76.5px,#78d080 77.5px,#45c7ba 78.5px,#37b6dd 80.5px,#3d9be7 82.5px,#4166c6 84.5px,#372d6d 86.5px,#31204e 87.5px,#2e1a3e 90.5px,#301e49 99.5px,#352862 100.5px,#3d479d 101.5px,#4085de 102.5px,#40c6c1 103.5px,#9bce5d 104.5px,#e1b940 105.5px,#f18530 106.5px,#de5624 107.5px,#c13021 109.5px,#b72822 113.5px,#d44622 116.5px,#f38e34 118.5px,#eab240 119.5px,#bfc744 120.5px,#8bd06d 121.5px,#40c6c1 122.5px,#3f8ee3 123.5px,#3f50ac 124.5px,#362c6c 125.5px,#301f4c 126.5px,#2e1a3e 131.5px,#2e1a3e 136px)"></i><i style="background:linear-gradient(90deg,#2e1a3e 0,#2f1c43 52.5px,#342861 54.5px,#3b3c8c 55.5px,#416aca 56.5px,#38aee2 57.5px,#6acf8e 58.5px,#c2c643 59.5px,#f39135 60.5px,#d74a22 61.5px,#b82922 62.5px,#8e171e 65.5px,#8d171e 69.5px,#bb2c21 73.5px,#d64a22 74.5px,#f38f34 75.5px,#c4c643 76.5px,#7dd07b 77.5px,#46c8b7 78.5px,#37b6dd 80.5px,#3d9be7 82.5px,#4166c6 84.5px,#372d6d 86.5px,#31204e 87.5px,#2e1a3e 90.5px,#2f1b41 98.5px,#301f4a 99.5px,#352a66 100.5px,#3e4ba3 101.5px,#408be1 102.5px,#45c8b9 103.5px,#a2cd56 104.5px,#e6b540 105.5px,#f17e2e 106.5px,#db5023 107.5px,#bd2e21 109.5px,#b32622 113.5px,#d04021 116.5px,#f28631 118.5px,#edac3f 119.5px,#c8c542 120.5px,#96cf62 121.5px,#49c9b3 122.5px,#3e99e8 123.5px,#4059b8 124.5px,#382f73 125.5px,#31214f 126.5px,#2e1a3e 129.5px,#2e1a3e 136px)"></i><i style="background:linear-gradient(90deg,#2e1a3e 0,#2f1c44 52.5px,#362a67 54.5px,#3d4499 55.5px,#4277d7 56.5px,#38bad7 57.5px,#80d078 58.5px,#d3c141 59.5px,#f18330 60.5px,#d14221 61.5px,#b42622 62.5px,#8c171e 65.5px,#8d171e 69.5px,#ba2b22 73.5px,#d44622 74.5px,#f28932 75.5px,#cac442 76.5px,#82d076 77.5px,#48c9b4 78.5px,#3abed1 79.5px,#3d9be7 82.5px,#4166c6 84.5px,#372c6d 86.5px,#31204e 87.5px,#2e1a3e 90.5px,#2f1b41 98.5px,#301f4b 99.5px,#362b69 100.5px,#3e4ea9 101.5px,#3f90e4 102.5px,#4acab1 103.5px,#a9cc50 104.5px,#ebb140 105.5px,#ef772b 106.5px,#d84b22 107.5px,#bb2c21 109.5px,#b02422 113.5px,#cc3b20 116.5px,#f17f2e 118.5px,#efa63d 119.5px,#d1c241 120.5px,#9fce59 121.5px,#52cca6 122.5px,#3ba4e5 123.5px,#4161c1 124.5px,#39327c 125.5px,#322252 126.5px,#2e1a3f 128.5px,#2e1a3e 136px)"></i><i style="background:linear-gradient(90deg,#2e1a3e 0,#2f1d46 52.5px,#322252 53.5px,#372e70 54.5px,#3e4da7 55.5px,#4085de 56.5px,#3cc4c9 57.5px,#94cf64 58.5px,#e1b940 59.5px,#ee752b 60.5px,#cc3a20 61.5px,#9d1c20 63.5px,#86151c 67.5px,#a72121 72.5px,#b82922 73.5px,#d24321 74.5px,#f18430 75.5px,#d0c241 76.5px,#88d070 77.5px,#4acab1 78.5px,#3abfd0 79.5px,#3d9be7 82.5px,#4166c6 84.5px,#372c6d 86.5px,#31204e 87.5px,#2e1a3e 90.5px,#2f1b42 98.5px,#311f4c 99.5px,#362c6c 100.5px,#3f52af 101.5px,#3e96e7 102.5px,#4fcca9 103.5px,#aecb4c 104.5px,#eeab3e 105.5px,#ec712a 106.5px,#d54722 107.5px,#b92a22 109.5px,#ae2322 113.5px,#c93820 116.5px,#ef792c 118.5px,#f1a13b 119.5px,#d8c040 120.5px,#a7cc51 121.5px,#5ece9a 122.5px,#38aee2 123.5px,#4169c9 124.5px,#3b3785 125.5px,#322456 126.5px,#2e1b3f 128.5px,#2e1a3e 136px)"></i><i style="background:linear-gradient(90deg,#2e1a3e 0,#2f1b41 51.5px,#322456 53.5px,#39327a 54.5px,#4058b8 55.5px,#3e95e6 56.5px,#48c9b4 57.5px,#a4cd54 58.5px,#ecb040 59.5px,#e86828 60.5px,#c63520 61.5px,#9b1b20 63.5px,#86151c 67.5px,#a62021 72.5px,#d04021 74.5px,#f17f2e 75.5px,#d6c140 76.5px,#8ed06a 77.5px,#4dcbae 78.5px,#3ac0ce 79.5px,#3d9be7 82.5px,#4165c5 84.5px,#372c6d 86.5px,#31204e 87.5px,#2e1a3e 90.5px,#2f1c42 98.5px,#31204d 99.5px,#372d6f 100.5px,#4056b4 101.5px,#3d9be7 102.5px,#56cda2 103.5px,#b3ca49 104.5px,#efa63d 105.5px,#e96c29 106.5px,#d34421 107.5px,#b02422 110.5px,#b12522 114.5px,#c73620 116.5px,#ed732a 118.5px,#f39c39 119.5px,#ddbc40 120.5px,#aecb4d 121.5px,#6bcf8d 122.5px,#37b7dc 123.5px,#4273d3 124.5px,#3c3e8f 125.5px,#33265b 126.5px,#2e1b40 128.5px,#2e1a3e 136px)"></i><i style="background:linear-gradient(90deg,#2e1a3e 0,#2f1c42 51.5px,#33265c 53.5px,#3b3886 54.5px,#4164c4 55.5px,#3aa4e4 56.5px,#59cd9f 57.5px,#b2ca4a 58.5px,#f0a33c 59.5px,#e25c25 60.5px,#c13121 61.5px,#8f181e 64.5px,#8b161d 69.5px,#b62722 73.5px,#ce3d20 74.5px,#f07a2c 75.5px,#dabe40 76.5px,#92d066 77.5px,#4fcbaa 78.5px,#3bc0cd 79.5px,#3d9be7 82.5px,#4165c5 84.5px,#372c6d 86.5px,#31204e 87.5px,#2e1a3e 90.5px,#2f1c42 98.5px,#31204e 99.5px,#372e72 100.5px,#4059b9 101.5px,#3ca0e6 102.5px,#5ece9a 103.5px,#b8c946 104.5px,#f1a13b 105.5px,#e76728 106.5px,#d14121 107.5px,#ae2422 110.5px,#b02422 114.5px,#c53421 116.5px,#ea6e29 118.5px,#f49838 119.5px,#e1b940 120.5px,#b3ca49 121.5px,#77d081 122.5px,#39bdd2 123.5px,#417ddb 124.5px,#3d459a 125.5px,#342861 126.5px,#301e48 127.5px,#2e1a3e 136px)"></i><i style="background:linear-gradient(90deg,#2e1a3e 0,#2f1c43 51.5px,#352963 53.5px,#3c4093 54.5px,#4271d1 55.5px,#36b5df 56.5px,#70d088 57.5px,#c1c743 58.5px,#f49738 59.5px,#dc5223 60.5px,#bd2e21 61.5px,#8e171e 64.5px,#8b161d 69.5px,#b52722 73.5px,#cc3b20 74.5px,#ee752b 75.5px,#debb40 76.5px,#96cf62 77.5px,#51cca7 78.5px,#3bc1cc 79.5px,#3d9be7 82.5px,#4165c5 84.5px,#362c6d 86.5px,#31204e 87.5px,#2e1a3e 90.5px,#2f1c42 98.5px,#31214f 99.5px,#383075 100.5px,#405cbc 101.5px,#3aa5e4 102.5px,#65cf93 103.5px,#bdc844 104.5px,#f29d3a 105.5px,#e56327 106.5px,#cf3e21 107.5px,#ad2322 110.5px,#af2422 114.5px,#c33321 116.5px,#e86928 118.5px,#f39336 119.5px,#e5b640 120.5px,#b9c946 121.5px,#83d075 122.5px,#3cc3c9 123.5px,#4088e0 124.5px,#3e4ca5 125.5px,#362a68 126.5px,#301f4a 127.5px,#2e1a3e 133.5px,#2e1a3e 136px)"></i><i style="background:linear-gradient(90deg,#2e1a3e 0,#2f1c44 51.5px,#312150 52.5px,#372c6d 53.5px,#3e4ba4 54.5px,#4181dd 55.5px,#3abfcf 56.5px,#87d071 57.5px,#d3c141 58.5px,#f28932 59.5px,#d74a22 60.5px,#ba2b22 61.5px,#8d171e 64.5px,#8a161d 69.5px,#b42622 73.5px,#cb3920 74.5px,#ec712a 75.5px,#e2b840 76.5px,#9ace5e 77.5px,#54cda4 78.5px,#3bc2cb 79.5px,#3d9be7 82.5px,#4165c5 84.5px,#362c6d 86.5px,#31204e 87.5px,#2e1a3e 90.5px,#2f1c43 98.5px,#312150 99.5px,#383178 100.5px,#4060c0 101.5px,#39aae3 102.5px,#6cd08c 103.5px,#c3c643 104.5px,#f49938 105.5px,#e35f26 106.5px,#cd3c20 107.5px,#ac2321 110.5px,#ae2422 114.5px,#d24421 117.5px,#f38f34 119.5px,#e9b340 120.5px,#bfc744 121.5px,#8ed06a 122.5px,#43c7bc 123.5px,#3f93e6 124.5px,#3f54b2 125.5px,#372d6f 126.5px,#31204d 127.5px,#2e1a3e 131.5px,#2e1a3e 136px)"></i><i style="background:linear-gradient(90deg,#2e1a3e 0,#2f1d46 51.5px,#322355 52.5px,#393179 53.5px,#4058b7 54.5px,#3f93e6 55.5px,#45c7ba 56.5px,#9bce5d 57.5px,#e0b940 58.5px,#f07d2d 59.5px,#d24321 60.5px,#b72822 61.5px,#8d171e 64.5px,#8a161d 69.5px,#b32522 73.5px,#c93820 74.5px,#ea6d29 75.5px,#e5b640 76.5px,#9ece5a 77.5px,#57cda1 78.5px,#3bc3ca 79.5px,#3d9be7 82.5px,#4164c4 84.5px,#362c6c 86.5px,#31204e 87.5px,#2e1a3e 91.5px,#2f1c43 98.5px,#322251 99.5px,#39327b 100.5px,#4163c3 101.5px,#38afe2 102.5px,#73d085 103.5px,#c8c442 104.5px,#f49537 105.5px,#e25b25 106.5px,#cc3a20 107.5px,#ac2221 110.5px,#ae2322 114.5px,#d14121 117.5px,#f28b33 119.5px,#ecb040 120.5px,#c6c543 121.5px,#97cf61 122.5px,#4ccaaf 123.5px,#3c9ee6 124.5px,#405cbc 125.5px,#383177 126.5px,#312150 127.5px,#2e1a3e 130.5px,#2e1a3e 136px)"></i><i style="background:linear-gradient(90deg,#2e1a3e 0,#2f1b41 50.5px,#33265c 52.5px,#3b3988 53.5px,#4166c6 54.5px,#3aa5e4 55.5px,#55cda3 56.5px,#abcb4e 57.5px,#ebb140 58.5px,#ec722a 59.5px,#ce3d20 60.5px,#a11e21 62.5px,#84141c 66.5px,#981a20 71.5px,#c83720 74.5px,#e86928 75.5px,#e8b340 76.5px,#a1cd57 77.5px,#5acd9e 78.5px,#3cc3c9 79.5px,#3e99e8 82.5px,#4162c2 84.5px,#362c6b 86.5px,#31204d 87.5px,#2e1a3e 91.5px,#2f1c43 98.5px,#322253 99.5px,#3a337e 100.5px,#4166c6 101.5px,#36b3e0 102.5px,#7ad07e 103.5px,#cec341 104.5px,#f39035 105.5px,#e05824 106.5px,#cb3920 107.5px,#a72021 111.5px,#b52722 115.5px,#d03f21 117.5px,#f28731 119.5px,#edac3f 120.5px,#cdc342 121.5px,#9fce59 122.5px,#55cda3 123.5px,#39a8e3 124.5px,#4165c5 125.5px,#3a3581 126.5px,#322354 127.5px,#2e1a3f 129.5px,#2e1a3e 136px)"></i><i style="background:linear-gradient(90deg,#2e1a3e 0,#2f1c43 50.5px,#352a66 52.5px,#3d4499 53.5px,#4276d6 54.5px,#37b6dc 55.5px,#6dd08b 56.5px,#b8c946 57.5px,#efa63d 58.5px,#e86828 59.5px,#cb3920 60.5px,#a01d21 62.5px,#84141c 66.5px,#981a20 71.5px,#c73620 74.5px,#e76627 75.5px,#ebb140 76.5px,#a4cd54 77.5px,#5cce9c 78.5px,#3cc3c9 79.5px,#39a9e3 81.5px,#3e95e6 82.5px,#405ebe 84.5px,#362a67 86.5px,#31204c 87.5px,#2e1a3e 92.5px,#2f1c44 98.5px,#322354 99.5px,#3a3581 100.5px,#416aca 101.5px,#37b6dc 102.5px,#80d078 103.5px,#d3c141 104.5px,#f28c33 105.5px,#de5524 106.5px,#c93820 107.5px,#a62021 111.5px,#b42622 115.5px,#ce3d20 117.5px,#f18330 119.5px,#efa83d 120.5px,#d3c141 121.5px,#a6cc52 122.5px,#62ce96 123.5px,#36b3e0 124.5px,#416fcf 125.5px,#3b3b8b 126.5px,#332559 127.5px,#2e1b40 129.5px,#2e1a3e 136px)"></i><i style="background:linear-gradient(90deg,#2e1a3e 0,#2f1d45 50.5px,#322253 51.5px,#382f74 52.5px,#3f52af 53.5px,#4089e1 54.5px,#3bc2cb 55.5px,#85d073 56.5px,#c8c542 57.5px,#f39c39 58.5px,#e46026 59.5px,#c83620 60.5px,#9f1d20 62.5px,#84141c 66.5px,#981a20 71.5px,#c63521 74.5px,#e56327 75.5px,#edae3f 76.5px,#a7cc51 77.5px,#5dce9b 78.5px,#3bc2cb 79.5px,#3ba2e5 81.5px,#4170d0 83.5px,#3b3988 85.5px,#301f4a 87.5px,#2e1a3e 94.5px,#2f1d44 98.5px,#322355 99.5px,#3a3785 100.5px,#416dcd 101.5px,#38b9d8 102.5px,#87d071 103.5px,#d8c040 104.5px,#f28832 105.5px,#dd5323 106.5px,#c83720 107.5px,#a62021 111.5px,#b42622 115.5px,#cd3c20 117.5px,#f1802e 119.5px,#f0a53c 120.5px,#d8c040 121.5px,#accb4d 122.5px,#6ed08a 123.5px,#38bad7 124.5px,#4279d8 125.5px,#3c4296 126.5px,#34275f 127.5px,#301e47 128.5px,#2e1a3e 136px)"></i><i style="background:linear-gradient(90deg,#2e1a3e 0,#2f1b41 49.5px,#33265c 51.5px,#3b3887 52.5px,#4163c3 53.5px,#3c9ee6 54.5px,#4ac9b2 55.5px,#99ce5f 56.5px,#d7c040 57.5px,#f39236 58.5px,#e05924 59.5px,#c53421 60.5px,#93191f 63.5px,#85151c 68.5px,#b02422 73.5px,#c53421 74.5px,#e46026 75.5px,#eeab3e 76.5px,#a9cc4f 77.5px,#5ece9a 78.5px,#3bc0cd 79.5px,#3e96e7 81.5px,#4160c0 83.5px,#332458 86.5px,#2e1b40 88.5px,#2f1d45 98.5px,#332458 99.5px,#3b3a89 100.5px,#4272d2 101.5px,#39bcd4 102.5px,#8dd06b 103.5px,#dcbd40 104.5px,#f18430 105.5px,#db5023 106.5px,#b82a22 108.5px,#a41f21 112.5px,#bd2d21 116.5px,#de5524 118.5px,#f07d2d 119.5px,#f1a23b 120.5px,#dcbd40 121.5px,#b2ca4a 122.5px,#7ad07e 123.5px,#3bc0ce 124.5px,#4184de 125.5px,#3e49a1 126.5px,#352a66 127.5px,#301f4a 128.5px,#2e1a3e 136px)"></i><i style="background:linear-gradient(90deg,#2e1a3e 0,#2f1c43 49.5px,#31214f 50.5px,#362b6a 51.5px,#3d479d 52.5px,#4277d7 53.5px,#36b5df 54.5px,#61ce97 55.5px,#aacc4f 56.5px,#e2b840 57.5px,#f28932 58.5px,#dd5423 59.5px,#c33321 60.5px,#93191f 63.5px,#85151c 68.5px,#b02422 73.5px,#c43321 74.5px,#e25d25 75.5px,#eea93e 76.5px,#abcb4e 77.5px,#5dce9b 78.5px,#3abdd2 79.5px,#3ba3e5 80.5px,#4084de 81.5px,#3a3683 84.5px,#31214f 86.5px,#2e1a3e 90.5px,#301d46 98.5px,#33255b 99.5px,#3c3d8e 100.5px,#4277d7 101.5px,#3ac0ce 102.5px,#94cf64 103.5px,#dfba40 104.5px,#f1802f 105.5px,#d94e23 106.5px,#b82922 108.5px,#a41f21 112.5px,#bc2d21 116.5px,#dd5323 118.5px,#f0792c 119.5px,#f29f3a 120.5px,#dfbb40 121.5px,#b7c947 122.5px,#85d073 123.5px,#3fc5c3 124.5px,#3f8fe3 125.5px,#3f51ae 126.5px,#362c6d 127.5px,#31204c 128.5px,#2e1a3e 132.5px,#2e1a3e 136px)"></i><i style="background:linear-gradient(90deg,#2e1a3e 0,#2e1b41 48.5px,#332458 50.5px,#3a347f 51.5px,#405aba 52.5px,#3f90e4 53.5px,#3cc3ca 54.5px,#7cd07c 55.5px,#b7c947 56.5px,#ebb140 57.5px,#f1812f 58.5px,#da4f23 59.5px,#c13121 60.5px,#93191f 63.5px,#85151c 68.5px,#b02422 73.5px,#c33221 74.5px,#e15a25 75.5px,#efa63d 76.5px,#accb4d 77.5px,#5ccd9c 78.5px,#38bad7 79.5px,#3e98e8 80.5px,#3f53b1 82.5px,#362b69 84.5px,#2f1b41 87.5px,#2e1b41 97.5px,#301e48 98.5px,#342860 99.5px,#3d4498 100.5px,#4180dc 101.5px,#3dc5c6 102.5px,#9bce5d 103.5px,#e4b740 104.5px,#f07d2d 105.5px,#d84c22 106.5px,#b72822 108.5px,#a31f21 112.5px,#bc2c21 116.5px,#db5023 118.5px,#f39c39 120.5px,#e2b840 121.5px,#bbc844 122.5px,#90d068 123.5px,#47c9b6 124.5px,#3d9ae7 125.5px,#405aba 126.5px,#383075 127.5px,#31214f 128.5px,#2e1a3e 131.5px,#2e1a3e 136px)"></i><i style="background:linear-gradient(90deg,#2e1a3e 0,#2f1c43 48.5px,#352a67 50.5px,#3c4397 51.5px,#4170d0 52.5px,#39a9e3 53.5px,#4dcbac 54.5px,#95cf63 55.5px,#c7c542 56.5px,#efa83d 57.5px,#f07a2c 58.5px,#d74b22 59.5px,#ac2321 61.5px,#87151c 65.5px,#8f181e 70.5px,#c23221 74.5px,#e05824 75.5px,#f0a33c 76.5px,#aecb4c 77.5px,#5ccd9c 78.5px,#37b8da 79.5px,#3f8fe3 80.5px,#4167c7 81.5px,#372e71 83.5px,#301f4a 85.5px,#2e1a3e 94.5px,#31204d 98.5px,#362c6b 99.5px,#3e4ea9 100.5px,#3f8ee3 101.5px,#47c8b6 102.5px,#a5cd53 103.5px,#e9b240 104.5px,#ef782c 105.5px,#d64922 106.5px,#b62722 108.5px,#a31f21 112.5px,#bb2c21 116.5px,#d94e23 118.5px,#f49938 120.5px,#e5b640 121.5px,#c1c743 122.5px,#98cf60 123.5px,#4fcca9 124.5px,#3ba4e5 125.5px,#4162c2 126.5px,#3a337e 127.5px,#322253 128.5px,#2e1a3f 130.5px,#2e1a3e 136px)"></i><i style="background:linear-gradient(90deg,#2e1a3e 0,#2e1b40 47.5px,#332457 49.5px,#39327c 50.5px,#4089e1 52.5px,#39bdd2 53.5px,#6acf8e 54.5px,#a7cc51 55.5px,#d5c140 56.5px,#f1a13b 57.5px,#ed732a 58.5px,#d54822 59.5px,#ac2221 61.5px,#87151c 65.5px,#8f181e 70.5px,#c13121 74.5px,#de5524 75.5px,#f1a03b 76.5px,#b1ca4b 77.5px,#5ece9a 78.5px,#38b8da 79.5px,#3f8de2 80.5px,#4162c2 81.5px,#352a67 83.5px,#2f1d45 85.5px,#2f1d45 97.5px,#322355 98.5px,#39337d 99.5px,#405fbf 100.5px,#3ba2e5 101.5px,#58cda0 102.5px,#b0ca4b 103.5px,#edac3f 104.5px,#ec722a 105.5px,#d44722 106.5px,#b52722 108.5px,#a21e21 112.5px,#c73620 117.5px,#eb6f29 119.5px,#f49637 120.5px,#e8b440 121.5px,#c7c542 122.5px,#9fce59 123.5px,#5bcd9d 124.5px,#37afe1 125.5px,#416ccc 126.5px,#3b3a89 127.5px,#332459 128.5px,#2e1b40 130.5px,#2e1a3e 136px)"></i><i style="background:linear-gradient(90deg,#2e1a3e 0,#2f1c43 47.5px,#352a66 49.5px,#3c4295 50.5px,#416dcd 51.5px,#3aa5e4 52.5px,#47c8b6 53.5px,#86d072 54.5px,#b5c948 55.5px,#dfbb40 56.5px,#f39a39 57.5px,#d34521 59.5px,#ab2221 61.5px,#84141c 66.5px,#981a20 71.5px,#c03021 74.5px,#dd5323 75.5px,#f39c39 76.5px,#b5c948 77.5px,#66cf92 78.5px,#39bcd5 79.5px,#3f93e5 80.5px,#4166c6 81.5px,#362b69 83.5px,#2f1d45 85.5px,#2f1b41 96.5px,#352963 98.5px,#3c4397 99.5px,#4277d7 100.5px,#38b8d9 101.5px,#74d084 102.5px,#bdc844 103.5px,#f0a33c 104.5px,#ea6d29 105.5px,#d34421 106.5px,#b42622 108.5px,#a21e21 112.5px,#c63521 117.5px,#e96c29 119.5px,#f39336 120.5px,#eab140 121.5px,#a6cc52 123.5px,#68cf90 124.5px,#38b8d9 125.5px,#4278d8 126.5px,#3c4296 127.5px,#342860 128.5px,#301e48 129.5px,#2e1a3e 136px)"></i><i style="background:linear-gradient(90deg,#2e1a3e 0,#2e1b41 46.5px,#332458 48.5px,#39327c 49.5px,#4088e0 51.5px,#39bbd6 52.5px,#61ce97 53.5px,#9bce5d 54.5px,#c1c743 55.5px,#e6b540 56.5px,#f39436 57.5px,#d14221 59.5px,#ab2221 61.5px,#85141c 66.5px,#981a20 71.5px,#c03021 74.5px,#da4f23 75.5px,#f49537 76.5px,#bfc744 77.5px,#78d080 78.5px,#3ec5c5 79.5px,#3ba4e5 80.5px,#4276d6 81.5px,#393178 83.5px,#301f4a 85.5px,#2e1a3e 94.5px,#2f1d45 96.5px,#322354 97.5px,#39327a 98.5px,#405aba 99.5px,#3e95e7 100.5px,#43c7bc 101.5px,#93d065 102.5px,#d0c241 103.5px,#f39b39 104.5px,#d14221 106.5px,#aa2221 109.5px,#a41f21 113.5px,#c53421 117.5px,#e86928 119.5px,#f38f35 120.5px,#ecaf40 121.5px,#accb4d 123.5px,#76d082 124.5px,#3bc1cd 125.5px,#4088e0 126.5px,#3e4faa 127.5px,#372d6d 128.5px,#31204e 129.5px,#2e1a3e 133.5px,#2e1a3e 136px)"></i><i style="background:linear-gradient(90deg,#2e1a3e 0,#2f1c43 46.5px,#362a67 48.5px,#3c4296 49.5px,#416dcd 50.5px,#3ba4e5 51.5px,#45c7ba 52.5px,#7dd07b 53.5px,#abcb4e 54.5px,#ebb140 56.5px,#f38e34 57.5px,#cf3f21 59.5px,#9e1d20 62.5px,#84141c 67.5px,#a21e21 72.5px,#bf2f21 74.5px,#d74b22 75.5px,#f28932 76.5px,#d4c141 77.5px,#97cf61 78.5px,#58cda0 79.5px,#39bdd2 80.5px,#3e97e7 81.5px,#4169c9 82.5px,#372e72 84.5px,#31204d 86.5px,#2e1a3f 93.5px,#31204c 96.5px,#352a66 97.5px,#3d4499 98.5px,#4275d5 99.5px,#36b5df 100.5px,#61ce97 101.5px,#a9cc4f 102.5px,#debb40 103.5px,#f39336 104.5px,#d04021 106.5px,#a92121 109.5px,#a31f21 113.5px,#c43321 117.5px,#e66627 119.5px,#f28c33 120.5px,#edac3f 121.5px,#b3ca4a 123.5px,#87d071 124.5px,#46c8b9 125.5px,#3d9de7 126.5px,#4162c2 127.5px,#3a3784 128.5px,#33255b 129.5px,#2f1b42 131.5px,#2e1a3e 136px)"></i><i style="background:linear-gradient(90deg,#2e1a3e 0,#2f1b41 45.5px,#332559 47.5px,#3a347e 48.5px,#4058b7 49.5px,#4089e0 50.5px,#38bbd6 51.5px,#5dce9b 52.5px,#95cf63 53.5px,#b6c948 54.5px,#eeab3e 56.5px,#f28932 57.5px,#ce3c20 59.5px,#9e1d20 62.5px,#84141c 67.5px,#a11e21 72.5px,#bd2e21 74.5px,#d44622 75.5px,#f07a2c 76.5px,#e9b240 77.5px,#b7c947 78.5px,#8dd06b 79.5px,#58cda0 80.5px,#39bdd2 81.5px,#3e96e7 82.5px,#3e4aa3 84.5px,#352a67 86.5px,#2f1d45 89.5px,#301f4c 95.5px,#34265c 96.5px,#3a3683 97.5px,#405ebe 98.5px,#3e97e8 99.5px,#41c6c0 100.5px,#85d073 101.5px,#b9c946 102.5px,#e8b340 103.5px,#f28b33 104.5px,#ce3e20 106.5px,#a82121 109.5px,#a31f21 113.5px,#c33321 117.5px,#e56326 119.5px,#f28932 120.5px,#eea93e 121.5px,#b9c946 123.5px,#97cf61 124.5px,#5acd9e 125.5px,#37b6dd 126.5px,#417ddb 127.5px,#3e4ea8 128.5px,#383075 129.5px,#301f4a 131.5px,#2e1a3f 136px)"></i><i style="background:linear-gradient(90deg,#2e1a3e 0,#2f1c43 45.5px,#362b69 47.5px,#3d4499 48.5px,#4170d0 49.5px,#3aa5e4 50.5px,#45c7ba 51.5px,#7ad07e 52.5px,#a5cc53 53.5px,#ddbc40 55.5px,#f18530 57.5px,#cc3a20 59.5px,#95191f 63.5px,#86151c 68.5px,#ad2322 73.5px,#d14121 75.5px,#f29d3a 77.5px,#dabf40 78.5px,#b3ca49 79.5px,#92d066 80.5px,#3bc2cb 82.5px,#3ba2e5 83.5px,#417cda 84.5px,#3a337d 87.5px,#322356 89.5px,#312150 93.5px,#352963 95.5px,#3a337e 96.5px,#3f51ad 97.5px,#417fdc 98.5px,#37b7db 99.5px,#5fce99 100.5px,#9fcd59 101.5px,#cbc442 102.5px,#edac3f 103.5px,#f28631 104.5px,#cd3c20 106.5px,#a82121 109.5px,#a31f21 113.5px,#c23221 117.5px,#e46026 119.5px,#f28631 120.5px,#ddbc40 122.5px,#a6cc52 124.5px,#79d07f 125.5px,#42c7be 126.5px,#3ba2e5 127.5px,#4170d0 128.5px,#39327a 130.5px,#312151 132.5px,#2f1c42 136px)"></i><i style="background:linear-gradient(90deg,#2e1a3e 0,#2e1b41 44.5px,#332559 46.5px,#3a3480 47.5px,#4059b9 48.5px,#408be1 49.5px,#39bcd4 50.5px,#5dce9b 51.5px,#93d065 52.5px,#b1ca4b 53.5px,#e1b940 55.5px,#f1802e 57.5px,#ca3920 59.5px,#95191f 63.5px,#86151c 68.5px,#ad2322 73.5px,#ce3d20 75.5px,#f28c33 77.5px,#ecb040 78.5px,#b3ca4a 80.5px,#96cf62 81.5px,#46c8b8 83.5px,#37b7dc 84.5px,#3e98e8 85.5px,#405cbc 87.5px,#3a3480 89.5px,#362c6b 91.5px,#3a3682 94.5px,#4057b6 96.5px,#4278d8 97.5px,#39a8e3 98.5px,#47c9b6 99.5px,#84d074 100.5px,#b2ca4a 101.5px,#d9bf40 102.5px,#efa63d 103.5px,#f1812f 104.5px,#cc3a20 106.5px,#a21e21 110.5px,#af2422 115.5px,#d04021 118.5px,#f18330 120.5px,#e0ba40 122.5px,#b1ca4b 124.5px,#95cf63 125.5px,#3bc2cb 127.5px,#3c9ee6 128.5px,#3f55b3 130.5px,#382f72 132.5px,#31214f 136px)"></i><i style="background:linear-gradient(90deg,#2e1a3e 0,#2f1c42 44.5px,#352a67 46.5px,#3c4397 47.5px,#416fcf 48.5px,#3aa6e4 49.5px,#45c8b9 50.5px,#79d07f 51.5px,#a2cd56 52.5px,#d0c241 54.5px,#f29f3a 56.5px,#f07c2d 57.5px,#c93720 59.5px,#95191f 63.5px,#86151c 68.5px,#ad2321 73.5px,#cc3a20 75.5px,#f1802e 77.5px,#e1b940 79.5px,#b2ca4a 81.5px,#7fd079 83.5px,#3fc5c3 85.5px,#36b3e0 86.5px,#3f94e6 87.5px,#4060c0 89.5px,#3e4faa 91.5px,#4274d4 95.5px,#38ace2 97.5px,#40c6c1 98.5px,#a0cd58 100.5px,#c0c743 101.5px,#f1a13b 103.5px,#f07d2d 104.5px,#ca3820 106.5px,#a11e21 110.5px,#ae2422 115.5px,#cf3f21 118.5px,#f1812f 120.5px,#e2b840 122.5px,#a7cc51 125.5px,#5ece9a 127.5px,#3cc4c9 128.5px,#39a9e3 129.5px,#4087e0 130.5px,#3c3f91 133.5px,#382f73 136px)"></i><i style="background:linear-gradient(90deg,#2e1a3e 0,#2f1d45 44.5px,#322354 45.5px,#383077 46.5px,#4086df 48.5px,#38bad7 49.5px,#5bcd9d 50.5px,#90d068 51.5px,#adcb4d 52.5px,#e7b440 55.5px,#ef772b 57.5px,#c73620 59.5px,#95191f 63.5px,#86151c 68.5px,#ac2321 73.5px,#c93820 75.5px,#ef772b 77.5px,#e9b240 79.5px,#a6cc52 83.5px,#75d083 85.5px,#3cc4c8 87.5px,#36b3e0 88.5px,#3f8ee3 90.5px,#3e99e8 93.5px,#36b4e0 95.5px,#4acab1 97.5px,#97cf61 99.5px,#cfc341 101.5px,#f39c39 103.5px,#db5123 105.5px,#b82a22 107.5px,#9e1d20 111.5px,#b62822 116.5px,#ce3d20 118.5px,#f17e2e 120.5px,#e3b740 122.5px,#a0cd58 126.5px,#47c8b7 129.5px,#38bbd6 130.5px,#3ba2e5 131.5px,#405fbf 134.5px,#4056b5 136px)"></i><i style="background:linear-gradient(90deg,#2e1a3e 0,#2e1b40 43.5px,#33255b 45.5px,#3b3886 46.5px,#4162c2 47.5px,#3e9ae8 48.5px,#3ec5c5 49.5px,#71d087 50.5px,#9ece5a 51.5px,#c6c543 53.5px,#eab240 55.5px,#f49838 56.5px,#d94d23 58.5px,#b72822 60.5px,#89161d 65.5px,#90181e 70.5px,#c73520 75.5px,#ea6d29 77.5px,#edac3f 79.5px,#b8c946 83.5px,#8ed06a 86.5px,#45c8ba 89.5px,#3bc2ca 91.5px,#5bcd9d 95.5px,#b0ca4b 99.5px,#ecb040 102.5px,#f49637 103.5px,#d84c22 105.5px,#b72922 107.5px,#9e1c20 111.5px,#b62822 116.5px,#cd3c20 118.5px,#f07c2d 120.5px,#e3b740 122.5px,#b5c948 125.5px,#8fd069 128.5px,#43c7bc 131.5px,#39abe3 133.5px,#3f91e4 136px)"></i><i style="background:linear-gradient(90deg,#2e1a3e 0,#2f1b41 43.5px,#342861 45.5px,#3c3f91 46.5px,#416dcd 47.5px,#3aa8e4 48.5px,#49c9b3 49.5px,#81d077 50.5px,#a6cc52 51.5px,#ecaf40 55.5px,#f39436 56.5px,#d74a22 58.5px,#b62822 60.5px,#85151c 66.5px,#981a20 71.5px,#c43321 75.5px,#e56327 77.5px,#f0a43c 79.5px,#cdc342 82.5px,#a1cd57 87.5px,#79d07f 90.5px,#85d073 93.5px,#c0c743 99.5px,#eeaa3e 102.5px,#e86928 104.5px,#c33321 106.5px,#9f1d21 110.5px,#ad2322 115.5px,#cc3b20 118.5px,#f07a2c 120.5px,#f29f3a 121.5px,#cfc241 123.5px,#97cf61 129.5px,#40c6c1 134.5px,#3bc3ca 136px)"></i><i style="background:linear-gradient(90deg,#2e1a3e 0,#2f1b42 43.5px,#301f4c 44.5px,#352a66 45.5px,#3d459b 46.5px,#4276d6 47.5px,#37b2e1 48.5px,#51cca7 49.5px,#8cd06c 50.5px,#abcb4e 51.5px,#edac3f 55.5px,#f38f35 56.5px,#d54822 58.5px,#aa2221 61.5px,#86151c 66.5px,#981a20 71.5px,#c23221 75.5px,#e15a24 77.5px,#f39b39 79.5px,#debb40 81.5px,#a7cc51 91.5px,#cdc342 99.5px,#f0a33c 102.5px,#e46126 104.5px,#c13121 106.5px,#9d1c20 111.5px,#bf2f21 117.5px,#dc5223 119.5px,#f29e3a 121.5px,#cec341 123.5px,#b0ca4b 126.5px,#93cf65 131.5px,#69cf8f 136px)"></i><i style="background:linear-gradient(90deg,#2e1a3e 0,#2f1c42 43.5px,#31204d 44.5px,#362c6b 45.5px,#3e4aa2 46.5px,#417dda 47.5px,#37b7dc 48.5px,#59cd9f 49.5px,#92d066 50.5px,#aecb4c 51.5px,#e0ba40 54.5px,#f28b33 56.5px,#d34521 58.5px,#aa2221 61.5px,#86151c 66.5px,#981a20 71.5px,#cd3c20 76.5px,#f39035 79.5px,#e4b640 81.5px,#bdc844 89.5px,#cec341 98.5px,#ebb140 101.5px,#f07d2d 103.5px,#ce3d20 105.5px,#aa2221 108.5px,#a11e21 113.5px,#cb3920 118.5px,#ee762b 120.5px,#f29d3a 121.5px,#ccc342 123.5px,#aecb4d 126.5px,#8fd069 136px)"></i><i style="background:linear-gradient(90deg,#2e1a3e 0,#2f1c43 43.5px,#31214f 44.5px,#372d6e 45.5px,#3e4ea8 46.5px,#4182dd 47.5px,#38bad7 48.5px,#5fce99 49.5px,#95cf63 50.5px,#c1c743 52.5px,#efa63d 55.5px,#e46126 57.5px,#c23221 59.5px,#89161d 65.5px,#90181e 70.5px,#cb3920 76.5px,#f18430 79.5px,#ebb140 81.5px,#cfc341 86.5px,#d1c241 97.5px,#eeab3e 101.5px,#ed742b 103.5px,#cb3920 105.5px,#a31f21 109.5px,#a62021 114.5px,#cb3920 118.5px,#ee752b 120.5px,#f29d3a 121.5px,#cac442 123.5px,#aacc4f 126.5px,#9bce5d 136px)"></i><i style="background:linear-gradient(90deg,#2e1a3e 0,#2f1c43 43.5px,#312151 44.5px,#382f72 45.5px,#3f52ae 46.5px,#4087df 47.5px,#39bdd3 48.5px,#64cf94 49.5px,#98cf60 50.5px,#c3c643 52.5px,#e4b740 54.5px,#f1822f 56.5px,#d14121 58.5px,#a01e21 62.5px,#85151c 67.5px,#ad2321 73.5px,#d44522 77.5px,#f39336 80.5px,#dfbb40 83.5px,#cfc341 94.5px,#e7b440 100.5px,#f28c33 102.5px,#c83720 105.5px,#9f1d21 110.5px,#ae2422 115.5px,#cb3920 118.5px,#ed742b 120.5px,#f29d3a 121.5px,#c7c542 123.5px,#a6cc52 126.5px,#9cce5c 136px)"></i><i style="background:linear-gradient(90deg,#2e1a3e 0,#2f1c44 43.5px,#322253 44.5px,#383178 45.5px,#4057b6 46.5px,#3f8de2 47.5px,#3ac0ce 48.5px,#6acf8e 49.5px,#9bce5d 50.5px,#c4c643 52.5px,#e6b540 54.5px,#f17e2e 56.5px,#cf3f21 58.5px,#a11e21 62.5px,#86151c 67.5px,#ae2322 73.5px,#d14121 77.5px,#f39c39 81.5px,#debb40 84.5px,#ccc442 94.5px,#ebb140 100.5px,#f18530 102.5px,#d54722 104.5px,#b22522 107.5px,#9f1d21 112.5px,#cb3920 118.5px,#ed752b 120.5px,#f29d3a 121.5px,#c4c643 123.5px,#a2cd56 126.5px,#99cf5f 136px)"></i><i style="background:linear-gradient(90deg,#2e1a3e 0,#2f1d46 43.5px,#332457 44.5px,#3a3480 45.5px,#405ebe 46.5px,#3e96e7 47.5px,#3dc4c7 48.5px,#71d087 49.5px,#9fce59 50.5px,#c7c542 52.5px,#e8b340 54.5px,#f07a2c 56.5px,#ce3d20 58.5px,#981a20 63.5px,#88161d 68.5px,#ce3e20 77.5px,#ee752b 80.5px,#ecb040 83.5px,#bbc844 91.5px,#d0c241 97.5px,#edae3f 100.5px,#f17e2e 102.5px,#d34421 104.5px,#ab2221 108.5px,#a41f21 113.5px,#cc3a20 118.5px,#ee762b 120.5px,#f29f3a 121.5px,#debb40 122.5px,#b0ca4b 124.5px,#96cf62 129.5px,#95cf63 136px)"></i><i style="background:linear-gradient(90deg,#2e1a3e 0,#2f1b41 42.5px,#34275f 44.5px,#3b3c8d 45.5px,#4169c9 46.5px,#3ba2e5 47.5px,#45c7ba 48.5px,#7cd07c 49.5px,#a4cd54 50.5px,#dabe40 53.5px,#f49938 55.5px,#cd3c20 58.5px,#991a20 63.5px,#8a161d 68.5px,#cd3b20 77.5px,#e76627 80.5px,#eea93e 83.5px,#c1c743 87.5px,#a1cd57 92.5px,#c2c643 97.5px,#edae3f 100.5px,#f07a2c 102.5px,#d14221 104.5px,#ad2321 108.5px,#a62021 113.5px,#cd3c20 118.5px,#f07a2c 120.5px,#f1a23b 121.5px,#dbbd40 122.5px,#accb4d 124.5px,#92d066 129.5px,#91d067 136px)"></i><i style="background:linear-gradient(90deg,#2e1a3e 0,#2f1c43 42.5px,#31214f 43.5px,#362c6d 44.5px,#3e49a1 45.5px,#4279d8 46.5px,#37b2e1 47.5px,#4fcca9 48.5px,#88d070 49.5px,#aacc4f 50.5px,#ecaf40 54.5px,#ec722a 56.5px,#cd3b20 58.5px,#92181f 64.5px,#90181e 69.5px,#d84b22 79.5px,#f28b33 82.5px,#e6b540 84.5px,#aecb4c 87.5px,#69cf8f 91.5px,#69cf8f 93.5px,#bec744 98.5px,#eab140 100.5px,#ef782b 102.5px,#d14121 104.5px,#a92121 109.5px,#ae2422 114.5px,#cf3f21 118.5px,#f17f2e 120.5px,#efa73d 121.5px,#d7c040 122.5px,#a9cc4f 124.5px,#8ed06a 129.5px,#8cd06c 136px)"></i><i style="background:linear-gradient(90deg,#2e1a3e 0,#2f1b41 41.5px,#33255a 43.5px,#3a3581 44.5px,#405bbb 45.5px,#3f8fe3 46.5px,#3abfd0 47.5px,#95cf63 49.5px,#bec744 51.5px,#edac3f 54.5px,#ea6e29 56.5px,#cc3a20 58.5px,#8d171e 65.5px,#9a1b20 70.5px,#d03f21 78.5px,#e76627 81.5px,#f29f3a 83.5px,#c6c543 85.5px,#95cf63 87.5px,#3cc3ca 90.5px,#38afe2 92.5px,#3bc2cb 94.5px,#74d084 96.5px,#accb4e 98.5px,#e4b640 100.5px,#f39b39 101.5px,#df5724 103.5px,#c63520 105.5px,#a72121 111.5px,#c63520 117.5px,#e35e25 119.5px,#f28631 120.5px,#edad3f 121.5px,#b5c948 123.5px,#8fd069 127.5px,#88d070 136px)"></i><i style="background:linear-gradient(90deg,#2e1a3e 0,#2f1c43 41.5px,#362b69 43.5px,#3d4499 44.5px,#4271d1 45.5px,#3aa7e4 46.5px,#46c8b8 47.5px,#7ad07e 48.5px,#a1cd57 49.5px,#d1c241 52.5px,#eea93e 54.5px,#e96a28 56.5px,#cc3a20 58.5px,#8f171e 65.5px,#9d1c20 70.5px,#cc3b20 77.5px,#d94d23 80.5px,#f07b2c 82.5px,#f29d3a 83.5px,#e0ba40 84.5px,#bac845 85.5px,#76d082 87.5px,#4dcbad 88.5px,#38b8da 89.5px,#3f8ee3 90.5px,#416ccc 91.5px,#4161c1 92.5px,#416bcb 93.5px,#408be2 94.5px,#37b6dc 95.5px,#4bcab0 96.5px,#99ce5f 98.5px,#b7c947 99.5px,#ddbc40 100.5px,#f29f3a 101.5px,#df5724 103.5px,#c03021 106.5px,#ad2321 112.5px,#c93820 117.5px,#e66527 119.5px,#f38e34 120.5px,#e9b240 121.5px,#b1ca4a 123.5px,#8cd06c 127.5px,#85d073 136px)"></i><i style="background:linear-gradient(90deg,#2e1a3e 0,#2f1b41 40.5px,#33255a 42.5px,#3a3480 43.5px,#4059b9 44.5px,#408be1 45.5px,#39bbd5 46.5px,#5ccd9c 47.5px,#8fd069 48.5px,#aacc4f 49.5px,#e2b840 53.5px,#f28932 55.5px,#d84b22 57.5px,#b12522 61.5px,#8f171e 66.5px,#a92121 71.5px,#cf3e21 78.5px,#e05824 81.5px,#f39a39 83.5px,#dfbb40 84.5px,#b5c948 85.5px,#64cf94 87.5px,#3ec5c5 88.5px,#3c9fe6 89.5px,#4167c7 90.5px,#3c4093 91.5px,#3a347f 92.5px,#3c3f91 93.5px,#4164c4 94.5px,#3d9be7 95.5px,#3cc4c9 96.5px,#8ed06a 98.5px,#b1ca4b 99.5px,#d9bf40 100.5px,#f1a03b 101.5px,#df5724 103.5px,#c23221 106.5px,#b12522 112.5px,#cc3b20 117.5px,#ea6d29 119.5px,#f49738 120.5px,#e4b740 121.5px,#aecb4d 123.5px,#89d06f 127.5px,#82d076 136px)"></i><i style="background:linear-gradient(90deg,#2e1a3e 0,#2f1d45 40.5px,#372d6d 42.5px,#3d479d 43.5px,#4272d2 44.5px,#3aa6e4 45.5px,#45c7ba 46.5px,#76d082 47.5px,#9dce5b 48.5px,#c8c442 51.5px,#e4b640 53.5px,#f28531 55.5px,#d74a22 57.5px,#b32622 61.5px,#93181f 66.5px,#b52722 72.5px,#d54722 80.5px,#ea6c29 82.5px,#f39336 83.5px,#e4b740 84.5px,#b9c946 85.5px,#69cf8f 87.5px,#41c6bf 88.5px,#3aa6e4 89.5px,#4270d0 90.5px,#3e4aa3 91.5px,#3c3d8e 92.5px,#3d49a0 93.5px,#416dcd 94.5px,#3ba2e5 95.5px,#3fc5c3 96.5px,#91d067 98.5px,#b3ca49 99.5px,#dbbd40 100.5px,#f29f3a 101.5px,#df5724 103.5px,#c43421 106.5px,#b62722 112.5px,#cf3f21 117.5px,#ee762b 119.5px,#f29e3a 120.5px,#debb40 121.5px,#aacc4f 123.5px,#87d071 127.5px,#80d078 136px)"></i><i style="background:linear-gradient(90deg,#2e1a3e 0,#2f1c43 39.5px,#342862 41.5px,#3b3a89 42.5px,#405fbf 43.5px,#3f8fe4 44.5px,#39bdd3 45.5px,#8ed06a 47.5px,#a9cc50 48.5px,#e6b540 53.5px,#f1822f 55.5px,#d64922 57.5px,#ad2322 62.5px,#981a20 67.5px,#ce3d20 77.5px,#da4f23 81.5px,#f28731 83.5px,#edae3f 84.5px,#a6cc52 86.5px,#3bc2cb 89.5px,#3ba4e5 90.5px,#4084de 91.5px,#4279d8 92.5px,#4183dd 93.5px,#3ba1e5 94.5px,#3bc0ce 95.5px,#7fd079 97.5px,#bec844 99.5px,#e2b840 100.5px,#f39a39 101.5px,#df5624 103.5px,#c73620 106.5px,#bc2d21 113.5px,#d34421 117.5px,#f17f2e 119.5px,#efa63d 120.5px,#d8c040 121.5px,#a7cc51 123.5px,#83d075 128.5px,#7fd079 136px)"></i><i style="background:linear-gradient(90deg,#2e1a3e 0,#2f1c42 38.5px,#33265b 40.5px,#39337d 41.5px,#417ddb 43.5px,#37afe1 44.5px,#49c9b3 45.5px,#7ad07e 46.5px,#9ece5a 47.5px,#c3c643 50.5px,#e8b340 53.5px,#f17e2e 55.5px,#d64922 57.5px,#aa2221 63.5px,#a01e21 68.5px,#ce3d20 77.5px,#d84c22 81.5px,#f07b2c 83.5px,#f29f3a 84.5px,#bbc844 86.5px,#8ad06e 88.5px,#4dcbae 90.5px,#3bc1cc 92.5px,#3dc5c6 93.5px,#67cf91 95.5px,#b5c948 98.5px,#ecb040 100.5px,#ec712a 102.5px,#d44622 104.5px,#bd2e21 111.5px,#cd3b20 116.5px,#e46226 118.5px,#f28731 119.5px,#edad3f 120.5px,#b5c948 122.5px,#88d070 126.5px,#7ed07a 136px)"></i><i style="background:linear-gradient(90deg,#2e1a3e 0,#2f1b42 37.5px,#332457 39.5px,#3e4aa2 41.5px,#4271d1 42.5px,#3ba1e5 43.5px,#3dc4c6 44.5px,#93d065 46.5px,#b6c948 48.5px,#eab240 53.5px,#f07b2c 55.5px,#d54822 57.5px,#a52021 65.5px,#b22522 70.5px,#cf3f21 78.5px,#df5724 82.5px,#f39135 84.5px,#d7c040 86.5px,#a0cd58 89.5px,#82d076 92.5px,#b9c946 97.5px,#efa63d 100.5px,#ea6e29 102.5px,#d44622 104.5px,#c13121 111.5px,#cf3f21 116.5px,#e86928 118.5px,#f39035 119.5px,#e9b240 120.5px,#b1ca4a 122.5px,#87d071 126.5px,#7ed07a 136px)"></i><i style="background:linear-gradient(90deg,#2e1a3e 0,#301d47 37.5px,#372d6e 39.5px,#4169c9 41.5px,#3e97e7 42.5px,#3abed1 43.5px,#87d071 45.5px,#a3cd55 46.5px,#cfc241 51.5px,#ecb040 53.5px,#ef782c 55.5px,#d54822 57.5px,#aa2221 66.5px,#d03f21 78.5px,#dd5423 82.5px,#f1a23b 85.5px,#c9c442 88.5px,#b1ca4b 92.5px,#c5c543 96.5px,#eab140 99.5px,#f28731 101.5px,#d54722 104.5px,#c63521 112.5px,#d24321 116.5px,#ec712a 118.5px,#f49838 119.5px,#c5c543 121.5px,#94cf64 124.5px,#7ed07a 130.5px,#7dd07b 136px)"></i><i style="background:linear-gradient(90deg,#2e1a3e 0,#2f1d45 36.5px,#362b69 38.5px,#4162c2 40.5px,#3f8ee3 41.5px,#38b9d9 42.5px,#4fcca9 43.5px,#9dce5b 45.5px,#bcc844 48.5px,#ddbc40 52.5px,#f49537 54.5px,#e05924 56.5px,#cb3920 59.5px,#b12522 67.5px,#d04121 79.5px,#de5424 82.5px,#f39c39 85.5px,#dbbd40 88.5px,#ccc342 93.5px,#edac3f 99.5px,#e96b29 102.5px,#d04021 105.5px,#cc3a20 114.5px,#e05824 117.5px,#f29e3a 119.5px,#c0c743 121.5px,#93cf65 124.5px,#7ed07a 131.5px,#7dd07b 136px)"></i><i style="background:linear-gradient(90deg,#2e1a3e 0,#2f1c44 35.5px,#352963 37.5px,#3b3a89 38.5px,#4086df 40.5px,#36b4df 41.5px,#4ac9b2 42.5px,#98cf60 44.5px,#b5c948 46.5px,#d1c241 51.5px,#edad3f 53.5px,#ed742b 55.5px,#d64822 57.5px,#b82922 67.5px,#d74b22 81.5px,#f39c39 85.5px,#e2b840 88.5px,#dfba40 96.5px,#f39c39 100.5px,#d64922 104.5px,#cb3920 112.5px,#d74a22 116.5px,#f17f2e 118.5px,#f0a33c 119.5px,#bbc844 121.5px,#8bd06d 125.5px,#7dd07b 136px)"></i><i style="background:linear-gradient(90deg,#2e1a3e 0,#2f1c43 34.5px,#34275e 36.5px,#3a3582 37.5px,#417edb 39.5px,#38ade2 40.5px,#44c7bb 41.5px,#94cf64 43.5px,#b3ca49 45.5px,#d1c241 51.5px,#edac3f 53.5px,#ed732a 55.5px,#d64922 57.5px,#be2e21 67.5px,#d94e23 81.5px,#f1a03b 85.5px,#e1b940 89.5px,#e9b340 98.5px,#f28932 101.5px,#d84c22 104.5px,#cd3c20 112.5px,#d94d23 116.5px,#f28531 118.5px,#eea93e 119.5px,#b8c946 121.5px,#8ad06e 125.5px,#7dd07b 136px)"></i><i style="background:linear-gradient(90deg,#2e1a3e 0,#2f1b42 33.5px,#332559 35.5px,#393179 36.5px,#4276d6 38.5px,#3aa5e4 39.5px,#3fc5c4 40.5px,#90d068 42.5px,#b2ca4a 44.5px,#d1c241 51.5px,#edac3f 53.5px,#ed742b 55.5px,#d64922 57.5px,#c43321 68.5px,#d64922 80.5px,#f07e2d 83.5px,#ecaf40 86.5px,#e2b840 96.5px,#f1a13b 100.5px,#e56226 103.5px,#d24421 106.5px,#d44622 115.5px,#e86928 117.5px,#f28c33 118.5px,#ecaf40 119.5px,#b5c948 121.5px,#89d06f 125.5px,#7dd07b 136px)"></i><i style="background:linear-gradient(90deg,#2e1a3e 0,#2f1d46 33.5px,#372d6f 35.5px,#416dcd 37.5px,#3d9ce7 38.5px,#3bc1cc 39.5px,#8ad06e 41.5px,#b0ca4b 43.5px,#d1c241 51.5px,#edad3f 53.5px,#ee752b 55.5px,#d74a22 57.5px,#c83620 68.5px,#d84c22 80.5px,#f39c39 84.5px,#e2b840 88.5px,#e6b540 98.5px,#f49838 101.5px,#db5123 105.5px,#d04021 112.5px,#df5724 116.5px,#f49537 118.5px,#e8b440 119.5px,#a3cd55 122.5px,#81d077 127.5px,#7dd07b 136px)"></i><i style="background:linear-gradient(90deg,#2e1a3e 0,#2f1c44 32.5px,#352a65 34.5px,#3c3e8f 35.5px,#4163c3 36.5px,#3f91e5 37.5px,#39bcd5 38.5px,#55cda3 39.5px,#82d076 40.5px,#9fcd59 41.5px,#bac845 44.5px,#d0c241 51.5px,#ecaf40 53.5px,#ef782b 55.5px,#d84b22 57.5px,#ca3920 67.5px,#d54822 79.5px,#f07b2d 82.5px,#ecaf40 85.5px,#dcbd40 94.5px,#edac3f 100.5px,#eb6f29 104.5px,#d64922 108.5px,#d64922 114.5px,#e46026 116.5px,#f29e3a 118.5px,#c4c643 120.5px,#96cf62 123.5px,#7ed07a 130.5px,#7dd07b 136px)"></i><i style="background:linear-gradient(90deg,#2e1a3e 0,#2f1c42 31.5px,#33265c 33.5px,#3a3581 34.5px,#4183de 36.5px,#36b4e0 37.5px,#4bcab0 38.5px,#9bce5d 40.5px,#b9c946 43.5px,#c7c542 50.5px,#ebb040 53.5px,#f07a2c 55.5px,#d84d22 57.5px,#cd3c20 65.5px,#d44522 78.5px,#eb6f2a 81.5px,#edac3f 84.5px,#d1c241 90.5px,#e2b840 99.5px,#f39336 103.5px,#de5524 108.5px,#de5524 114.5px,#eb702a 116.5px,#eea93e 118.5px,#bcc844 120.5px,#8dd06b 124.5px,#7dd07b 136px)"></i><i style="background:linear-gradient(90deg,#2e1a3e 0,#2f1d46 31.5px,#322354 32.5px,#382f72 33.5px,#4274d4 35.5px,#3aa6e4 36.5px,#41c6c0 37.5px,#95cf63 39.5px,#b3ca49 41.5px,#cec341 51.5px,#eab240 53.5px,#f07d2d 55.5px,#d94e23 57.5px,#cf3e21 63.5px,#d64a22 78.5px,#f07e2d 81.5px,#e5b540 84.5px,#b9c946 90.5px,#c1c643 96.5px,#edad3f 102.5px,#e96c29 108.5px,#e66627 113.5px,#f28731 116.5px,#e6b540 118.5px,#a8cc51 121.5px,#81d077 127.5px,#7dd07b 136px)"></i><i style="background:linear-gradient(90deg,#2e1a3e 0,#2f1c44 30.5px,#352a66 32.5px,#3c3f90 33.5px,#4165c5 34.5px,#3e96e7 35.5px,#3abfd0 36.5px,#8bd06d 38.5px,#a5cd53 39.5px,#bbc844 43.5px,#c6c543 50.5px,#e8b340 53.5px,#f1802e 55.5px,#da4f23 57.5px,#d03f21 62.5px,#d54822 77.5px,#ee752b 80.5px,#e5b540 83.5px,#afcb4c 87.5px,#94cf64 92.5px,#c1c643 99.5px,#eea93e 104.5px,#f1802f 110.5px,#f39436 115.5px,#eab240 117.5px,#a3cd55 121.5px,#81d077 127.5px,#7dd07b 136px)"></i><i style="background:linear-gradient(90deg,#2e1a3e 0,#2f1b42 29.5px,#33265c 31.5px,#3a3480 32.5px,#4184de 34.5px,#36b5de 35.5px,#4dcbad 36.5px,#7dd07b 37.5px,#9dce5b 38.5px,#bac845 41.5px,#c5c543 50.5px,#e7b440 53.5px,#f1832f 55.5px,#db5023 57.5px,#d04021 62.5px,#d54722 76.5px,#eb6f29 79.5px,#f29e3a 81.5px,#d5c140 83.5px,#9dce5b 86.5px,#4fcbaa 91.5px,#57cda1 94.5px,#b8c946 100.5px,#e1b940 103.5px,#f29d3a 111.5px,#e5b640 116.5px,#9fcd59 121.5px,#7fd079 128.5px,#7dd07b 136px)"></i><i style="background:linear-gradient(90deg,#2e1a3e 0,#2f1d46 29.5px,#372e71 31.5px,#4272d2 33.5px,#3ba4e5 34.5px,#40c6c1 35.5px,#94cf64 37.5px,#b3ca49 39.5px,#cbc442 51.5px,#e5b640 53.5px,#f28631 55.5px,#dc5223 57.5px,#d04021 61.5px,#d44622 75.5px,#e86a28 78.5px,#f49738 80.5px,#dbbd40 82.5px,#a9cc4f 84.5px,#44c7bc 88.5px,#39aae3 90.5px,#3c9ee6 93.5px,#38b9d8 95.5px,#5acd9e 97.5px,#a5cc53 100.5px,#dabf40 103.5px,#e7b440 112.5px,#d1c241 116.5px,#8fd069 123.5px,#7dd07b 134.5px,#7dd07b 136px)"></i><i style="background:linear-gradient(90deg,#2e1a3e 0,#2f1c43 28.5px,#352964 30.5px,#3b3d8d 31.5px,#4162c2 32.5px,#3f92e5 33.5px,#39bdd3 34.5px,#86d072 36.5px,#a1cd57 37.5px,#bbc845 41.5px,#cac442 51.5px,#efa63d 54.5px,#e96b29 56.5px,#d54822 58.5px,#d24321 74.5px,#e56226 77.5px,#f0a33c 80.5px,#cfc341 82.5px,#98cf60 84.5px,#40c6c2 87.5px,#38aee2 88.5px,#4086df 89.5px,#4058b8 91.5px,#4058b8 93.5px,#4183de 95.5px,#38ace2 96.5px,#3fc5c4 97.5px,#95cf63 100.5px,#c1c643 102.5px,#dbbe40 104.5px,#d5c140 113.5px,#a0cd58 120.5px,#7fd079 128.5px,#7dd07b 136px)"></i><i style="background:linear-gradient(90deg,#2e1a3e 0,#2f1b41 27.5px,#33255a 29.5px,#39337d 30.5px,#417edb 32.5px,#37b0e1 33.5px,#48c9b5 34.5px,#97cf61 36.5px,#b2ca4a 38.5px,#c9c442 51.5px,#eea93e 54.5px,#eb702a 56.5px,#d64a22 58.5px,#d14121 73.5px,#df5624 76.5px,#f49838 79.5px,#e1b940 81.5px,#afcb4c 83.5px,#52cca6 86.5px,#3bc2cb 87.5px,#3ba2e5 88.5px,#4274d4 89.5px,#3c4194 91.5px,#3c4093 93.5px,#4271d1 95.5px,#3c9fe6 96.5px,#3bc1cd 97.5px,#90d068 100.5px,#bec744 102.5px,#d9bf40 104.5px,#cac442 113.5px,#92d066 122.5px,#7dd07b 132.5px,#7dd07b 136px)"></i><i style="background:linear-gradient(90deg,#2e1a3e 0,#2f1d45 27.5px,#362c6c 29.5px,#416ccc 31.5px,#3d9de7 32.5px,#3bc2cb 33.5px,#8ad06e 35.5px,#adcb4d 37.5px,#c8c542 51.5px,#edad3f 54.5px,#ef772b 56.5px,#d84c22 58.5px,#d04021 66.5px,#d74b22 75.5px,#f39a39 79.5px,#cfc341 82.5px,#9dce5b 84.5px,#47c8b6 87.5px,#38b8d9 88.5px,#3e98e8 89.5px,#416bcb 91.5px,#416aca 93.5px,#3e96e7 95.5px,#37b7db 96.5px,#60ce98 98.5px,#afcb4c 101.5px,#d9bf40 104.5px,#c4c643 113.5px,#80d078 127.5px,#7dd07b 136px)"></i><i style="background:linear-gradient(90deg,#2e1a3e 0,#2f1c43 26.5px,#342760 28.5px,#3b3886 29.5px,#405bbb 30.5px,#4088e0 31.5px,#37b6dd 32.5px,#4ccaaf 33.5px,#96cf62 35.5px,#b3ca49 38.5px,#c7c542 51.5px,#eab240 54.5px,#f1802e 56.5px,#db5123 58.5px,#d04021 63.5px,#d74a22 75.5px,#f49637 79.5px,#dabe40 82.5px,#9cce5c 85.5px,#40c6c1 89.5px,#36b4e0 92.5px,#3fc5c3 95.5px,#98cf60 99.5px,#ccc442 102.5px,#dbbe40 106.5px,#adcb4d 117.5px,#7fd079 128.5px,#7dd07b 136px)"></i><i style="background:linear-gradient(90deg,#2e1a3e 0,#301e47 26.5px,#382f75 28.5px,#4274d4 30.5px,#3ba3e5 31.5px,#3dc4c7 32.5px,#86d072 34.5px,#a8cc50 36.5px,#bdc844 47.5px,#ccc342 52.5px,#f0a33c 55.5px,#df5724 58.5px,#d04021 62.5px,#d54822 75.5px,#f28d33 79.5px,#dabf40 83.5px,#9cce5c 87.5px,#6bcf8d 91.5px,#72d086 94.5px,#bcc844 100.5px,#dbbe40 103.5px,#d0c241 111.5px,#95cf63 121.5px,#7dd07b 131.5px,#7dd07b 136px)"></i><i style="background:linear-gradient(90deg,#2e1a3e 0,#2f1c44 25.5px,#352a66 27.5px,#3c3e8f 28.5px,#4162c2 29.5px,#3f8ee3 30.5px,#38b9d9 31.5px,#4ccaae 32.5px,#8fd069 34.5px,#adcb4d 37.5px,#cac442 52.5px,#eeab3e 55.5px,#f07a2c 57.5px,#da4f23 59.5px,#d04021 65.5px,#d44622 75.5px,#ea6c29 78.5px,#efa73d 82.5px,#bbc844 87.5px,#a5cd53 93.5px,#d0c241 100.5px,#dfba40 106.5px,#c7c542 113.5px,#82d076 126.5px,#7dd07b 136px)"></i><i style="background:linear-gradient(90deg,#2e1a3e 0,#2f1c43 24.5px,#34265d 26.5px,#3a347f 27.5px,#427bd9 29.5px,#3aa8e4 30.5px,#3ec5c5 31.5px,#7ed07a 33.5px,#9ece5a 35.5px,#bbc845 44.5px,#c8c542 52.5px,#e9b240 55.5px,#f28631 57.5px,#d74a22 60.5px,#d04021 73.5px,#dc5223 77.5px,#f49637 82.5px,#d2c241 88.5px,#c3c643 94.5px,#e2b840 105.5px,#d2c241 112.5px,#88d070 124.5px,#7dd07b 136px)"></i><i style="background:linear-gradient(90deg,#2e1a3e 0,#2f1c43 23.5px,#332458 25.5px,#3d479d 27.5px,#416aca 28.5px,#3e96e7 29.5px,#38bad7 30.5px,#6bcf8d 32.5px,#94cf64 34.5px,#b4ca49 40.5px,#c6c543 52.5px,#e4b740 55.5px,#ef782b 58.5px,#da5023 60.5px,#d04021 66.5px,#d74b22 77.5px,#f49637 84.5px,#dbbe40 90.5px,#e0ba40 110.5px,#a7cc51 118.5px,#7fd079 128.5px,#7dd07b 136px)"></i><i style="background:linear-gradient(90deg,#2e1a3e 0,#2f1c43 22.5px,#322456 24.5px,#3c4093 26.5px,#4086df 28.5px,#38aee2 29.5px,#3fc5c3 30.5px,#75d083 32.5px,#9bce5d 35.5px,#bbc845 44.5px,#cbc442 53.5px,#ecb040 56.5px,#e96b28 59.5px,#d34521 62.5px,#d44622 77.5px,#f1802f 84.5px,#e8b340 89.5px,#e2b840 101.5px,#dfba40 111.5px,#a0cd58 119.5px,#7ed07a 129.5px,#7dd07b 136px)"></i><i style="background:linear-gradient(90deg,#2e1a3e 0,#2f1c43 21.5px,#332457 23.5px,#3c3e8f 25.5px,#417cda 27.5px,#3ba2e5 28.5px,#3abed1 29.5px,#7bd07d 32.5px,#a6cc52 37.5px,#bcc844 48.5px,#d1c241 54.5px,#f0a53c 57.5px,#e46026 60.5px,#d24321 63.5px,#d64922 79.5px,#ea6e29 84.5px,#ecaf40 89.5px,#e2b840 100.5px,#e6b540 110.5px,#a8cc50 118.5px,#7fd079 128.5px,#7dd07b 136px)"></i><i style="background:linear-gradient(90deg,#2e1a3e 0,#2f1c44 20.5px,#332458 22.5px,#3c3e90 24.5px,#4278d8 26.5px,#3d9be7 27.5px,#38b9d9 28.5px,#6fd089 31.5px,#9ece5a 36.5px,#bbc845 45.5px,#c7c542 53.5px,#edad3f 57.5px,#e96b28 60.5px,#d44622 63.5px,#d54822 80.5px,#e56226 84.5px,#f1a13b 88.5px,#e3b740 93.5px,#e8b340 110.5px,#a8cc50 118.5px,#7fd079 128.5px,#7dd07b 136px)"></i><i style="background:linear-gradient(90deg,#2e1a3e 0,#2f1c44 19.5px,#33255a 21.5px,#3c3f91 23.5px,#4277d7 25.5px,#3e98e8 26.5px,#3ec5c4 28.5px,#74d084 31.5px,#aecb4d 39.5px,#ccc342 54.5px,#f0a33c 58.5px,#e56226 61.5px,#d34521 64.5px,#d74b22 81.5px,#eb702a 85.5px,#eeab3e 89.5px,#e4b640 100.5px,#e9b240 110.5px,#a8cc50 118.5px,#7fd079 128.5px,#7dd07b 136px)"></i><i style="background:linear-gradient(90deg,#2e1a3e 0,#2f1c43 18.5px,#33255a 20.5px,#3c4093 22.5px,#4277d7 24.5px,#3e97e7 25.5px,#3cc3ca 27.5px,#6bcf8d 30.5px,#adcb4d 39.5px,#cac442 54.5px,#eeaa3e 58.5px,#ea6e29 61.5px,#d64922 64.5px,#d74b22 79.5px,#e86928 84.5px,#f0a33c 88.5px,#e5b640 94.5px,#e9b240 110.5px,#a8cc50 118.5px,#80d078 128.5px,#7dd07b 136px)"></i><i style="background:linear-gradient(90deg,#2e1a3e 0,#2f1c42 17.5px,#332457 19.5px,#3c4092 21.5px,#4277d7 23.5px,#3e96e7 24.5px,#3bc1cd 26.5px,#6fd089 30.5px,#b0ca4b 40.5px,#c9c442 54.5px,#ebb140 58.5px,#f07d2d 61.5px,#db5123 64.5px,#d84c22 75.5px,#ea6e29 83.5px,#edad3f 89.5px,#e4b640 111.5px,#a1cd57 119.5px,#7fd079 129.5px,#7dd07b 136px)"></i><i style="background:linear-gradient(90deg,#2e1a3e 0,#2f1d45 17.5px,#352a66 19.5px,#4056b5 21.5px,#3f93e6 23.5px,#3abed0 25.5px,#67cf91 29.5px,#b0ca4b 40.5px,#cdc342 55.5px,#eeab3e 59.5px,#e96a28 63.5px,#dc5223 67.5px,#e56327 78.5px,#f0a53c 87.5px,#e7b440 97.5px,#e7b440 110.5px,#a8cc50 118.5px,#81d077 128.5px,#7ed07a 136px)"></i><i style="background:linear-gradient(90deg,#2e1a3e 0,#301e47 17.5px,#383075 19.5px,#4168c8 21.5px,#408ae1 22.5px,#39a8e3 23.5px,#3fc5c3 25.5px,#70d088 30.5px,#afcb4c 40.5px,#cbc442 55.5px,#efa83d 60.5px,#e96b29 65.5px,#e76728 73.5px,#eea93e 86.5px,#e6b540 99.5px,#e5b640 110.5px,#a8cc50 118.5px,#81d077 128.5px,#7ed07a 136px)"></i><i style="background:linear-gradient(90deg,#2e1a3e 0,#2f1b41 16.5px,#33255b 18.5px,#3f50ac 20.5px,#4273d3 21.5px,#3e97e7 22.5px,#3bc1cc 24.5px,#61ce97 28.5px,#afcb4c 40.5px,#cfc341 56.5px,#f29e3a 62.5px,#f07d2d 67.5px,#f28b33 76.5px,#e0ba40 89.5px,#e1b840 110.5px,#a2cd56 119.5px,#81d077 130.5px,#7fd079 136px)"></i><i style="background:linear-gradient(90deg,#2e1a3e 0,#2f1b41 16.5px,#33255b 18.5px,#3f51ad 20.5px,#4274d4 21.5px,#3e99e8 22.5px,#3bc3ca 24.5px,#61ce97 28.5px,#b2ca4a 41.5px,#ccc342 56.5px,#f39a39 65.5px,#f39c39 74.5px,#ccc442 88.5px,#dabe40 101.5px,#debb40 110.5px,#a3cd55 119.5px,#83d075 130.5px,#80d078 136px)"></i><i style="background:linear-gradient(90deg,#2e1a3e 0,#301d47 17.5px,#383075 19.5px,#416dcd 21.5px,#3f92e5 22.5px,#3bc1cd 24.5px,#60ce98 28.5px,#b2ca4a 41.5px,#cec341 57.5px,#eea93e 66.5px,#e5b540 75.5px,#afcb4c 86.5px,#b3ca49 97.5px,#ddbc40 108.5px,#bbc845 115.5px,#8ad06e 127.5px,#81d077 136px)"></i><i style="background:linear-gradient(90deg,#2e1a3e 0,#2f1c44 17.5px,#362b69 19.5px,#4060c0 21.5px,#4184de 22.5px,#3aa6e4 23.5px,#41c6bf 25.5px,#68cf90 29.5px,#b2ca4a 41.5px,#d3c241 59.5px,#e7b440 70.5px,#cbc442 75.5px,#77d081 88.5px,#7fd079 94.5px,#c8c442 106.5px,#d5c140 110.5px,#9ace5e 122.5px,#83d075 136px)"></i><i style="background:linear-gradient(90deg,#2e1a3e 0,#2f1c42 17.5px,#33265c 19.5px,#3f50ac 21.5px,#4273d3 22.5px,#3e99e8 23.5px,#3dc4c7 25.5px,#5fce99 28.5px,#b1ca4a 41.5px,#ddbc40 70.5px,#c9c442 73.5px,#75d083 81.5px,#3cc4c7 87.5px,#3ac0ce 92.5px,#54cda4 96.5px,#bfc744 107.5px,#d0c241 110.5px,#93d065 127.5px,#86d072 136px)"></i><i style="background:linear-gradient(90deg,#2e1a3e 0,#2f1d46 18.5px,#372d6e 20.5px,#4166c6 22.5px,#408ce2 23.5px,#38afe2 24.5px,#47c9b6 26.5px,#74d084 31.5px,#b1ca4b 41.5px,#d5c140 70.5px,#a7cc51 74.5px,#66cf92 78.5px,#42c7be 83.5px,#39abe3 85.5px,#4181dc 88.5px,#417fdc 92.5px,#3aa6e4 95.5px,#4acab1 98.5px,#6ed08a 103.5px,#b1ca4a 107.5px,#cdc342 110.5px,#94cf64 130.5px,#89d06f 136px)"></i><i style="background:linear-gradient(90deg,#2e1a3e 0,#2f1d45 18.5px,#362a68 20.5px,#405fbf 22.5px,#4085de 23.5px,#39a9e3 24.5px,#46c8b9 26.5px,#6dd08b 30.5px,#b1ca4b 41.5px,#d0c241 70.5px,#adcb4d 73.5px,#59cd9f 77.5px,#3fc5c3 82.5px,#39bbd5 83.5px,#3c9fe6 84.5px,#405fbf 86.5px,#3c4297 89.5px,#3d459b 92.5px,#405bbb 94.5px,#3e96e7 96.5px,#37b7dc 97.5px,#44c7bb 99.5px,#57cda1 103.5px,#a9cc50 107.5px,#ccc442 110.5px,#8ed06a 136px)"></i><i style="background:linear-gradient(90deg,#2e1a3e 0,#301e48 18.5px,#372d6e 20.5px,#4162c2 22.5px,#4087df 23.5px,#39aae3 24.5px,#45c8b9 26.5px,#6dd08b 30.5px,#b4ca49 42.5px,#cec341 70.5px,#abcb4e 73.5px,#56cda2 77.5px,#3ec5c5 82.5px,#38b9d8 83.5px,#3d9be7 84.5px,#4058b8 86.5px,#3c3e90 88.5px,#3b3988 91.5px,#3d4499 93.5px,#416bcb 95.5px,#3f91e4 96.5px,#36b5de 97.5px,#43c7bd 99.5px,#54cca4 103.5px,#a8cc50 107.5px,#cdc342 110.5px,#95cf63 134.5px,#92d066 136px)"></i><i style="background:linear-gradient(90deg,#2e1a3e 0,#301d46 17.5px,#352963 19.5px,#3f50ab 21.5px,#3f92e5 23.5px,#37b1e1 24.5px,#51cca7 27.5px,#b0ca4b 41.5px,#cfc341 60.5px,#cbc442 71.5px,#a1cd57 74.5px,#5ece9a 78.5px,#48c9b5 82.5px,#37b7dc 84.5px,#3c9ee6 85.5px,#416ece 88.5px,#416dcd 92.5px,#3e98e8 95.5px,#3bc2cb 97.5px,#50cca8 100.5px,#76d082 104.5px,#b0ca4b 107.5px,#d2c241 110.5px,#9dce5b 133.5px,#96cf62 136px)"></i><i style="background:linear-gradient(90deg,#2e1a3e 0,#301e48 16.5px,#352862 18.5px,#3e4aa2 20.5px,#4084de 22.5px,#3ba3e5 23.5px,#3dc5c6 25.5px,#65cf93 29.5px,#b5c948 42.5px,#d3c141 61.5px,#d2c241 71.5px,#a6cc52 75.5px,#6bcf8d 81.5px,#41c6bf 85.5px,#36b5de 89.5px,#3abfd0 94.5px,#6acf8e 99.5px,#a5cc53 105.5px,#d5c140 109.5px,#c6c543 119.5px,#9fcd59 134.5px,#9bce5d 136px)"></i><i style="background:linear-gradient(90deg,#2e1a3e 0,#301d47 14.5px,#352a66 17.5px,#3e49a1 19.5px,#417fdb 21.5px,#3d9ce7 22.5px,#3ac0cf 24.5px,#64cf94 29.5px,#b5c948 42.5px,#d7c040 59.5px,#d7c040 72.5px,#91d067 82.5px,#67cf91 89.5px,#7ad07e 95.5px,#cac442 106.5px,#dfbb40 110.5px,#a9cc4f 133.5px,#a0cd58 136px)"></i><i style="background:linear-gradient(90deg,#2e1a3e 0,#301e49 12.5px,#372e70 16.5px,#4164c4 19.5px,#3e99e8 21.5px,#3dc4c6 24.5px,#72d086 31.5px,#b9c946 43.5px,#dbbe40 58.5px,#dbbd40 74.5px,#aacc4f 86.5px,#b2ca4a 97.5px,#e5b540 109.5px,#c1c743 129.5px,#a5cd53 136px)"></i><i style="background:linear-gradient(90deg,#2e1a3f 0,#301f4b 10.5px,#372f72 14.5px,#3f55b3 17.5px,#3e99e8 20.5px,#3bc2cb 23.5px,#83d075 34.5px,#bac845 43.5px,#dfbb40 56.5px,#e2b840 78.5px,#d3c141 93.5px,#ecb040 111.5px,#cbc442 129.5px,#aacc4f 136px)"></i><i style="background:linear-gradient(90deg,#2e1b40 0,#31214f 8.5px,#3b3a8a 13.5px,#4088e0 18.5px,#38aee2 20.5px,#49c9b4 25.5px,#b6c948 42.5px,#e1b940 54.5px,#eea93e 84.5px,#efa83d 113.5px,#d4c141 129.5px,#aecb4c 136px)"></i><i style="background:linear-gradient(90deg,#301d46 0,#33255b 7.5px,#3e4ba4 12.5px,#4184de 16.5px,#37b1e1 19.5px,#4dcbac 26.5px,#b6c948 42.5px,#e6b540 54.5px,#f28c33 88.5px,#f49938 111.5px,#dbbd40 129.5px,#b2ca4a 136px)"></i><i style="background:linear-gradient(90deg,#322354 0,#372d6d 6.5px,#405cbc 11.5px,#3e94e6 15.5px,#3abfcf 20.5px,#62ce96 29.5px,#bbc844 43.5px,#ebb040 54.5px,#ed732a 81.5px,#ee762b 103.5px,#ebb140 126.5px,#c5c543 133.5px,#b6c947 136px)"></i><i style="background:linear-gradient(90deg,#372d6e 0,#3c3f90 6.5px,#4086df 12.5px,#36b4e0 16.5px,#53cca5 27.5px,#bcc844 43.5px,#edad3f 53.5px,#eb6e29 72.5px,#de5524 91.5px,#ea6e29 110.5px,#edae3f 127.5px,#bac845 136px)"></i><i style="background:linear-gradient(90deg,#3c3f91 0,#4057b7 6.5px,#3d9ce7 12.5px,#3abed1 17.5px,#52cca6 27.5px,#bdc844 43.5px,#eeaa3e 52.5px,#e66527 68.5px,#d44622 88.5px,#e05724 110.5px,#f0a33c 126.5px,#d1c241 133.5px,#bfc744 136px)"></i><i style="background:linear-gradient(90deg,#4057b6 0,#4274d4 7.5px,#3c9ee6 11.5px,#3bc0ce 17.5px,#4ccbae 26.5px,#bdc844 43.5px,#f1a23b 52.5px,#e15b25 65.5px,#ce3d20 88.5px,#da4f23 113.5px,#f39336 125.5px,#ddbc40 132.5px,#c4c643 136px)"></i><i style="background:linear-gradient(90deg,#416aca 0,#408be2 8.5px,#36b5de 13.5px,#4ccaae 26.5px,#bec844 43.5px,#f1a03b 51.5px,#e25c25 60.5px,#cb3920 83.5px,#d34421 114.5px,#e96a28 122.5px,#efa73d 129.5px,#c8c542 136px)"></i><i style="background:linear-gradient(90deg,#4278d8 0,#3f92e5 8.5px,#39bdd3 15.5px,#4ccaae 26.5px,#bec744 43.5px,#eeab3e 49.5px,#ec712a 54.5px,#d84c22 61.5px,#c73620 93.5px,#d44522 118.5px,#ed742b 125.5px,#eeaa3e 130.5px,#ccc342 136px)"></i><i style="background:linear-gradient(90deg,#4180dc 0,#3e95e7 8.5px,#3abfcf 16.5px,#4ccaaf 26.5px,#bec744 43.5px,#f0a43c 49.5px,#df5724 55.5px,#cf3f21 69.5px,#ca3820 114.5px,#e05824 124.5px,#f49938 129.5px,#d0c241 136px)"></i><i style="background:linear-gradient(90deg,#4183de 0,#3e96e7 8.5px,#3abfcf 16.5px,#4bcaaf 26.5px,#bec744 43.5px,#edac3f 48.5px,#ef782c 51.5px,#dc5223 54.5px,#cd3b20 71.5px,#ca3820 116.5px,#dd5423 125.5px,#f29f3a 130.5px,#d3c141 136px)"></i><i style="background:linear-gradient(90deg,#4085de 0,#3e96e7 8.5px,#3abfcf 16.5px,#4bcab0 26.5px,#bec744 43.5px,#efa83d 48.5px,#e96c29 51.5px,#d64a22 54.5px,#c23221 98.5px,#d14221 123.5px,#e56327 127.5px,#f39b39 130.5px,#d5c140 136px)"></i><i style="background:linear-gradient(90deg,#4085de 0,#3e96e7 8.5px,#3abfcf 16.5px,#4bcab0 26.5px,#bec744 43.5px,#e8b340 47.5px,#f07c2d 50.5px,#d84b22 53.5px,#c23121 96.5px,#d24321 124.5px,#e25d25 127.5px,#f49838 130.5px,#ddbc40 134.5px,#d7c040 136px)"></i><i style="background:linear-gradient(90deg,#4085de 0,#3e96e7 8.5px,#3abfcf 16.5px,#4bcab0 26.5px,#bdc844 43.5px,#e8b340 47.5px,#f07c2d 50.5px,#d84c22 53.5px,#c23121 92.5px,#d04021 123.5px,#e25d25 127.5px,#f49838 130.5px,#debb40 134.5px,#d9c040 136px)"></i><i style="background:linear-gradient(90deg,#4085de 0,#3e96e7 8.5px,#3abfd0 16.5px,#4acab1 26.5px,#bdc844 43.5px,#efa83d 48.5px,#ea6d29 51.5px,#d74b22 54.5px,#c23221 97.5px,#d24321 123.5px,#e66427 127.5px,#efa63d 131.5px,#d9bf40 136px)"></i><i style="background:linear-gradient(90deg,#4085de 0,#3d9be7 9.5px,#3bc1cd 17.5px,#4acab1 26.5px,#bcc844 43.5px,#edac3f 48.5px,#e86928 52.5px,#d64922 56.5px,#c33321 98.5px,#d14121 121.5px,#e46126 126.5px,#f29e3a 130.5px,#dabf40 136px)"></i><i style="background:linear-gradient(90deg,#4085de 0,#3d9be7 9.5px,#3bc1cd 17.5px,#4acab2 26.5px,#bbc844 43.5px,#f0a43c 49.5px,#e05824 55.5px,#d04021 68.5px,#c93720 113.5px,#dc5323 123.5px,#f49838 129.5px,#dabf40 136px)"></i><i style="background:linear-gradient(90deg,#4085de 0,#3d9be7 9.5px,#3bc1cd 17.5px,#4acab2 26.5px,#bbc845 43.5px,#eeaa3e 49.5px,#e86928 55.5px,#d54822 64.5px,#c63520 99.5px,#d44622 118.5px,#ee752b 125.5px,#edad3f 131.5px,#dabf40 136px)"></i><i style="background:linear-gradient(90deg,#4085de 0,#3d9be7 9.5px,#3bc1cd 17.5px,#4ac9b2 26.5px,#bac845 43.5px,#efa73d 50.5px,#e25d25 60.5px,#ca3920 83.5px,#d34521 114.5px,#ed742a 123.5px,#ecaf40 131.5px,#dabf40 136px)"></i><i style="background:linear-gradient(90deg,#4085de 0,#3d9be7 9.5px,#3bc1cd 17.5px,#49c9b3 26.5px,#bac845 43.5px,#edac3f 50.5px,#e96a28 61.5px,#ce3d20 82.5px,#d44622 109.5px,#eb702a 120.5px,#eeab3e 130.5px,#dabf40 136px)"></i><i style="background:linear-gradient(90deg,#4085de 0,#3d9ae7 9.5px,#3bc1cd 17.5px,#49c9b3 26.5px,#b9c946 43.5px,#ecaf40 50.5px,#ec712a 64.5px,#d04021 85.5px,#da4e23 106.5px,#f28631 121.5px,#e2b840 133.5px,#d9bf40 136px)"></i><i style="background:linear-gradient(90deg,#4085de 0,#3d9ae7 9.5px,#3bc0cd 17.5px,#4dcbac 27.5px,#c2c643 44.5px,#edac3f 51.5px,#e86a28 72.5px,#d34521 86.5px,#dd5323 102.5px,#f29d3a 125.5px,#d9bf40 136px)"></i></div>
<div class="h" style="left:259px;top:210px;width:137px"><i style="background:linear-gradient(90deg,#2e1a3e 0,#2f1b41 120.5px,#312151 121.5px,#3f51ad 123.5px,#4056b4 124.5px,#352963 126.5px,#34275f 127.5px,#3d479e 128.5px,#36b3e0 129.5px,#62ce96 130.5px,#79d07f 131.5px,#81d077 137px)"></i><i style="background:linear-gradient(90deg,#2e1a3e 0,#2f1b41 120.5px,#322252 121.5px,#3f51ae 123.5px,#4056b5 124.5px,#352964 126.5px,#34275f 127.5px,#3d49a0 128.5px,#37b5de 129.5px,#66cf92 130.5px,#7dd07b 131.5px,#87d071 137px)"></i><i style="background:linear-gradient(90deg,#2e1a3e 0,#2f1b41 120.5px,#322253 121.5px,#3f52af 123.5px,#4057b6 124.5px,#352965 126.5px,#342861 127.5px,#3e4da7 128.5px,#38b9d9 129.5px,#6cd08c 130.5px,#85d073 131.5px,#91d067 137px)"></i><i style="background:linear-gradient(90deg,#2e1a3e 0,#2f1b41 120.5px,#322253 121.5px,#3f53b0 123.5px,#4058b8 124.5px,#362a68 126.5px,#352964 127.5px,#3f53b1 128.5px,#39bdd3 129.5px,#75d083 130.5px,#8fd069 131.5px,#9dce5b 137px)"></i><i style="background:linear-gradient(90deg,#2e1a3e 0,#2f1b42 120.5px,#322354 121.5px,#3f53b1 123.5px,#405aba 124.5px,#362c6d 126.5px,#362b69 127.5px,#405dbd 128.5px,#3cc3ca 129.5px,#80d078 130.5px,#a1cd57 132.5px,#aacc4f 137px)"></i><i style="background:linear-gradient(90deg,#2e1a3e 0,#2f1d46 103.5px,#2f1b42 120.5px,#322355 121.5px,#3f55b3 123.5px,#405fbf 124.5px,#3e4da8 125.5px,#3a3480 126.5px,#3a3581 127.5px,#4271d1 128.5px,#45c8b9 129.5px,#8bd06d 130.5px,#aacc4f 132.5px,#b4ca49 137px)"></i><i style="background:linear-gradient(90deg,#2e1a3e 0,#2f1d45 99.5px,#34265e 104.5px,#2e1a3e 111.5px,#2f1c42 120.5px,#322355 121.5px,#4057b6 123.5px,#4166c6 124.5px,#405cbc 126.5px,#4168c8 127.5px,#3ba2e5 128.5px,#5acd9e 129.5px,#93cf65 130.5px,#b0ca4b 132.5px,#bac845 137px)"></i><i style="background:linear-gradient(90deg,#2e1a3e 0,#2f1b41 97.5px,#3b3785 103.5px,#383075 106.5px,#2f1c43 110.5px,#2f1c42 120.5px,#322356 121.5px,#4058b8 123.5px,#3e99e8 126.5px,#37b6dd 127.5px,#48c9b5 128.5px,#77d081 129.5px,#99cf5f 130.5px,#b9c946 133.5px,#bfc744 137px)"></i><i style="background:linear-gradient(90deg,#2e1a3e 0,#2f1b41 96.5px,#33255a 98.5px,#3d489f 101.5px,#3f53b0 104.5px,#3b3b8b 107.5px,#2f1c44 111.5px,#2f1c42 120.5px,#322457 121.5px,#4059b9 123.5px,#3f8ee3 125.5px,#36b3e0 126.5px,#43c7bc 127.5px,#84d074 129.5px,#aacc4f 131.5px,#c3c643 137px)"></i><i style="background:linear-gradient(90deg,#2e1a3e 0,#2e1b41 95.5px,#332559 97.5px,#3f53b1 100.5px,#4165c5 103.5px,#3f53b0 107.5px,#301f4a 111.5px,#2e1a3e 117.5px,#2f1c42 120.5px,#332457 121.5px,#405aba 123.5px,#3f91e4 125.5px,#37b5de 126.5px,#47c8b7 127.5px,#86d072 129.5px,#b6c948 132.5px,#c8c542 137px)"></i><i style="background:linear-gradient(90deg,#2e1a3e 0,#2f1d45 95.5px,#372e71 97.5px,#4055b4 99.5px,#4270d0 102.5px,#4161c1 107.5px,#4057b6 108.5px,#312150 111.5px,#2e1a3e 114.5px,#2f1c42 120.5px,#332458 121.5px,#405aba 123.5px,#3f91e5 125.5px,#37b6dd 126.5px,#47c8b6 127.5px,#87d071 129.5px,#b7c947 132.5px,#d0c241 137px)"></i><i style="background:linear-gradient(90deg,#2e1a3e 0,#2f1b41 94.5px,#352a66 96.5px,#3f53b0 98.5px,#4277d7 101.5px,#416fcf 105.5px,#405dbd 108.5px,#322252 111.5px,#2e1a3f 113.5px,#2f1c43 120.5px,#332458 121.5px,#405bbb 123.5px,#3f92e5 125.5px,#37b6dd 126.5px,#47c9b6 127.5px,#87d071 129.5px,#bac845 132.5px,#dabf40 137px)"></i><i style="background:linear-gradient(90deg,#2e1a3e 0,#2f1c44 94.5px,#322355 95.5px,#4160c0 98.5px,#4182dd 101.5px,#417dda 104.5px,#405dbd 108.5px,#312150 111.5px,#2e1a3e 114.5px,#2f1c43 120.5px,#332559 121.5px,#405bbb 123.5px,#3f92e5 125.5px,#37b6dd 126.5px,#48c9b5 127.5px,#88d070 129.5px,#bdc844 132.5px,#dfbb40 135.5px,#e2b840 137px)"></i><i style="background:linear-gradient(90deg,#2e1a3e 0,#2e1b40 93.5px,#34265d 95.5px,#3f54b2 97.5px,#4277d7 99.5px,#3f8fe4 102.5px,#4166c6 107.5px,#4058b8 108.5px,#31204c 111.5px,#2e1a3e 115.5px,#2f1c43 120.5px,#332559 121.5px,#405bbb 123.5px,#3f93e5 125.5px,#37b6dc 126.5px,#48c9b5 127.5px,#89d06f 129.5px,#c1c743 132.5px,#e5b540 135.5px,#eab240 137px)"></i><i style="background:linear-gradient(90deg,#2e1a3e 0,#2e1b40 93.5px,#301f4a 94.5px,#352965 95.5px,#405bbb 97.5px,#408ae1 100.5px,#3f91e4 103.5px,#4060c0 107.5px,#3a3784 109.5px,#301e48 111.5px,#2e1a3e 119.5px,#2f1c43 120.5px,#33255a 121.5px,#405cbc 123.5px,#3f93e6 125.5px,#37b7dc 126.5px,#48c9b5 127.5px,#89d06f 129.5px,#b2ca4a 131.5px,#e2b840 134.5px,#edac3f 137px)"></i><i style="background:linear-gradient(90deg,#2e1a3e 0,#2f1b41 93.5px,#31204d 94.5px,#3d4499 96.5px,#405fbf 97.5px,#3f8ee3 100.5px,#3f91e5 103.5px,#4166c6 106.5px,#3c3f90 108.5px,#322252 110.5px,#2e1a3e 113.5px,#2f1c43 120.5px,#33255a 121.5px,#405cbc 123.5px,#3f94e6 125.5px,#37b7dc 126.5px,#48c9b4 127.5px,#8ad06e 129.5px,#b3ca4a 131.5px,#e4b740 134.5px,#eea93e 137px)"></i><i style="background:linear-gradient(90deg,#2e1a3e 0,#2f1c42 93.5px,#312150 94.5px,#3e49a1 96.5px,#4275d5 98.5px,#3e95e7 101.5px,#4084de 104.5px,#405dbd 106.5px,#332457 109.5px,#2e1a3e 112.5px,#2f1c43 120.5px,#33255b 121.5px,#405cbc 123.5px,#3f94e6 125.5px,#37b7db 126.5px,#49c9b4 127.5px,#8ad06e 129.5px,#b3ca49 131.5px,#e5b640 134.5px,#efa83d 137px)"></i><i style="background:linear-gradient(90deg,#2e1a3e 0,#2f1c43 93.5px,#322354 94.5px,#3e4ea8 96.5px,#4276d6 98.5px,#3e95e7 101.5px,#4181dc 104.5px,#3f51ae 106.5px,#33255b 108.5px,#2f1b41 110.5px,#2f1c43 120.5px,#33265b 121.5px,#405dbd 123.5px,#3e94e6 125.5px,#37b7db 126.5px,#49c9b4 127.5px,#8bd06d 129.5px,#b3ca49 131.5px,#e5b640 134.5px,#efa73d 137px)"></i><i style="background:linear-gradient(90deg,#2e1a3e 0,#2f1d45 93.5px,#332559 94.5px,#3f52af 96.5px,#4278d7 98.5px,#3e95e7 101.5px,#417dda 104.5px,#4166c6 105.5px,#372d6d 107.5px,#31204e 108.5px,#2e1a3e 111.5px,#2f1c43 120.5px,#33265c 121.5px,#405dbd 123.5px,#3e95e6 125.5px,#37b8db 126.5px,#49c9b3 127.5px,#8bd06d 129.5px,#b3ca49 131.5px,#e5b540 134.5px,#efa73d 137px)"></i><i style="background:linear-gradient(90deg,#2e1a3e 0,#2e1b40 92.5px,#34275e 94.5px,#4055b4 96.5px,#4087df 99.5px,#3f93e5 102.5px,#4278d8 104.5px,#405fbf 105.5px,#342861 107.5px,#301e48 108.5px,#2e1a3e 118.5px,#2f1c43 120.5px,#34265d 121.5px,#405ebe 123.5px,#3e95e7 125.5px,#37b8da 126.5px,#49c9b3 127.5px,#8bd06d 129.5px,#b4ca49 131.5px,#e5b540 134.5px,#efa73d 137px)"></i><i style="background:linear-gradient(90deg,#2e1a3e 0,#2e1b40 92.5px,#301e48 93.5px,#342862 94.5px,#4057b7 96.5px,#4088e0 99.5px,#3f91e5 102.5px,#4273d3 104.5px,#4058b7 105.5px,#332458 107.5px,#2e1a3f 109.5px,#2f1c44 120.5px,#34265e 121.5px,#405ebe 123.5px,#3e96e7 125.5px,#38b8da 126.5px,#4ac9b2 127.5px,#8cd06c 129.5px,#b4ca49 131.5px,#e5b540 134.5px,#efa73d 137px)"></i><i style="background:linear-gradient(90deg,#2e1a3e 0,#2e1b40 92.5px,#301e49 93.5px,#352963 94.5px,#4058b8 96.5px,#4088e0 99.5px,#3f8fe4 102.5px,#416dcd 104.5px,#3f50ab 105.5px,#383077 106.5px,#322251 107.5px,#2e1a3f 109.5px,#2f1c44 120.5px,#34275e 121.5px,#405fbf 123.5px,#3e96e7 125.5px,#38b8da 126.5px,#4acab2 127.5px,#8cd06c 129.5px,#b4ca49 131.5px,#e6b540 134.5px,#efa73d 137px)"></i><i style="background:linear-gradient(90deg,#2e1a3e 0,#2e1b40 92.5px,#301f49 93.5px,#352964 94.5px,#4059b9 96.5px,#4089e0 99.5px,#3f8de2 102.5px,#4167c7 104.5px,#362c6c 106.5px,#31204c 107.5px,#2e1a3e 111.5px,#2f1c44 120.5px,#34275f 121.5px,#405fbf 123.5px,#3e97e7 125.5px,#38b9d9 126.5px,#4acab2 127.5px,#8cd06c 129.5px,#b4ca49 131.5px,#e6b540 134.5px,#efa73d 137px)"></i><i style="background:linear-gradient(90deg,#2e1a3e 0,#2e1b40 92.5px,#301f4a 93.5px,#352964 94.5px,#4059b9 96.5px,#408ae1 99.5px,#3f93e5 101.5px,#427ad9 103.5px,#4160c0 104.5px,#342861 106.5px,#301e48 107.5px,#2e1a3e 118.5px,#2f1c44 120.5px,#34275f 121.5px,#405fbf 123.5px,#3e97e8 125.5px,#38b9d9 126.5px,#4acab1 127.5px,#8dd06b 129.5px,#b4ca49 131.5px,#e6b540 134.5px,#efa73d 137px)"></i><i style="background:linear-gradient(90deg,#2e1a3e 0,#2e1b40 92.5px,#301f4a 93.5px,#352964 94.5px,#405aba 96.5px,#408ae1 99.5px,#3f91e5 101.5px,#4275d5 103.5px,#4059b9 104.5px,#332458 106.5px,#2e1a3f 108.5px,#2f1c44 120.5px,#342760 121.5px,#4060c0 123.5px,#3e98e8 125.5px,#38b9d9 126.5px,#4acab1 127.5px,#8dd06b 129.5px,#b5c948 131.5px,#e6b540 134.5px,#efa73d 137px)"></i><i style="background:linear-gradient(90deg,#2e1a3e 0,#2e1b40 92.5px,#301f4a 93.5px,#352964 94.5px,#405aba 96.5px,#408be1 99.5px,#3f90e4 101.5px,#416fcf 103.5px,#3f51ad 104.5px,#383178 105.5px,#322251 106.5px,#2e1a3f 108.5px,#2f1c44 120.5px,#342860 121.5px,#4160c0 123.5px,#3e98e8 125.5px,#38b9d8 126.5px,#6dd08b 128.5px,#a3cd55 130.5px,#dbbe40 133.5px,#efa73d 137px)"></i><i style="background:linear-gradient(90deg,#2e1a3e 0,#2e1b40 92.5px,#301f4a 93.5px,#352964 94.5px,#405bbb 96.5px,#408be2 99.5px,#3f8de3 101.5px,#4169c9 103.5px,#362c6c 105.5px,#31204c 106.5px,#2e1a3e 110.5px,#2f1d44 120.5px,#342861 121.5px,#4160c0 123.5px,#3e98e8 125.5px,#38b9d8 126.5px,#6ed08a 128.5px,#a3cd55 130.5px,#dbbe40 133.5px,#efa73d 137px)"></i><i style="background:linear-gradient(90deg,#2e1a3e 0,#2e1b40 92.5px,#301f4a 93.5px,#352964 94.5px,#405bbb 96.5px,#408ce2 99.5px,#408be2 101.5px,#4163c3 103.5px,#352863 105.5px,#301e48 106.5px,#2e1a3e 116.5px,#2f1d45 120.5px,#342862 121.5px,#4161c1 123.5px,#3e99e8 125.5px,#38b9d8 126.5px,#6ed08a 128.5px,#a4cd54 130.5px,#e6b540 134.5px,#efa73d 137px)"></i><i style="background:linear-gradient(90deg,#2e1a3e 0,#2e1b40 92.5px,#301e49 93.5px,#352964 94.5px,#405bbb 96.5px,#408ce2 99.5px,#4089e1 101.5px,#4279d8 102.5px,#405ebe 103.5px,#34265c 105.5px,#2f1d46 106.5px,#2f1d45 120.5px,#352862 121.5px,#4161c1 123.5px,#3e99e8 125.5px,#38bad7 126.5px,#6ed08a 128.5px,#a4cd54 130.5px,#e6b540 134.5px,#efa73d 137px)"></i><i style="background:linear-gradient(90deg,#2e1a3e 0,#2e1b40 92.5px,#301e49 93.5px,#352863 94.5px,#405bbb 96.5px,#4180dc 98.5px,#3f90e4 100.5px,#4277d7 102.5px,#405dbd 103.5px,#33265c 105.5px,#2e1b3f 107.5px,#2f1d45 120.5px,#352963 121.5px,#4162c2 123.5px,#3e9ae8 125.5px,#38bad7 126.5px,#6fd089 128.5px,#a4cd54 130.5px,#e6b540 134.5px,#efa73d 137px)"></i><i style="background:linear-gradient(90deg,#2e1a3e 0,#2e1b40 92.5px,#301e48 93.5px,#342760 94.5px,#4059b9 96.5px,#4180dc 98.5px,#3f90e4 100.5px,#427ad9 102.5px,#4161c1 103.5px,#352862 105.5px,#301e48 106.5px,#2e1a3e 116.5px,#2f1d45 120.5px,#352963 121.5px,#4162c2 123.5px,#3d9ae7 125.5px,#38bad6 126.5px,#6fd089 128.5px,#a4cd54 130.5px,#e6b440 134.5px,#efa73d 137px)"></i><i style="background:linear-gradient(90deg,#2e1a3e 0,#2f1d46 93.5px,#33265b 94.5px,#4056b5 96.5px,#417fdb 98.5px,#3f91e4 100.5px,#417fdc 102.5px,#4169c9 103.5px,#372d6f 105.5px,#31204e 106.5px,#2e1a3e 109.5px,#2f1d45 120.5px,#352964 121.5px,#4162c2 123.5px,#3d9be7 125.5px,#38bbd6 126.5px,#6fd089 128.5px,#a5cd53 130.5px,#e7b440 134.5px,#efa63d 137px)"></i><i style="background:linear-gradient(90deg,#2e1a3e 0,#2f1c44 93.5px,#322457 94.5px,#3f52af 96.5px,#417dda 98.5px,#3f92e5 100.5px,#4086df 102.5px,#4273d3 103.5px,#4057b7 104.5px,#3a3683 105.5px,#33255b 106.5px,#2f1c42 108.5px,#2f1d45 120.5px,#352964 121.5px,#4163c3 123.5px,#3d9be7 125.5px,#39bbd6 126.5px,#70d088 128.5px,#a5cd53 130.5px,#e7b440 134.5px,#efa63d 137px)"></i><i style="background:linear-gradient(90deg,#2e1a3e 0,#2f1c42 93.5px,#322252 94.5px,#3e4ea8 96.5px,#427bd9 98.5px,#3f93e5 101.5px,#417ddb 103.5px,#4165c5 104.5px,#383075 106.5px,#31204e 108.5px,#2e1a3e 116.5px,#2f1d45 120.5px,#352965 121.5px,#4163c3 123.5px,#3d9be7 125.5px,#39bbd5 126.5px,#70d088 128.5px,#a5cc53 130.5px,#e7b440 134.5px,#efa63d 137px)"></i><i style="background:linear-gradient(90deg,#2e1a3e 0,#2f1b41 93.5px,#31214f 94.5px,#3d49a0 96.5px,#4164c4 97.5px,#4088e0 99.5px,#3f91e4 102.5px,#4274d4 104.5px,#3a347f 107.5px,#31214f 110.5px,#2e1a3e 116.5px,#2f1d45 120.5px,#352a65 121.5px,#3d469d 122.5px,#4163c3 123.5px,#3d9ce7 125.5px,#39bbd5 126.5px,#70d088 128.5px,#a5cc53 130.5px,#e7b440 134.5px,#efa63d 137px)"></i><i style="background:linear-gradient(90deg,#2e1a3e 0,#2e1b41 93.5px,#311f4c 94.5px,#3d4498 96.5px,#4160c0 97.5px,#4086df 99.5px,#3f94e6 102.5px,#416dcd 105.5px,#362c6c 110.5px,#2f1c44 113.5px,#2f1d46 120.5px,#352a66 121.5px,#3d479e 122.5px,#4164c4 123.5px,#3d9ce7 125.5px,#39bcd5 126.5px,#71d087 128.5px,#a6cc52 130.5px,#e7b440 134.5px,#efa63d 137px)"></i><i style="background:linear-gradient(90deg,#2e1a3e 0,#2e1b40 93.5px,#301e49 94.5px,#352964 95.5px,#405dbd 97.5px,#4085de 99.5px,#3e96e7 102.5px,#416ccc 106.5px,#3c4194 110.5px,#2f1d45 114.5px,#2f1d46 120.5px,#352a67 121.5px,#3d489f 122.5px,#417cda 124.5px,#3d9de7 125.5px,#39bcd4 126.5px,#71d087 128.5px,#a6cc52 130.5px,#e7b440 134.5px,#efa63d 137px)"></i><i style="background:linear-gradient(90deg,#2e1a3e 0,#2e1b40 93.5px,#34265d 95.5px,#4059b9 97.5px,#4183dd 99.5px,#3e97e7 102.5px,#4057b7 110.5px,#322252 114.5px,#2e1a3e 117.5px,#2f1d46 120.5px,#362a68 121.5px,#3d49a0 122.5px,#417dda 124.5px,#3d9de7 125.5px,#39bcd4 126.5px,#72d086 128.5px,#a6cc52 130.5px,#e7b440 134.5px,#efa63d 137px)"></i><i style="background:linear-gradient(90deg,#2e1a3e 0,#2f1d44 94.5px,#332458 95.5px,#3f54b2 97.5px,#4181dc 99.5px,#3e97e7 102.5px,#405dbd 111.5px,#322252 115.5px,#2e1a3f 118.5px,#301e47 120.5px,#362b69 121.5px,#3e49a1 122.5px,#417ddb 124.5px,#3c9ee6 125.5px,#39bcd3 126.5px,#72d086 128.5px,#a6cc52 130.5px,#e7b440 134.5px,#efa63d 137px)"></i><i style="background:linear-gradient(90deg,#2e1a3e 0,#2f1c42 94.5px,#322252 95.5px,#3e4ea8 97.5px,#416aca 98.5px,#3e94e6 101.5px,#4089e1 106.5px,#4060c0 112.5px,#322253 116.5px,#2f1c42 119.5px,#301f4c 120.5px,#372e70 121.5px,#3e4ca5 122.5px,#417edb 124.5px,#3c9ee6 125.5px,#39bdd3 126.5px,#73d085 128.5px,#a7cc51 130.5px,#e8b440 134.5px,#efa63d 137px)"></i><i style="background:linear-gradient(90deg,#2e1a3e 0,#2f1b41 94.5px,#31204c 95.5px,#362b6a 96.5px,#4162c2 98.5px,#4089e1 100.5px,#3e97e7 104.5px,#416ece 112.5px,#3f52af 114.5px,#322355 117.5px,#31204d 119.5px,#33265b 120.5px,#3f52ae 122.5px,#3c9fe6 125.5px,#3abdd2 126.5px,#74d084 128.5px,#a8cc50 130.5px,#e8b440 134.5px,#efa73d 137px)"></i><i style="background:linear-gradient(90deg,#2e1a3e 0,#2e1b40 94.5px,#34265c 96.5px,#4058b7 98.5px,#4183dd 100.5px,#3e96e7 105.5px,#427cda 112.5px,#4057b6 115.5px,#383177 117.5px,#352a67 118.5px,#362b6a 119.5px,#3d469c 121.5px,#416bcb 123.5px,#3ca0e6 125.5px,#3abfd0 126.5px,#94cf64 129.5px,#b9c946 131.5px,#e7b440 134.5px,#efa83d 137px)"></i><i style="background:linear-gradient(90deg,#2e1a3e 0,#2f1c43 95.5px,#312150 96.5px,#3d48a0 98.5px,#4165c5 99.5px,#4183de 101.5px,#3f94e6 109.5px,#416fcf 115.5px,#3c4397 118.5px,#3e4da7 120.5px,#4183dd 124.5px,#3ba3e5 125.5px,#3bc1cd 126.5px,#97cf61 129.5px,#bac845 131.5px,#e6b540 134.5px,#eeaa3e 137px)"></i><i style="background:linear-gradient(90deg,#2e1a3e 0,#2e1b41 95.5px,#34275f 97.5px,#4055b3 99.5px,#4276d6 101.5px,#3e95e7 110.5px,#4278d8 116.5px,#4162c2 119.5px,#408be2 124.5px,#39aae3 125.5px,#3dc4c7 126.5px,#80d078 128.5px,#abcb4e 130.5px,#e2b840 134.5px,#ebb140 137px)"></i><i style="background:linear-gradient(90deg,#2e1a3e 0,#2f1b41 95.5px,#332458 97.5px,#405cbc 100.5px,#417fdc 105.5px,#3f93e5 113.5px,#427cda 120.5px,#3d9be7 124.5px,#36b5de 125.5px,#44c7bb 126.5px,#86d072 128.5px,#b7c947 131.5px,#ddbc40 135.5px,#e0b940 137px)"></i><i style="background:linear-gradient(90deg,#2e1a3e 0,#2f1d46 95.5px,#39327b 98.5px,#3f54b2 100.5px,#4275d5 105.5px,#3f91e5 113.5px,#3e97e8 121.5px,#36b4e0 124.5px,#4fcca9 126.5px,#8cd06c 128.5px,#b1ca4b 131.5px,#cec341 137px)"></i><i style="background:linear-gradient(90deg,#2e1a3e 0,#2f1c43 94.5px,#352963 96.5px,#4059b9 100.5px,#3f90e4 112.5px,#38b8da 122.5px,#4ecbab 125.5px,#96cf62 128.5px,#b8c946 133.5px,#c0c743 137px)"></i><i style="background:linear-gradient(90deg,#2e1a3e 0,#2e1b40 93.5px,#332458 95.5px,#405aba 98.5px,#4274d4 103.5px,#3aa7e4 115.5px,#3dc4c7 121.5px,#62ce96 124.5px,#a6cc52 128.5px,#c4c643 137px)"></i><i style="background:linear-gradient(90deg,#2e1a3e 0,#2e1b40 93.5px,#34275f 95.5px,#4056b5 97.5px,#427bda 99.5px,#39a9e3 112.5px,#45c8ba 119.5px,#65cf93 122.5px,#a7cc51 126.5px,#d0c241 133.5px,#d6c140 137px)"></i><i style="background:linear-gradient(90deg,#2e1a3e 0,#2e1b41 93.5px,#342861 95.5px,#405cbc 97.5px,#4276d6 98.5px,#3f92e5 101.5px,#37b8da 112.5px,#53cca5 118.5px,#b0ca4b 125.5px,#dbbd40 130.5px,#e4b640 137px)"></i><i style="background:linear-gradient(90deg,#2e1a3e 0,#2e1b40 93.5px,#34275f 95.5px,#405bbb 97.5px,#4277d7 98.5px,#3f93e6 100.5px,#39bdd3 111.5px,#56cda2 116.5px,#b6c948 124.5px,#e1b940 128.5px,#edad3f 137px)"></i><i style="background:linear-gradient(90deg,#2e1a3e 0,#2e1b40 93.5px,#33265c 95.5px,#4058b8 97.5px,#4275d5 98.5px,#3e94e6 100.5px,#39bdd3 109.5px,#50cca8 114.5px,#a5cd53 121.5px,#e7b440 127.5px,#f1a13b 137px)"></i><i style="background:linear-gradient(90deg,#2e1a3e 0,#2f1d46 94.5px,#332559 95.5px,#3a3480 96.5px,#3f54b2 97.5px,#4273d3 98.5px,#3e95e6 100.5px,#38bad7 107.5px,#4ac9b2 112.5px,#a2cd56 119.5px,#e4b640 125.5px,#f49838 131.5px,#f39336 137px)"></i><i style="background:linear-gradient(90deg,#2e1a3e 0,#2f1d45 94.5px,#322356 95.5px,#39327b 96.5px,#4271d1 98.5px,#3e95e7 100.5px,#39bdd2 107.5px,#53cca5 112.5px,#a9cc50 118.5px,#e9b240 124.5px,#f28631 130.5px,#f17f2e 137px)"></i><i style="background:linear-gradient(90deg,#2e1a3e 0,#2f1c44 94.5px,#322355 95.5px,#393179 96.5px,#4271d1 98.5px,#3e96e7 100.5px,#39bbd5 106.5px,#52cca6 111.5px,#adcb4d 117.5px,#eeaa3e 123.5px,#ec712a 129.5px,#e66427 137px)"></i><i style="background:linear-gradient(90deg,#2e1a3e 0,#2f1d45 94.5px,#322355 95.5px,#39327b 96.5px,#4274d4 98.5px,#3e98e8 100.5px,#3abed1 106.5px,#5ece9a 111.5px,#b1ca4a 116.5px,#eeab3e 121.5px,#e76728 126.5px,#d94e23 133.5px,#d74b22 137px)"></i><i style="background:linear-gradient(90deg,#2e1a3e 0,#2f1d46 94.5px,#332459 95.5px,#3a3581 96.5px,#4058b7 97.5px,#4279d9 98.5px,#3d9ae7 100.5px,#3bc1cd 106.5px,#5bcd9d 110.5px,#b5c948 115.5px,#eeaa3e 119.5px,#ea6e29 123.5px,#d44522 127.5px,#ca3820 137px)"></i><i style="background:linear-gradient(90deg,#2e1a3e 0,#2e1b40 93.5px,#34275e 95.5px,#3b3a8a 96.5px,#405fbf 97.5px,#417fdc 98.5px,#3d9ce7 100.5px,#3abed1 105.5px,#58cda0 109.5px,#b8c946 114.5px,#edac3f 117.5px,#e86828 121.5px,#c93820 126.5px,#bf2f21 137px)"></i><i style="background:linear-gradient(90deg,#2e1a3e 0,#2f1b41 93.5px,#301f4a 94.5px,#352965 95.5px,#4167c7 97.5px,#3e97e7 99.5px,#39bbd5 104.5px,#54cda4 108.5px,#bac845 113.5px,#e7b440 115.5px,#ef782c 118.5px,#cf3f21 122.5px,#b92a22 131.5px,#b82a22 137px)"></i><i style="background:linear-gradient(90deg,#2e1a3e 0,#2f1c42 93.5px,#31204e 94.5px,#372d6d 95.5px,#416fcf 97.5px,#3e9ae8 99.5px,#3abed1 104.5px,#50cca8 107.5px,#bcc844 112.5px,#ebb040 114.5px,#f1812f 116.5px,#d44722 119.5px,#b92a22 125.5px,#b52722 137px)"></i><i style="background:linear-gradient(90deg,#2e1a3e 0,#2f1c44 93.5px,#322253 94.5px,#383177 95.5px,#3f52af 96.5px,#4277d7 97.5px,#3d9ce7 99.5px,#39bbd6 103.5px,#4ccbae 106.5px,#bcc844 111.5px,#edac3f 113.5px,#ef782c 115.5px,#ce3d20 118.5px,#b42622 126.5px,#b42622 137px)"></i><i style="background:linear-gradient(90deg,#2e1a3e 0,#2f1d46 93.5px,#332458 94.5px,#3a3683 95.5px,#405cbc 96.5px,#417fdb 97.5px,#3c9fe6 99.5px,#3abed1 103.5px,#56cda2 106.5px,#bbc845 110.5px,#eea93e 112.5px,#ec712a 114.5px,#c93820 117.5px,#b32522 125.5px,#b32622 137px)"></i><i style="background:linear-gradient(90deg,#2e1a3e 0,#2e1b40 92.5px,#342760 94.5px,#3c3e90 95.5px,#4165c5 96.5px,#4086df 97.5px,#39aae3 100.5px,#44c7bc 104.5px,#64cf94 106.5px,#b6c947 109.5px,#eea93e 111.5px,#e96c29 113.5px,#c63521 116.5px,#b22522 124.5px,#b32522 137px)"></i><i style="background:linear-gradient(90deg,#2e1a3e 0,#2f1b42 92.5px,#301f4c 93.5px,#362b69 94.5px,#416ece 96.5px,#3d9ce7 98.5px,#3abed1 102.5px,#5bcd9d 105.5px,#afcb4c 108.5px,#edae3f 110.5px,#e96a28 112.5px,#ce3c20 114.5px,#b32522 120.5px,#b22522 137px)"></i><i style="background:linear-gradient(90deg,#2e1a3e 0,#2f1c43 92.5px,#312150 93.5px,#382f74 94.5px,#3f51ae 95.5px,#4278d7 96.5px,#3c9fe6 98.5px,#3bc2cb 102.5px,#51cca7 104.5px,#a5cd53 107.5px,#e6b540 109.5px,#f49537 110.5px,#da5023 112.5px,#c23221 114.5px,#ae2322 125.5px,#b12522 137px)"></i><i style="background:linear-gradient(90deg,#2e1a3e 0,#2f1d46 92.5px,#332457 93.5px,#3a3582 94.5px,#405cbc 95.5px,#4180dc 96.5px,#3ba3e5 98.5px,#3abdd2 101.5px,#5dce9b 104.5px,#b5c948 107.5px,#dabe40 108.5px,#f1a13b 109.5px,#f07b2c 110.5px,#ce3e20 112.5px,#b42722 116.5px,#b02422 137px)"></i><i style="background:linear-gradient(90deg,#2e1a3e 0,#2f1c43 91.5px,#342860 93.5px,#3c3e90 94.5px,#4166c6 95.5px,#4088e0 96.5px,#37b0e1 99.5px,#43c7bc 102.5px,#6acf8e 104.5px,#a8cc50 106.5px,#ebb140 108.5px,#f28b33 109.5px,#d34521 111.5px,#b72922 114.5px,#ab2221 133.5px,#af2422 137px)"></i><i style="background:linear-gradient(90deg,#2e1a3e 0,#301d47 91.5px,#312251 92.5px,#372d6e 93.5px,#4270d0 95.5px,#3c9ee6 97.5px,#39bcd4 100.5px,#5ccd9c 103.5px,#b6c948 106.5px,#dcbd40 107.5px,#f29e3a 108.5px,#db5023 110.5px,#bf2f21 112.5px,#a62021 130.5px,#ad2321 137px)"></i><i style="background:linear-gradient(90deg,#2e1a3e 0,#301d47 90.5px,#34275f 92.5px,#3a3683 93.5px,#4058b8 94.5px,#427ad9 95.5px,#3ba1e5 97.5px,#3abfd0 100.5px,#4fcbaa 102.5px,#a7cc51 105.5px,#ebb140 107.5px,#f28a32 108.5px,#d24221 110.5px,#b62822 113.5px,#a31f21 131.5px,#ab2221 137px)"></i><i style="background:linear-gradient(90deg,#2e1a3e 0,#2f1c44 88.5px,#34275e 91.5px,#3e49a1 93.5px,#4168c8 94.5px,#3e97e7 96.5px,#3bc2cb 100.5px,#57cda1 102.5px,#b4ca49 105.5px,#dabe40 106.5px,#f1a03b 107.5px,#ee762b 108.5px,#ca3920 110.5px,#b22522 114.5px,#a01d21 131.5px,#a82121 137px)"></i><i style="background:linear-gradient(90deg,#2e1a3e 0,#2f1d45 87.5px,#352963 90.5px,#4160c0 93.5px,#408be1 95.5px,#37b2e1 98.5px,#4acab1 101.5px,#a3cd55 104.5px,#e9b340 106.5px,#f28d33 107.5px,#d24321 109.5px,#b62722 112.5px,#9b1b20 130.5px,#a52021 137px)"></i><i style="background:linear-gradient(90deg,#2e1a3e 0,#2f1d45 86.5px,#352a67 89.5px,#4162c2 92.5px,#3f91e4 95.5px,#36b4e0 98.5px,#4fcca9 101.5px,#b0ca4b 104.5px,#d7c040 105.5px,#f1a23b 106.5px,#ef792c 107.5px,#cb3920 109.5px,#b22522 113.5px,#971a20 130.5px,#a21e21 137px)"></i><i style="background:linear-gradient(90deg,#2e1a3e 0,#2f1d45 85.5px,#322354 87.5px,#3b3a89 89.5px,#4167c7 91.5px,#3f8ee3 94.5px,#37b6dd 98.5px,#44c7bb 100.5px,#79d07f 102.5px,#bec744 104.5px,#e6b540 105.5px,#f38f35 106.5px,#d34421 108.5px,#b62822 111.5px,#93191f 130.5px,#9f1d20 137px)"></i><i style="background:linear-gradient(90deg,#2e1a3e 0,#2f1d45 84.5px,#322354 86.5px,#3b3b8a 88.5px,#416aca 90.5px,#3f91e4 93.5px,#37b7db 98.5px,#49c9b4 100.5px,#accb4d 103.5px,#d3c141 104.5px,#f0a43c 105.5px,#f07a2c 106.5px,#cb3920 108.5px,#b22522 112.5px,#8f171e 129.5px,#9b1b20 137px)"></i><i style="background:linear-gradient(90deg,#2e1a3e 0,#2f1c44 83.5px,#322354 85.5px,#3b3b8b 87.5px,#416bcb 89.5px,#3e95e6 92.5px,#38bad7 98.5px,#4fccaa 100.5px,#9ace5e 102.5px,#bcc844 103.5px,#e6b540 104.5px,#f38f34 105.5px,#d34421 107.5px,#b62822 110.5px,#8c161d 129.5px,#981a20 137px)"></i><i style="background:linear-gradient(90deg,#2e1a3e 0,#2f1c44 82.5px,#322354 84.5px,#3b3b8b 86.5px,#416ccc 88.5px,#3e98e8 91.5px,#37b6de 97.5px,#42c7be 99.5px,#5bcd9d 100.5px,#abcb4e 102.5px,#d4c141 103.5px,#f0a33c 104.5px,#ef772b 105.5px,#ca3820 107.5px,#b32522 111.5px,#89161d 129.5px,#94191f 137px)"></i><i style="background:linear-gradient(90deg,#2e1a3e 0,#2f1d45 81.5px,#322354 83.5px,#3b3b8a 85.5px,#416ccc 87.5px,#3e99e8 90.5px,#38b8da 95.5px,#3bc2cc 98.5px,#4acab2 99.5px,#98cf60 101.5px,#bdc844 102.5px,#e8b340 103.5px,#f28b33 104.5px,#d14121 106.5px,#b62822 109.5px,#86151c 129.5px,#91181e 137px)"></i><i style="background:linear-gradient(90deg,#2e1a3e 0,#2f1d45 79.5px,#33255a 82.5px,#3b3c8c 84.5px,#416bcb 86.5px,#3e9ae8 89.5px,#3abfd0 94.5px,#3bc0ce 97.5px,#41c6c1 98.5px,#56cda2 99.5px,#accb4e 101.5px,#d8c040 102.5px,#f29e3a 103.5px,#d84c22 105.5px,#bd2e21 107.5px,#84141c 129.5px,#8e171e 137px)"></i><i style="background:linear-gradient(90deg,#2e1a3e 0,#2f1c44 76.5px,#34265d 80.5px,#3c4296 83.5px,#416ccc 85.5px,#3e99e8 88.5px,#3cc3c9 93.5px,#41c6c0 97.5px,#4bcab1 98.5px,#98cf60 100.5px,#c0c743 101.5px,#ecb040 102.5px,#f18430 103.5px,#e05824 104.5px,#c13021 106.5px,#83141b 129.5px,#8b161d 137px)"></i><i style="background:linear-gradient(90deg,#2e1a3e 0,#301d47 74.5px,#393178 79.5px,#417fdc 85.5px,#3ba4e5 88.5px,#45c8b9 93.5px,#4ccaae 97.5px,#5bcd9d 98.5px,#adcb4d 100.5px,#dcbd40 101.5px,#f49838 102.5px,#d44622 104.5px,#bc2c21 106.5px,#81141b 129.5px,#89161d 137px)"></i><i style="background:linear-gradient(90deg,#2e1a3e 0,#2f1d45 71.5px,#362b69 75.5px,#4163c3 81.5px,#3e99e8 86.5px,#3abfcf 90.5px,#5acd9e 95.5px,#5ece9a 97.5px,#73d085 98.5px,#c4c643 100.5px,#eeab3e 101.5px,#f07d2d 102.5px,#dc5223 103.5px,#bf2f21 105.5px,#81131b 129.5px,#87151c 137px)"></i><i style="background:linear-gradient(90deg,#2e1a3e 0,#2f1c44 68.5px,#352964 72.5px,#4161c1 78.5px,#3e9ae8 85.5px,#3abfd0 89.5px,#6bcf8d 95.5px,#75d083 97.5px,#b0ca4b 99.5px,#debb40 100.5px,#f39336 101.5px,#d14221 103.5px,#b62822 106.5px,#991a20 119.5px,#80131b 130.5px,#87151c 137px)"></i><i style="background:linear-gradient(90deg,#2e1a3e 0,#2f1d46 66.5px,#372d6e 70.5px,#4160c0 75.5px,#3d9ce7 84.5px,#3abfd0 88.5px,#7cd07c 95.5px,#8ed06a 97.5px,#c7c542 99.5px,#eea93e 100.5px,#f0792c 101.5px,#da4e23 102.5px,#bd2e21 104.5px,#95191f 120.5px,#81131b 131.5px,#86151c 137px)"></i><i style="background:linear-gradient(90deg,#2e1a3e 0,#2f1d45 64.5px,#393179 68.5px,#405dbd 72.5px,#4086df 79.5px,#3aa7e4 84.5px,#3fc5c4 88.5px,#a2cd56 97.5px,#b8c947 98.5px,#e0ba40 99.5px,#f39236 100.5px,#e46126 101.5px,#d03f21 102.5px,#b62822 105.5px,#9d1c20 118.5px,#81131b 129.5px,#87151c 137px)"></i><i style="background:linear-gradient(90deg,#2e1a3e 0,#301d47 63.5px,#342862 65.5px,#405aba 69.5px,#4180dc 75.5px,#38ace2 83.5px,#48c9b5 88.5px,#b3ca49 97.5px,#d0c241 98.5px,#efa83d 99.5px,#f07a2c 100.5px,#d94e23 101.5px,#bc2d21 103.5px,#9a1b20 119.5px,#82141b 130.5px,#88161d 137px)"></i><i style="background:linear-gradient(90deg,#2e1a3e 0,#2f1d45 61.5px,#322252 63.5px,#3b3886 65.5px,#405dbd 67.5px,#417edb 72.5px,#39abe3 81.5px,#41c6c0 86.5px,#b1ca4b 96.5px,#e4b640 98.5px,#f39336 99.5px,#d04021 101.5px,#b62822 104.5px,#9f1d20 118.5px,#82141b 129.5px,#8a161d 137px)"></i><i style="background:linear-gradient(90deg,#2e1b40 0,#2f1c44 60.5px,#362a67 63.5px,#4164c4 66.5px,#4181dd 70.5px,#38ade2 79.5px,#44c7bb 85.5px,#accb4e 95.5px,#dabe40 97.5px,#efa63d 98.5px,#f07d2d 99.5px,#dc5223 100.5px,#c93720 101.5px,#b42622 105.5px,#a01d21 118.5px,#84141c 129.5px,#8d171e 137px)"></i><i style="background:linear-gradient(90deg,#31204c 0,#2f1c44 32.5px,#2f1b41 59.5px,#322252 61.5px,#3b3988 63.5px,#4167c7 65.5px,#4184de 68.5px,#37b0e1 77.5px,#48c9b4 84.5px,#a4cd54 94.5px,#e7b440 97.5px,#f49537 98.5px,#d44522 100.5px,#ba2b22 102.5px,#9d1c20 119.5px,#86151c 130.5px,#90181e 137px)"></i><i style="background:linear-gradient(90deg,#372d6f 0,#362c6b 30.5px,#2e1a3f 34.5px,#2f1b42 59.5px,#342760 61.5px,#3f52af 63.5px,#427ad9 65.5px,#3ba3e5 72.5px,#3ec5c4 80.5px,#9cce5c 93.5px,#b9c946 95.5px,#eeab3e 97.5px,#f28631 98.5px,#ce3d20 100.5px,#b52722 103.5px,#a21e21 118.5px,#88151d 129.5px,#93191f 137px)"></i><i style="background:linear-gradient(90deg,#3d48a0 0,#3d479e 29.5px,#3a3581 31.5px,#2f1d46 33.5px,#2f1c42 59.5px,#312150 60.5px,#3e4ca5 62.5px,#416aca 63.5px,#408ae1 65.5px,#37b6dd 73.5px,#54cda4 82.5px,#accb4e 94.5px,#dcbd40 96.5px,#f0a33c 97.5px,#f07d2d 98.5px,#cb3920 100.5px,#b52722 103.5px,#a01d21 119.5px,#8c161d 130.5px,#971a20 137px)"></i><i style="background:linear-gradient(90deg,#4060c0 0,#405dbd 29.5px,#4056b5 30.5px,#301e48 33.5px,#2e1a3e 41.5px,#2f1c44 59.5px,#332458 60.5px,#3b3b8a 61.5px,#4162c2 62.5px,#417fdc 63.5px,#3aa5e4 67.5px,#44c7bc 76.5px,#a0cd58 93.5px,#c0c743 95.5px,#f1a03b 97.5px,#f0792c 98.5px,#c93820 100.5px,#b42622 104.5px,#a21e21 119.5px,#8f171e 130.5px,#9b1b20 137px)"></i><i style="background:linear-gradient(90deg,#416aca 0,#4167c7 29.5px,#405fbf 30.5px,#3e49a1 31.5px,#301f4a 33.5px,#2e1a3e 37.5px,#301d47 59.5px,#352965 60.5px,#4276d6 62.5px,#3ca0e6 64.5px,#42c7be 73.5px,#88d070 88.5px,#a1cd57 93.5px,#bfc744 95.5px,#f1a13b 97.5px,#f07b2c 98.5px,#cb3920 100.5px,#b52722 103.5px,#a11e21 120.5px,#94191f 131.5px,#9e1d20 137px)"></i><i style="background:linear-gradient(90deg,#416dcd 0,#4169c9 29.5px,#4162c2 30.5px,#3e4ca6 31.5px,#301f4b 33.5px,#2e1a3e 36.5px,#2e1b40 58.5px,#311f4c 59.5px,#383076 60.5px,#405dbd 61.5px,#4089e1 62.5px,#37afe1 64.5px,#4ecbab 73.5px,#89d06f 87.5px,#a1cd57 93.5px,#bcc844 95.5px,#f0a53c 97.5px,#f1802e 98.5px,#cd3c20 100.5px,#b52722 103.5px,#a11e21 121.5px,#991b20 132.5px,#a11e21 137px)"></i><i style="background:linear-gradient(90deg,#4270d0 0,#416bcb 29.5px,#4163c3 30.5px,#3e4fa9 31.5px,#31204d 33.5px,#2e1a3e 36.5px,#2f1c43 58.5px,#322356 59.5px,#3c3e8f 60.5px,#4271d1 61.5px,#3d9de7 62.5px,#38bad6 64.5px,#7ad07e 79.5px,#a0cd58 93.5px,#b9c946 95.5px,#eeab3e 97.5px,#f28831 98.5px,#d14121 100.5px,#b62822 103.5px,#9f1d20 123.5px,#a31f21 135.5px,#a51f21 137px)"></i><i style="background:linear-gradient(90deg,#4274d4 0,#4165c5 30.5px,#3f51ad 31.5px,#31214f 33.5px,#2e1a3e 35.5px,#2e1b40 57.5px,#301e48 58.5px,#362b6a 59.5px,#3f54b1 60.5px,#4089e0 61.5px,#37b0e1 62.5px,#46c8b8 66.5px,#83d075 79.5px,#a0cd58 93.5px,#b6c947 95.5px,#eab240 97.5px,#f39135 98.5px,#d54822 100.5px,#bc2d21 102.5px,#9f1d21 131.5px,#a82121 137px)"></i><i style="background:linear-gradient(90deg,#427ad9 0,#4168c8 30.5px,#3f54b2 31.5px,#322356 33.5px,#2e1b40 35.5px,#2f1c43 57.5px,#322355 58.5px,#3b3b8a 59.5px,#416fcf 60.5px,#3ba2e5 61.5px,#39bcd4 62.5px,#59cd9f 67.5px,#8dd06b 80.5px,#a0cd58 93.5px,#c9c442 96.5px,#f39b39 98.5px,#db5123 100.5px,#c03021 102.5px,#a31f21 131.5px,#ab2221 137px)"></i><i style="background:linear-gradient(90deg,#4180dc 0,#4273d3 29.5px,#4059b9 31.5px,#352965 33.5px,#2f1c44 35.5px,#2f1b41 56.5px,#31204c 57.5px,#372e71 58.5px,#4058b7 59.5px,#3f8ee3 60.5px,#37b7db 61.5px,#51cca7 64.5px,#88d070 75.5px,#a2cd56 93.5px,#c3c643 96.5px,#f0a53c 98.5px,#e35f26 100.5px,#c73620 102.5px,#b62722 110.5px,#ab2221 133.5px,#ae2422 137px)"></i><i style="background:linear-gradient(90deg,#4086df 0,#4272d2 30.5px,#3e4ba4 32.5px,#322253 35.5px,#2e1a3e 39.5px,#2f1b41 55.5px,#301e49 56.5px,#352963 57.5px,#3d479d 58.5px,#427ad9 59.5px,#38ace2 60.5px,#3cc3c9 61.5px,#5ece9a 64.5px,#92d066 76.5px,#aacc4f 94.5px,#bfc744 96.5px,#ecb040 98.5px,#ed732a 100.5px,#d34421 102.5px,#bc2d21 107.5px,#b22522 134.5px,#b42622 137px)"></i><i style="background:linear-gradient(90deg,#408ce2 0,#427cda 30.5px,#3f50ac 33.5px,#33265b 36.5px,#2e1b40 39.5px,#2f1b42 54.5px,#342760 56.5px,#3c3e8f 57.5px,#416ccc 58.5px,#3c9fe6 59.5px,#3abed1 60.5px,#60ce98 63.5px,#86d072 70.5px,#a6cc52 87.5px,#b5c948 95.5px,#e3b740 98.5px,#f28b33 100.5px,#d94e23 103.5px,#c33321 108.5px,#bb2c21 137px)"></i><i style="background:linear-gradient(90deg,#3f91e5 0,#4181dc 31.5px,#405ebe 34.5px,#322355 38.5px,#2e1a3f 42.5px,#2f1d45 53.5px,#352964 55.5px,#3b3d8d 56.5px,#4164c4 57.5px,#3e94e6 58.5px,#38b9d9 59.5px,#5ece9a 62.5px,#86d072 68.5px,#b0ca4b 85.5px,#bac845 95.5px,#eab140 99.5px,#f07e2d 102.5px,#d54822 107.5px,#c83620 119.5px,#c83620 137px)"></i><i style="background:linear-gradient(90deg,#3e96e7 0,#408ae1 32.5px,#416fcf 35.5px,#3d48a0 37.5px,#322355 40.5px,#2e1b41 45.5px,#312150 52.5px,#383076 54.5px,#4166c6 56.5px,#3f8fe4 57.5px,#36b5df 58.5px,#5acd9e 61.5px,#84d074 66.5px,#bcc844 86.5px,#c9c442 96.5px,#f0a53c 101.5px,#e05924 109.5px,#d64922 132.5px,#d84c22 137px)"></i><i style="background:linear-gradient(90deg,#3d9be7 0,#3f92e5 34.5px,#4270d0 37.5px,#372e71 41.5px,#322253 44.5px,#332457 49.5px,#3a347f 52.5px,#4275d5 55.5px,#3e96e7 56.5px,#3cc3ca 58.5px,#6ed08a 62.5px,#8cd06c 68.5px,#b4ca49 79.5px,#cdc342 87.5px,#dbbe40 98.5px,#f38f34 106.5px,#e96c29 114.5px,#e96b28 137px)"></i><i style="background:linear-gradient(90deg,#3ca1e6 0,#3d9ae7 36.5px,#4276d6 39.5px,#3c4194 43.5px,#3b3887 47.5px,#3e4aa3 50.5px,#3f8fe4 54.5px,#37b8db 56.5px,#69cf8f 61.5px,#8cd06c 67.5px,#a8cc50 76.5px,#dabf40 85.5px,#eab240 102.5px,#f28a32 115.5px,#f28932 137px)"></i><i style="background:linear-gradient(90deg,#3aa6e4 0,#3ba2e5 38.5px,#416fcf 45.5px,#4085de 50.5px,#39aae3 53.5px,#45c8b9 57.5px,#85d073 64.5px,#a3cd55 75.5px,#e0b940 84.5px,#efa73d 108.5px,#f29e3a 137px)"></i><i style="background:linear-gradient(90deg,#39abe3 0,#3aa7e4 43.5px,#36b3e0 50.5px,#4ccaaf 57.5px,#86d072 64.5px,#a5cd53 75.5px,#e6b540 84.5px,#efa83d 137px)"></i><i style="background:linear-gradient(90deg,#37afe1 0,#38bad7 42.5px,#42c6bf 54.5px,#87d071 64.5px,#a5cc53 75.5px,#e6b540 83.5px,#eeab3e 137px)"></i><i style="background:linear-gradient(90deg,#37b1e1 0,#38b9d8 39.5px,#49c9b3 55.5px,#87d071 64.5px,#9fce59 74.5px,#dbbd40 81.5px,#ecaf40 88.5px,#edad3f 137px)"></i><i style="background:linear-gradient(90deg,#36b3e0 0,#38b9d9 38.5px,#4bcab0 55.5px,#89d06f 65.5px,#9ece5a 74.5px,#dbbe40 81.5px,#ecaf40 89.5px,#edae3f 137px)"></i><i style="background:linear-gradient(90deg,#36b3e0 0,#38b9d8 38.5px,#50cca8 56.5px,#88d070 65.5px,#9dce5b 74.5px,#d9bf40 81.5px,#eab240 89.5px,#ebb140 137px)"></i><i style="background:linear-gradient(90deg,#36b3e0 0,#38bad8 38.5px,#50cca8 56.5px,#86d072 65.5px,#9cce5c 74.5px,#d5c140 81.5px,#e5b640 90.5px,#e6b440 137px)"></i><i style="background:linear-gradient(90deg,#36b3e0 0,#38b9d8 38.5px,#4fcca9 56.5px,#82d076 65.5px,#99ce5f 74.5px,#cfc341 81.5px,#debb40 89.5px,#e0ba40 137px)"></i><i style="background:linear-gradient(90deg,#37b2e1 0,#38bad7 39.5px,#4dcbad 56.5px,#7dd07b 65.5px,#95cf63 74.5px,#c6c543 81.5px,#d5c140 91.5px,#d6c140 137px)"></i><i style="background:linear-gradient(90deg,#37afe1 0,#38b8d9 39.5px,#4acab2 56.5px,#76d082 65.5px,#88d070 73.5px,#b7c947 80.5px,#c6c543 91.5px,#c7c542 137px)"></i><i style="background:linear-gradient(90deg,#38abe2 0,#37b6de 39.5px,#45c7ba 56.5px,#6ccf8c 65.5px,#7ed07a 73.5px,#aecb4d 80.5px,#b7c947 133.5px,#b7c947 137px)"></i><i style="background:linear-gradient(90deg,#3aa5e4 0,#37b0e1 39.5px,#41c6c0 57.5px,#5fce99 66.5px,#76d082 74.5px,#a2cd56 81.5px,#a6cc52 137px)"></i><i style="background:linear-gradient(90deg,#3d9de7 0,#3aa7e4 40.5px,#3abfcf 57.5px,#4ecbab 67.5px,#61ce97 74.5px,#8dd06b 81.5px,#8cd06c 137px)"></i><i style="background:linear-gradient(90deg,#408ce2 0,#3e97e7 43.5px,#37b0e1 57.5px,#46c8b8 74.5px,#66cf92 82.5px,#60ce98 112.5px,#5fce99 137px)"></i><i style="background:linear-gradient(90deg,#416ccc 0,#4279d9 52.5px,#3ba4e5 66.5px,#39bcd4 78.5px,#3ac0cf 111.5px,#3abdd2 137px)"></i><i style="background:linear-gradient(90deg,#3d4499 0,#3e4da6 52.5px,#416bcb 67.5px,#4183de 88.5px,#4087df 137px)"></i><i style="background:linear-gradient(90deg,#382f75 0,#3a3582 56.5px,#3d49a0 90.5px,#3e4ca6 137px)"></i><i style="background:linear-gradient(90deg,#382f74 0,#39327a 92.5px,#372d6f 108.5px,#372d6f 137px)"></i><i style="background:linear-gradient(90deg,#3a3480 0,#39337c 91.5px,#34265c 96.5px,#33265c 137px)"></i><i style="background:linear-gradient(90deg,#3b3887 0,#3a3582 91.5px,#33255a 96.5px,#332459 137px)"></i><i style="background:linear-gradient(90deg,#3b3a89 0,#3a3784 91.5px,#332559 96.5px,#332458 137px)"></i><i style="background:linear-gradient(90deg,#3b3988 0,#3a3683 91.5px,#332559 96.5px,#332458 137px)"></i><i style="background:linear-gradient(90deg,#3b3a89 0,#3a3785 91.5px,#342861 96.5px,#342760 137px)"></i><i style="background:linear-gradient(90deg,#3f51ad 0,#3e4da7 92.5px,#3c4397 99.5px,#3c4397 137px)"></i><i style="background:linear-gradient(90deg,#408ae1 0,#4086df 137px)"></i><i style="background:linear-gradient(90deg,#37b7dc 0,#37b7dc 137px)"></i><i style="background:linear-gradient(90deg,#3cc4c8 0,#3cc4c8 137px)"></i><i style="background:linear-gradient(90deg,#42c6bf 0,#42c7be 137px)"></i><i style="background:linear-gradient(90deg,#40c6c2 0,#43c7bc 137px)"></i><i style="background:linear-gradient(90deg,#39bcd3 0,#3abfcf 40.5px,#41c6c0 47.5px,#41c6c0 137px)"></i><i style="background:linear-gradient(90deg,#3d9de7 0,#3ca1e6 39.5px,#3bc1cd 43.5px,#3bc2cb 137px)"></i><i style="background:linear-gradient(90deg,#4274d4 0,#427ad9 39.5px,#37b2e1 42.5px,#38bad8 72.5px,#38bad8 137px)"></i><i style="background:linear-gradient(90deg,#405fbf 0,#4166c6 39.5px,#3f93e5 41.5px,#36b3e0 43.5px,#36b5de 137px)"></i></div>
<svg width="685" height="363" viewBox="0 0 685 363">
<text x="4.80" y="12.00" font-size="16">A</text>
<clipPath id="cA"><rect x="19.10" y="13.10" width="133.70" height="133.10"/></clipPath><g clip-path="url(#cA)"><path d="M20.30 13.10C20.73 15.67 22.05 23.18 22.90 28.50C23.75 33.82 24.57 40.07 25.40 45.00C26.23 49.93 27.07 54.27 27.90 58.10C28.73 61.93 29.50 64.92 30.40 68.00C31.30 71.08 32.13 73.25 33.30 76.60C34.47 79.95 36.03 84.67 37.40 88.10C38.77 91.53 40.12 94.43 41.50 97.20C42.88 99.97 44.05 102.08 45.70 104.70C47.35 107.32 49.83 110.80 51.40 112.90C52.97 115.00 53.45 115.62 55.10 117.30C56.75 118.98 59.12 120.93 61.30 123.00C63.48 125.07 65.77 127.33 68.20 129.70C70.63 132.07 73.07 134.77 75.90 137.20C78.73 139.63 83.65 143.12 85.20 144.30" fill="none" stroke="#111" stroke-width="0.55" stroke-linejoin="round" stroke-linecap="round"/><path d="M85.20 144.30C86.83 142.77 91.43 138.57 95.00 135.10C98.57 131.63 103.60 126.42 106.60 123.50C109.60 120.58 110.88 119.65 113.00 117.60C115.12 115.55 117.55 113.38 119.30 111.20C121.05 109.02 122.30 106.68 123.50 104.50C124.70 102.32 125.17 100.82 126.50 98.10C127.83 95.38 129.98 91.50 131.50 88.20C133.02 84.90 134.23 81.33 135.60 78.30C136.97 75.27 138.55 73.38 139.70 70.00C140.85 66.62 141.58 62.17 142.50 58.00C143.42 53.83 144.37 49.17 145.20 45.00C146.03 40.83 146.78 36.83 147.50 33.00C148.22 29.17 148.92 25.32 149.50 22.00C150.08 18.68 150.75 14.58 151.00 13.10" fill="none" stroke="#111" stroke-width="0.55" stroke-linejoin="round" stroke-linecap="round"/>
<path d="M154.00 20.60C153.87 20.65 153.48 20.73 153.20 20.90C152.92 21.07 153.17 19.25 152.30 21.60C151.43 23.95 149.28 30.50 148.00 35.00C146.72 39.50 145.67 44.43 144.60 48.60C143.53 52.77 142.67 56.72 141.60 60.00C140.53 63.28 139.22 66.00 138.20 68.30C137.18 70.60 135.62 71.97 135.50 73.80C135.38 75.63 136.47 77.47 137.50 79.30C138.53 81.13 141.00 83.08 141.70 84.80C142.40 86.52 142.40 88.23 141.70 89.60C141.00 90.97 139.23 92.32 137.50 93.00C135.77 93.68 134.63 93.70 131.30 93.70C127.97 93.70 121.40 93.00 117.50 93.00C113.60 93.00 109.62 93.12 107.90 93.70C106.18 94.28 106.52 95.45 107.20 96.50C107.88 97.55 110.05 98.75 112.00 100.00C113.95 101.25 116.93 102.67 118.90 104.00C120.87 105.33 122.58 106.17 123.80 108.00C125.02 109.83 125.03 112.85 126.20 115.00C127.37 117.15 128.47 118.95 130.80 120.90C133.13 122.85 136.50 125.27 140.20 126.70C143.90 128.13 150.87 129.03 153.00 129.50" fill="none" stroke="#000" stroke-width="1.10" stroke-linejoin="round" stroke-linecap="round"/></g>
<text x="85.95" y="11.80" font-size="5.90" text-anchor="middle">Wavelet Power Spectrum</text>
<text x="15.90" y="46.00" font-size="5.10" text-anchor="end">4</text>
<text x="15.90" y="77.70" font-size="5.10" text-anchor="end">8</text>
<text x="15.90" y="109.20" font-size="5.10" text-anchor="end">16</text>
<text x="15.90" y="140.80" font-size="5.10" text-anchor="end">32</text>
<text x="43.70" y="153.40" font-size="5.10" text-anchor="middle">20</text>
<text x="70.80" y="153.40" font-size="5.10" text-anchor="middle">40</text>
<text x="97.70" y="153.40" font-size="5.10" text-anchor="middle">60</text>
<text x="125.00" y="153.40" font-size="5.10" text-anchor="middle">80</text>
<text x="151.90" y="153.40" font-size="5.10" text-anchor="middle">100</text>
<text x="85.95" y="159.80" font-size="5.90" text-anchor="middle">Time (months)</text>
<text x="0" y="0" font-size="5.9" text-anchor="middle" transform="translate(8.60 79.65) rotate(-90)">Period (months)</text>
<rect x="168.30" y="13.30" width="44.60" height="132.90" fill="#fff" stroke="#888" stroke-width="0.6"/>
<text x="190.60" y="11.30" font-size="4.70" text-anchor="middle">Global Wavelet Spectrum</text>
<text x="166.70" y="45.30" font-size="4.70" text-anchor="end">4</text>
<text x="166.70" y="77.00" font-size="4.70" text-anchor="end">8</text>
<text x="166.70" y="108.50" font-size="4.70" text-anchor="end">16</text>
<text x="166.70" y="140.10" font-size="4.70" text-anchor="end">32</text>
<text x="168.40" y="151.80" font-size="4.60" text-anchor="middle">0</text>
<text x="186.40" y="151.80" font-size="4.60" text-anchor="middle">2</text>
<text x="204.50" y="151.80" font-size="4.60" text-anchor="middle">4</text>
<text x="190.60" y="156.80" font-size="5.20" text-anchor="middle">Power</text>
<text x="203.30" y="157.60" font-size="4.3">&#215;10<tspan dy="-2" font-size="3.6">5</tspan></text>
<clipPath id="gA"><rect x="168.30" y="13.30" width="44.60" height="132.90"/></clipPath>
<g clip-path="url(#gA)">
<path d="M168.70 13.50C168.87 14.85 169.07 18.65 169.70 21.60C170.33 24.55 171.38 27.67 172.50 31.20C173.62 34.73 175.43 39.42 176.40 42.80C177.37 46.18 177.50 48.92 178.30 51.50C179.10 54.08 180.38 55.88 181.20 58.30C182.02 60.72 182.55 64.23 183.20 66.00C183.85 67.77 184.30 67.78 185.10 68.90C185.90 70.02 187.42 71.58 188.00 72.70C188.58 73.82 188.93 74.63 188.60 75.60C188.27 76.57 186.63 77.73 186.00 78.50C185.37 79.27 185.52 79.07 184.80 80.20C184.08 81.33 181.87 83.58 181.70 85.30C181.53 87.02 182.25 89.12 183.80 90.50C185.35 91.88 188.25 92.38 191.00 93.60C193.75 94.82 198.23 96.58 200.30 97.80C202.37 99.02 203.40 99.87 203.40 100.90C203.40 101.93 202.02 102.80 200.30 104.00C198.58 105.20 194.82 106.90 193.10 108.10C191.38 109.30 190.68 110.00 190.00 111.20C189.32 112.40 189.87 113.75 189.00 115.30C188.13 116.85 186.35 118.93 184.80 120.50C183.25 122.07 181.07 123.32 179.70 124.70C178.33 126.08 177.20 127.08 176.60 128.80C176.00 130.52 176.10 132.93 176.10 135.00C176.10 137.07 176.35 139.33 176.60 141.20C176.85 143.07 177.43 145.37 177.60 146.20" fill="none" stroke="#5b9bd8" stroke-width="0.75" stroke-linejoin="round" stroke-linecap="round"/>
<path d="M186.00 13.30C187.02 23.58 189.02 52.85 192.10 75.00C195.18 97.15 202.43 134.33 204.50 146.20" fill="none" stroke="#e8735a" stroke-width="0.7" stroke-dasharray="0.7 1.1"/>
</g>
<path d="M168.30 43.50h1.4M212.90 43.50h-1.4M19.10 43.50h1.3M152.80 43.50h-1.3M168.30 75.20h1.4M212.90 75.20h-1.4M19.10 75.20h1.3M152.80 75.20h-1.3M168.30 106.70h1.4M212.90 106.70h-1.4M19.10 106.70h1.3M152.80 106.70h-1.3M168.30 138.30h1.4M212.90 138.30h-1.4M19.10 138.30h1.3M152.80 138.30h-1.3M168.40 146.20v-1.4M168.40 13.30v1.4M186.40 146.20v-1.4M186.40 13.30v1.4M204.50 146.20v-1.4M204.50 13.30v1.4M43.70 146.20v-1.3M43.70 13.10v1.3M70.80 146.20v-1.3M70.80 13.10v1.3M97.70 146.20v-1.3M97.70 13.10v1.3M125.00 146.20v-1.3M125.00 13.10v1.3M151.90 146.20v-1.3M151.90 13.10v1.3" stroke="#444" stroke-width="0.5" fill="none"/>
<text x="245.80" y="11.90" font-size="16">B</text>
<clipPath id="cB"><rect x="261.10" y="13.10" width="132.90" height="132.70"/></clipPath><g clip-path="url(#cB)"><path d="M262.50 13.10C262.83 15.92 263.50 23.85 264.50 30.00C265.50 36.15 266.90 42.50 268.50 50.00C270.10 57.50 270.82 65.80 274.10 75.00C277.38 84.20 283.05 96.87 288.20 105.20C293.35 113.53 298.45 118.63 305.00 125.00C311.55 131.37 323.75 140.33 327.50 143.40" fill="none" stroke="#111" stroke-width="0.55" stroke-linejoin="round" stroke-linecap="round"/><path d="M327.50 143.40C331.25 140.33 343.45 131.37 350.00 125.00C356.55 118.63 361.65 113.53 366.80 105.20C371.95 96.87 377.62 84.20 380.90 75.00C384.18 65.80 384.90 57.50 386.50 50.00C388.10 42.50 389.50 36.15 390.50 30.00C391.50 23.85 392.17 15.92 392.50 13.10" fill="none" stroke="#111" stroke-width="0.55" stroke-linejoin="round" stroke-linecap="round"/>
<path d="M296.20 94.10C296.32 92.75 300.65 90.77 303.00 90.00C305.35 89.23 307.47 89.53 310.30 89.50C313.13 89.47 316.72 89.63 320.00 89.80C323.28 89.97 325.82 89.95 330.00 90.50C334.18 91.05 340.90 92.00 345.10 93.10C349.30 94.20 352.18 95.42 355.20 97.10C358.22 98.78 360.85 101.35 363.20 103.20C365.55 105.05 367.78 106.20 369.30 108.20C370.82 110.20 370.97 112.85 372.30 115.20C373.63 117.55 374.78 120.12 377.30 122.30C379.82 124.48 385.05 126.45 387.40 128.30C389.75 130.15 391.73 132.22 391.40 133.40C391.07 134.58 389.77 134.57 385.40 135.40C381.03 136.23 371.92 137.73 365.20 138.40C358.48 139.07 351.80 139.07 345.10 139.40C338.40 139.73 331.13 140.40 325.00 140.40C318.87 140.40 315.10 140.07 308.30 139.40C301.50 138.73 289.57 137.23 284.20 136.40C278.83 135.57 277.45 135.42 276.10 134.40C274.75 133.38 274.75 131.82 276.10 130.30C277.45 128.78 279.83 126.63 284.20 125.30C288.57 123.97 297.28 123.63 302.30 122.30C307.32 120.97 311.62 119.32 314.30 117.30C316.98 115.28 318.40 112.55 318.40 110.20C318.40 107.85 316.98 105.22 314.30 103.20C311.62 101.18 305.32 99.62 302.30 98.10C299.28 96.58 296.08 95.45 296.20 94.10Z" fill="none" stroke="#000" stroke-width="1.10" stroke-linejoin="round" stroke-linecap="round"/></g>
<text x="327.55" y="11.80" font-size="5.90" text-anchor="middle">Wavelet Power Spectrum</text>
<text x="257.90" y="46.00" font-size="5.10" text-anchor="end">4</text>
<text x="257.90" y="77.70" font-size="5.10" text-anchor="end">8</text>
<text x="257.90" y="109.20" font-size="5.10" text-anchor="end">16</text>
<text x="257.90" y="140.80" font-size="5.10" text-anchor="end">32</text>
<text x="285.40" y="153.00" font-size="5.10" text-anchor="middle">20</text>
<text x="312.40" y="153.00" font-size="5.10" text-anchor="middle">40</text>
<text x="339.40" y="153.00" font-size="5.10" text-anchor="middle">60</text>
<text x="366.30" y="153.00" font-size="5.10" text-anchor="middle">80</text>
<text x="393.30" y="153.00" font-size="5.10" text-anchor="middle">100</text>
<text x="327.55" y="159.40" font-size="5.90" text-anchor="middle">Time (months)</text>
<text x="0" y="0" font-size="5.9" text-anchor="middle" transform="translate(250.60 79.45) rotate(-90)">Period (months)</text>
<rect x="409.50" y="13.20" width="44.80" height="133.00" fill="#fff" stroke="#888" stroke-width="0.6"/>
<text x="431.90" y="11.20" font-size="4.70" text-anchor="middle">Global Wavelet Spectrum</text>
<text x="407.90" y="45.30" font-size="4.70" text-anchor="end">4</text>
<text x="407.90" y="77.00" font-size="4.70" text-anchor="end">8</text>
<text x="407.90" y="108.50" font-size="4.70" text-anchor="end">16</text>
<text x="407.90" y="140.10" font-size="4.70" text-anchor="end">32</text>
<text x="409.80" y="151.80" font-size="4.60" text-anchor="middle">0</text>
<text x="421.10" y="151.80" font-size="4.60" text-anchor="middle">2</text>
<text x="431.20" y="151.80" font-size="4.60" text-anchor="middle">4</text>
<text x="441.50" y="151.80" font-size="4.60" text-anchor="middle">6</text>
<text x="451.60" y="151.80" font-size="4.60" text-anchor="middle">8</text>
<text x="431.90" y="156.80" font-size="5.20" text-anchor="middle">Power</text>
<text x="444.70" y="157.60" font-size="4.3">&#215;10<tspan dy="-2" font-size="3.6">6</tspan></text>
<clipPath id="gB"><rect x="409.50" y="13.20" width="44.80" height="133.00"/></clipPath>
<g clip-path="url(#gB)">
<path d="M409.70 13.30C409.80 18.12 409.85 35.65 410.30 42.20C410.75 48.75 411.70 49.48 412.40 52.60C413.10 55.72 414.33 58.15 414.50 60.90C414.67 63.65 413.73 66.70 413.40 69.10C413.07 71.50 412.70 73.15 412.50 75.30C412.30 77.45 411.75 79.70 412.20 82.00C412.65 84.30 413.72 86.95 415.20 89.10C416.68 91.25 419.53 92.57 421.10 94.90C422.67 97.23 423.62 100.55 424.60 103.10C425.58 105.65 426.22 107.85 427.00 110.20C427.78 112.55 427.93 115.25 429.30 117.20C430.67 119.15 432.85 120.33 435.20 121.90C437.55 123.47 441.65 125.23 443.40 126.60C445.15 127.97 446.10 128.93 445.70 130.10C445.30 131.27 443.93 132.43 441.00 133.60C438.07 134.77 431.82 135.93 428.10 137.10C424.38 138.27 421.33 139.08 418.70 140.60C416.07 142.12 413.37 145.27 412.30 146.20" fill="none" stroke="#5b9bd8" stroke-width="0.75" stroke-linejoin="round" stroke-linecap="round"/>
<path d="M416.60 13.30C417.08 23.58 418.28 52.85 419.50 75.00C420.72 97.15 423.17 134.33 423.90 146.20" fill="none" stroke="#e8735a" stroke-width="0.7" stroke-dasharray="0.7 1.1"/>
</g>
<path d="M409.50 43.50h1.4M454.30 43.50h-1.4M261.10 43.50h1.3M394.00 43.50h-1.3M409.50 75.20h1.4M454.30 75.20h-1.4M261.10 75.20h1.3M394.00 75.20h-1.3M409.50 106.70h1.4M454.30 106.70h-1.4M261.10 106.70h1.3M394.00 106.70h-1.3M409.50 138.30h1.4M454.30 138.30h-1.4M261.10 138.30h1.3M394.00 138.30h-1.3M409.80 146.20v-1.4M409.80 13.20v1.4M421.10 146.20v-1.4M421.10 13.20v1.4M431.20 146.20v-1.4M431.20 13.20v1.4M441.50 146.20v-1.4M441.50 13.20v1.4M451.60 146.20v-1.4M451.60 13.20v1.4M285.40 145.80v-1.3M285.40 13.10v1.3M312.40 145.80v-1.3M312.40 13.10v1.3M339.40 145.80v-1.3M339.40 13.10v1.3M366.30 145.80v-1.3M366.30 13.10v1.3M393.30 145.80v-1.3M393.30 13.10v1.3" stroke="#444" stroke-width="0.5" fill="none"/>
<text x="473.40" y="12.10" font-size="16">C</text>
<clipPath id="cC"><rect x="486.60" y="13.10" width="133.60" height="133.20"/></clipPath><g clip-path="url(#cC)"><path d="M488.00 13.10C488.33 15.92 488.92 23.02 490.00 30.00C491.08 36.98 492.82 47.50 494.50 55.00C496.18 62.50 496.68 66.67 500.10 75.00C503.52 83.33 509.68 96.17 515.00 105.00C520.32 113.83 525.75 121.52 532.00 128.00C538.25 134.48 549.08 141.25 552.50 143.90" fill="none" stroke="#111" stroke-width="0.55" stroke-linejoin="round" stroke-linecap="round"/><path d="M552.50 143.90C555.92 141.25 566.75 134.48 573.00 128.00C579.25 121.52 584.68 113.83 590.00 105.00C595.32 96.17 601.48 83.33 604.90 75.00C608.32 66.67 608.82 62.50 610.50 55.00C612.18 47.50 613.92 36.98 615.00 30.00C616.08 23.02 616.67 15.92 617.00 13.10" fill="none" stroke="#111" stroke-width="0.55" stroke-linejoin="round" stroke-linecap="round"/>
<ellipse cx="557.80" cy="88.60" rx="11.00" ry="9.40" fill="none" stroke="#000" stroke-width="1.1"/>
<path d="M614.80 12.00C614.80 12.28 615.02 10.72 614.80 13.70C614.58 16.68 614.33 23.48 613.50 29.90C612.67 36.32 610.62 46.02 609.80 52.20C608.98 58.38 608.40 62.03 608.60 67.00C608.80 71.97 609.77 78.27 611.00 82.00C612.23 85.73 614.55 87.75 616.00 89.40C617.45 91.05 618.53 91.38 619.70 91.90C620.87 92.42 622.45 92.40 623.00 92.50" fill="none" stroke="#000" stroke-width="1.10" stroke-linejoin="round" stroke-linecap="round"/></g>
<text x="553.40" y="11.80" font-size="5.90" text-anchor="middle">Wavelet Power Spectrum</text>
<text x="483.40" y="46.00" font-size="5.10" text-anchor="end">4</text>
<text x="483.40" y="77.70" font-size="5.10" text-anchor="end">8</text>
<text x="483.40" y="109.40" font-size="5.10" text-anchor="end">16</text>
<text x="483.40" y="141.40" font-size="5.10" text-anchor="end">32</text>
<text x="511.00" y="153.50" font-size="5.10" text-anchor="middle">20</text>
<text x="538.00" y="153.50" font-size="5.10" text-anchor="middle">40</text>
<text x="565.00" y="153.50" font-size="5.10" text-anchor="middle">60</text>
<text x="592.00" y="153.50" font-size="5.10" text-anchor="middle">80</text>
<text x="619.00" y="153.50" font-size="5.10" text-anchor="middle">100</text>
<text x="553.40" y="160.50" font-size="5.90" text-anchor="middle">Time (months)</text>
<text x="0" y="0" font-size="5.9" text-anchor="middle" transform="translate(476.10 79.70) rotate(-90)">Period (months)</text>
<rect x="635.60" y="13.20" width="44.90" height="133.00" fill="#fff" stroke="#888" stroke-width="0.6"/>
<text x="658.05" y="11.20" font-size="4.70" text-anchor="middle">Global Wavelet Spectrum</text>
<text x="634.00" y="45.30" font-size="4.70" text-anchor="end">4</text>
<text x="634.00" y="77.00" font-size="4.70" text-anchor="end">8</text>
<text x="634.00" y="108.70" font-size="4.70" text-anchor="end">16</text>
<text x="634.00" y="140.70" font-size="4.70" text-anchor="end">32</text>
<text x="635.60" y="151.80" font-size="4.60" text-anchor="middle">0</text>
<text x="647.60" y="151.80" font-size="4.60" text-anchor="middle">1</text>
<text x="659.30" y="151.80" font-size="4.60" text-anchor="middle">2</text>
<text x="671.60" y="151.80" font-size="4.60" text-anchor="middle">3</text>
<text x="658.05" y="156.80" font-size="5.20" text-anchor="middle">Power</text>
<text x="670.90" y="157.60" font-size="4.3">&#215;10<tspan dy="-2" font-size="3.6">7</tspan></text>
<clipPath id="gC"><rect x="635.60" y="13.20" width="44.90" height="133.00"/></clipPath>
<g clip-path="url(#gC)">
<path d="M644.70 13.30C645.38 14.33 647.60 17.08 648.80 19.50C650.00 21.92 651.22 25.05 651.90 27.80C652.58 30.55 652.73 32.55 652.90 36.00C653.07 39.45 652.55 45.73 652.90 48.50C653.25 51.27 653.97 51.23 655.00 52.60C656.03 53.97 658.17 55.32 659.10 56.70C660.03 58.08 660.77 59.17 660.60 60.90C660.43 62.63 658.78 65.38 658.10 67.10C657.42 68.82 656.55 69.88 656.50 71.20C656.45 72.52 656.80 73.38 657.80 75.00C658.80 76.62 660.93 78.95 662.50 80.90C664.07 82.85 666.42 84.75 667.20 86.70C667.98 88.65 667.60 90.83 667.20 92.60C666.80 94.37 666.57 95.73 664.80 97.30C663.03 98.87 658.87 100.63 656.60 102.00C654.33 103.37 652.10 104.13 651.20 105.50C650.30 106.87 651.67 108.25 651.20 110.20C650.73 112.15 649.17 114.87 648.40 117.20C647.63 119.53 647.38 121.67 646.60 124.20C645.82 126.73 643.20 130.25 643.70 132.40C644.20 134.55 646.85 135.53 649.60 137.10C652.35 138.67 656.63 140.28 660.20 141.80C663.77 143.32 669.20 145.47 671.00 146.20" fill="none" stroke="#5b9bd8" stroke-width="0.75" stroke-linejoin="round" stroke-linecap="round"/>
<path d="M667.40 13.30C668.73 23.58 673.22 62.37 675.40 75.00C677.58 87.63 679.65 86.75 680.50 89.10" fill="none" stroke="#e8735a" stroke-width="0.7" stroke-dasharray="0.7 1.1"/>
</g>
<path d="M635.60 43.50h1.4M680.50 43.50h-1.4M486.60 43.50h1.3M620.20 43.50h-1.3M635.60 75.20h1.4M680.50 75.20h-1.4M486.60 75.20h1.3M620.20 75.20h-1.3M635.60 106.90h1.4M680.50 106.90h-1.4M486.60 106.90h1.3M620.20 106.90h-1.3M635.60 138.90h1.4M680.50 138.90h-1.4M486.60 138.90h1.3M620.20 138.90h-1.3M635.60 146.20v-1.4M635.60 13.20v1.4M647.60 146.20v-1.4M647.60 13.20v1.4M659.30 146.20v-1.4M659.30 13.20v1.4M671.60 146.20v-1.4M671.60 13.20v1.4M511.00 146.30v-1.3M511.00 13.10v1.3M538.00 146.30v-1.3M538.00 13.10v1.3M565.00 146.30v-1.3M565.00 13.10v1.3M592.00 146.30v-1.3M592.00 13.10v1.3M619.00 146.30v-1.3M619.00 13.10v1.3" stroke="#444" stroke-width="0.5" fill="none"/>
<text x="4.60" y="208.80" font-size="16">D</text>
<clipPath id="cD"><rect x="16.00" y="211.10" width="135.70" height="135.20"/></clipPath><g clip-path="url(#cD)"><path d="M17.30 211.10C17.55 213.17 18.22 219.18 18.80 223.50C19.38 227.82 19.98 232.50 20.80 237.00C21.62 241.50 22.75 246.00 23.70 250.50C24.65 255.00 25.38 259.52 26.50 264.00C27.62 268.48 29.15 274.07 30.40 277.40C31.65 280.73 32.75 281.75 34.00 284.00C35.25 286.25 35.92 286.77 37.90 290.90C39.88 295.03 42.58 303.50 45.90 308.80C49.22 314.10 54.17 318.73 57.80 322.70C61.43 326.67 64.67 329.88 67.70 332.60C70.73 335.32 73.55 337.05 76.00 339.00C78.45 340.95 81.33 343.42 82.40 344.30" fill="none" stroke="#111" stroke-width="0.55" stroke-linejoin="round" stroke-linecap="round"/><path d="M82.40 344.30C83.98 343.35 88.33 341.37 91.90 338.60C95.47 335.83 100.48 331.18 103.80 327.70C107.12 324.22 108.82 321.52 111.80 317.70C114.78 313.88 118.72 309.27 121.70 304.80C124.68 300.33 127.55 295.53 129.70 290.90C131.85 286.27 133.33 281.15 134.60 277.00C135.87 272.85 136.40 269.67 137.30 266.00C138.20 262.33 139.10 258.50 140.00 255.00C140.90 251.50 141.77 248.67 142.70 245.00C143.63 241.33 144.78 237.00 145.60 233.00C146.42 229.00 147.03 224.65 147.60 221.00C148.17 217.35 148.77 212.75 149.00 211.10" fill="none" stroke="#111" stroke-width="0.55" stroke-linejoin="round" stroke-linecap="round"/>
<path d="M81.80 217.00C82.72 211.43 82.50 214.93 83.00 214.30C83.50 213.67 84.22 213.20 84.80 213.20C85.38 213.20 86.03 213.67 86.50 214.30C86.97 214.93 87.20 214.75 87.60 217.00C88.00 219.25 88.35 222.68 88.90 227.80C89.45 232.92 90.40 241.42 90.90 247.70C91.40 253.98 91.07 260.87 91.90 265.50C92.73 270.13 95.03 273.92 95.90 275.50C96.77 277.08 96.40 273.40 97.10 275.00C97.80 276.60 100.27 281.92 100.10 285.10C99.93 288.28 97.43 292.10 96.10 294.10C94.77 296.10 92.43 295.58 92.10 297.10C91.77 298.62 92.10 301.68 94.10 303.20C96.10 304.72 103.10 305.20 104.10 306.20C105.10 307.20 102.78 308.37 100.10 309.20C97.42 310.03 91.35 310.87 88.00 311.20C84.65 311.53 81.60 311.53 80.00 311.20C78.40 310.87 79.67 311.22 78.40 309.20C77.13 307.18 73.58 302.80 72.40 299.10C71.22 295.40 71.12 291.60 71.30 287.00C71.48 282.40 72.47 278.05 73.50 271.50C74.53 264.95 76.12 256.78 77.50 247.70C78.88 238.62 80.88 222.57 81.80 217.00Z" fill="none" stroke="#000" stroke-width="1.10" stroke-linejoin="round" stroke-linecap="round"/>
<path d="M127.60 225.90C128.55 225.90 129.50 225.37 130.50 229.00C131.50 232.63 132.75 241.28 133.60 247.70C134.45 254.12 135.15 262.95 135.60 267.50C136.05 272.05 136.52 272.07 136.30 275.00C136.08 277.93 134.80 282.08 134.30 285.10C133.80 288.12 134.97 291.77 133.30 293.10C131.63 294.43 126.82 293.77 124.30 293.10C121.78 292.43 119.05 292.12 118.20 289.10C117.35 286.08 118.62 278.60 119.20 275.00C119.78 271.40 121.12 272.05 121.70 267.50C122.28 262.95 122.18 254.12 122.70 247.70C123.22 241.28 123.98 232.63 124.80 229.00C125.62 225.37 126.65 225.90 127.60 225.90Z" fill="none" stroke="#000" stroke-width="1.10" stroke-linejoin="round" stroke-linecap="round"/>
<ellipse cx="105.50" cy="336.80" rx="39.40" ry="8.60" fill="none" stroke="#000" stroke-width="1.1"/></g>
<text x="83.85" y="209.80" font-size="5.90" text-anchor="middle">Wavelet Power Spectrum</text>
<text x="12.80" y="244.00" font-size="5.10" text-anchor="end">4</text>
<text x="12.80" y="276.00" font-size="5.10" text-anchor="end">8</text>
<text x="12.80" y="308.00" font-size="5.10" text-anchor="end">16</text>
<text x="12.80" y="340.90" font-size="5.10" text-anchor="end">32</text>
<text x="41.50" y="353.50" font-size="5.10" text-anchor="middle">20</text>
<text x="68.00" y="353.50" font-size="5.10" text-anchor="middle">40</text>
<text x="95.00" y="353.50" font-size="5.10" text-anchor="middle">60</text>
<text x="122.00" y="353.50" font-size="5.10" text-anchor="middle">80</text>
<text x="150.00" y="353.50" font-size="5.10" text-anchor="middle">100</text>
<text x="83.85" y="360.90" font-size="5.90" text-anchor="middle">Time (months)</text>
<text x="0" y="0" font-size="5.9" text-anchor="middle" transform="translate(5.50 278.70) rotate(-90)">Period (months)</text>
<rect x="167.30" y="211.10" width="45.50" height="135.20" fill="#fff" stroke="#888" stroke-width="0.6"/>
<text x="190.05" y="209.10" font-size="4.70" text-anchor="middle">Global Wavelet Spectrum</text>
<text x="165.70" y="243.30" font-size="4.70" text-anchor="end">4</text>
<text x="165.70" y="275.30" font-size="4.70" text-anchor="end">8</text>
<text x="165.70" y="307.30" font-size="4.70" text-anchor="end">16</text>
<text x="165.70" y="340.20" font-size="4.70" text-anchor="end">32</text>
<text x="167.50" y="351.90" font-size="4.60" text-anchor="middle">0</text>
<text x="180.20" y="351.90" font-size="4.60" text-anchor="middle">2</text>
<text x="192.80" y="351.90" font-size="4.60" text-anchor="middle">4</text>
<text x="206.00" y="351.90" font-size="4.60" text-anchor="middle">6</text>
<text x="190.05" y="356.90" font-size="5.20" text-anchor="middle">Power</text>
<text x="203.20" y="357.70" font-size="4.3">&#215;10<tspan dy="-2" font-size="3.6">5</tspan></text>
<clipPath id="gD"><rect x="167.30" y="211.10" width="45.50" height="135.20"/></clipPath>
<g clip-path="url(#gD)">
<path d="M168.30 211.40C168.82 212.95 170.18 217.08 171.40 220.70C172.62 224.32 174.03 228.62 175.60 233.10C177.17 237.58 179.87 243.98 180.80 247.60C181.73 251.22 181.13 252.73 181.20 254.80C181.27 256.87 180.75 258.10 181.20 260.00C181.65 261.90 182.93 264.20 183.90 266.20C184.87 268.20 186.27 270.08 187.00 272.00C187.73 273.92 188.08 275.68 188.30 277.70C188.52 279.72 188.00 281.97 188.30 284.10C188.60 286.23 190.23 288.78 190.10 290.50C189.97 292.22 188.58 293.12 187.50 294.40C186.42 295.68 184.45 296.72 183.60 298.20C182.75 299.68 181.97 301.38 182.40 303.30C182.83 305.22 185.68 307.98 186.20 309.70C186.72 311.42 186.57 312.45 185.50 313.60C184.43 314.75 181.40 315.53 179.80 316.60C178.20 317.67 176.33 318.80 175.90 320.00C175.47 321.20 175.48 322.30 177.20 323.80C178.92 325.30 182.57 327.50 186.20 329.00C189.83 330.50 196.10 331.52 199.00 332.80C201.90 334.08 203.60 335.42 203.60 336.70C203.60 337.98 201.05 338.92 199.00 340.50C196.95 342.08 192.58 345.25 191.30 346.20" fill="none" stroke="#5b9bd8" stroke-width="0.75" stroke-linejoin="round" stroke-linecap="round"/>
<path d="M182.40 211.40C183.25 221.17 184.95 247.53 187.50 270.00C190.05 292.47 196.00 333.50 197.70 346.20" fill="none" stroke="#e8735a" stroke-width="0.7" stroke-dasharray="0.7 1.1"/>
</g>
<path d="M167.30 241.50h1.4M212.80 241.50h-1.4M16.00 241.50h1.3M151.70 241.50h-1.3M167.30 273.50h1.4M212.80 273.50h-1.4M16.00 273.50h1.3M151.70 273.50h-1.3M167.30 305.50h1.4M212.80 305.50h-1.4M16.00 305.50h1.3M151.70 305.50h-1.3M167.30 338.40h1.4M212.80 338.40h-1.4M16.00 338.40h1.3M151.70 338.40h-1.3M167.50 346.30v-1.4M167.50 211.10v1.4M180.20 346.30v-1.4M180.20 211.10v1.4M192.80 346.30v-1.4M192.80 211.10v1.4M206.00 346.30v-1.4M206.00 211.10v1.4M41.50 346.30v-1.3M41.50 211.10v1.3M68.00 346.30v-1.3M68.00 211.10v1.3M95.00 346.30v-1.3M95.00 211.10v1.3M122.00 346.30v-1.3M122.00 211.10v1.3M150.00 346.30v-1.3M150.00 211.10v1.3" stroke="#444" stroke-width="0.5" fill="none"/>
<text x="245.90" y="209.00" font-size="16">E</text>
<clipPath id="cE"><rect x="259.20" y="209.50" width="136.80" height="136.10"/></clipPath><g clip-path="url(#cE)"><path d="M265.20 209.50C265.42 211.25 265.83 214.55 266.50 220.00C267.17 225.45 267.52 234.15 269.20 242.20C270.88 250.25 273.50 260.23 276.60 268.30C279.70 276.37 283.45 283.78 287.80 290.60C292.15 297.42 298.05 303.93 302.70 309.20C307.35 314.47 311.58 318.25 315.70 322.20C319.82 326.15 325.45 331.12 327.40 332.90" fill="none" stroke="#111" stroke-width="0.55" stroke-linejoin="round" stroke-linecap="round"/><path d="M327.40 332.90C329.38 330.52 335.20 324.42 339.30 318.60C343.40 312.78 348.03 304.43 352.00 298.00C355.97 291.57 359.52 285.50 363.10 280.00C366.68 274.50 370.52 270.83 373.50 265.00C376.48 259.17 378.83 251.67 381.00 245.00C383.17 238.33 385.17 230.67 386.50 225.00C387.83 219.33 388.50 213.58 389.00 211.00C389.50 208.42 389.42 209.75 389.50 209.50" fill="none" stroke="#111" stroke-width="0.55" stroke-linejoin="round" stroke-linecap="round"/>
<path d="M400.00 264.50C399.23 264.58 397.73 264.83 395.40 265.00C393.07 265.17 389.05 264.93 386.00 265.50C382.95 266.07 379.77 266.98 377.10 268.40C374.43 269.82 371.90 271.52 370.00 274.00C368.10 276.48 367.37 280.30 365.70 283.30C364.03 286.30 361.52 289.33 360.00 292.00C358.48 294.67 356.78 296.57 356.60 299.30C356.42 302.03 356.62 306.12 358.90 308.40C361.18 310.68 365.95 312.20 370.30 313.00C374.65 313.80 380.82 313.20 385.00 313.20C389.18 313.20 392.90 313.03 395.40 313.00C397.90 312.97 399.23 313.00 400.00 313.00" fill="none" stroke="#000" stroke-width="1.10" stroke-linejoin="round" stroke-linecap="round"/></g>
<text x="327.60" y="208.20" font-size="5.90" text-anchor="middle">Wavelet Power Spectrum</text>
<text x="256.00" y="248.70" font-size="5.10" text-anchor="end">4</text>
<text x="256.00" y="287.70" font-size="5.10" text-anchor="end">8</text>
<text x="256.00" y="327.10" font-size="5.10" text-anchor="end">16</text>
<text x="281.20" y="352.80" font-size="5.10" text-anchor="middle">10</text>
<text x="307.90" y="352.80" font-size="5.10" text-anchor="middle">20</text>
<text x="334.50" y="352.80" font-size="5.10" text-anchor="middle">30</text>
<text x="361.70" y="352.80" font-size="5.10" text-anchor="middle">40</text>
<text x="388.30" y="352.80" font-size="5.10" text-anchor="middle">50</text>
<text x="327.60" y="359.20" font-size="5.90" text-anchor="middle">Time (months)</text>
<text x="0" y="0" font-size="5.9" text-anchor="middle" transform="translate(248.70 277.55) rotate(-90)">Period (months)</text>
<rect x="411.50" y="209.50" width="46.00" height="135.80" fill="#fff" stroke="#888" stroke-width="0.6"/>
<text x="434.50" y="207.50" font-size="4.70" text-anchor="middle">Global Wavelet Spectrum</text>
<text x="409.90" y="248.00" font-size="4.70" text-anchor="end">4</text>
<text x="409.90" y="287.00" font-size="4.70" text-anchor="end">8</text>
<text x="409.90" y="326.40" font-size="4.70" text-anchor="end">16</text>
<text x="411.50" y="350.90" font-size="4.60" text-anchor="middle">0</text>
<text x="427.60" y="350.90" font-size="4.60" text-anchor="middle">500</text>
<text x="444.00" y="350.90" font-size="4.60" text-anchor="middle">1000</text>
<text x="434.50" y="355.90" font-size="5.20" text-anchor="middle">Power</text>
<clipPath id="gE"><rect x="411.50" y="209.50" width="46.00" height="135.80"/></clipPath>
<g clip-path="url(#gE)">
<path d="M412.10 209.30C412.37 211.42 413.33 216.20 413.70 222.00C414.07 227.80 414.08 238.22 414.30 244.10C414.52 249.98 414.08 254.00 415.00 257.30C415.92 260.60 417.90 261.70 419.80 263.90C421.70 266.10 424.15 267.78 426.40 270.50C428.65 273.22 430.88 277.30 433.30 280.20C435.72 283.10 438.68 285.55 440.90 287.90C443.12 290.25 445.40 292.38 446.60 294.30C447.80 296.22 448.18 297.70 448.10 299.40C448.02 301.10 447.72 302.58 446.10 304.50C444.48 306.42 441.18 308.77 438.40 310.90C435.62 313.03 432.38 315.37 429.40 317.30C426.42 319.23 423.05 320.78 420.50 322.50C417.95 324.22 415.47 325.68 414.10 327.60C412.73 329.52 412.08 331.87 412.30 334.00C412.52 336.13 413.95 338.57 415.40 340.40C416.85 342.23 420.07 344.23 421.00 345.00" fill="none" stroke="#5b9bd8" stroke-width="0.75" stroke-linejoin="round" stroke-linecap="round"/>
<path d="M439.20 209.30C440.55 219.42 444.37 252.20 447.30 270.00C450.23 287.80 455.22 308.42 456.80 316.10" fill="none" stroke="#e8735a" stroke-width="0.7" stroke-dasharray="0.7 1.1"/>
</g>
<path d="M411.50 246.20h1.4M457.50 246.20h-1.4M259.20 246.20h1.3M396.00 246.20h-1.3M411.50 285.20h1.4M457.50 285.20h-1.4M259.20 285.20h1.3M396.00 285.20h-1.3M411.50 324.60h1.4M457.50 324.60h-1.4M259.20 324.60h1.3M396.00 324.60h-1.3M411.50 345.30v-1.4M411.50 209.50v1.4M427.60 345.30v-1.4M427.60 209.50v1.4M444.00 345.30v-1.4M444.00 209.50v1.4M281.20 345.60v-1.3M281.20 209.50v1.3M307.90 345.60v-1.3M307.90 209.50v1.3M334.50 345.60v-1.3M334.50 209.50v1.3M361.70 345.60v-1.3M361.70 209.50v1.3M388.30 345.60v-1.3M388.30 209.50v1.3" stroke="#444" stroke-width="0.5" fill="none"/>
</svg></div>
</body></html>
